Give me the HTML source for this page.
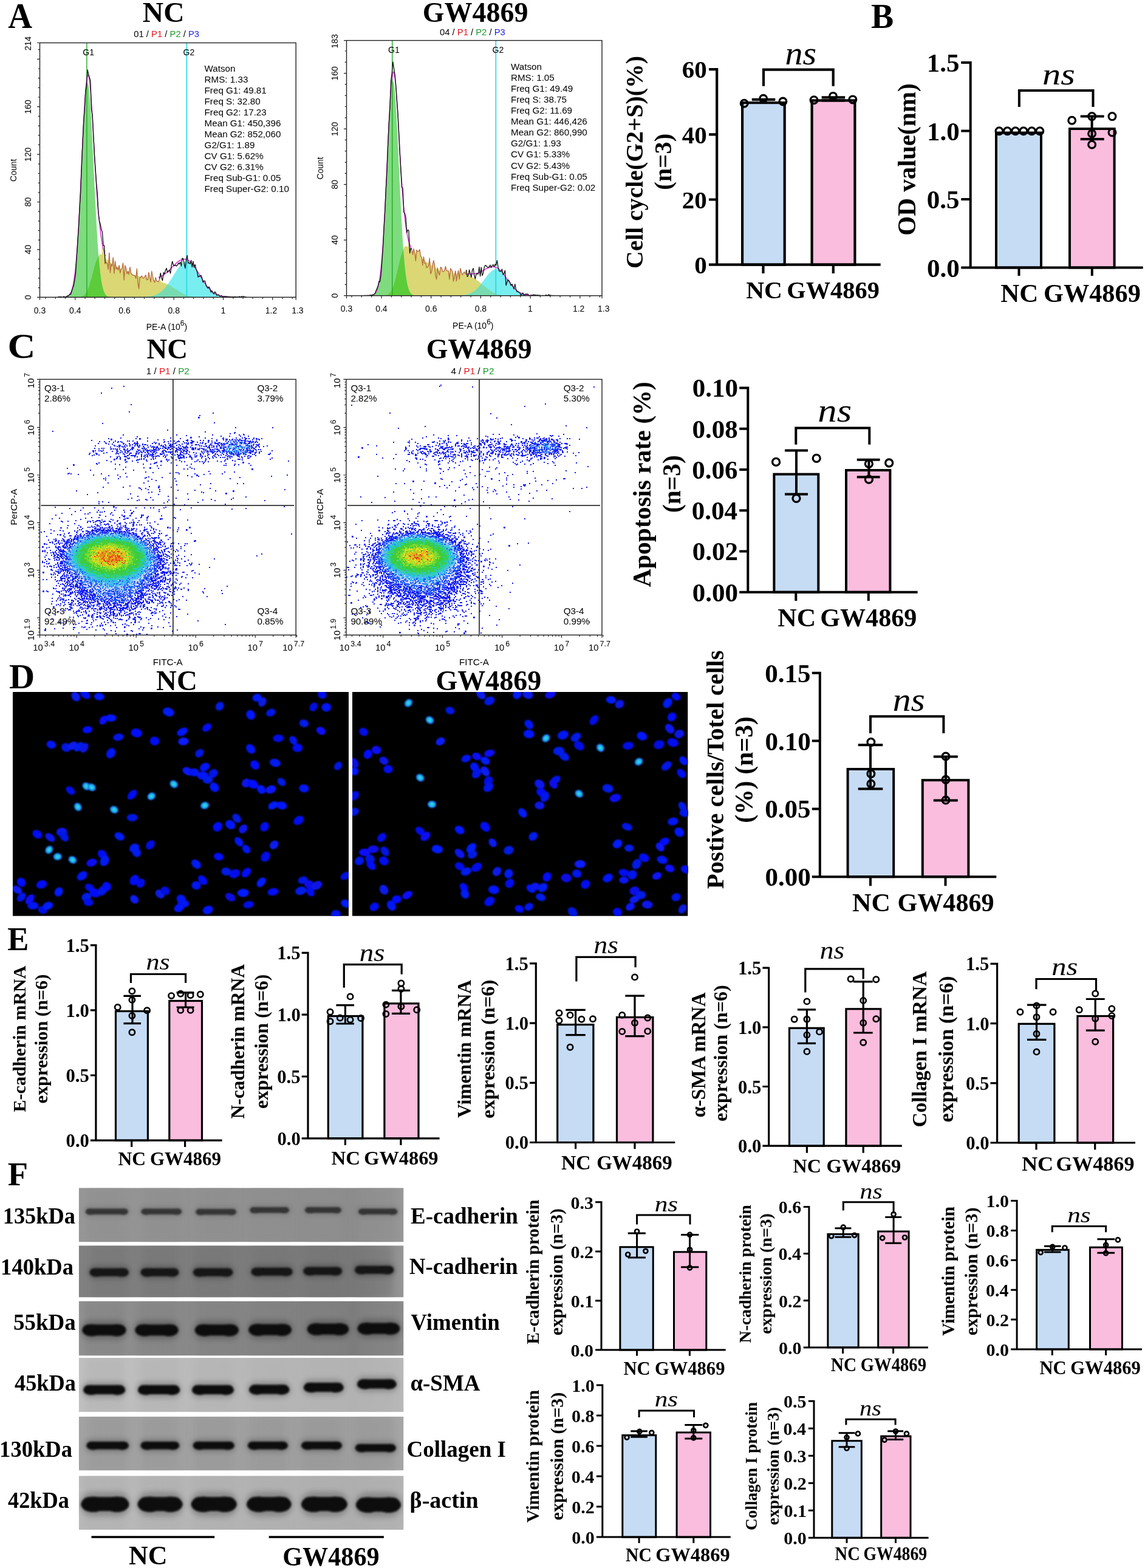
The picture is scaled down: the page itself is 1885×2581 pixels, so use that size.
<!DOCTYPE html>
<html><head><meta charset="utf-8"><title>Figure</title>
<style>html,body{margin:0;padding:0;background:#fff;overflow:hidden}svg{display:block}</style>
</head><body>
<svg width="1885" height="2581" viewBox="0 0 1885 2581">
<rect width="1885" height="2581" fill="#fff"/>
<text x="13.2" y="46.4" style='font-family:"Liberation Serif", serif;font-size:59px;font-weight:bold' textLength="39.8" lengthAdjust="spacingAndGlyphs">A</text>
<text x="1433.9" y="46" style='font-family:"Liberation Serif", serif;font-size:57px;font-weight:bold' textLength="37.2" lengthAdjust="spacingAndGlyphs">B</text>
<text x="12.5" y="588.8" style='font-family:"Liberation Serif", serif;font-size:56px;font-weight:bold' textLength="45.9" lengthAdjust="spacingAndGlyphs">C</text>
<text x="14.9" y="1132.7" style='font-family:"Liberation Serif", serif;font-size:56px;font-weight:bold' textLength="42.2" lengthAdjust="spacingAndGlyphs">D</text>
<text x="12.3" y="1563.7" style='font-family:"Liberation Serif", serif;font-size:54px;font-weight:bold' textLength="35.2" lengthAdjust="spacingAndGlyphs">E</text>
<text x="12.8" y="1950.8" style='font-family:"Liberation Serif", serif;font-size:54px;font-weight:bold' textLength="33.3" lengthAdjust="spacingAndGlyphs">F</text>
<text x="257.1" y="1135.5" style='font-family:"Liberation Serif", serif;font-size:46px;font-weight:bold' textLength="67.7" lengthAdjust="spacingAndGlyphs">NC</text>
<text x="717.5" y="1135.5" style='font-family:"Liberation Serif", serif;font-size:46px;font-weight:bold'>GW4869</text>
<clipPath id="hclip3"><rect x="65.5" y="70.5" width="421.7" height="418.8"/></clipPath>
<g clip-path="url(#hclip3)">
<path d="M83.1,489.3 L84.1,489.3 L85.2,489.3 L86.2,489.3 L87.2,489.3 L88.2,489.3 L89.2,489.3 L90.2,489.3 L91.2,489.3 L92.3,489.3 L93.3,489.3 L94.3,489.3 L95.3,489.3 L96.3,489.3 L97.3,489.3 L98.4,489.3 L99.4,489.3 L100.4,489.3 L101.4,489.3 L102.4,489.3 L103.4,489.3 L104.5,489.3 L105.5,489.3 L106.5,489.3 L107.5,489.3 L108.5,489.3 L109.5,489.3 L110.5,489.3 L111.6,489.3 L112.6,489.3 L113.6,489.3 L114.6,489.3 L115.6,489.3 L116.6,489.3 L117.7,489.3 L118.7,489.3 L119.7,489.3 L120.7,489.3 L121.7,489.3 L122.7,489.3 L123.8,489.3 L124.8,489.3 L125.8,489.3 L126.8,489.2 L127.8,489.2 L128.8,489.2 L129.8,489.1 L130.9,489 L131.9,488.9 L132.9,488.7 L133.9,488.4 L134.9,488.1 L135.9,487.6 L137,487.1 L138,486.4 L139,485.5 L140,484.4 L141,483.1 L142,481.5 L143,479.7 L144.1,477.5 L145.1,475.1 L146.1,472.4 L147.1,469.5 L148.1,466.3 L149.1,462.8 L150.2,459.2 L151.2,455.5 L152.2,451.7 L153.2,447.9 L154.2,444.1 L155.2,440.5 L156.2,437 L157.3,433.7 L158.3,430.6 L159.3,427.9 L160.3,425.4 L161.3,423.1 L162.3,421.2 L163.4,419.6 L164.4,418.2 L165.4,418.4 L166.4,418.9 L167.4,419.6 L168.4,400 L169.5,418.3 L170.5,415 L171.5,412.4 L172.5,410.4 L173.5,425.7 L174.5,426.5 L175.5,427.2 L176.6,428 L177.6,428.8 L178.6,429.6 L179.6,416.7 L180.6,416.5 L181.6,432 L182.7,432.8 L183.7,433.6 L184.7,434.4 L185.7,423.9 L186.7,423.8 L187.7,436.2 L188.8,436.8 L189.8,429.9 L190.8,437.9 L191.8,438.5 L192.8,439.1 L193.8,439.7 L194.8,440.3 L195.9,436.8 L196.9,436.8 L197.9,442.1 L198.9,442.7 L199.9,443.2 L200.9,441.6 L202,433.1 L203,433.1 L204,445.6 L205,446.2 L206,437 L207,441.2 L208,441.2 L209.1,447.7 L210.1,446.5 L211.1,446.5 L212.1,448.9 L213.1,449.3 L214.1,439.7 L215.2,449 L216.2,449 L217.2,450.9 L218.2,451.3 L219.2,451.7 L220.2,452.1 L221.2,452.5 L222.3,452.8 L223.3,453.2 L224.3,453.6 L225.3,442.3 L226.3,454.3 L227.3,454.6 L228.4,454.9 L229.4,455.2 L230.4,455.5 L231.4,455.8 L232.4,456.1 L233.4,454.3 L234.5,456.7 L235.5,457 L236.5,457.3 L237.5,457.5 L238.5,456 L239.5,453 L240.5,453 L241.6,458.7 L242.6,459 L243.6,459.3 L244.6,449.3 L245.6,449.4 L246.6,457.3 L247.7,460.3 L248.7,460.5 L249.7,448.3 L250.7,456.7 L251.7,457 L252.7,461.3 L253.7,461.5 L254.8,461.7 L255.8,460.3 L256.8,460.7 L257.8,462.4 L258.8,462.6 L259.8,462.8 L260.9,463.1 L261.9,463.3 L262.9,463.6 L263.9,457.4 L264.9,464.1 L265.9,464.4 L267,464.7 L268,465 L269,465.3 L270,465.7 L271,466 L272,466.4 L273,466.8 L274.1,467.2 L275.1,467.7 L276.1,468.1 L277.1,468.6 L278.1,469.1 L279.1,469.6 L280.2,470.2 L281.2,470.7 L282.2,471.3 L283.2,471.9 L284.2,472.6 L285.2,473.2 L286.2,473.9 L287.3,474.5 L288.3,475.2 L289.3,475.8 L290.3,476.5 L291.3,477.2 L292.3,477.8 L293.4,478.5 L294.4,479.2 L295.4,479.8 L296.4,480.5 L297.4,481.1 L298.4,481.7 L299.5,482.3 L300.5,482.9 L301.5,483.4 L302.5,483.9 L303.5,484.4 L304.5,484.9 L305.5,485.3 L306.6,485.7 L307.6,486.1 L308.6,486.4 L309.6,486.8 L310.6,487.1 L311.6,487.3 L312.7,487.5 L313.7,487.8 L314.7,487.9 L315.7,488.1 L316.7,488.3 L317.7,488.4 L318.7,488.5 L319.8,488.6 L320.8,488.7 L321.8,488.8 L322.8,488.9 L323.8,489 L324.8,489 L325.9,489.1 L326.9,489.1 L327.9,489.1 L328.9,489.2 L329.9,489.2 L330.9,489.2 L332,489.2 L333,489.2 L334,489.3 L335,489.3 L336,489.3 L337,489.3 L338,489.3 L339.1,489.3 L340.1,489.3 L341.1,489.3 L342.1,489.3 L343.1,489.3 L344.1,489.3 L345.2,489.3 L346.2,489.3 L347.2,489.3 L348.2,489.3 L349.2,489.3 L350.2,489.3 L351.2,489.3 L352.3,489.3 L353.3,489.3 L354.3,489.3 L355.3,489.3 L356.3,489.3 L357.3,489.3 L358.4,489.3 L359.4,489.3 L360.4,489.3 L361.4,489.3 L362.4,489.3 L363.4,489.3 L364.5,489.3 L365.5,489.3 L366.5,489.3 L367.5,489.3 L368.5,489.3 L369.5,489.3 L370.5,489.3 L371.6,489.3 L372.6,489.3 L373.6,489.3 L374.6,489.3 L375.6,489.3 L376.6,489.3 L377.7,489.3 L378.7,489.3 L379.7,489.3 L380.7,489.3 L381.7,489.3 L382.7,489.3 L383.8,489.3 L384.8,489.3 L385.8,489.3 L386.8,489.3 L387.8,489.3 L388.8,489.3 L389.8,489.3 L390.9,489.3 L391.9,489.3 L392.9,489.3 L393.9,489.3 L394.9,489.3 L395.9,489.3 L397,489.3 L398,489.3 L399,489.3 L400,489.3 L401,489.3 L402,489.3 L403,489.3 L404.1,489.3 L405.1,489.3 L406.1,489.3 L407.1,489.3 L408.1,489.3 L409.1,489.3 L410.2,489.3 L411.2,489.3 L412.2,489.3 L413.2,489.3 L414.2,489.3 L415.2,489.3 L415.2,489.3 L83.1,489.3 Z" fill="#dad774"/>
<path d="M83.1,489.3 L84.1,489.3 L85.2,489.3 L86.2,489.3 L87.2,489.3 L88.2,489.3 L89.2,489.3 L90.2,489.3 L91.2,489.3 L92.3,489.3 L93.3,489.3 L94.3,489.3 L95.3,489.3 L96.3,489.3 L97.3,489.3 L98.4,489.3 L99.4,489.3 L100.4,489.3 L101.4,489.3 L102.4,489.3 L103.4,489.3 L104.5,489.3 L105.5,489.3 L106.5,489.3 L107.5,489.3 L108.5,489.3 L109.5,489.3 L110.5,489.3 L111.6,489.3 L112.6,489.3 L113.6,489.3 L114.6,489.3 L115.6,489.3 L116.6,489.3 L117.7,489.3 L118.7,489.3 L119.7,489.3 L120.7,489.3 L121.7,489.3 L122.7,489.3 L123.8,489.3 L124.8,489.3 L125.8,489.3 L126.8,489.3 L127.8,489.3 L128.8,489.3 L129.8,489.3 L130.9,489.3 L131.9,489.3 L132.9,489.3 L133.9,489.3 L134.9,489.3 L135.9,489.3 L137,489.3 L138,489.3 L139,489.3 L140,489.3 L141,489.3 L142,489.3 L143,489.3 L144.1,489.3 L145.1,489.3 L146.1,489.3 L147.1,489.3 L148.1,489.3 L149.1,489.3 L150.2,489.3 L151.2,489.3 L152.2,489.3 L153.2,489.3 L154.2,489.3 L155.2,489.3 L156.2,489.3 L157.3,489.3 L158.3,489.3 L159.3,489.3 L160.3,489.3 L161.3,489.3 L162.3,489.3 L163.4,489.3 L164.4,489.3 L165.4,489.3 L166.4,489.3 L167.4,489.3 L168.4,489.3 L169.5,489.3 L170.5,489.3 L171.5,489.3 L172.5,489.3 L173.5,489.3 L174.5,489.3 L175.5,489.3 L176.6,489.3 L177.6,489.3 L178.6,489.3 L179.6,489.3 L180.6,489.3 L181.6,489.3 L182.7,489.3 L183.7,489.3 L184.7,489.3 L185.7,489.3 L186.7,489.3 L187.7,489.3 L188.8,489.3 L189.8,489.3 L190.8,489.3 L191.8,489.3 L192.8,489.3 L193.8,489.3 L194.8,489.3 L195.9,489.3 L196.9,489.3 L197.9,489.3 L198.9,489.3 L199.9,489.3 L200.9,489.3 L202,489.3 L203,489.3 L204,489.3 L205,489.3 L206,489.3 L207,489.3 L208,489.3 L209.1,489.3 L210.1,489.3 L211.1,489.3 L212.1,489.3 L213.1,489.3 L214.1,489.3 L215.2,489.3 L216.2,489.3 L217.2,489.3 L218.2,489.3 L219.2,489.3 L220.2,489.3 L221.2,489.3 L222.3,489.3 L223.3,489.3 L224.3,489.3 L225.3,489.2 L226.3,489.2 L227.3,489.2 L228.4,489.2 L229.4,489.2 L230.4,489.2 L231.4,489.2 L232.4,489.1 L233.4,489.1 L234.5,489.1 L235.5,489 L236.5,489 L237.5,488.9 L238.5,488.9 L239.5,488.8 L240.5,488.8 L241.6,488.7 L242.6,488.6 L243.6,488.5 L244.6,488.3 L245.6,488.2 L246.6,488.1 L247.7,487.9 L248.7,487.7 L249.7,487.5 L250.7,487.3 L251.7,487 L252.7,486.7 L253.7,486.4 L254.8,486.1 L255.8,485.7 L256.8,485.3 L257.8,484.8 L258.8,484.3 L259.8,483.8 L260.9,483.2 L261.9,482.6 L262.9,481.9 L263.9,481.2 L264.9,480.4 L265.9,479.6 L267,478.7 L268,477.7 L269,476.7 L270,475.7 L271,474.6 L272,473.4 L273,472.2 L274.1,470.9 L275.1,469.6 L276.1,468.2 L277.1,466.8 L278.1,465.3 L279.1,463.8 L280.2,462.2 L281.2,460.6 L282.2,459 L283.2,457.4 L284.2,455.8 L285.2,454.1 L286.2,452.4 L287.3,450.8 L288.3,449.2 L289.3,447.5 L290.3,445.9 L291.3,444.4 L292.3,442.9 L293.4,441.4 L294.4,440 L295.4,438.7 L296.4,437.5 L297.4,436.3 L298.4,435.2 L299.5,434.2 L300.5,433.4 L301.5,432.6 L302.5,431.9 L303.5,431.4 L304.5,431 L305.5,430.7 L306.6,430.5 L307.6,430.5 L308.6,430.6 L309.6,430.8 L310.6,431.1 L311.6,431.6 L312.7,432.2 L313.7,432.9 L314.7,433.7 L315.7,434.6 L316.7,435.6 L317.7,436.7 L318.7,437.9 L319.8,439.2 L320.8,440.6 L321.8,442 L322.8,443.5 L323.8,445 L324.8,446.6 L325.9,448.2 L326.9,449.8 L327.9,451.5 L328.9,453.1 L329.9,454.8 L330.9,456.4 L332,458.1 L333,459.7 L334,461.3 L335,462.8 L336,464.4 L337,465.9 L338,467.3 L339.1,468.7 L340.1,470.1 L341.1,471.4 L342.1,472.7 L343.1,473.9 L344.1,475 L345.2,476.1 L346.2,477.1 L347.2,478.1 L348.2,479 L349.2,479.9 L350.2,480.7 L351.2,481.5 L352.3,482.2 L353.3,482.8 L354.3,483.4 L355.3,484 L356.3,484.5 L357.3,485 L358.4,485.4 L359.4,485.8 L360.4,486.2 L361.4,486.5 L362.4,486.8 L363.4,487.1 L364.5,487.4 L365.5,487.6 L366.5,487.8 L367.5,488 L368.5,488.1 L369.5,488.3 L370.5,488.4 L371.6,488.5 L372.6,488.6 L373.6,488.7 L374.6,488.8 L375.6,488.9 L376.6,488.9 L377.7,489 L378.7,489 L379.7,489.1 L380.7,489.1 L381.7,489.1 L382.7,489.1 L383.8,489.2 L384.8,489.2 L385.8,489.2 L386.8,489.2 L387.8,489.2 L388.8,489.2 L389.8,489.3 L390.9,489.3 L391.9,489.3 L392.9,489.3 L393.9,489.3 L394.9,489.3 L395.9,489.3 L397,489.3 L398,489.3 L399,489.3 L400,489.3 L401,489.3 L402,489.3 L403,489.3 L404.1,489.3 L405.1,489.3 L406.1,489.3 L407.1,489.3 L408.1,489.3 L409.1,489.3 L410.2,489.3 L411.2,489.3 L412.2,489.3 L413.2,489.3 L414.2,489.3 L415.2,489.3 L415.2,489.3 L83.1,489.3 Z" fill="#78eef0"/>
<path d="M83.1,489.3 L84.1,489.3 L85.2,489.3 L86.2,489.3 L87.2,489.3 L88.2,489.3 L89.2,489.3 L90.2,489.3 L91.2,489.3 L92.3,489.3 L93.3,489.3 L94.3,489.3 L95.3,489.3 L96.3,489.3 L97.3,489.3 L98.4,489.3 L99.4,489.3 L100.4,489.3 L101.4,489.3 L102.4,489.3 L103.4,489.3 L104.5,489.3 L105.5,489.3 L106.5,489.3 L107.5,489.3 L108.5,489.3 L109.5,489.3 L110.5,489.3 L111.6,489.3 L112.6,489.3 L113.6,489.3 L114.6,489.3 L115.6,489.3 L116.6,489.3 L117.7,489.3 L118.7,489.3 L119.7,489.3 L120.7,489.3 L121.7,489.3 L122.7,489.3 L123.8,489.3 L124.8,489.3 L125.8,489.3 L126.8,489.3 L127.8,489.3 L128.8,489.3 L129.8,489.3 L130.9,489.3 L131.9,489.3 L132.9,489.3 L133.9,489.3 L134.9,489.3 L135.9,489.3 L137,489.3 L138,489.3 L139,489.3 L140,489.3 L141,489.3 L142,489.3 L143,489.3 L144.1,489.3 L145.1,489.3 L146.1,489.3 L147.1,489.3 L148.1,489.3 L149.1,489.3 L150.2,489.3 L151.2,489.3 L152.2,489.3 L153.2,489.3 L154.2,489.3 L155.2,489.3 L156.2,489.3 L157.3,489.3 L158.3,489.3 L159.3,489.3 L160.3,489.3 L161.3,489.3 L162.3,489.3 L163.4,489.3 L164.4,489.3 L165.4,489.3 L166.4,489.3 L167.4,489.3 L168.4,489.3 L169.5,489.3 L170.5,489.3 L171.5,489.3 L172.5,489.3 L173.5,489.3 L174.5,489.3 L175.5,489.3 L176.6,489.3 L177.6,489.3 L178.6,489.3 L179.6,489.3 L180.6,489.3 L181.6,489.3 L182.7,489.3 L183.7,489.3 L184.7,489.3 L185.7,489.3 L186.7,489.3 L187.7,489.3 L188.8,489.3 L189.8,489.3 L190.8,489.3 L191.8,489.3 L192.8,489.3 L193.8,489.3 L194.8,489.3 L195.9,489.3 L196.9,489.3 L197.9,489.3 L198.9,489.3 L199.9,489.3 L200.9,489.3 L202,489.3 L203,489.3 L204,489.3 L205,489.3 L206,489.3 L207,489.3 L208,489.3 L209.1,489.3 L210.1,489.3 L211.1,489.3 L212.1,489.3 L213.1,489.3 L214.1,489.3 L215.2,489.3 L216.2,489.3 L217.2,489.3 L218.2,489.3 L219.2,489.3 L220.2,489.3 L221.2,489.3 L222.3,489.3 L223.3,489.3 L224.3,489.3 L225.3,489.2 L226.3,489.2 L227.3,489.2 L228.4,489.2 L229.4,489.2 L230.4,489.2 L231.4,489.2 L232.4,489.1 L233.4,489.1 L234.5,489.1 L235.5,489 L236.5,489 L237.5,488.9 L238.5,488.9 L239.5,488.8 L240.5,488.8 L241.6,488.7 L242.6,488.6 L243.6,488.5 L244.6,488.3 L245.6,488.2 L246.6,488.1 L247.7,487.9 L248.7,487.7 L249.7,487.5 L250.7,487.3 L251.7,487 L252.7,486.7 L253.7,486.4 L254.8,486.1 L255.8,485.7 L256.8,485.3 L257.8,484.8 L258.8,484.3 L259.8,483.8 L260.9,483.2 L261.9,482.6 L262.9,481.9 L263.9,481.2 L264.9,480.4 L265.9,479.6 L267,478.7 L268,477.7 L269,476.7 L270,475.7 L271,474.6 L272,473.4 L273,472.2 L274.1,470.9 L275.1,469.6 L276.1,468.2 L277.1,468.6 L278.1,469.1 L279.1,469.6 L280.2,470.2 L281.2,470.7 L282.2,471.3 L283.2,471.9 L284.2,472.6 L285.2,473.2 L286.2,473.9 L287.3,474.5 L288.3,475.2 L289.3,475.8 L290.3,476.5 L291.3,477.2 L292.3,477.8 L293.4,478.5 L294.4,479.2 L295.4,479.8 L296.4,480.5 L297.4,481.1 L298.4,481.7 L299.5,482.3 L300.5,482.9 L301.5,483.4 L302.5,483.9 L303.5,484.4 L304.5,484.9 L305.5,485.3 L306.6,485.7 L307.6,486.1 L308.6,486.4 L309.6,486.8 L310.6,487.1 L311.6,487.3 L312.7,487.5 L313.7,487.8 L314.7,487.9 L315.7,488.1 L316.7,488.3 L317.7,488.4 L318.7,488.5 L319.8,488.6 L320.8,488.7 L321.8,488.8 L322.8,488.9 L323.8,489 L324.8,489 L325.9,489.1 L326.9,489.1 L327.9,489.1 L328.9,489.2 L329.9,489.2 L330.9,489.2 L332,489.2 L333,489.2 L334,489.3 L335,489.3 L336,489.3 L337,489.3 L338,489.3 L339.1,489.3 L340.1,489.3 L341.1,489.3 L342.1,489.3 L343.1,489.3 L344.1,489.3 L345.2,489.3 L346.2,489.3 L347.2,489.3 L348.2,489.3 L349.2,489.3 L350.2,489.3 L351.2,489.3 L352.3,489.3 L353.3,489.3 L354.3,489.3 L355.3,489.3 L356.3,489.3 L357.3,489.3 L358.4,489.3 L359.4,489.3 L360.4,489.3 L361.4,489.3 L362.4,489.3 L363.4,489.3 L364.5,489.3 L365.5,489.3 L366.5,489.3 L367.5,489.3 L368.5,489.3 L369.5,489.3 L370.5,489.3 L371.6,489.3 L372.6,489.3 L373.6,489.3 L374.6,489.3 L375.6,489.3 L376.6,489.3 L377.7,489.3 L378.7,489.3 L379.7,489.3 L380.7,489.3 L381.7,489.3 L382.7,489.3 L383.8,489.3 L384.8,489.3 L385.8,489.3 L386.8,489.3 L387.8,489.3 L388.8,489.3 L389.8,489.3 L390.9,489.3 L391.9,489.3 L392.9,489.3 L393.9,489.3 L394.9,489.3 L395.9,489.3 L397,489.3 L398,489.3 L399,489.3 L400,489.3 L401,489.3 L402,489.3 L403,489.3 L404.1,489.3 L405.1,489.3 L406.1,489.3 L407.1,489.3 L408.1,489.3 L409.1,489.3 L410.2,489.3 L411.2,489.3 L412.2,489.3 L413.2,489.3 L414.2,489.3 L415.2,489.3 L415.2,489.3 L83.1,489.3 Z" fill="#78dcb0"/>
<path d="M83.1,489.3 L84.1,489.3 L85.2,489.3 L86.2,489.3 L87.2,489.3 L88.2,489.3 L89.2,489.3 L90.2,489.3 L91.2,489.3 L92.3,489.3 L93.3,489.3 L94.3,489.3 L95.3,489.3 L96.3,489.3 L97.3,489.3 L98.4,489.3 L99.4,489.3 L100.4,489.3 L101.4,489.3 L102.4,489.2 L103.4,489.2 L104.5,489.2 L105.5,489.1 L106.5,489 L107.5,488.9 L108.5,488.7 L109.5,488.5 L110.5,488.1 L111.6,487.7 L112.6,487 L113.6,486.2 L114.6,485.1 L115.6,483.6 L116.6,481.7 L117.7,479.3 L118.7,476.2 L119.7,472.4 L120.7,467.7 L121.7,461.9 L122.7,455 L123.8,446.8 L124.8,437.1 L125.8,425.9 L126.8,413.1 L127.8,398.7 L128.8,382.7 L129.8,365.1 L130.9,346.1 L131.9,325.9 L132.9,304.8 L133.9,283.2 L134.9,261.4 L135.9,239.9 L137,219.1 L138,199.7 L139,182.2 L140,166.9 L141,154.4 L142,145 L143,139 L144.1,136.5 L145.1,137.8 L146.1,142.7 L147.1,151 L148.1,162.6 L149.1,177 L150.2,193.9 L151.2,212.8 L152.2,233.1 L153.2,254.4 L154.2,276.2 L155.2,297.9 L156.2,319.3 L157.3,339.8 L158.3,359.2 L159.3,377.2 L160.3,393.8 L161.3,408.7 L162.3,422 L163.4,433.7 L164.4,443.8 L165.4,452.5 L166.4,459.9 L167.4,466 L168.4,471 L169.5,475.1 L170.5,478.4 L171.5,481 L172.5,483.1 L173.5,484.7 L174.5,485.9 L175.5,486.8 L176.6,487.5 L177.6,488 L178.6,488.4 L179.6,488.7 L180.6,488.9 L181.6,489 L182.7,489.1 L183.7,489.2 L184.7,489.2 L185.7,489.2 L186.7,489.3 L187.7,489.3 L188.8,489.3 L189.8,489.3 L190.8,489.3 L191.8,489.3 L192.8,489.3 L193.8,489.3 L194.8,489.3 L195.9,489.3 L196.9,489.3 L197.9,489.3 L198.9,489.3 L199.9,489.3 L200.9,489.3 L202,489.3 L203,489.3 L204,489.3 L205,489.3 L206,489.3 L207,489.3 L208,489.3 L209.1,489.3 L210.1,489.3 L211.1,489.3 L212.1,489.3 L213.1,489.3 L214.1,489.3 L215.2,489.3 L216.2,489.3 L217.2,489.3 L218.2,489.3 L219.2,489.3 L220.2,489.3 L221.2,489.3 L222.3,489.3 L223.3,489.3 L224.3,489.3 L225.3,489.3 L226.3,489.3 L227.3,489.3 L228.4,489.3 L229.4,489.3 L230.4,489.3 L231.4,489.3 L232.4,489.3 L233.4,489.3 L234.5,489.3 L235.5,489.3 L236.5,489.3 L237.5,489.3 L238.5,489.3 L239.5,489.3 L240.5,489.3 L241.6,489.3 L242.6,489.3 L243.6,489.3 L244.6,489.3 L245.6,489.3 L246.6,489.3 L247.7,489.3 L248.7,489.3 L249.7,489.3 L250.7,489.3 L251.7,489.3 L252.7,489.3 L253.7,489.3 L254.8,489.3 L255.8,489.3 L256.8,489.3 L257.8,489.3 L258.8,489.3 L259.8,489.3 L260.9,489.3 L261.9,489.3 L262.9,489.3 L263.9,489.3 L264.9,489.3 L265.9,489.3 L267,489.3 L268,489.3 L269,489.3 L270,489.3 L271,489.3 L272,489.3 L273,489.3 L274.1,489.3 L275.1,489.3 L276.1,489.3 L277.1,489.3 L278.1,489.3 L279.1,489.3 L280.2,489.3 L281.2,489.3 L282.2,489.3 L283.2,489.3 L284.2,489.3 L285.2,489.3 L286.2,489.3 L287.3,489.3 L288.3,489.3 L289.3,489.3 L290.3,489.3 L291.3,489.3 L292.3,489.3 L293.4,489.3 L294.4,489.3 L295.4,489.3 L296.4,489.3 L297.4,489.3 L298.4,489.3 L299.5,489.3 L300.5,489.3 L301.5,489.3 L302.5,489.3 L303.5,489.3 L304.5,489.3 L305.5,489.3 L306.6,489.3 L307.6,489.3 L308.6,489.3 L309.6,489.3 L310.6,489.3 L311.6,489.3 L312.7,489.3 L313.7,489.3 L314.7,489.3 L315.7,489.3 L316.7,489.3 L317.7,489.3 L318.7,489.3 L319.8,489.3 L320.8,489.3 L321.8,489.3 L322.8,489.3 L323.8,489.3 L324.8,489.3 L325.9,489.3 L326.9,489.3 L327.9,489.3 L328.9,489.3 L329.9,489.3 L330.9,489.3 L332,489.3 L333,489.3 L334,489.3 L335,489.3 L336,489.3 L337,489.3 L338,489.3 L339.1,489.3 L340.1,489.3 L341.1,489.3 L342.1,489.3 L343.1,489.3 L344.1,489.3 L345.2,489.3 L346.2,489.3 L347.2,489.3 L348.2,489.3 L349.2,489.3 L350.2,489.3 L351.2,489.3 L352.3,489.3 L353.3,489.3 L354.3,489.3 L355.3,489.3 L356.3,489.3 L357.3,489.3 L358.4,489.3 L359.4,489.3 L360.4,489.3 L361.4,489.3 L362.4,489.3 L363.4,489.3 L364.5,489.3 L365.5,489.3 L366.5,489.3 L367.5,489.3 L368.5,489.3 L369.5,489.3 L370.5,489.3 L371.6,489.3 L372.6,489.3 L373.6,489.3 L374.6,489.3 L375.6,489.3 L376.6,489.3 L377.7,489.3 L378.7,489.3 L379.7,489.3 L380.7,489.3 L381.7,489.3 L382.7,489.3 L383.8,489.3 L384.8,489.3 L385.8,489.3 L386.8,489.3 L387.8,489.3 L388.8,489.3 L389.8,489.3 L390.9,489.3 L391.9,489.3 L392.9,489.3 L393.9,489.3 L394.9,489.3 L395.9,489.3 L397,489.3 L398,489.3 L399,489.3 L400,489.3 L401,489.3 L402,489.3 L403,489.3 L404.1,489.3 L405.1,489.3 L406.1,489.3 L407.1,489.3 L408.1,489.3 L409.1,489.3 L410.2,489.3 L411.2,489.3 L412.2,489.3 L413.2,489.3 L414.2,489.3 L415.2,489.3 L415.2,489.3 L83.1,489.3 Z" fill="#7edb7e"/>
<path d="M83.1,489.3 L84.1,489.3 L85.2,489.3 L86.2,489.3 L87.2,489.3 L88.2,489.3 L89.2,489.3 L90.2,489.3 L91.2,489.3 L92.3,489.3 L93.3,489.3 L94.3,489.3 L95.3,489.3 L96.3,489.3 L97.3,489.3 L98.4,489.3 L99.4,489.3 L100.4,489.3 L101.4,489.3 L102.4,489.3 L103.4,489.3 L104.5,489.3 L105.5,489.3 L106.5,489.3 L107.5,489.3 L108.5,489.3 L109.5,489.3 L110.5,489.3 L111.6,489.3 L112.6,489.3 L113.6,489.3 L114.6,489.3 L115.6,489.3 L116.6,489.3 L117.7,489.3 L118.7,489.3 L119.7,489.3 L120.7,489.3 L121.7,489.3 L122.7,489.3 L123.8,489.3 L124.8,489.3 L125.8,489.3 L126.8,489.2 L127.8,489.2 L128.8,489.2 L129.8,489.1 L130.9,489 L131.9,488.9 L132.9,488.7 L133.9,488.4 L134.9,488.1 L135.9,487.6 L137,487.1 L138,486.4 L139,485.5 L140,484.4 L141,483.1 L142,481.5 L143,479.7 L144.1,477.5 L145.1,475.1 L146.1,472.4 L147.1,469.5 L148.1,466.3 L149.1,462.8 L150.2,459.2 L151.2,455.5 L152.2,451.7 L153.2,447.9 L154.2,444.1 L155.2,440.5 L156.2,437 L157.3,433.7 L158.3,430.6 L159.3,427.9 L160.3,425.4 L161.3,423.1 L162.3,422 L163.4,433.7 L164.4,443.8 L165.4,452.5 L166.4,459.9 L167.4,466 L168.4,471 L169.5,475.1 L170.5,478.4 L171.5,481 L172.5,483.1 L173.5,484.7 L174.5,485.9 L175.5,486.8 L176.6,487.5 L177.6,488 L178.6,488.4 L179.6,488.7 L180.6,488.9 L181.6,489 L182.7,489.1 L183.7,489.2 L184.7,489.2 L185.7,489.2 L186.7,489.3 L187.7,489.3 L188.8,489.3 L189.8,489.3 L190.8,489.3 L191.8,489.3 L192.8,489.3 L193.8,489.3 L194.8,489.3 L195.9,489.3 L196.9,489.3 L197.9,489.3 L198.9,489.3 L199.9,489.3 L200.9,489.3 L202,489.3 L203,489.3 L204,489.3 L205,489.3 L206,489.3 L207,489.3 L208,489.3 L209.1,489.3 L210.1,489.3 L211.1,489.3 L212.1,489.3 L213.1,489.3 L214.1,489.3 L215.2,489.3 L216.2,489.3 L217.2,489.3 L218.2,489.3 L219.2,489.3 L220.2,489.3 L221.2,489.3 L222.3,489.3 L223.3,489.3 L224.3,489.3 L225.3,489.3 L226.3,489.3 L227.3,489.3 L228.4,489.3 L229.4,489.3 L230.4,489.3 L231.4,489.3 L232.4,489.3 L233.4,489.3 L234.5,489.3 L235.5,489.3 L236.5,489.3 L237.5,489.3 L238.5,489.3 L239.5,489.3 L240.5,489.3 L241.6,489.3 L242.6,489.3 L243.6,489.3 L244.6,489.3 L245.6,489.3 L246.6,489.3 L247.7,489.3 L248.7,489.3 L249.7,489.3 L250.7,489.3 L251.7,489.3 L252.7,489.3 L253.7,489.3 L254.8,489.3 L255.8,489.3 L256.8,489.3 L257.8,489.3 L258.8,489.3 L259.8,489.3 L260.9,489.3 L261.9,489.3 L262.9,489.3 L263.9,489.3 L264.9,489.3 L265.9,489.3 L267,489.3 L268,489.3 L269,489.3 L270,489.3 L271,489.3 L272,489.3 L273,489.3 L274.1,489.3 L275.1,489.3 L276.1,489.3 L277.1,489.3 L278.1,489.3 L279.1,489.3 L280.2,489.3 L281.2,489.3 L282.2,489.3 L283.2,489.3 L284.2,489.3 L285.2,489.3 L286.2,489.3 L287.3,489.3 L288.3,489.3 L289.3,489.3 L290.3,489.3 L291.3,489.3 L292.3,489.3 L293.4,489.3 L294.4,489.3 L295.4,489.3 L296.4,489.3 L297.4,489.3 L298.4,489.3 L299.5,489.3 L300.5,489.3 L301.5,489.3 L302.5,489.3 L303.5,489.3 L304.5,489.3 L305.5,489.3 L306.6,489.3 L307.6,489.3 L308.6,489.3 L309.6,489.3 L310.6,489.3 L311.6,489.3 L312.7,489.3 L313.7,489.3 L314.7,489.3 L315.7,489.3 L316.7,489.3 L317.7,489.3 L318.7,489.3 L319.8,489.3 L320.8,489.3 L321.8,489.3 L322.8,489.3 L323.8,489.3 L324.8,489.3 L325.9,489.3 L326.9,489.3 L327.9,489.3 L328.9,489.3 L329.9,489.3 L330.9,489.3 L332,489.3 L333,489.3 L334,489.3 L335,489.3 L336,489.3 L337,489.3 L338,489.3 L339.1,489.3 L340.1,489.3 L341.1,489.3 L342.1,489.3 L343.1,489.3 L344.1,489.3 L345.2,489.3 L346.2,489.3 L347.2,489.3 L348.2,489.3 L349.2,489.3 L350.2,489.3 L351.2,489.3 L352.3,489.3 L353.3,489.3 L354.3,489.3 L355.3,489.3 L356.3,489.3 L357.3,489.3 L358.4,489.3 L359.4,489.3 L360.4,489.3 L361.4,489.3 L362.4,489.3 L363.4,489.3 L364.5,489.3 L365.5,489.3 L366.5,489.3 L367.5,489.3 L368.5,489.3 L369.5,489.3 L370.5,489.3 L371.6,489.3 L372.6,489.3 L373.6,489.3 L374.6,489.3 L375.6,489.3 L376.6,489.3 L377.7,489.3 L378.7,489.3 L379.7,489.3 L380.7,489.3 L381.7,489.3 L382.7,489.3 L383.8,489.3 L384.8,489.3 L385.8,489.3 L386.8,489.3 L387.8,489.3 L388.8,489.3 L389.8,489.3 L390.9,489.3 L391.9,489.3 L392.9,489.3 L393.9,489.3 L394.9,489.3 L395.9,489.3 L397,489.3 L398,489.3 L399,489.3 L400,489.3 L401,489.3 L402,489.3 L403,489.3 L404.1,489.3 L405.1,489.3 L406.1,489.3 L407.1,489.3 L408.1,489.3 L409.1,489.3 L410.2,489.3 L411.2,489.3 L412.2,489.3 L413.2,489.3 L414.2,489.3 L415.2,489.3 L415.2,489.3 L83.1,489.3 Z" fill="#5ccc3a"/>
<path d="M142.9 70.5V489.3" stroke="#22aa22" stroke-width="1.4"/>
<path d="M307.4 70.5V489.3" stroke="#22d8e0" stroke-width="1.6"/>
<path d="M108.5,488.7 L109.5,488.5 L110.5,488.1 L111.6,487.7 L112.6,487 L113.6,486.2 L114.6,485.1 L115.6,483.6 L116.6,481.7 L117.7,479.3 L118.7,476.2 L119.7,472.4 L120.7,467.7 L121.7,461.9 L122.7,455 L123.8,446.8 L124.8,437.1 L125.8,425.9 L126.8,413.1 L127.8,398.6 L128.8,382.5 L129.8,364.9 L130.9,345.8 L131.9,325.5 L132.9,304.2 L133.9,282.3 L134.9,260.1 L135.9,238.2 L137,216.9 L138,196.8 L139,178.3 L140,162 L141,148.1 L142,137.2 L143,129.3 L144.1,124.8 L145.1,123.6 L146.1,125.8 L147.1,131.2 L148.1,139.5 L149.1,150.5 L150.2,163.8 L151.2,179 L152.2,195.5 L153.2,213 L154.2,231 L155.2,249.1 L156.2,266.9 L157.3,284.2 L158.3,300.5 L159.3,315.8 L160.3,329.8 L161.3,342.5 L162.3,353.9 L163.4,364 L164.4,372.7 L165.4,381.6 L166.4,389.4 L167.4,396.2 L168.4,402.1 L169.5,407.2 L170.5,411.6 L171.5,415.5 L172.5,418.8 L173.5,421.1" fill="none" stroke="#dd22dd" stroke-width="1.4"/>
<path d="M260.9,457 L261.9,456.6 L262.9,456.2 L263.9,455.7 L264.9,455.2 L265.9,454.7 L267,454.1 L268,453.4 L269,452.8 L270,452 L271,451.3 L272,450.5 L273,449.7 L274.1,448.8 L275.1,447.9 L276.1,447 L277.1,446.1 L278.1,445.1 L279.1,444.1 L280.2,443.1 L281.2,442.1 L282.2,441.1 L283.2,440 L284.2,439 L285.2,438 L286.2,437 L287.3,436 L288.3,435 L289.3,434.1 L290.3,433.1 L291.3,432.3 L292.3,431.4 L293.4,430.6 L294.4,429.9 L295.4,429.2 L296.4,428.6 L297.4,428.1 L298.4,427.6 L299.5,427.2 L300.5,426.9 L301.5,426.7 L302.5,426.6 L303.5,426.5 L304.5,426.6 L305.5,426.7 L306.6,427 L307.6,427.3 L308.6,427.7 L309.6,428.3 L310.6,428.9 L311.6,429.6 L312.7,430.4 L313.7,431.3 L314.7,432.4 L315.7,433.4 L316.7,434.6 L317.7,435.9 L318.7,437.2 L319.8,438.6 L320.8,440 L321.8,441.5 L322.8,443.1 L323.8,444.7 L324.8,446.3 L325.9,447.9 L326.9,449.6 L327.9,451.3 L328.9,453 L329.9,454.7 L330.9,456.3 L332,458 L333,459.6 L334,461.2 L335,462.8 L336,464.4 L337,465.9 L338,467.3 L339.1,468.7 L340.1,470.1 L341.1,471.4 L342.1,472.7 L343.1,473.9 L344.1,475 L345.2,476.1 L346.2,477.1 L347.2,478.1 L348.2,479 L349.2,479.9 L350.2,480.7 L351.2,481.5 L352.3,482.2 L353.3,482.8 L354.3,483.4 L355.3,484 L356.3,484.5 L357.3,485 L358.4,485.4 L359.4,485.8 L360.4,486.2 L361.4,486.5 L362.4,486.8 L363.4,487.1 L364.5,487.4 L365.5,487.6 L366.5,487.8 L367.5,488 L368.5,488.1 L369.5,488.3 L370.5,488.4 L371.6,488.5 L372.6,488.6 L373.6,488.7 L374.6,488.8 L375.6,488.9 L376.6,488.9 L377.7,489 L378.7,489 L379.7,489.1 L380.7,489.1 L381.7,489.1 L382.7,489.1 L383.8,489.2 L384.8,489.2 L385.8,489.2 L386.8,489.2" fill="none" stroke="#dd22dd" stroke-width="1.4"/>
<path d="M95.3,489.2 L96.9,488.6 L98.6,488.7 L100.2,488.7 L101.8,489.1 L103.4,489.1 L105.1,488 L106.7,488.9 L108.3,488.7 L109.9,487.9 L111.6,486.8 L113.2,486.5 L114.8,484.1 L116.4,484.5 L118.1,479.2 L119.7,474 L121.3,470 L122.9,461 L124.6,448.7 L126.2,422.6 L127.8,399.9 L129.4,374.9 L131.1,341.5 L132.7,315 L134.3,273.9 L135.9,236.8 L137.6,200.1 L139.2,179.8 L140.8,151.2 L142.4,140.7 L144.1,114.8 L145.7,122.2 L147.3,127.6 L148.9,132.9 L150.6,181 L152.2,190 L153.8,221.8 L155.4,254.4 L157.1,278.4 L158.7,301 L160.3,318.8 L161.9,349.5 L163.6,363.6 L165.2,368.8 L166.8,377.8 L168.4,381.7 L170.1,404.1 L171.7,404.1 L173.3,434.3" fill="none" stroke="#111" stroke-width="1.3" stroke-linejoin="round"/>
<path d="M173.3,434.3 L174.9,431.9 L176.6,433.3 L178.2,443.6 L179.8,416.1 L181.4,448.8 L183.1,435 L184.7,438 L186.3,423.8 L187.9,450 L189.6,429.9 L191.2,443.1 L192.8,440.2 L194.4,444.5 L196.1,436.8 L197.7,449.4 L199.3,443.4 L200.9,441.6 L202.6,433.1 L204.2,460.9 L205.8,437 L207.4,441.2 L209.1,450.7 L210.7,446.5 L212.3,451.8 L213.9,439.7 L215.6,449 L217.2,452.2 L218.8,452.8 L220.4,453.3 L222.1,453.8 L223.7,458.4 L225.3,442.2 L226.9,465.3 L228.6,475.2 L230.2,456 L231.8,456.6 L233.4,454.1 L235.1,457.7 L236.7,457.8 L238.3,455.6 L239.9,452.5 L241.6,460.5 L243.2,460.4 L244.8,448.3 L246.4,456 L248.1,464.2 L249.7,446.5 L251.3,454.7 L252.9,461.9 L254.6,464.8 L256.2,456.6 L257.8,462.4 L259.4,463.2 L261.1,464 L262.7,459.1" fill="none" stroke="#b86a40" stroke-width="1.3" stroke-linejoin="round"/>
<path d="M262.7,459.1 L264.3,449.3 L265.9,457.1 L267.6,462 L269.2,448.7 L270.8,451.1 L272.4,445.1 L274.1,441.5 L275.7,448.4 L277.3,446.8 L278.9,444.6 L280.6,450.1 L282.2,436.6 L283.8,430.2 L285.4,436.6 L287.1,437.6 L288.7,436.2 L290.3,438 L291.9,436.8 L293.6,433 L295.2,434.7 L296.8,431.2 L298.4,437.8 L300.1,424.8 L301.7,426.3 L303.3,434 L304.9,441.5 L306.6,427 L308.2,420.4 L309.8,433.1 L311.4,432.5 L313.1,434.4 L314.7,428.3 L316.3,439.7 L317.9,430.2 L319.6,440.1 L321.2,435.3 L322.8,442.9 L324.4,446.9 L326.1,456.1 L327.7,454.5 L329.3,454.9 L330.9,453.1 L332.6,457.8 L334.2,464.6 L335.8,462.3 L337.4,462.4 L339.1,469.3 L340.7,472.5 L342.3,474.3 L343.9,472.1 L345.6,474.8 L347.2,480.9 L348.8,478.5 L350.4,482.1 L352.1,483.9 L353.7,480.2 L355.3,482.2 L356.9,486.3 L358.6,485.4 L360.2,485.2 L361.8,487.7 L363.4,487.3 L365.1,486.5 L366.7,489.3 L368.3,487.9 L369.9,487.8 L371.6,488.2 L373.2,487.9 L374.8,488.6 L376.4,488.4 L378.1,488.6 L379.7,488.7 L381.3,489 L382.9,488.7 L384.6,488.8 L386.2,488.7 L387.8,488.7 L389.4,489 L391.1,489 L392.7,489.1 L394.3,487.9 L395.9,489.2 L397.6,488 L399.2,488.1 L400.8,488 L402.4,488.7 L404.1,488.9 L405.7,489.1" fill="none" stroke="#111" stroke-width="1.3" stroke-linejoin="round"/>
</g>
<rect x="65.5" y="70.5" width="421.7" height="418.8" fill="none" stroke="#222" stroke-width="1.4"/>
<path d="M61 489.3H65.5M62.7 473.6H65.5M62.7 457.9H65.5M62.7 442.3H65.5M62.7 426.6H65.5M61 410.9H65.5M62.7 395.2H65.5M62.7 379.5H65.5M62.7 363.9H65.5M62.7 348.2H65.5M61 332.5H65.5M62.7 316.8H65.5M62.7 301.1H65.5M62.7 285.5H65.5M62.7 269.8H65.5M61 254.1H65.5M62.7 238.4H65.5M62.7 222.7H65.5M62.7 207.1H65.5M62.7 191.4H65.5M61 175.7H65.5M62.7 160H65.5M62.7 144.3H65.5M62.7 128.7H65.5M62.7 113H65.5M61 97.3H65.5M62.7 81.6H65.5M61 70.5H65.5M75 489.3V492.1M91.2 489.3V492.1M107.5 489.3V492.1M123.8 489.3V493.8M140 489.3V492.1M156.2 489.3V492.1M172.5 489.3V492.1M188.8 489.3V492.1M205 489.3V493.8M221.2 489.3V492.1M237.5 489.3V492.1M253.8 489.3V492.1M270 489.3V492.1M286.2 489.3V493.8M302.5 489.3V492.1M318.8 489.3V492.1M335 489.3V492.1M351.2 489.3V492.1M367.5 489.3V493.8M383.8 489.3V492.1M400 489.3V492.1M416.2 489.3V492.1M432.5 489.3V492.1M448.8 489.3V493.8M465 489.3V492.1M481.2 489.3V492.1M65.5 489.3V493.8M487.2 489.3V493.8" stroke="#222" stroke-width="1.2" fill="none"/>
<text transform="translate(51.3 493.2) rotate(-90)" style='font-family:"Liberation Sans", sans-serif;font-size:14px'>0</text>
<text transform="translate(51.3 418.6) rotate(-90)" style='font-family:"Liberation Sans", sans-serif;font-size:14px'>40</text>
<text transform="translate(51.3 340.3) rotate(-90)" style='font-family:"Liberation Sans", sans-serif;font-size:14px'>80</text>
<text transform="translate(51.3 266) rotate(-90)" style='font-family:"Liberation Sans", sans-serif;font-size:14px'>120</text>
<text transform="translate(51.3 187.6) rotate(-90)" style='font-family:"Liberation Sans", sans-serif;font-size:14px'>160</text>
<text transform="translate(51.4 83.3) rotate(-90)" style='font-family:"Liberation Sans", sans-serif;font-size:14px'>214</text>
<text x="55.8" y="515.8" style='font-family:"Liberation Sans", sans-serif;font-size:14px'>0.3</text>
<text x="114" y="515.8" style='font-family:"Liberation Sans", sans-serif;font-size:14px'>0.4</text>
<text x="195.3" y="515.8" style='font-family:"Liberation Sans", sans-serif;font-size:14px'>0.6</text>
<text x="276.5" y="515.8" style='font-family:"Liberation Sans", sans-serif;font-size:14px'>0.8</text>
<text x="363.4" y="515.8" style='font-family:"Liberation Sans", sans-serif;font-size:14px'>1</text>
<text x="436.8" y="515.8" style='font-family:"Liberation Sans", sans-serif;font-size:14px'>1.2</text>
<text x="480.2" y="515.8" style='font-family:"Liberation Sans", sans-serif;font-size:14px'>1.3</text>
<text transform="translate(26.8 298.9) rotate(-90)" style='font-family:"Liberation Sans", sans-serif;font-size:14px'>Count</text>
<text x="274.4" y="543.3" style='font-family:"Liberation Sans",sans-serif;font-size:14px' text-anchor="middle">PE-A  (10<tspan dy="-7" font-size="12">6</tspan><tspan dy="7">)</tspan></text>
<text x="136.3" y="90.5" style='font-family:"Liberation Sans", sans-serif;font-size:14px'>G1</text>
<text x="301.5" y="90.5" style='font-family:"Liberation Sans", sans-serif;font-size:14px'>G2</text>
<text x="336.6" y="117.5" style='font-family:"Liberation Sans",sans-serif;font-size:15.2px'>Watson</text>
<text x="336.6" y="135.6" style='font-family:"Liberation Sans",sans-serif;font-size:15.2px'>RMS: 1.33</text>
<text x="336.6" y="153.6" style='font-family:"Liberation Sans",sans-serif;font-size:15.2px'>Freq G1: 49.81</text>
<text x="336.6" y="171.7" style='font-family:"Liberation Sans",sans-serif;font-size:15.2px'>Freq S: 32.80</text>
<text x="336.6" y="189.7" style='font-family:"Liberation Sans",sans-serif;font-size:15.2px'>Freq G2: 17.23</text>
<text x="336.6" y="207.8" style='font-family:"Liberation Sans",sans-serif;font-size:15.2px'>Mean G1: 450,396</text>
<text x="336.6" y="225.8" style='font-family:"Liberation Sans",sans-serif;font-size:15.2px'>Mean G2: 852,060</text>
<text x="336.6" y="243.9" style='font-family:"Liberation Sans",sans-serif;font-size:15.2px'>G2/G1: 1.89</text>
<text x="336.6" y="261.9" style='font-family:"Liberation Sans",sans-serif;font-size:15.2px'>CV G1: 5.62%</text>
<text x="336.6" y="280" style='font-family:"Liberation Sans",sans-serif;font-size:15.2px'>CV G2: 6.31%</text>
<text x="336.6" y="298" style='font-family:"Liberation Sans",sans-serif;font-size:15.2px'>Freq Sub-G1: 0.05</text>
<text x="336.6" y="316.1" style='font-family:"Liberation Sans",sans-serif;font-size:15.2px'>Freq Super-G2: 0.10</text>
<text x="234.8" y="35.8" style='font-family:"Liberation Serif", serif;font-size:46px;font-weight:bold' textLength="68.7" lengthAdjust="spacingAndGlyphs">NC</text>
<text x="220.3" y="61.2" style='font-family:"Liberation Sans",sans-serif;font-size:14.8px'>01 / <tspan fill="#e8141e">P1</tspan> / <tspan fill="#1a9a2a">P2</tspan> / <tspan fill="#1e1ee8">P3</tspan></text>
<clipPath id="hclip7"><rect x="570.5" y="66.6" width="420.5" height="420.1"/></clipPath>
<g clip-path="url(#hclip7)">
<path d="M587.1,486.7 L588.2,486.7 L589.2,486.7 L590.2,486.7 L591.2,486.7 L592.3,486.7 L593.3,486.7 L594.3,486.7 L595.3,486.7 L596.3,486.7 L597.4,486.7 L598.4,486.7 L599.4,486.7 L600.4,486.7 L601.4,486.7 L602.5,486.7 L603.5,486.7 L604.5,486.7 L605.5,486.7 L606.6,486.7 L607.6,486.7 L608.6,486.7 L609.6,486.7 L610.6,486.7 L611.7,486.7 L612.7,486.7 L613.7,486.7 L614.7,486.7 L615.7,486.7 L616.8,486.7 L617.8,486.7 L618.8,486.7 L619.8,486.7 L620.9,486.7 L621.9,486.7 L622.9,486.7 L623.9,486.7 L624.9,486.7 L626,486.7 L627,486.7 L628,486.7 L629,486.6 L630,486.6 L631.1,486.6 L632.1,486.5 L633.1,486.4 L634.1,486.2 L635.1,486.1 L636.2,485.8 L637.2,485.4 L638.2,485 L639.2,484.4 L640.3,483.6 L641.3,482.7 L642.3,481.5 L643.3,480.1 L644.3,478.4 L645.4,476.4 L646.4,474.1 L647.4,471.4 L648.4,468.4 L649.4,465.1 L650.5,461.5 L651.5,457.6 L652.5,453.5 L653.5,449.2 L654.6,444.8 L655.6,440.4 L656.6,436 L657.6,431.7 L658.6,427.5 L659.7,423.6 L660.7,420 L661.7,416.6 L662.7,413.6 L663.7,410.9 L664.8,408.5 L665.8,406.4 L666.8,405.6 L667.8,405.3 L668.9,405.3 L669.9,405.6 L670.9,406 L671.9,406.7 L672.9,389.3 L674,408.3 L675,409.3 L676,410.4 L677,411.5 L678,412.2 L679.1,413 L680.1,413.8 L681.1,410.3 L682.1,415.4 L683.1,416.2 L684.2,417.1 L685.2,417.9 L686.2,411.6 L687.2,414.3 L688.3,414.3 L689.3,413.4 L690.3,410.8 L691.3,410.8 L692.3,421 L693.4,421 L694.4,424.3 L695.4,426.1 L696.4,426.8 L697.4,422.7 L698.5,428.3 L699.5,429 L700.5,429.8 L701.5,430.5 L702.6,431.2 L703.6,432 L704.6,432.7 L705.6,433.4 L706.6,425 L707.7,425 L708.7,435.6 L709.7,436.4 L710.7,437 L711.7,436.2 L712.8,436.2 L713.8,428.7 L714.8,436 L715.8,436 L716.8,441 L717.9,441.7 L718.9,442.4 L719.9,440.8 L720.9,440.8 L722,444.3 L723,445 L724,445.7 L725,440 L726,440 L727.1,440.4 L728.1,447 L729.1,447 L730.1,446.6 L731.1,445.7 L732.2,445.7 L733.2,438.5 L734.2,438.5 L735.2,445 L736.3,445.9 L737.3,445.9 L738.3,445.9 L739.3,449.6 L740.3,449.7 L741.4,441.8 L742.4,441.8 L743.4,444.1 L744.4,447.1 L745.4,447.1 L746.5,450.6 L747.5,450.8 L748.5,450.9 L749.5,445.9 L750.5,445.9 L751.6,451.3 L752.6,451.5 L753.6,451.6 L754.6,445.3 L755.7,451.8 L756.7,451.9 L757.7,442 L758.7,442.1 L759.7,448.8 L760.8,452.3 L761.8,452.4 L762.8,450.5 L763.8,448.6 L764.8,448.8 L765.9,452.2 L766.9,452.4 L767.9,446.1 L768.9,453.3 L770,453.5 L771,453.6 L772,453.8 L773,454.1 L774,454.6 L775.1,455.1 L776.1,455.7 L777.1,456.2 L778.1,456.8 L779.1,457.4 L780.2,458 L781.2,458.6 L782.2,459.2 L783.2,459.9 L784.3,460.6 L785.3,461.3 L786.3,462.1 L787.3,462.8 L788.3,463.6 L789.4,464.4 L790.4,465.3 L791.4,466.1 L792.4,466.9 L793.4,467.6 L794.5,468.4 L795.5,469.2 L796.5,470 L797.5,470.9 L798.5,471.7 L799.6,472.5 L800.6,473.4 L801.6,474.2 L802.6,475 L803.7,475.8 L804.7,476.6 L805.7,477.4 L806.7,478.1 L807.7,478.9 L808.8,479.5 L809.8,480.2 L810.8,480.8 L811.8,481.4 L812.8,482 L813.9,482.5 L814.9,482.9 L815.9,483.4 L816.9,483.7 L818,484.1 L819,484.4 L820,484.6 L821,484.9 L822,485.1 L823.1,485.3 L824.1,485.5 L825.1,485.7 L826.1,485.8 L827.1,486 L828.2,486.1 L829.2,486.2 L830.2,486.3 L831.2,486.3 L832.2,486.4 L833.3,486.4 L834.3,486.5 L835.3,486.5 L836.3,486.6 L837.4,486.6 L838.4,486.6 L839.4,486.6 L840.4,486.6 L841.4,486.7 L842.5,486.7 L843.5,486.7 L844.5,486.7 L845.5,486.7 L846.5,486.7 L847.6,486.7 L848.6,486.7 L849.6,486.7 L850.6,486.7 L851.7,486.7 L852.7,486.7 L853.7,486.7 L854.7,486.7 L855.7,486.7 L856.8,486.7 L857.8,486.7 L858.8,486.7 L859.8,486.7 L860.8,486.7 L861.9,486.7 L862.9,486.7 L863.9,486.7 L864.9,486.7 L866,486.7 L867,486.7 L868,486.7 L869,486.7 L870,486.7 L871.1,486.7 L872.1,486.7 L873.1,486.7 L874.1,486.7 L875.1,486.7 L876.2,486.7 L877.2,486.7 L878.2,486.7 L879.2,486.7 L880.2,486.7 L881.3,486.7 L882.3,486.7 L883.3,486.7 L884.3,486.7 L885.4,486.7 L886.4,486.7 L887.4,486.7 L888.4,486.7 L889.4,486.7 L890.5,486.7 L891.5,486.7 L892.5,486.7 L893.5,486.7 L894.5,486.7 L895.6,486.7 L896.6,486.7 L897.6,486.7 L898.6,486.7 L899.7,486.7 L900.7,486.7 L901.7,486.7 L902.7,486.7 L903.7,486.7 L904.8,486.7 L905.8,486.7 L906.8,486.7 L907.8,486.7 L908.8,486.7 L909.9,486.7 L910.9,486.7 L911.9,486.7 L912.9,486.7 L914,486.7 L915,486.7 L916,486.7 L917,486.7 L918,486.7 L919.1,486.7 L920.1,486.7 L921.1,486.7 L921.1,486.7 L587.1,486.7 Z" fill="#dad774"/>
<path d="M587.1,486.7 L588.2,486.7 L589.2,486.7 L590.2,486.7 L591.2,486.7 L592.3,486.7 L593.3,486.7 L594.3,486.7 L595.3,486.7 L596.3,486.7 L597.4,486.7 L598.4,486.7 L599.4,486.7 L600.4,486.7 L601.4,486.7 L602.5,486.7 L603.5,486.7 L604.5,486.7 L605.5,486.7 L606.6,486.7 L607.6,486.7 L608.6,486.7 L609.6,486.7 L610.6,486.7 L611.7,486.7 L612.7,486.7 L613.7,486.7 L614.7,486.7 L615.7,486.7 L616.8,486.7 L617.8,486.7 L618.8,486.7 L619.8,486.7 L620.9,486.7 L621.9,486.7 L622.9,486.7 L623.9,486.7 L624.9,486.7 L626,486.7 L627,486.7 L628,486.7 L629,486.7 L630,486.7 L631.1,486.7 L632.1,486.7 L633.1,486.7 L634.1,486.7 L635.1,486.7 L636.2,486.7 L637.2,486.7 L638.2,486.7 L639.2,486.7 L640.3,486.7 L641.3,486.7 L642.3,486.7 L643.3,486.7 L644.3,486.7 L645.4,486.7 L646.4,486.7 L647.4,486.7 L648.4,486.7 L649.4,486.7 L650.5,486.7 L651.5,486.7 L652.5,486.7 L653.5,486.7 L654.6,486.7 L655.6,486.7 L656.6,486.7 L657.6,486.7 L658.6,486.7 L659.7,486.7 L660.7,486.7 L661.7,486.7 L662.7,486.7 L663.7,486.7 L664.8,486.7 L665.8,486.7 L666.8,486.7 L667.8,486.7 L668.9,486.7 L669.9,486.7 L670.9,486.7 L671.9,486.7 L672.9,486.7 L674,486.7 L675,486.7 L676,486.7 L677,486.7 L678,486.7 L679.1,486.7 L680.1,486.7 L681.1,486.7 L682.1,486.7 L683.1,486.7 L684.2,486.7 L685.2,486.7 L686.2,486.7 L687.2,486.7 L688.3,486.7 L689.3,486.7 L690.3,486.7 L691.3,486.7 L692.3,486.7 L693.4,486.7 L694.4,486.7 L695.4,486.7 L696.4,486.7 L697.4,486.7 L698.5,486.7 L699.5,486.7 L700.5,486.7 L701.5,486.7 L702.6,486.7 L703.6,486.7 L704.6,486.7 L705.6,486.7 L706.6,486.7 L707.7,486.7 L708.7,486.7 L709.7,486.7 L710.7,486.7 L711.7,486.7 L712.8,486.7 L713.8,486.7 L714.8,486.7 L715.8,486.7 L716.8,486.7 L717.9,486.7 L718.9,486.7 L719.9,486.7 L720.9,486.7 L722,486.7 L723,486.7 L724,486.7 L725,486.7 L726,486.7 L727.1,486.7 L728.1,486.7 L729.1,486.7 L730.1,486.7 L731.1,486.7 L732.2,486.7 L733.2,486.7 L734.2,486.7 L735.2,486.7 L736.3,486.7 L737.3,486.7 L738.3,486.7 L739.3,486.7 L740.3,486.7 L741.4,486.7 L742.4,486.7 L743.4,486.7 L744.4,486.7 L745.4,486.7 L746.5,486.6 L747.5,486.6 L748.5,486.6 L749.5,486.6 L750.5,486.6 L751.6,486.6 L752.6,486.5 L753.6,486.5 L754.6,486.5 L755.7,486.4 L756.7,486.4 L757.7,486.3 L758.7,486.2 L759.7,486.2 L760.8,486.1 L761.8,486 L762.8,485.8 L763.8,485.7 L764.8,485.6 L765.9,485.4 L766.9,485.2 L767.9,485 L768.9,484.7 L770,484.4 L771,484.1 L772,483.8 L773,483.4 L774,483 L775.1,482.5 L776.1,482 L777.1,481.4 L778.1,480.8 L779.1,480.2 L780.2,479.5 L781.2,478.7 L782.2,477.9 L783.2,477 L784.3,476.1 L785.3,475.1 L786.3,474.1 L787.3,473 L788.3,471.9 L789.4,470.7 L790.4,469.5 L791.4,468.2 L792.4,466.9 L793.4,465.5 L794.5,464.1 L795.5,462.8 L796.5,461.3 L797.5,459.9 L798.5,458.5 L799.6,457.1 L800.6,455.8 L801.6,454.4 L802.6,453.1 L803.7,451.8 L804.7,450.6 L805.7,449.5 L806.7,448.4 L807.7,447.4 L808.8,446.5 L809.8,445.7 L810.8,445 L811.8,444.4 L812.8,443.9 L813.9,443.6 L814.9,443.3 L815.9,443.2 L816.9,443.3 L818,443.4 L819,443.6 L820,444 L821,444.5 L822,445.1 L823.1,445.9 L824.1,446.7 L825.1,447.6 L826.1,448.6 L827.1,449.7 L828.2,450.9 L829.2,452.1 L830.2,453.3 L831.2,454.7 L832.2,456 L833.3,457.4 L834.3,458.8 L835.3,460.2 L836.3,461.6 L837.4,463 L838.4,464.4 L839.4,465.8 L840.4,467.1 L841.4,468.4 L842.5,469.7 L843.5,470.9 L844.5,472.1 L845.5,473.2 L846.5,474.3 L847.6,475.3 L848.6,476.3 L849.6,477.2 L850.6,478.1 L851.7,478.9 L852.7,479.6 L853.7,480.3 L854.7,481 L855.7,481.6 L856.8,482.1 L857.8,482.6 L858.8,483.1 L859.8,483.5 L860.8,483.8 L861.9,484.2 L862.9,484.5 L863.9,484.8 L864.9,485 L866,485.2 L867,485.4 L868,485.6 L869,485.7 L870,485.9 L871.1,486 L872.1,486.1 L873.1,486.2 L874.1,486.3 L875.1,486.3 L876.2,486.4 L877.2,486.4 L878.2,486.5 L879.2,486.5 L880.2,486.5 L881.3,486.6 L882.3,486.6 L883.3,486.6 L884.3,486.6 L885.4,486.6 L886.4,486.6 L887.4,486.7 L888.4,486.7 L889.4,486.7 L890.5,486.7 L891.5,486.7 L892.5,486.7 L893.5,486.7 L894.5,486.7 L895.6,486.7 L896.6,486.7 L897.6,486.7 L898.6,486.7 L899.7,486.7 L900.7,486.7 L901.7,486.7 L902.7,486.7 L903.7,486.7 L904.8,486.7 L905.8,486.7 L906.8,486.7 L907.8,486.7 L908.8,486.7 L909.9,486.7 L910.9,486.7 L911.9,486.7 L912.9,486.7 L914,486.7 L915,486.7 L916,486.7 L917,486.7 L918,486.7 L919.1,486.7 L920.1,486.7 L921.1,486.7 L921.1,486.7 L587.1,486.7 Z" fill="#78eef0"/>
<path d="M587.1,486.7 L588.2,486.7 L589.2,486.7 L590.2,486.7 L591.2,486.7 L592.3,486.7 L593.3,486.7 L594.3,486.7 L595.3,486.7 L596.3,486.7 L597.4,486.7 L598.4,486.7 L599.4,486.7 L600.4,486.7 L601.4,486.7 L602.5,486.7 L603.5,486.7 L604.5,486.7 L605.5,486.7 L606.6,486.7 L607.6,486.7 L608.6,486.7 L609.6,486.7 L610.6,486.7 L611.7,486.7 L612.7,486.7 L613.7,486.7 L614.7,486.7 L615.7,486.7 L616.8,486.7 L617.8,486.7 L618.8,486.7 L619.8,486.7 L620.9,486.7 L621.9,486.7 L622.9,486.7 L623.9,486.7 L624.9,486.7 L626,486.7 L627,486.7 L628,486.7 L629,486.7 L630,486.7 L631.1,486.7 L632.1,486.7 L633.1,486.7 L634.1,486.7 L635.1,486.7 L636.2,486.7 L637.2,486.7 L638.2,486.7 L639.2,486.7 L640.3,486.7 L641.3,486.7 L642.3,486.7 L643.3,486.7 L644.3,486.7 L645.4,486.7 L646.4,486.7 L647.4,486.7 L648.4,486.7 L649.4,486.7 L650.5,486.7 L651.5,486.7 L652.5,486.7 L653.5,486.7 L654.6,486.7 L655.6,486.7 L656.6,486.7 L657.6,486.7 L658.6,486.7 L659.7,486.7 L660.7,486.7 L661.7,486.7 L662.7,486.7 L663.7,486.7 L664.8,486.7 L665.8,486.7 L666.8,486.7 L667.8,486.7 L668.9,486.7 L669.9,486.7 L670.9,486.7 L671.9,486.7 L672.9,486.7 L674,486.7 L675,486.7 L676,486.7 L677,486.7 L678,486.7 L679.1,486.7 L680.1,486.7 L681.1,486.7 L682.1,486.7 L683.1,486.7 L684.2,486.7 L685.2,486.7 L686.2,486.7 L687.2,486.7 L688.3,486.7 L689.3,486.7 L690.3,486.7 L691.3,486.7 L692.3,486.7 L693.4,486.7 L694.4,486.7 L695.4,486.7 L696.4,486.7 L697.4,486.7 L698.5,486.7 L699.5,486.7 L700.5,486.7 L701.5,486.7 L702.6,486.7 L703.6,486.7 L704.6,486.7 L705.6,486.7 L706.6,486.7 L707.7,486.7 L708.7,486.7 L709.7,486.7 L710.7,486.7 L711.7,486.7 L712.8,486.7 L713.8,486.7 L714.8,486.7 L715.8,486.7 L716.8,486.7 L717.9,486.7 L718.9,486.7 L719.9,486.7 L720.9,486.7 L722,486.7 L723,486.7 L724,486.7 L725,486.7 L726,486.7 L727.1,486.7 L728.1,486.7 L729.1,486.7 L730.1,486.7 L731.1,486.7 L732.2,486.7 L733.2,486.7 L734.2,486.7 L735.2,486.7 L736.3,486.7 L737.3,486.7 L738.3,486.7 L739.3,486.7 L740.3,486.7 L741.4,486.7 L742.4,486.7 L743.4,486.7 L744.4,486.7 L745.4,486.7 L746.5,486.6 L747.5,486.6 L748.5,486.6 L749.5,486.6 L750.5,486.6 L751.6,486.6 L752.6,486.5 L753.6,486.5 L754.6,486.5 L755.7,486.4 L756.7,486.4 L757.7,486.3 L758.7,486.2 L759.7,486.2 L760.8,486.1 L761.8,486 L762.8,485.8 L763.8,485.7 L764.8,485.6 L765.9,485.4 L766.9,485.2 L767.9,485 L768.9,484.7 L770,484.4 L771,484.1 L772,483.8 L773,483.4 L774,483 L775.1,482.5 L776.1,482 L777.1,481.4 L778.1,480.8 L779.1,480.2 L780.2,479.5 L781.2,478.7 L782.2,477.9 L783.2,477 L784.3,476.1 L785.3,475.1 L786.3,474.1 L787.3,473 L788.3,471.9 L789.4,470.7 L790.4,469.5 L791.4,468.2 L792.4,466.9 L793.4,467.6 L794.5,468.4 L795.5,469.2 L796.5,470 L797.5,470.9 L798.5,471.7 L799.6,472.5 L800.6,473.4 L801.6,474.2 L802.6,475 L803.7,475.8 L804.7,476.6 L805.7,477.4 L806.7,478.1 L807.7,478.9 L808.8,479.5 L809.8,480.2 L810.8,480.8 L811.8,481.4 L812.8,482 L813.9,482.5 L814.9,482.9 L815.9,483.4 L816.9,483.7 L818,484.1 L819,484.4 L820,484.6 L821,484.9 L822,485.1 L823.1,485.3 L824.1,485.5 L825.1,485.7 L826.1,485.8 L827.1,486 L828.2,486.1 L829.2,486.2 L830.2,486.3 L831.2,486.3 L832.2,486.4 L833.3,486.4 L834.3,486.5 L835.3,486.5 L836.3,486.6 L837.4,486.6 L838.4,486.6 L839.4,486.6 L840.4,486.6 L841.4,486.7 L842.5,486.7 L843.5,486.7 L844.5,486.7 L845.5,486.7 L846.5,486.7 L847.6,486.7 L848.6,486.7 L849.6,486.7 L850.6,486.7 L851.7,486.7 L852.7,486.7 L853.7,486.7 L854.7,486.7 L855.7,486.7 L856.8,486.7 L857.8,486.7 L858.8,486.7 L859.8,486.7 L860.8,486.7 L861.9,486.7 L862.9,486.7 L863.9,486.7 L864.9,486.7 L866,486.7 L867,486.7 L868,486.7 L869,486.7 L870,486.7 L871.1,486.7 L872.1,486.7 L873.1,486.7 L874.1,486.7 L875.1,486.7 L876.2,486.7 L877.2,486.7 L878.2,486.7 L879.2,486.7 L880.2,486.7 L881.3,486.7 L882.3,486.7 L883.3,486.7 L884.3,486.7 L885.4,486.7 L886.4,486.7 L887.4,486.7 L888.4,486.7 L889.4,486.7 L890.5,486.7 L891.5,486.7 L892.5,486.7 L893.5,486.7 L894.5,486.7 L895.6,486.7 L896.6,486.7 L897.6,486.7 L898.6,486.7 L899.7,486.7 L900.7,486.7 L901.7,486.7 L902.7,486.7 L903.7,486.7 L904.8,486.7 L905.8,486.7 L906.8,486.7 L907.8,486.7 L908.8,486.7 L909.9,486.7 L910.9,486.7 L911.9,486.7 L912.9,486.7 L914,486.7 L915,486.7 L916,486.7 L917,486.7 L918,486.7 L919.1,486.7 L920.1,486.7 L921.1,486.7 L921.1,486.7 L587.1,486.7 Z" fill="#78dcb0"/>
<path d="M587.1,486.7 L588.2,486.7 L589.2,486.7 L590.2,486.7 L591.2,486.7 L592.3,486.7 L593.3,486.7 L594.3,486.7 L595.3,486.7 L596.3,486.7 L597.4,486.7 L598.4,486.7 L599.4,486.7 L600.4,486.7 L601.4,486.7 L602.5,486.7 L603.5,486.7 L604.5,486.7 L605.5,486.7 L606.6,486.6 L607.6,486.6 L608.6,486.6 L609.6,486.5 L610.6,486.4 L611.7,486.2 L612.7,486 L613.7,485.7 L614.7,485.2 L615.7,484.7 L616.8,483.9 L617.8,482.8 L618.8,481.3 L619.8,479.5 L620.9,477.1 L621.9,474 L622.9,470.2 L623.9,465.4 L624.9,459.5 L626,452.4 L627,443.9 L628,433.9 L629,422.2 L630,408.8 L631.1,393.7 L632.1,376.9 L633.1,358.5 L634.1,338.6 L635.1,317.6 L636.2,295.6 L637.2,273.2 L638.2,250.7 L639.2,228.8 L640.3,207.9 L641.3,188.6 L642.3,171.5 L643.3,157.1 L644.3,145.8 L645.4,137.9 L646.4,133.8 L647.4,133.6 L648.4,137.2 L649.4,144.6 L650.5,155.5 L651.5,169.6 L652.5,186.5 L653.5,205.5 L654.6,226.2 L655.6,248.1 L656.6,270.5 L657.6,293 L658.6,315 L659.7,336.2 L660.7,356.2 L661.7,374.8 L662.7,391.8 L663.7,407.1 L664.8,420.7 L665.8,432.5 L666.8,442.8 L667.8,451.4 L668.9,458.7 L669.9,464.7 L670.9,469.6 L671.9,473.6 L672.9,476.8 L674,479.2 L675,481.1 L676,482.6 L677,483.7 L678,484.6 L679.1,485.2 L680.1,485.6 L681.1,486 L682.1,486.2 L683.1,486.4 L684.2,486.5 L685.2,486.5 L686.2,486.6 L687.2,486.6 L688.3,486.7 L689.3,486.7 L690.3,486.7 L691.3,486.7 L692.3,486.7 L693.4,486.7 L694.4,486.7 L695.4,486.7 L696.4,486.7 L697.4,486.7 L698.5,486.7 L699.5,486.7 L700.5,486.7 L701.5,486.7 L702.6,486.7 L703.6,486.7 L704.6,486.7 L705.6,486.7 L706.6,486.7 L707.7,486.7 L708.7,486.7 L709.7,486.7 L710.7,486.7 L711.7,486.7 L712.8,486.7 L713.8,486.7 L714.8,486.7 L715.8,486.7 L716.8,486.7 L717.9,486.7 L718.9,486.7 L719.9,486.7 L720.9,486.7 L722,486.7 L723,486.7 L724,486.7 L725,486.7 L726,486.7 L727.1,486.7 L728.1,486.7 L729.1,486.7 L730.1,486.7 L731.1,486.7 L732.2,486.7 L733.2,486.7 L734.2,486.7 L735.2,486.7 L736.3,486.7 L737.3,486.7 L738.3,486.7 L739.3,486.7 L740.3,486.7 L741.4,486.7 L742.4,486.7 L743.4,486.7 L744.4,486.7 L745.4,486.7 L746.5,486.7 L747.5,486.7 L748.5,486.7 L749.5,486.7 L750.5,486.7 L751.6,486.7 L752.6,486.7 L753.6,486.7 L754.6,486.7 L755.7,486.7 L756.7,486.7 L757.7,486.7 L758.7,486.7 L759.7,486.7 L760.8,486.7 L761.8,486.7 L762.8,486.7 L763.8,486.7 L764.8,486.7 L765.9,486.7 L766.9,486.7 L767.9,486.7 L768.9,486.7 L770,486.7 L771,486.7 L772,486.7 L773,486.7 L774,486.7 L775.1,486.7 L776.1,486.7 L777.1,486.7 L778.1,486.7 L779.1,486.7 L780.2,486.7 L781.2,486.7 L782.2,486.7 L783.2,486.7 L784.3,486.7 L785.3,486.7 L786.3,486.7 L787.3,486.7 L788.3,486.7 L789.4,486.7 L790.4,486.7 L791.4,486.7 L792.4,486.7 L793.4,486.7 L794.5,486.7 L795.5,486.7 L796.5,486.7 L797.5,486.7 L798.5,486.7 L799.6,486.7 L800.6,486.7 L801.6,486.7 L802.6,486.7 L803.7,486.7 L804.7,486.7 L805.7,486.7 L806.7,486.7 L807.7,486.7 L808.8,486.7 L809.8,486.7 L810.8,486.7 L811.8,486.7 L812.8,486.7 L813.9,486.7 L814.9,486.7 L815.9,486.7 L816.9,486.7 L818,486.7 L819,486.7 L820,486.7 L821,486.7 L822,486.7 L823.1,486.7 L824.1,486.7 L825.1,486.7 L826.1,486.7 L827.1,486.7 L828.2,486.7 L829.2,486.7 L830.2,486.7 L831.2,486.7 L832.2,486.7 L833.3,486.7 L834.3,486.7 L835.3,486.7 L836.3,486.7 L837.4,486.7 L838.4,486.7 L839.4,486.7 L840.4,486.7 L841.4,486.7 L842.5,486.7 L843.5,486.7 L844.5,486.7 L845.5,486.7 L846.5,486.7 L847.6,486.7 L848.6,486.7 L849.6,486.7 L850.6,486.7 L851.7,486.7 L852.7,486.7 L853.7,486.7 L854.7,486.7 L855.7,486.7 L856.8,486.7 L857.8,486.7 L858.8,486.7 L859.8,486.7 L860.8,486.7 L861.9,486.7 L862.9,486.7 L863.9,486.7 L864.9,486.7 L866,486.7 L867,486.7 L868,486.7 L869,486.7 L870,486.7 L871.1,486.7 L872.1,486.7 L873.1,486.7 L874.1,486.7 L875.1,486.7 L876.2,486.7 L877.2,486.7 L878.2,486.7 L879.2,486.7 L880.2,486.7 L881.3,486.7 L882.3,486.7 L883.3,486.7 L884.3,486.7 L885.4,486.7 L886.4,486.7 L887.4,486.7 L888.4,486.7 L889.4,486.7 L890.5,486.7 L891.5,486.7 L892.5,486.7 L893.5,486.7 L894.5,486.7 L895.6,486.7 L896.6,486.7 L897.6,486.7 L898.6,486.7 L899.7,486.7 L900.7,486.7 L901.7,486.7 L902.7,486.7 L903.7,486.7 L904.8,486.7 L905.8,486.7 L906.8,486.7 L907.8,486.7 L908.8,486.7 L909.9,486.7 L910.9,486.7 L911.9,486.7 L912.9,486.7 L914,486.7 L915,486.7 L916,486.7 L917,486.7 L918,486.7 L919.1,486.7 L920.1,486.7 L921.1,486.7 L921.1,486.7 L587.1,486.7 Z" fill="#7edb7e"/>
<path d="M587.1,486.7 L588.2,486.7 L589.2,486.7 L590.2,486.7 L591.2,486.7 L592.3,486.7 L593.3,486.7 L594.3,486.7 L595.3,486.7 L596.3,486.7 L597.4,486.7 L598.4,486.7 L599.4,486.7 L600.4,486.7 L601.4,486.7 L602.5,486.7 L603.5,486.7 L604.5,486.7 L605.5,486.7 L606.6,486.7 L607.6,486.7 L608.6,486.7 L609.6,486.7 L610.6,486.7 L611.7,486.7 L612.7,486.7 L613.7,486.7 L614.7,486.7 L615.7,486.7 L616.8,486.7 L617.8,486.7 L618.8,486.7 L619.8,486.7 L620.9,486.7 L621.9,486.7 L622.9,486.7 L623.9,486.7 L624.9,486.7 L626,486.7 L627,486.7 L628,486.7 L629,486.6 L630,486.6 L631.1,486.6 L632.1,486.5 L633.1,486.4 L634.1,486.2 L635.1,486.1 L636.2,485.8 L637.2,485.4 L638.2,485 L639.2,484.4 L640.3,483.6 L641.3,482.7 L642.3,481.5 L643.3,480.1 L644.3,478.4 L645.4,476.4 L646.4,474.1 L647.4,471.4 L648.4,468.4 L649.4,465.1 L650.5,461.5 L651.5,457.6 L652.5,453.5 L653.5,449.2 L654.6,444.8 L655.6,440.4 L656.6,436 L657.6,431.7 L658.6,427.5 L659.7,423.6 L660.7,420 L661.7,416.6 L662.7,413.6 L663.7,410.9 L664.8,420.7 L665.8,432.5 L666.8,442.8 L667.8,451.4 L668.9,458.7 L669.9,464.7 L670.9,469.6 L671.9,473.6 L672.9,476.8 L674,479.2 L675,481.1 L676,482.6 L677,483.7 L678,484.6 L679.1,485.2 L680.1,485.6 L681.1,486 L682.1,486.2 L683.1,486.4 L684.2,486.5 L685.2,486.5 L686.2,486.6 L687.2,486.6 L688.3,486.7 L689.3,486.7 L690.3,486.7 L691.3,486.7 L692.3,486.7 L693.4,486.7 L694.4,486.7 L695.4,486.7 L696.4,486.7 L697.4,486.7 L698.5,486.7 L699.5,486.7 L700.5,486.7 L701.5,486.7 L702.6,486.7 L703.6,486.7 L704.6,486.7 L705.6,486.7 L706.6,486.7 L707.7,486.7 L708.7,486.7 L709.7,486.7 L710.7,486.7 L711.7,486.7 L712.8,486.7 L713.8,486.7 L714.8,486.7 L715.8,486.7 L716.8,486.7 L717.9,486.7 L718.9,486.7 L719.9,486.7 L720.9,486.7 L722,486.7 L723,486.7 L724,486.7 L725,486.7 L726,486.7 L727.1,486.7 L728.1,486.7 L729.1,486.7 L730.1,486.7 L731.1,486.7 L732.2,486.7 L733.2,486.7 L734.2,486.7 L735.2,486.7 L736.3,486.7 L737.3,486.7 L738.3,486.7 L739.3,486.7 L740.3,486.7 L741.4,486.7 L742.4,486.7 L743.4,486.7 L744.4,486.7 L745.4,486.7 L746.5,486.7 L747.5,486.7 L748.5,486.7 L749.5,486.7 L750.5,486.7 L751.6,486.7 L752.6,486.7 L753.6,486.7 L754.6,486.7 L755.7,486.7 L756.7,486.7 L757.7,486.7 L758.7,486.7 L759.7,486.7 L760.8,486.7 L761.8,486.7 L762.8,486.7 L763.8,486.7 L764.8,486.7 L765.9,486.7 L766.9,486.7 L767.9,486.7 L768.9,486.7 L770,486.7 L771,486.7 L772,486.7 L773,486.7 L774,486.7 L775.1,486.7 L776.1,486.7 L777.1,486.7 L778.1,486.7 L779.1,486.7 L780.2,486.7 L781.2,486.7 L782.2,486.7 L783.2,486.7 L784.3,486.7 L785.3,486.7 L786.3,486.7 L787.3,486.7 L788.3,486.7 L789.4,486.7 L790.4,486.7 L791.4,486.7 L792.4,486.7 L793.4,486.7 L794.5,486.7 L795.5,486.7 L796.5,486.7 L797.5,486.7 L798.5,486.7 L799.6,486.7 L800.6,486.7 L801.6,486.7 L802.6,486.7 L803.7,486.7 L804.7,486.7 L805.7,486.7 L806.7,486.7 L807.7,486.7 L808.8,486.7 L809.8,486.7 L810.8,486.7 L811.8,486.7 L812.8,486.7 L813.9,486.7 L814.9,486.7 L815.9,486.7 L816.9,486.7 L818,486.7 L819,486.7 L820,486.7 L821,486.7 L822,486.7 L823.1,486.7 L824.1,486.7 L825.1,486.7 L826.1,486.7 L827.1,486.7 L828.2,486.7 L829.2,486.7 L830.2,486.7 L831.2,486.7 L832.2,486.7 L833.3,486.7 L834.3,486.7 L835.3,486.7 L836.3,486.7 L837.4,486.7 L838.4,486.7 L839.4,486.7 L840.4,486.7 L841.4,486.7 L842.5,486.7 L843.5,486.7 L844.5,486.7 L845.5,486.7 L846.5,486.7 L847.6,486.7 L848.6,486.7 L849.6,486.7 L850.6,486.7 L851.7,486.7 L852.7,486.7 L853.7,486.7 L854.7,486.7 L855.7,486.7 L856.8,486.7 L857.8,486.7 L858.8,486.7 L859.8,486.7 L860.8,486.7 L861.9,486.7 L862.9,486.7 L863.9,486.7 L864.9,486.7 L866,486.7 L867,486.7 L868,486.7 L869,486.7 L870,486.7 L871.1,486.7 L872.1,486.7 L873.1,486.7 L874.1,486.7 L875.1,486.7 L876.2,486.7 L877.2,486.7 L878.2,486.7 L879.2,486.7 L880.2,486.7 L881.3,486.7 L882.3,486.7 L883.3,486.7 L884.3,486.7 L885.4,486.7 L886.4,486.7 L887.4,486.7 L888.4,486.7 L889.4,486.7 L890.5,486.7 L891.5,486.7 L892.5,486.7 L893.5,486.7 L894.5,486.7 L895.6,486.7 L896.6,486.7 L897.6,486.7 L898.6,486.7 L899.7,486.7 L900.7,486.7 L901.7,486.7 L902.7,486.7 L903.7,486.7 L904.8,486.7 L905.8,486.7 L906.8,486.7 L907.8,486.7 L908.8,486.7 L909.9,486.7 L910.9,486.7 L911.9,486.7 L912.9,486.7 L914,486.7 L915,486.7 L916,486.7 L917,486.7 L918,486.7 L919.1,486.7 L920.1,486.7 L921.1,486.7 L921.1,486.7 L587.1,486.7 Z" fill="#5ccc3a"/>
<path d="M645.7 66.6V486.7" stroke="#22aa22" stroke-width="1.4"/>
<path d="M816.3 66.6V486.7" stroke="#22d8e0" stroke-width="1.6"/>
<path d="M612.7,486 L613.7,485.7 L614.7,485.2 L615.7,484.7 L616.8,483.9 L617.8,482.8 L618.8,481.3 L619.8,479.5 L620.9,477.1 L621.9,474 L622.9,470.2 L623.9,465.4 L624.9,459.5 L626,452.4 L627,443.8 L628,433.8 L629,422.1 L630,408.7 L631.1,393.6 L632.1,376.7 L633.1,358.2 L634.1,338.2 L635.1,316.9 L636.2,294.7 L637.2,271.9 L638.2,249 L639.2,226.5 L640.3,204.9 L641.3,184.6 L642.3,166.3 L643.3,150.5 L644.3,137.5 L645.4,127.6 L646.4,121.2 L647.4,118.3 L648.4,118.9 L649.4,123 L650.5,130.3 L651.5,140.5 L652.5,153.2 L653.5,168 L654.6,184.3 L655.6,201.7 L656.6,219.8 L657.6,237.9 L658.6,255.8 L659.7,273.1 L660.7,289.5 L661.7,304.7 L662.7,318.7 L663.7,331.3 L664.8,342.5 L665.8,352.3 L666.8,361.7 L667.8,370.1 L668.9,377.3 L669.9,383.6 L670.9,389 L671.9,393.6 L672.9,397.5 L674,400.9 L675,403.8 L676,406.3 L677,408.5 L678,410.1" fill="none" stroke="#dd22dd" stroke-width="1.4"/>
<path d="M765.9,451.6 L766.9,451.5 L767.9,451.4 L768.9,451.3 L770,451.2 L771,451 L772,450.8 L773,450.8 L774,450.9 L775.1,450.9 L776.1,450.9 L777.1,450.9 L778.1,450.9 L779.1,450.8 L780.2,450.7 L781.2,450.6 L782.2,450.4 L783.2,450.2 L784.3,450 L785.3,449.8 L786.3,449.5 L787.3,449.1 L788.3,448.8 L789.4,448.4 L790.4,448 L791.4,447.6 L792.4,447 L793.4,446.4 L794.5,445.9 L795.5,445.3 L796.5,444.7 L797.5,444.1 L798.5,443.5 L799.6,443 L800.6,442.4 L801.6,441.9 L802.6,441.4 L803.7,441 L804.7,440.5 L805.7,440.2 L806.7,439.8 L807.7,439.6 L808.8,439.4 L809.8,439.2 L810.8,439.1 L811.8,439.1 L812.8,439.2 L813.9,439.4 L814.9,439.6 L815.9,439.9 L816.9,440.3 L818,440.7 L819,441.3 L820,442 L821,442.7 L822,443.6 L823.1,444.5 L824.1,445.5 L825.1,446.6 L826.1,447.7 L827.1,448.9 L828.2,450.2 L829.2,451.5 L830.2,452.9 L831.2,454.3 L832.2,455.7 L833.3,457.2 L834.3,458.6 L835.3,460 L836.3,461.5 L837.4,462.9 L838.4,464.3 L839.4,465.7 L840.4,467.1 L841.4,468.4 L842.5,469.7 L843.5,470.9 L844.5,472.1 L845.5,473.2 L846.5,474.3 L847.6,475.3 L848.6,476.3 L849.6,477.2 L850.6,478.1 L851.7,478.9 L852.7,479.6 L853.7,480.3 L854.7,481 L855.7,481.6 L856.8,482.1 L857.8,482.6 L858.8,483.1 L859.8,483.5 L860.8,483.8 L861.9,484.2 L862.9,484.5 L863.9,484.8 L864.9,485 L866,485.2 L867,485.4 L868,485.6 L869,485.7 L870,485.9 L871.1,486 L872.1,486.1 L873.1,486.2 L874.1,486.3 L875.1,486.3 L876.2,486.4 L877.2,486.4 L878.2,486.5 L879.2,486.5 L880.2,486.5 L881.3,486.6 L882.3,486.6 L883.3,486.6 L884.3,486.6 L885.4,486.6 L886.4,486.6 L887.4,486.7 L888.4,486.7 L889.4,486.7 L890.5,486.7 L891.5,486.7 L892.5,486.7" fill="none" stroke="#dd22dd" stroke-width="1.4"/>
<path d="M599.4,486.5 L601,486.3 L602.7,486.5 L604.3,486.5 L605.9,486 L607.6,486.5 L609.2,485.7 L610.8,486.1 L612.5,485.3 L614.1,485.3 L615.7,484.3 L617.4,483 L619,478.6 L620.6,475.1 L622.3,470.8 L623.9,463.2 L625.5,464 L627.2,452.5 L628.8,430.8 L630.5,406.7 L632.1,373.9 L633.7,346.6 L635.4,309.9 L637,280.1 L638.6,238.1 L640.3,202.3 L641.9,177.6 L643.5,134.1 L645.2,120.9 L646.8,101.9 L648.4,112.2 L650.1,122.9 L651.7,140.2 L653.3,163.9 L655,186.6 L656.6,218.1 L658.2,251.4 L659.9,281.8 L661.5,307.9 L663.1,310.1 L664.8,349.6 L666.4,351.1 L668,357.7 L669.7,383 L671.3,378.4 L672.9,379.3 L674.6,416.6 L676.2,408.7 L677.8,410.6" fill="none" stroke="#111" stroke-width="1.3" stroke-linejoin="round"/>
<path d="M677.8,410.6 L679.5,419.2 L681.1,409.5 L682.7,416 L684.4,429.5 L686,411.5 L687.6,414.3 L689.3,413.4 L690.9,410.8 L692.5,421 L694.2,424.3 L695.8,436.7 L697.4,422.7 L699.1,433.5 L700.7,433.4 L702.3,440.8 L704,439.6 L705.6,437.4 L707.2,425 L708.9,450.7 L710.5,447.5 L712.2,436.2 L713.8,428.7 L715.4,436 L717.1,454.4 L718.7,459.6 L720.3,440.8 L722,449.3 L723.6,452.9 L725.2,440 L726.9,440.4 L728.5,447 L730.1,446.6 L731.8,445.7 L733.4,438.5 L735,445 L736.7,445.9 L738.3,445.9 L739.9,459.6 L741.6,441.8 L743.2,444.1 L744.8,447 L746.5,463 L748.1,454.8 L749.7,445.8 L751.4,462.5 L753,452.5 L754.6,445.1 L756.3,459.7 L757.9,441.6 L759.5,448.3 L761.2,452.6 L762.8,449.7 L764.4,447.6 L766.1,450.8 L767.7,444.3" fill="none" stroke="#b86a40" stroke-width="1.3" stroke-linejoin="round"/>
<path d="M767.7,444.3 L769.3,455.4 L771,453.6 L772.6,444.2 L774.2,450.7 L775.9,456.4 L777.5,445 L779.1,441.7 L780.8,453.5 L782.4,459.1 L784,450.9 L785.7,450.6 L787.3,451 L788.9,439.5 L790.6,454.6 L792.2,440 L793.9,453.5 L795.5,449.8 L797.1,440.6 L798.8,436.7 L800.4,437.4 L802,439.6 L803.7,440.1 L805.3,439.4 L806.9,436.2 L808.6,440.5 L810.2,437.4 L811.8,435.6 L813.5,439.3 L815.1,434.9 L816.7,436.7 L818.4,428.7 L820,440 L821.6,445.8 L823.3,446.9 L824.9,446.4 L826.5,443 L828.2,452.1 L829.8,450.3 L831.4,445.1 L833.1,469.7 L834.7,464.6 L836.3,460.4 L838,462 L839.6,465 L841.2,469.9 L842.9,467.6 L844.5,471.1 L846.1,475.7 L847.8,467.7 L849.4,476 L851,480 L852.7,479.9 L854.3,481.3 L855.9,481.8 L857.6,486.7 L859.2,484.2 L860.8,482 L862.5,486.4 L864.1,484.9 L865.7,483.8 L867.4,484.3 L869,483.8 L870.6,486.7 L872.3,486.5 L873.9,486 L875.6,485.9 L877.2,485.7 L878.8,484.7 L880.5,485.8 L882.1,485.6 L883.7,486.1 L885.4,485.6 L887,486.5 L888.6,485.8 L890.3,486.6 L891.9,486.6 L893.5,486.1 L895.2,486.6 L896.8,486.6 L898.4,485.6 L900.1,486 L901.7,486.5 L903.3,484.8 L905,485.9 L906.6,486.1 L908.2,486.5 L909.9,486.6 L911.5,486.2" fill="none" stroke="#111" stroke-width="1.3" stroke-linejoin="round"/>
</g>
<rect x="570.5" y="66.6" width="420.5" height="420.1" fill="none" stroke="#222" stroke-width="1.4"/>
<path d="M566 486.7H570.5M567.7 468.4H570.5M567.7 450.1H570.5M567.7 431.8H570.5M567.7 413.5H570.5M566 395.2H570.5M567.7 376.9H570.5M567.7 358.6H570.5M567.7 340.3H570.5M567.7 322H570.5M566 303.7H570.5M567.7 285.4H570.5M567.7 267.1H570.5M567.7 248.7H570.5M567.7 230.4H570.5M566 212.1H570.5M567.7 193.8H570.5M567.7 175.5H570.5M567.7 157.2H570.5M567.7 138.9H570.5M566 120.6H570.5M567.7 102.3H570.5M567.7 84H570.5M566 66.6H570.5M579 486.7V489.5M595.3 486.7V489.5M611.7 486.7V489.5M628 486.7V491.2M644.3 486.7V489.5M660.7 486.7V489.5M677 486.7V489.5M693.4 486.7V489.5M709.7 486.7V491.2M726 486.7V489.5M742.4 486.7V489.5M758.7 486.7V489.5M775.1 486.7V489.5M791.4 486.7V491.2M807.7 486.7V489.5M824.1 486.7V489.5M840.4 486.7V489.5M856.8 486.7V489.5M873.1 486.7V491.2M889.4 486.7V489.5M905.8 486.7V489.5M922.1 486.7V489.5M938.5 486.7V489.5M954.8 486.7V491.2M971.1 486.7V489.5M987.5 486.7V489.5M570.5 486.7V491.2M991 486.7V491.2" stroke="#222" stroke-width="1.2" fill="none"/>
<text transform="translate(556.3 490.6) rotate(-90)" style='font-family:"Liberation Sans", sans-serif;font-size:14px'>0</text>
<text transform="translate(556.3 402.8) rotate(-90)" style='font-family:"Liberation Sans", sans-serif;font-size:14px'>40</text>
<text transform="translate(556.3 311.5) rotate(-90)" style='font-family:"Liberation Sans", sans-serif;font-size:14px'>80</text>
<text transform="translate(556.3 224.1) rotate(-90)" style='font-family:"Liberation Sans", sans-serif;font-size:14px'>120</text>
<text transform="translate(556.3 132.6) rotate(-90)" style='font-family:"Liberation Sans", sans-serif;font-size:14px'>160</text>
<text transform="translate(556.3 79.5) rotate(-90)" style='font-family:"Liberation Sans", sans-serif;font-size:14px'>183</text>
<text x="560.8" y="513.2" style='font-family:"Liberation Sans", sans-serif;font-size:14px'>0.3</text>
<text x="618.2" y="513.2" style='font-family:"Liberation Sans", sans-serif;font-size:14px'>0.4</text>
<text x="700" y="513.2" style='font-family:"Liberation Sans", sans-serif;font-size:14px'>0.6</text>
<text x="781.7" y="513.2" style='font-family:"Liberation Sans", sans-serif;font-size:14px'>0.8</text>
<text x="869" y="513.2" style='font-family:"Liberation Sans", sans-serif;font-size:14px'>1</text>
<text x="942.9" y="513.2" style='font-family:"Liberation Sans", sans-serif;font-size:14px'>1.2</text>
<text x="984" y="513.2" style='font-family:"Liberation Sans", sans-serif;font-size:14px'>1.3</text>
<text transform="translate(531.8 295.6) rotate(-90)" style='font-family:"Liberation Sans", sans-serif;font-size:14px'>Count</text>
<text x="778.8" y="540.7" style='font-family:"Liberation Sans",sans-serif;font-size:14px' text-anchor="middle">PE-A  (10<tspan dy="-7" font-size="12">6</tspan><tspan dy="7">)</tspan></text>
<text x="639.1" y="86.6" style='font-family:"Liberation Sans", sans-serif;font-size:14px'>G1</text>
<text x="810.5" y="86.6" style='font-family:"Liberation Sans", sans-serif;font-size:14px'>G2</text>
<text x="841" y="115" style='font-family:"Liberation Sans",sans-serif;font-size:15.2px'>Watson</text>
<text x="841" y="133.1" style='font-family:"Liberation Sans",sans-serif;font-size:15.2px'>RMS: 1.05</text>
<text x="841" y="151.1" style='font-family:"Liberation Sans",sans-serif;font-size:15.2px'>Freq G1: 49.49</text>
<text x="841" y="169.2" style='font-family:"Liberation Sans",sans-serif;font-size:15.2px'>Freq S: 38.75</text>
<text x="841" y="187.2" style='font-family:"Liberation Sans",sans-serif;font-size:15.2px'>Freq G2: 11.69</text>
<text x="841" y="205.2" style='font-family:"Liberation Sans",sans-serif;font-size:15.2px'>Mean G1: 446,426</text>
<text x="841" y="223.3" style='font-family:"Liberation Sans",sans-serif;font-size:15.2px'>Mean G2: 860,990</text>
<text x="841" y="241.4" style='font-family:"Liberation Sans",sans-serif;font-size:15.2px'>G2/G1: 1.93</text>
<text x="841" y="259.4" style='font-family:"Liberation Sans",sans-serif;font-size:15.2px'>CV G1: 5.33%</text>
<text x="841" y="277.5" style='font-family:"Liberation Sans",sans-serif;font-size:15.2px'>CV G2: 5.43%</text>
<text x="841" y="295.5" style='font-family:"Liberation Sans",sans-serif;font-size:15.2px'>Freq Sub-G1: 0.05</text>
<text x="841" y="313.6" style='font-family:"Liberation Sans",sans-serif;font-size:15.2px'>Freq Super-G2: 0.02</text>
<text x="695.7" y="36.3" style='font-family:"Liberation Serif", serif;font-size:46px;font-weight:bold'>GW4869</text>
<text x="724" y="57.5" style='font-family:"Liberation Sans",sans-serif;font-size:14.8px'>04 / <tspan fill="#e8141e">P1</tspan> / <tspan fill="#1a9a2a">P2</tspan> / <tspan fill="#1e1ee8">P3</tspan></text>
<defs><filter id="blur3" x="-20%" y="-20%" width="140%" height="140%"><feGaussianBlur stdDeviation="3"/></filter><filter id="blur2_5" x="-20%" y="-20%" width="140%" height="140%"><feGaussianBlur stdDeviation="2.5"/></filter><filter id="blur2" x="-20%" y="-20%" width="140%" height="140%"><feGaussianBlur stdDeviation="2"/></filter><filter id="blur1_5" x="-20%" y="-20%" width="140%" height="140%"><feGaussianBlur stdDeviation="1.5"/></filter><filter id="blur1_2" x="-20%" y="-20%" width="140%" height="140%"><feGaussianBlur stdDeviation="1.2"/></filter></defs><clipPath id="dclip21"><rect x="65.5" y="624.4" width="421.7" height="420.9"/></clipPath>
<g clip-path="url(#dclip21)">
<path d="M272,915 L273.8,921.6 L273.1,928.1 L272.9,934.8 L271.3,941.2 L269.3,947.5 L267.7,954 L265.6,960.5 L262.3,966.4 L259.3,972.6 L255.1,978 L251.2,983.8 L246.2,988.6 L241,993 L235.4,997.1 L229.5,1000.7 L223,1003.1 L216.7,1005.9 L210,1007.3 L203.5,1009.1 L196.7,1009.5 L189.9,1009.5 L183.3,1009.9 L176.7,1008.9 L170.2,1008.5 L163.9,1006.6 L157.5,1005.2 L151.6,1002.5 L145.5,1000.3 L140.1,996.8 L135,992.9 L129.7,989.6 L125.2,985.1 L121.1,980.4 L116.7,976.1 L113.4,970.9 L110.4,965.5 L107.9,960 L104.9,954.9 L102.3,949.6 L100.1,944.1 L97.3,938.7 L95.9,932.9 L93.8,927.1 L92.2,921.1 L92,915 L93.2,908.9 L95.8,903.2 L98.8,897.7 L102.1,892.7 L106.7,888.3 L112.4,884.9 L117.3,881.7 L122.3,879 L127.4,876.8 L131.7,874.5 L136.8,873.3 L141.2,871.9 L145.5,870.9 L149.2,869.4 L153.5,869.1 L157.2,868.3 L160.9,867.7 L164.5,867.4 L167.9,866.5 L171.5,866.7 L174.9,866.3 L178.3,866 L181.7,866 L185.1,866.3 L188.5,866.7 L192.1,866.5 L195.5,867.4 L199.1,867.7 L202.8,868.3 L206.5,869.1 L210.8,869.4 L215.1,870.1 L218.8,871.9 L223.9,872.6 L228.3,874.5 L232.6,876.8 L237.7,879 L242.7,881.7 L248.5,884.5 L253.3,888.3 L257.9,892.7 L263.1,897.3 L267.1,902.8 L269.8,908.7Z" fill="#1020f0" fill-opacity="0.06" filter="url(#blur3)"/>
<path d="M259,915 L259.8,920.6 L259.2,926.1 L258.3,931.6 L255.9,936.8 L254.2,942 L251.3,946.7 L248,951.1 L245.3,955.8 L242.3,960.3 L239,964.5 L235.4,968.5 L231.5,972.2 L227.4,975.7 L223.1,978.8 L218.5,981.7 L213.8,984.2 L208.8,986.4 L203.5,987.3 L198.4,988.7 L193,988.9 L187.8,989.6 L182.6,989 L177.4,989 L172.4,987.6 L167.5,985.9 L162.6,984.9 L158.1,982.5 L153.8,979.9 L149.3,977.9 L145.5,974.8 L142,971.4 L138.1,968.6 L135.2,964.8 L131.8,961.5 L128.7,958.1 L125.8,954.4 L122.3,951 L120,946.9 L116.1,943.5 L113.3,939.3 L110.8,934.8 L107.6,930.4 L105.7,925.4 L104.2,920.3 L104,915 L104.2,909.7 L106.7,904.7 L109.6,900 L112.7,895.7 L117,892.1 L120.6,888.6 L125.3,885.9 L130,883.7 L133.9,881.5 L138.6,880.3 L142.6,878.9 L146.5,877.8 L150.4,877.2 L153.7,876 L157,875.2 L160.7,875.5 L163.5,874.2 L166.7,874.1 L169.8,874.2 L172.7,873.6 L175.7,874.2 L178.6,874 L181.4,874 L184.3,874.2 L187.3,873.6 L190.2,874.2 L193.3,874.1 L196.1,875.1 L199.3,875.5 L202.5,876 L205.7,876.9 L209.6,877.2 L212.8,878.6 L216.7,879.6 L220.6,880.9 L225.3,882.1 L229.2,884.3 L233.9,886.4 L238.5,889 L243,892.1 L247.3,895.7 L251.4,899.8 L254.3,904.6 L257.8,909.6Z" fill="#1840f0" fill-opacity="0.14" filter="url(#blur2_5)"/>
<path d="M248,915 L248.8,919.8 L248.3,924.6 L246.5,929.1 L244.4,933.5 L242,937.6 L238.5,941 L235.6,944.6 L231.7,947.3 L228.5,950.3 L225.2,952.9 L221,954.6 L217.5,956.6 L214.5,959.1 L210.8,960.6 L207,961.8 L203.7,963.5 L199.9,964.1 L196.4,965.4 L192.6,965.5 L189,966.2 L185.3,965.7 L181.8,966 L178.3,965 L174.8,964.7 L171.3,964.2 L168.1,962.5 L164.9,961.6 L161.6,960.4 L158.5,959 L155.5,957.4 L152,956.5 L149.2,954.4 L145.9,952.9 L142.6,951.1 L139.4,949.1 L136.3,946.7 L133.4,944.1 L129.7,941.8 L127,938.6 L123.6,935.5 L120.4,932.1 L118.4,928.1 L115.6,924 L114.2,919.6 L114,915 L114.2,910.4 L115.6,906 L118.4,901.9 L121.4,898.2 L124.6,894.8 L128.8,892.2 L132.3,889.6 L136.7,888 L140.4,886.2 L144,884.8 L147.6,883.7 L151.2,883 L154.1,881.9 L157.6,881.8 L160.5,881.2 L163.3,880.8 L166.1,880.7 L168.6,879.8 L171.3,880.1 L173.7,879.5 L176.3,880.2 L178.8,880 L181.2,880 L183.7,880.2 L186.3,879.5 L188.7,880.1 L191.1,880.8 L193.9,880.7 L196.7,880.8 L199.5,881.2 L202.4,881.8 L205.2,882.7 L208.1,883.8 L211.7,884.4 L215.2,885.4 L218.8,886.8 L222.4,888.5 L225.9,890.6 L230.2,892.6 L234.5,895.2 L237.7,898.5 L241.6,901.9 L244.4,906 L246.8,910.3Z" fill="#22b0f0" fill-opacity="0.7" filter="url(#blur2)"/>
<path d="M240,915 L239.9,919.2 L239.4,923.4 L237.7,927.3 L235.8,931 L233.6,934.5 L230.2,937.4 L226.8,939.9 L224.1,942.6 L220.5,944.4 L216.8,945.9 L213.8,947.6 L210.1,948.4 L207.1,949.7 L204,950.6 L201,951.4 L198,951.9 L195,952.1 L192.4,953 L189.4,952.8 L186.8,953.4 L184,952.8 L181.3,953 L178.7,953 L176,952.8 L173.4,952.4 L170.8,951.9 L168.3,951.1 L165.4,951.2 L162.9,950.1 L160,949.6 L157.6,948.2 L154.8,947.3 L151.9,946.2 L149.1,944.9 L146.3,943.3 L142.8,942 L140.1,939.9 L136.7,938 L134.3,935.3 L131.1,932.8 L128.1,929.9 L126.2,926.4 L123.6,922.9 L122.1,919 L122,915 L122.1,911 L123.6,907.1 L126.2,903.6 L128.1,900.1 L132.1,897.6 L135.2,895.1 L138.5,892.9 L141.8,891.2 L145.2,889.7 L148.6,888.6 L151.9,887.9 L154.6,886.8 L157.8,886.6 L160.4,886 L163,885.6 L165.5,885.3 L167.6,884.4 L170.1,884.6 L172.3,884 L174.6,884.5 L176.8,884.2 L178.9,884 L181.1,884 L183.2,884.2 L185.4,884.5 L187.5,884.9 L189.9,884.6 L192,885.3 L194.5,885.3 L197,885.6 L199.6,886 L202.2,886.6 L204.8,887.5 L207.3,888.6 L210.6,889.3 L214,890.3 L217.3,891.7 L220.6,893.4 L223.9,895.5 L227,897.9 L230.9,900.4 L233.8,903.6 L236.4,907.1 L238.9,910.9Z" fill="#30d070" fill-opacity="0.9" filter="url(#blur2)"/>
<path d="M232,915 L231.9,918.6 L231.5,922.2 L229.9,925.6 L228.1,928.8 L226,931.8 L222.9,934.1 L220.6,936.6 L217.3,938.3 L214,939.7 L211.4,941.4 L208.1,942.1 L205.4,943.2 L202.8,944.2 L200.1,944.8 L197.5,945.3 L194.9,945.6 L192.4,945.6 L190.2,946.4 L187.7,946 L185.6,946.5 L183.2,945.8 L181.1,946 L178.9,946 L176.8,945.8 L174.6,945.5 L172.5,945.1 L170.1,945.4 L168,944.7 L166,943.8 L163.5,943.6 L161,943.2 L158.5,942.6 L155.9,941.8 L153.4,940.7 L150.9,939.4 L148.4,937.9 L145.2,936.7 L142.9,934.7 L139.8,932.9 L137.7,930.4 L134.8,928 L133,925 L131.5,921.8 L130.1,918.5 L129,915 L130.1,911.5 L130.5,908 L133,905 L134.8,902 L137.7,899.6 L140.7,897.5 L143.8,895.8 L146.9,894.3 L150.1,893.3 L152.4,891.9 L155.5,891.4 L157.9,890.5 L160.3,889.8 L162.7,889.3 L165,889 L167.3,888.9 L169.5,889 L171.3,888.4 L173.5,888.8 L175.3,888.4 L177.2,888.1 L179.1,888 L180.9,888 L182.8,888.1 L184.7,888.4 L186.5,888.8 L188.7,888.4 L190.5,889 L192.7,888.9 L194.5,889.9 L196.8,890.1 L199.1,890.6 L201.4,891.2 L203.7,892.1 L206.8,892.5 L209.1,893.8 L212.2,894.9 L215.3,896.2 L218.4,897.9 L221.3,900 L224.2,902.3 L227,905 L229.5,908 L230.9,911.4Z" fill="#3ccc3c" fill-opacity="1" filter="url(#blur2)"/>
<path d="M220,915 L220.9,917.9 L219.6,920.6 L219.1,923.3 L217.5,925.7 L215.7,928 L212.9,929.6 L210.9,931.4 L208.8,933 L205.9,933.8 L203.7,934.9 L201.6,935.8 L199.4,936.6 L197.2,937.1 L195.1,937.4 L193,937.5 L191,937.5 L189.4,938.2 L187.4,937.8 L185.8,938.3 L184.2,938.6 L182.4,937.9 L180.8,938 L179.2,938 L177.6,937.9 L176,937.7 L174.4,937.3 L172.6,937.8 L171,937.3 L169.5,936.6 L167.5,936.7 L166,935.7 L164,935.5 L161.9,935.1 L159.9,934.5 L157.8,933.6 L155.7,932.6 L153.7,931.4 L151.7,930 L148.9,928.8 L147.1,927 L145.4,924.9 L143.8,922.7 L142.4,920.3 L141.1,917.7 L141,915 L141.1,912.3 L141.4,909.6 L142.8,907.1 L145.4,905.1 L147.1,903 L149.9,901.6 L151.7,900 L154.6,899.1 L156.5,898 L158.6,897 L161.3,896.9 L163.3,896.4 L164.6,895.3 L166.6,895.1 L168.5,895.1 L170.4,895.2 L171.8,894.6 L173.5,895 L174.9,894.6 L176.4,894.3 L177.8,894.1 L179.3,894 L180.7,894 L182.2,894.1 L183.6,894.3 L185.1,894.6 L186.5,895 L188.2,894.6 L189.6,895.2 L191.5,895.1 L192.9,895.9 L194.8,896.1 L196.7,896.4 L198.7,896.9 L200.7,897.6 L202.7,898.5 L204.6,899.6 L207.4,900.4 L209.2,902 L211.9,903.4 L214.6,905.1 L216.2,907.3 L218.6,909.6 L219.9,912.2Z" fill="#8edc2c" fill-opacity="0.9" filter="url(#blur2)"/>
<path d="M213,915 L212.9,917.3 L212.7,919.6 L211.3,921.7 L209.8,923.5 L208.2,925.3 L206.5,926.8 L204.7,928.1 L202.9,929.3 L201,930.3 L199.2,931.1 L197.3,931.7 L195.4,932.1 L193.5,932.3 L191.7,932.4 L190.5,933.2 L188.8,933 L187.5,933.5 L185.9,933.1 L184.6,933.4 L183.3,933.7 L182,933.9 L180.6,933 L179.4,933 L178.1,932.9 L176.9,932.7 L175.4,933.4 L174.1,933.1 L172.9,932.6 L171.7,932.1 L170,932.3 L168.8,931.6 L167.1,931.5 L165.3,931.3 L164.2,930.3 L162.4,929.8 L160.6,929.1 L158.8,928.2 L157,927.2 L155.3,926 L153.7,924.6 L152.1,923 L150.7,921.2 L149.3,919.3 L149.1,917.2 L148,915 L149.1,912.8 L149.3,910.7 L150.7,908.8 L152.1,907 L153.7,905.4 L155.3,904 L157.9,903.3 L159.6,902.3 L161.4,901.5 L163.1,900.9 L164.9,900.4 L166.6,900.1 L167.7,899.2 L169.4,899.2 L171,899.4 L172.1,898.8 L173.6,899.2 L174.7,898.8 L175.9,898.5 L177,898.3 L178.2,898.1 L179.4,899 L180.6,899 L181.7,899.1 L183,898.3 L184.1,898.5 L185.3,898.8 L186.4,899.2 L187.9,898.8 L189,899.4 L190.6,899.2 L191.7,900 L193.4,900.1 L195.1,900.4 L196.1,901.5 L197.8,902.1 L200.4,902.3 L202.1,903.3 L203.8,904.4 L205.4,905.8 L207.9,907 L209.3,908.8 L210.7,910.7 L211.9,912.8Z" fill="#e0dc20" fill-opacity="0.85" filter="url(#blur2)"/>
<path d="M204,915 L203.9,916.7 L203.8,918.3 L203.5,920 L202.1,921.3 L200.7,922.5 L199.2,923.5 L198.5,924.9 L197,925.6 L195.4,926.2 L193.8,926.6 L192.2,926.8 L191.4,927.6 L189.9,927.6 L188.9,928.3 L187.5,928 L186.6,928.5 L185.2,928 L184.3,928.3 L183.4,928.6 L182.4,928.8 L181.4,927.9 L180.5,928 L179.5,928 L178.6,927.9 L177.7,927.8 L176.6,928.6 L175.7,928.3 L174.8,928 L173.9,927.6 L173,927.1 L171.6,927.4 L170.8,926.8 L169.3,926.9 L168.5,926.1 L167,925.9 L166.2,925 L164.7,924.5 L163.2,923.9 L161.7,923.1 L160.3,922.2 L159.8,920.8 L158.5,919.6 L157.2,918.2 L157.1,916.6 L157,915 L157.1,913.4 L158.2,911.9 L158.5,910.4 L159.8,909.2 L161.2,908.2 L162.6,907.3 L164.1,906.5 L165.6,906 L166.2,905 L167.7,904.7 L169.2,904.6 L170,903.9 L171.4,904 L172.2,903.4 L173.5,903.7 L174.3,903.3 L175.1,902.9 L176.3,903.6 L177.1,903.4 L177.9,903.2 L178.7,903.1 L179.6,903 L180.4,903 L181.3,903.1 L182.1,903.2 L182.9,903.4 L183.7,903.6 L184.5,903.9 L185.7,903.3 L186.5,903.7 L187.3,904.2 L188.6,904 L189.4,904.6 L190.8,904.6 L191.5,905.4 L192.9,905.6 L194.4,906 L195.9,906.5 L197.4,907.3 L198.8,908.2 L200.2,909.2 L201.5,910.4 L202.8,911.8 L202.9,913.4Z" fill="#f08018" fill-opacity="0.45" filter="url(#blur1_5)"/>
<path d="M199,915 L199,916.3 L198.8,917.6 L198.6,919 L197.3,920 L196.9,921.2 L195.5,921.9 L194.1,922.5 L193.6,923.5 L192.1,923.8 L190.7,924 L190.1,924.7 L188.7,924.7 L188,925.2 L186.7,924.9 L186,925.4 L185.3,925.8 L184.1,925.2 L183.4,925.5 L182.7,925.7 L181.9,925.8 L181.1,925.9 L180.4,926 L179.6,926 L178.9,925.9 L178.1,925.8 L177.3,925.7 L176.6,925.5 L175.9,925.2 L175.2,924.9 L174.5,924.5 L173.3,924.9 L172.6,924.5 L172,923.9 L170.6,924 L170,923.4 L168.7,923.2 L168.1,922.4 L166.8,922 L165.4,921.5 L165,920.5 L163.7,919.7 L163.4,918.5 L162.2,917.5 L162,916.3 L162,915 L162,913.7 L162.2,912.5 L163.4,911.5 L163.7,910.3 L165,909.5 L166.3,908.9 L167.6,908.4 L168.1,907.6 L169.5,907.4 L170.8,907.3 L171.4,906.7 L172.6,906.8 L173.2,906.3 L173.8,905.9 L175,906.3 L175.6,906 L176.3,905.7 L176.9,905.5 L177.8,906.3 L178.4,906.1 L179.1,906 L179.7,906 L180.3,906 L180.9,906 L181.6,906.1 L182.2,906.3 L183.1,905.5 L183.7,905.7 L184.4,906 L185,906.3 L185.6,906.7 L186.8,906.3 L187.4,906.8 L188.6,906.7 L189.2,907.3 L190.5,907.4 L191,908.1 L192.4,908.4 L193.7,908.9 L195,909.5 L195.4,910.6 L196.6,911.5 L197.8,912.5 L199,913.7Z" fill="#ec3418" fill-opacity="0.3" filter="url(#blur1_2)"/>
<path d="M421.5,735 L421.4,737.9 L420.2,740.7 L418.8,743.4 L416.4,745.8 L412.8,747.7 L409.2,749.2 L405.6,750.4 L402,751.3 L398.5,751.8 L394.9,752 L392.3,752.4 L389.8,752.6 L387.3,752.6 L384.8,752.4 L382.5,752 L380.9,752.1 L379.3,752.1 L377.8,752 L376.4,751.8 L375,751.5 L373.7,751 L372.4,750.5 L371.6,750.9 L370.4,750.2 L369.6,750.5 L368.6,749.7 L367.8,749.8 L367.1,749.9 L366.3,750 L365.5,749 L364.8,749 L364,748.9 L363.3,748.8 L362.6,748.7 L361.9,748.5 L361.2,748.3 L360.5,748.1 L359.4,748.7 L358.7,748.4 L358,748 L357.3,747.6 L356.1,747.9 L355.4,747.4 L354.1,747.6 L352.8,747.7 L351.4,747.7 L350,747.6 L348.5,747.3 L346.2,747.5 L343.8,747.5 L340.6,747.7 L336.3,748 L330,748.6 L322.7,748.9 L312.4,749.2 L300,748.9 L282.5,748.1 L220.3,750.3 L193.7,744 L199.5,735 L282.6,730.7 L310.8,729.3 L332.9,729.8 L343,730.2 L347.1,730.1 L349.3,729.7 L351.5,729.6 L352.7,729.3 L353.9,729.1 L354.2,728.5 L355.4,728.5 L356.6,728.5 L357,728.1 L357.3,727.6 L358.4,727.9 L358.8,727.6 L359.2,727.2 L359.6,726.9 L360.1,726.6 L361,727.2 L361.4,727 L361.8,726.8 L362.3,726.6 L362.7,726.4 L363.2,726.3 L363.6,726.2 L364.1,726.1 L364.5,725.1 L365,725 L365.5,725 L366,725 L366.5,725.1 L367.2,724.1 L367.8,724.2 L368.3,724.4 L369.2,723.6 L369.8,723.8 L370.8,723.1 L371.4,723.4 L372.5,722.9 L373.7,722.4 L374.9,722.1 L376.2,721.8 L377.5,721.6 L378.9,721.6 L381.1,720.9 L383.4,720.5 L385.7,720.3 L388.1,720.3 L390.6,720.5 L394,720.5 L397.5,720.8 L401,721.4 L405.4,722 L409,723.4 L412.5,725 L415.9,727 L418.2,729.5 L420.4,732.1Z" fill="#1020f0" fill-opacity="0.06" filter="url(#blur2_5)"/>
<path d="M412.5,735 L412.4,737.5 L411.2,739.8 L409.9,742 L406.6,743.7 L404.1,745.4 L400.7,746.4 L397.2,747.2 L393.8,747.6 L390.4,747.7 L388,748 L384.8,747.5 L382.5,747.3 L380.3,747 L378.1,746.4 L376.8,746.3 L375.5,746.1 L373.7,745.1 L372.6,744.7 L371.5,744.2 L371,744.5 L370,743.9 L369.2,743.2 L368.7,743.4 L368,742.6 L367.6,742.7 L367,741.8 L366.6,741.9 L366.2,742 L365.8,741 L365.5,741 L365.2,741 L364.9,741 L364.7,739.9 L364.5,739.9 L364.2,739.8 L364,739.8 L364.1,738.7 L363.9,738.7 L363.7,738.6 L363.5,738.5 L363.3,738.4 L363.1,738.2 L363.6,737.3 L363.5,737.2 L363.4,737.1 L363.3,737 L363.2,736.9 L363.1,736.8 L363.8,736.1 L363.8,736 L363.7,735.9 L363.7,735.8 L363.6,735.7 L363.6,735.6 L363.6,735.5 L363.5,735.4 L363.5,735.3 L364.5,735.1 L364.5,735.1 L364.5,735 L364.5,734.9 L364.5,734.9 L364.5,734.8 L364.5,734.8 L364.5,734.7 L364.5,734.7 L364.6,734.6 L364.6,734.6 L364.6,734.5 L364.6,734.5 L364.7,734.5 L364.7,734.4 L364.7,734.4 L364.8,734.3 L364.8,734.3 L364.8,734.3 L364.9,734.2 L364.9,734.2 L365,734.2 L365,734.1 L365,734.1 L365.1,734.1 L365.1,734.1 L365.2,734 L365.2,734 L365.3,734 L365.3,734 L365.3,733 L365.4,733 L365.5,733 L365.6,733 L365.7,733 L365.8,733 L365.9,733 L366.3,732.1 L366.4,732.1 L366.6,732.2 L366.7,732.3 L367.3,731.4 L367.5,731.5 L368.2,730.8 L368.4,731 L369.3,730.3 L370.2,729.8 L371.2,729.3 L372.9,728.3 L374.8,727.4 L376.8,726.8 L378.9,726.3 L382,725.5 L385.1,725 L388.3,724.8 L391.6,725 L395.9,725.1 L399.3,725.9 L403.6,726.9 L407,728.4 L409.3,730.4 L411.4,732.6Z" fill="#1e50f0" fill-opacity="0.12" filter="url(#blur2)"/>
<path fill="#fff" d="M374 721h1.6v1.6h-1.6zm32 0h1.6v1.6h-1.6zm-36 2h1.6v1.6h-1.6zm40 0h1.6v1.6h-1.6zm-98 2h1.6v1.6h-1.6zm2 0h1.6v1.6h-1.6zm36 0h1.6v1.6h-1.6zm-136 2h1.6v1.6h-1.6zm40 0h1.6v1.6h-1.6zm12 0h1.6v1.6h-1.6zm52 0h1.6v1.6h-1.6zm28 0h1.6v1.6h-1.6zm16 0h1.6v1.6h-1.6zm44 0h1.6v1.6h-1.6zm8 0h1.6v1.6h-1.6zm-198 2h1.6v1.6h-1.6zm16 0h1.6v1.6h-1.6zm6 0h1.6v1.6h-1.6zm32 0h1.6v1.6h-1.6zm8 0h1.6v1.6h-1.6zm72 0h1.6v1.6h-1.6zm26 0h1.6v1.6h-1.6zm22 0h1.6v1.6h-1.6zm4 0h1.6v1.6h-1.6zm-182 2h1.6v1.6h-1.6zm90 0h1.6v1.6h-1.6zm22 0h1.6v1.6h-1.6zm2 0h1.6v1.6h-1.6zm6 0h1.6v1.6h-1.6zm52 0h1.6v1.6h-1.6zm-190 2h1.6v1.6h-1.6zm16 0h1.6v1.6h-1.6zm20 0h1.6v1.6h-1.6zm10 0h1.6v1.6h-1.6zm22 0h1.6v1.6h-1.6zm20 0h1.6v1.6h-1.6zm12 0h1.6v1.6h-1.6zm100 0h1.6v1.6h-1.6zm14 0h1.6v1.6h-1.6zm-224 2h1.6v1.6h-1.6zm2 0h1.6v1.6h-1.6zm28 0h1.6v1.6h-1.6zm2 0h1.6v1.6h-1.6zm20 0h1.6v1.6h-1.6zm20 0h1.6v1.6h-1.6zm58 0h1.6v1.6h-1.6zm94 0h1.6v1.6h-1.6zm-210 2h1.6v1.6h-1.6zm4 0h1.6v1.6h-1.6zm34 0h1.6v1.6h-1.6zm14 0h1.6v1.6h-1.6zm42 0h1.6v1.6h-1.6zm22 0h1.6v1.6h-1.6zm36 0h1.6v1.6h-1.6zm66 0h1.6v1.6h-1.6zm-240 2h1.6v1.6h-1.6zm82 0h1.6v1.6h-1.6zm22 0h1.6v1.6h-1.6zm34 0h1.6v1.6h-1.6zm6 0h1.6v1.6h-1.6zm4 0h1.6v1.6h-1.6zm48 0h1.6v1.6h-1.6zm34 0h1.6v1.6h-1.6zm-234 2h1.6v1.6h-1.6zm48 0h1.6v1.6h-1.6zm20 0h1.6v1.6h-1.6zm16 0h1.6v1.6h-1.6zm50 0h1.6v1.6h-1.6zm10 0h1.6v1.6h-1.6zm96 0h1.6v1.6h-1.6zm-236 2h1.6v1.6h-1.6zm8 0h1.6v1.6h-1.6zm2 0h1.6v1.6h-1.6zm22 0h1.6v1.6h-1.6zm20 0h1.6v1.6h-1.6zm4 0h1.6v1.6h-1.6zm54 0h1.6v1.6h-1.6zm20 0h1.6v1.6h-1.6zm2 0h1.6v1.6h-1.6zm10 0h1.6v1.6h-1.6zm4 0h1.6v1.6h-1.6zm6 0h1.6v1.6h-1.6zm2 0h1.6v1.6h-1.6zm48 0h1.6v1.6h-1.6zm-182 2h1.6v1.6h-1.6zm44 0h1.6v1.6h-1.6zm62 0h1.6v1.6h-1.6zm96 0h1.6v1.6h-1.6zm-198 2h1.6v1.6h-1.6zm2 0h1.6v1.6h-1.6zm24 0h1.6v1.6h-1.6zm8 0h1.6v1.6h-1.6zm58 0h1.6v1.6h-1.6zm14 0h1.6v1.6h-1.6zm32 0h1.6v1.6h-1.6zm4 0h1.6v1.6h-1.6zm-150 2h1.6v1.6h-1.6zm28 0h1.6v1.6h-1.6zm22 0h1.6v1.6h-1.6zm30 0h1.6v1.6h-1.6zm58 0h1.6v1.6h-1.6zm10 0h1.6v1.6h-1.6zm8 0h1.6v1.6h-1.6zm32 0h1.6v1.6h-1.6zm12 0h1.6v1.6h-1.6zm-206 2h1.6v1.6h-1.6zm14 0h1.6v1.6h-1.6zm10 0h1.6v1.6h-1.6zm30 0h1.6v1.6h-1.6zm26 0h1.6v1.6h-1.6zm30 0h1.6v1.6h-1.6zm78 0h1.6v1.6h-1.6zm2 0h1.6v1.6h-1.6zm18 0h1.6v1.6h-1.6zm-182 2h1.6v1.6h-1.6zm4 0h1.6v1.6h-1.6zm4 0h1.6v1.6h-1.6zm140 0h1.6v1.6h-1.6zm14 0h1.6v1.6h-1.6zm-218 108h1.6v1.6h-1.6zm22 0h1.6v1.6h-1.6zm-6 2h1.6v1.6h-1.6zm22 0h1.6v1.6h-1.6zm10 0h1.6v1.6h-1.6zm2 0h1.6v1.6h-1.6zm-72 2h1.6v1.6h-1.6zm24 0h1.6v1.6h-1.6zm-24 2h1.6v1.6h-1.6zm34 0h1.6v1.6h-1.6zm50 0h1.6v1.6h-1.6zm-98 2h1.6v1.6h-1.6zm12 0h1.6v1.6h-1.6zm10 0h1.6v1.6h-1.6zm2 0h1.6v1.6h-1.6zm76 0h1.6v1.6h-1.6zm4 0h1.6v1.6h-1.6zm-44 2h1.6v1.6h-1.6zm-50 2h1.6v1.6h-1.6zm-22 2h1.6v1.6h-1.6zm68 0h1.6v1.6h-1.6zm-70 2h1.6v1.6h-1.6zm2 0h1.6v1.6h-1.6zm112 0h1.6v1.6h-1.6zm-120 2h1.6v1.6h-1.6zm10 0h1.6v1.6h-1.6zm8 0h1.6v1.6h-1.6zm60 0h1.6v1.6h-1.6zm26 0h1.6v1.6h-1.6zm22 0h1.6v1.6h-1.6zm16 0h1.6v1.6h-1.6zm-130 2h1.6v1.6h-1.6zm22 0h1.6v1.6h-1.6zm34 0h1.6v1.6h-1.6zm4 0h1.6v1.6h-1.6zm74 0h1.6v1.6h-1.6zm-146 2h1.6v1.6h-1.6zm32 0h1.6v1.6h-1.6zm56 0h1.6v1.6h-1.6zm20 0h1.6v1.6h-1.6zm-112 2h1.6v1.6h-1.6zm6 0h1.6v1.6h-1.6zm22 0h1.6v1.6h-1.6zm-18 2h1.6v1.6h-1.6zm104 0h1.6v1.6h-1.6zm38 0h1.6v1.6h-1.6zm-154 2h1.6v1.6h-1.6zm20 0h1.6v1.6h-1.6zm4 0h1.6v1.6h-1.6zm134 0h1.6v1.6h-1.6zm-156 4h1.6v1.6h-1.6zm28 0h1.6v1.6h-1.6zm124 0h1.6v1.6h-1.6zm-146 2h1.6v1.6h-1.6zm20 0h1.6v1.6h-1.6zm118 0h1.6v1.6h-1.6zm-128 2h1.6v1.6h-1.6zm4 0h1.6v1.6h-1.6zm-32 2h1.6v1.6h-1.6zm-2 2h1.6v1.6h-1.6zm160 0h1.6v1.6h-1.6zm18 0h1.6v1.6h-1.6zm-160 2h1.6v1.6h-1.6zm6 0h1.6v1.6h-1.6zm2 0h1.6v1.6h-1.6zm144 0h1.6v1.6h-1.6zm2 0h1.6v1.6h-1.6zm-168 2h1.6v1.6h-1.6zm14 0h1.6v1.6h-1.6zm136 0h1.6v1.6h-1.6zm28 2h1.6v1.6h-1.6zm-178 2h1.6v1.6h-1.6zm16 2h1.6v1.6h-1.6zm150 0h1.6v1.6h-1.6zm-16 4h1.6v1.6h-1.6zm24 0h1.6v1.6h-1.6zm14 0h1.6v1.6h-1.6zm-176 2h1.6v1.6h-1.6zm6 0h1.6v1.6h-1.6zm-26 2h1.6v1.6h-1.6zm194 0h1.6v1.6h-1.6zm-194 4h1.6v1.6h-1.6zm196 0h1.6v1.6h-1.6zm-198 2h1.6v1.6h-1.6zm8 0h1.6v1.6h-1.6zm20 0h1.6v1.6h-1.6zm-24 2h1.6v1.6h-1.6zm192 0h1.6v1.6h-1.6zm2 0h1.6v1.6h-1.6zm-12 2h1.6v1.6h-1.6zm2 0h1.6v1.6h-1.6zm-172 2h1.6v1.6h-1.6zm24 0h1.6v1.6h-1.6zm156 0h1.6v1.6h-1.6zm-190 2h1.6v1.6h-1.6zm22 0h1.6v1.6h-1.6zm132 0h1.6v1.6h-1.6zm30 0h1.6v1.6h-1.6zm-38 2h1.6v1.6h-1.6zm6 0h1.6v1.6h-1.6zm6 0h1.6v1.6h-1.6zm10 0h1.6v1.6h-1.6zm-166 2h1.6v1.6h-1.6zm4 0h1.6v1.6h-1.6zm170 0h1.6v1.6h-1.6zm14 0h1.6v1.6h-1.6zm2 0h1.6v1.6h-1.6zm-162 4h1.6v1.6h-1.6zm126 0h1.6v1.6h-1.6zm-154 2h1.6v1.6h-1.6zm18 0h1.6v1.6h-1.6zm4 2h1.6v1.6h-1.6zm16 0h1.6v1.6h-1.6zm2 0h1.6v1.6h-1.6zm118 0h1.6v1.6h-1.6zm2 0h1.6v1.6h-1.6zm20 0h1.6v1.6h-1.6zm-180 2h1.6v1.6h-1.6zm2 0h1.6v1.6h-1.6zm2 0h1.6v1.6h-1.6zm38 0h1.6v1.6h-1.6zm116 0h1.6v1.6h-1.6zm10 0h1.6v1.6h-1.6zm-158 2h1.6v1.6h-1.6zm26 0h1.6v1.6h-1.6zm-2 2h1.6v1.6h-1.6zm-22 2h1.6v1.6h-1.6zm36 2h1.6v1.6h-1.6zm54 0h1.6v1.6h-1.6zm28 0h1.6v1.6h-1.6zm16 0h1.6v1.6h-1.6zm-144 2h1.6v1.6h-1.6zm34 0h1.6v1.6h-1.6zm-16 2h1.6v1.6h-1.6zm30 0h1.6v1.6h-1.6zm28 0h1.6v1.6h-1.6zm26 0h1.6v1.6h-1.6zm-54 2h1.6v1.6h-1.6zm4 0h1.6v1.6h-1.6zm52 0h1.6v1.6h-1.6zm20 0h1.6v1.6h-1.6zm40 0h1.6v1.6h-1.6zm-154 2h1.6v1.6h-1.6zm84 0h1.6v1.6h-1.6zm84 0h1.6v1.6h-1.6zm-174 2h1.6v1.6h-1.6zm16 0h1.6v1.6h-1.6zm44 0h1.6v1.6h-1.6zm112 0h1.6v1.6h-1.6zm-110 2h1.6v1.6h-1.6zm-34 2h1.6v1.6h-1.6zm18 0h1.6v1.6h-1.6zm22 0h1.6v1.6h-1.6zm8 0h1.6v1.6h-1.6zm46 0h1.6v1.6h-1.6zm44 0h1.6v1.6h-1.6zm10 0h1.6v1.6h-1.6zm-170 2h1.6v1.6h-1.6zm18 0h1.6v1.6h-1.6zm122 0h1.6v1.6h-1.6zm14 0h1.6v1.6h-1.6zm2 0h1.6v1.6h-1.6zm4 0h1.6v1.6h-1.6zm-160 2h1.6v1.6h-1.6zm32 0h1.6v1.6h-1.6zm102 0h1.6v1.6h-1.6zm4 0h1.6v1.6h-1.6zm32 0h1.6v1.6h-1.6zm-174 2h1.6v1.6h-1.6zm8 0h1.6v1.6h-1.6zm4 0h1.6v1.6h-1.6zm44 0h1.6v1.6h-1.6zm44 0h1.6v1.6h-1.6zm40 0h1.6v1.6h-1.6zm8 0h1.6v1.6h-1.6zm-30 2h1.6v1.6h-1.6zm30 0h1.6v1.6h-1.6zm8 0h1.6v1.6h-1.6zm8 0h1.6v1.6h-1.6zm4 0h1.6v1.6h-1.6zm-154 2h1.6v1.6h-1.6zm4 0h1.6v1.6h-1.6zm2 0h1.6v1.6h-1.6zm46 0h1.6v1.6h-1.6zm52 0h1.6v1.6h-1.6zm46 0h1.6v1.6h-1.6zm-26 2h1.6v1.6h-1.6zm20 0h1.6v1.6h-1.6zm4 0h1.6v1.6h-1.6zm-152 2h1.6v1.6h-1.6zm94 0h1.6v1.6h-1.6zm32 0h1.6v1.6h-1.6zm8 0h1.6v1.6h-1.6zm-122 2h1.6v1.6h-1.6zm72 0h1.6v1.6h-1.6zm18 0h1.6v1.6h-1.6zm8 0h1.6v1.6h-1.6zm14 0h1.6v1.6h-1.6zm2 0h1.6v1.6h-1.6zm-112 2h1.6v1.6h-1.6zm4 0h1.6v1.6h-1.6zm88 0h1.6v1.6h-1.6zm14 0h1.6v1.6h-1.6zm-22 2h1.6v1.6h-1.6zm8 0h1.6v1.6h-1.6zm20 0h1.6v1.6h-1.6zm16 0h1.6v1.6h-1.6zm-120 2h1.6v1.6h-1.6zm22 0h1.6v1.6h-1.6zm60 0h1.6v1.6h-1.6zm34 0h1.6v1.6h-1.6zm-112 2h1.6v1.6h-1.6zm16 0h1.6v1.6h-1.6zm30 0h1.6v1.6h-1.6zm2 0h1.6v1.6h-1.6zm-52 2h1.6v1.6h-1.6zm80 0h1.6v1.6h-1.6zm8 0h1.6v1.6h-1.6zm12 0h1.6v1.6h-1.6zm6 0h1.6v1.6h-1.6zm-114 2h1.6v1.6h-1.6zm60 0h1.6v1.6h-1.6zm32 0h1.6v1.6h-1.6zm34 0h1.6v1.6h-1.6zm-110 2h1.6v1.6h-1.6zm8 0h1.6v1.6h-1.6zm8 0h1.6v1.6h-1.6zm16 0h1.6v1.6h-1.6zm-12 2h1.6v1.6h-1.6zm30 0h1.6v1.6h-1.6zm20 0h1.6v1.6h-1.6zm4 0h1.6v1.6h-1.6zm36 0h1.6v1.6h-1.6zm-106 2h1.6v1.6h-1.6zm6 0h1.6v1.6h-1.6zm6 0h1.6v1.6h-1.6zm66 0h1.6v1.6h-1.6zm-64 2h1.6v1.6h-1.6zm8 0h1.6v1.6h-1.6zm48 0h1.6v1.6h-1.6zm12 0h1.6v1.6h-1.6zm-74 2h1.6v1.6h-1.6zm14 0h1.6v1.6h-1.6zm2 0h1.6v1.6h-1.6zm20 0h1.6v1.6h-1.6zm12 0h1.6v1.6h-1.6zm32 0h1.6v1.6h-1.6zm6 0h1.6v1.6h-1.6zm4 0h1.6v1.6h-1.6zm-104 2h1.6v1.6h-1.6zm10 0h1.6v1.6h-1.6zm46 0h1.6v1.6h-1.6zm-40 2h1.6v1.6h-1.6zm2 0h1.6v1.6h-1.6zm2 0h1.6v1.6h-1.6zm4 0h1.6v1.6h-1.6zm16 0h1.6v1.6h-1.6zm16 0h1.6v1.6h-1.6zm-26 4h1.6v1.6h-1.6zm28 0h1.6v1.6h-1.6zm2 0h1.6v1.6h-1.6zm-38 2h1.6v1.6h-1.6zm40 0h1.6v1.6h-1.6zm12 0h1.6v1.6h-1.6zm-42 2h1.6v1.6h-1.6zm20 0h1.6v1.6h-1.6zm14 0h1.6v1.6h-1.6zm-14 2h1.6v1.6h-1.6zm6 0h1.6v1.6h-1.6z"/>
<path fill="#0a14f4" d="M203 635h1.9v1.9h-1.9zm-20 3h1.9v1.9h-1.9zm-17 8h1.9v1.9h-1.9zm49 19h1.9v1.9h-1.9zm-3 12h1.9v1.9h-1.9zm138 2h1.9v1.9h-1.9zm-22 4h1.9v1.9h-1.9zm-2 3h2.8v2.8h-2.8zm-158 10h1.9v1.9h-1.9zm184 -1h1.9v1.9h-1.9zm35 8h1.9v1.9h-1.9zm61 0h1.9v1.9h-1.9zm-173 4h1.9v1.9h-1.9zm-189 2h1.9v1.9h-1.9zm251 1h1.9v1.9h-1.9zm48 2h1.9v1.9h-1.9zm1 -1h1.9v1.9h-1.9zm-8 2h1.9v1.9h-1.9zm22 1h1.9v1.9h-1.9zm-198 1h1.9v1.9h-1.9zm88 0h1.9v1.9h-1.9zm16 1h1.9v1.9h-1.9zm43 -1h1.9v1.9h-1.9zm44 0h1.9v1.9h-1.9zm8 0h1.9v1.9h-1.9zm-176 3h1.9v1.9h-1.9zm102 0h1.9v1.9h-1.9zm36 -1h1.9v1.9h-1.9zm14 0h1.9v1.9h-1.9zm18 0h1.9v1.9h-1.9zm13 0h1.9v1.9h-1.9zm-210 3h1.9v1.9h-1.9zm44 0h1.9v1.9h-1.9zm38 0h1.9v1.9h-1.9zm33 -1h2.8v2.8h-2.8zm24 1h1.9v1.9h-1.9zm30 0h1.9v1.9h-1.9zm21 0h1.9v1.9h-1.9zm10 0h1.9v1.9h-1.9zm4 -1h1.9v1.9h-1.9zm15 1h1.9v1.9h-1.9zm-239 1h1.9v1.9h-1.9zm4 1h2.8v2.8h-2.8zm41 -1h1.9v1.9h-1.9zm6 0h2.8v2.8h-2.8zm67 0h1.9v1.9h-1.9zm52 0h1.9v1.9h-1.9zm18 0h1.9v1.9h-1.9zm5 1h1.9v1.9h-1.9zm1 0h2.8v2.8h-2.8zm10 0h1.9v1.9h-1.9zm12 0h1.9v1.9h-1.9zm9 -1h1.9v1.9h-1.9zm2 0h1.9v1.9h-1.9zm4 0h1.9v1.9h-1.9zm8 0h1.9v1.9h-1.9zm4 0h2.8v2.8h-2.8zm1 1h1.9v1.9h-1.9zm3 0h1.9v1.9h-1.9zm5 -1h1.9v1.9h-1.9zm-280 3h1.9v1.9h-1.9zm109 -1h1.9v1.9h-1.9zm10 0h1.9v1.9h-1.9zm37 1h1.9v1.9h-1.9zm2 -1h1.9v1.9h-1.9zm6 1h1.9v1.9h-1.9zm15 0h1.9v1.9h-1.9zm5 0h1.9v1.9h-1.9zm8 0h2.8v2.8h-2.8zm14 -1h1.9v1.9h-1.9zm11 0h1.9v1.9h-1.9zm10 0h1.9v1.9h-1.9zm4 0h1.9v1.9h-1.9zm5 0h1.9v1.9h-1.9zm3 0h1.9v1.9h-1.9zm3 1h1.9v1.9h-1.9zm2 -1h1.9v1.9h-1.9zm2 1h1.9v1.9h-1.9zm2 0h1.9v1.9h-1.9zm3 0h1.9v1.9h-1.9zm2 -1h1.9v1.9h-1.9zm12 0h1.9v1.9h-1.9zm11 0h1.9v1.9h-1.9zm-263 3h1.9v1.9h-1.9zm8 0h1.9v1.9h-1.9zm8 0h1.9v1.9h-1.9zm10 -1h1.9v1.9h-1.9zm5 1h1.9v1.9h-1.9zm4 0h1.9v1.9h-1.9zm11 -1h1.9v1.9h-1.9zm3 0h1.9v1.9h-1.9zm6 0h1.9v1.9h-1.9zm7 1h1.9v1.9h-1.9zm17 -1h1.9v1.9h-1.9zm28 1h1.9v1.9h-1.9zm6 0h1.9v1.9h-1.9zm4 -1h1.9v1.9h-1.9zm6 0h1.9v1.9h-1.9zm5 1h1.9v1.9h-1.9zm2 -1h1.9v1.9h-1.9zm1 1h1.9v1.9h-1.9zm7 0h1.9v1.9h-1.9zm7 -1h1.9v1.9h-1.9zm8 0h1.9v1.9h-1.9zm2 1h1.9v1.9h-1.9zm30 -1h1.9v1.9h-1.9zm8 0h1.9v1.9h-1.9zm15 0h1.9v1.9h-1.9zm4 1h1.9v1.9h-1.9zm17 -1h1.9v1.9h-1.9zm10 1h1.9v1.9h-1.9zm2 -1h1.9v1.9h-1.9zm3 0h1.9v1.9h-1.9zm2 1h1.9v1.9h-1.9zm2 -1h1.9v1.9h-1.9zm1 1h1.9v1.9h-1.9zm3 0h2.8v2.8h-2.8zm1 0h1.9v1.9h-1.9zm5 -1h1.9v1.9h-1.9zm-248 3h1.9v1.9h-1.9zm13 -1h1.9v1.9h-1.9zm7 0h1.9v1.9h-1.9zm7 0h1.9v1.9h-1.9zm21 1h1.9v1.9h-1.9zm4 0h1.9v1.9h-1.9zm28 -1h1.9v1.9h-1.9zm3 1h1.9v1.9h-1.9zm13 -1h1.9v1.9h-1.9zm20 1h1.9v1.9h-1.9zm14 0h1.9v1.9h-1.9zm3 0h1.9v1.9h-1.9zm3 0h1.9v1.9h-1.9zm4 0h1.9v1.9h-1.9zm1 -1h1.9v1.9h-1.9zm2 0h1.9v1.9h-1.9zm8 0h1.9v1.9h-1.9zm5 1h1.9v1.9h-1.9zm4 -1h1.9v1.9h-1.9zm9 0h1.9v1.9h-1.9zm6 1h1.9v1.9h-1.9zm5 -1h1.9v1.9h-1.9zm6 1h1.9v1.9h-1.9zm2 0h1.9v1.9h-1.9zm12 0h1.9v1.9h-1.9zm12 -1h1.9v1.9h-1.9zm11 0h1.9v1.9h-1.9zm5 1h2.8v2.8h-2.8zm9 -1h1.9v1.9h-1.9zm3 1h1.9v1.9h-1.9zm6 -1h1.9v1.9h-1.9zm1 0h1.9v1.9h-1.9zm3 0h1.9v1.9h-1.9zm-262 2h1.9v1.9h-1.9zm13 0h1.9v1.9h-1.9zm4 1h1.9v1.9h-1.9zm6 0h1.9v1.9h-1.9zm18 -1h2.8v2.8h-2.8zm10 0h1.9v1.9h-1.9zm8 0h1.9v1.9h-1.9zm3 0h1.9v1.9h-1.9zm2 1h1.9v1.9h-1.9zm1 -1h1.9v1.9h-1.9zm8 1h1.9v1.9h-1.9zm16 -1h1.9v1.9h-1.9zm5 0h1.9v1.9h-1.9zm6 0h1.9v1.9h-1.9zm16 0h1.9v1.9h-1.9zm3 1h1.9v1.9h-1.9zm4 -1h1.9v1.9h-1.9zm3 0h1.9v1.9h-1.9zm12 1h1.9v1.9h-1.9zm8 0h1.9v1.9h-1.9zm2 0h1.9v1.9h-1.9zm6 -1h1.9v1.9h-1.9zm17 0h1.9v1.9h-1.9zm5 1h1.9v1.9h-1.9zm1 -1h1.9v1.9h-1.9zm8 1h1.9v1.9h-1.9zm7 -1h1.9v1.9h-1.9zm2 0h1.9v1.9h-1.9zm2 0h1.9v1.9h-1.9zm1 0h1.9v1.9h-1.9zm5 1h1.9v1.9h-1.9zm1 -1h1.9v1.9h-1.9zm3 1h1.9v1.9h-1.9zm1 -1h1.9v1.9h-1.9zm13 0h1.9v1.9h-1.9zm5 1h1.9v1.9h-1.9zm2 0h1.9v1.9h-1.9zm9 -1h1.9v1.9h-1.9zm7 0h1.9v1.9h-1.9zm4 0h1.9v1.9h-1.9zm2 0h1.9v1.9h-1.9zm7 1h1.9v1.9h-1.9zm9 0h1.9v1.9h-1.9zm-239 2h1.9v1.9h-1.9zm8 0h1.9v1.9h-1.9zm1 0h2.8v2.8h-2.8zm10 -1h1.9v1.9h-1.9zm7 0h1.9v1.9h-1.9zm4 0h1.9v1.9h-1.9zm5 0h1.9v1.9h-1.9zm3 1h1.9v1.9h-1.9zm1 0h1.9v1.9h-1.9zm3 0h1.9v1.9h-1.9zm5 -1h1.9v1.9h-1.9zm3 0h1.9v1.9h-1.9zm2 0h1.9v1.9h-1.9zm3 1h1.9v1.9h-1.9zm19 -1h1.9v1.9h-1.9zm4 1h1.9v1.9h-1.9zm6 -1h1.9v1.9h-1.9zm7 1h1.9v1.9h-1.9zm2 0h2.8v2.8h-2.8zm3 -1h1.9v1.9h-1.9zm7 1h1.9v1.9h-1.9zm4 -1h1.9v1.9h-1.9zm21 1h1.9v1.9h-1.9zm6 -1h1.9v1.9h-1.9zm2 0h1.9v1.9h-1.9zm3 0h1.9v1.9h-1.9zm18 1h1.9v1.9h-1.9zm2 -1h1.9v1.9h-1.9zm2 1h1.9v1.9h-1.9zm10 -1h1.9v1.9h-1.9zm2 1h1.9v1.9h-1.9zm5 -1h1.9v1.9h-1.9zm4 0h1.9v1.9h-1.9zm8 0h1.9v1.9h-1.9zm4 0h1.9v1.9h-1.9zm2 0h1.9v1.9h-1.9zm11 1h1.9v1.9h-1.9zm12 0h1.9v1.9h-1.9zm7 0h1.9v1.9h-1.9zm3 0h1.9v1.9h-1.9zm5 -1h1.9v1.9h-1.9zm2 1h1.9v1.9h-1.9zm1 -1h1.9v1.9h-1.9zm-268 2h1.9v1.9h-1.9zm32 0h1.9v1.9h-1.9zm4 1h1.9v1.9h-1.9zm3 0h2.8v2.8h-2.8zm5 0h1.9v1.9h-1.9zm4 -1h1.9v1.9h-1.9zm4 0h1.9v1.9h-1.9zm5 0h1.9v1.9h-1.9zm8 0h1.9v1.9h-1.9zm5 0h1.9v1.9h-1.9zm3 0h1.9v1.9h-1.9zm6 1h1.9v1.9h-1.9zm12 -1h1.9v1.9h-1.9zm4 1h1.9v1.9h-1.9zm7 0h1.9v1.9h-1.9zm6 -1h1.9v1.9h-1.9zm3 1h1.9v1.9h-1.9zm1 -1h1.9v1.9h-1.9zm4 0h1.9v1.9h-1.9zm7 0h1.9v1.9h-1.9zm3 1h1.9v1.9h-1.9zm14 -1h1.9v1.9h-1.9zm4 1h1.9v1.9h-1.9zm6 -1h1.9v1.9h-1.9zm22 0h1.9v1.9h-1.9zm3 0h1.9v1.9h-1.9zm4 1h1.9v1.9h-1.9zm3 -1h2.8v2.8h-2.8zm5 1h1.9v1.9h-1.9zm8 -1h1.9v1.9h-1.9zm5 0h1.9v1.9h-1.9zm4 0h1.9v1.9h-1.9zm4 0h1.9v1.9h-1.9zm3 0h1.9v1.9h-1.9zm8 1h1.9v1.9h-1.9zm15 0h1.9v1.9h-1.9zm2 0h1.9v1.9h-1.9zm16 -1h1.9v1.9h-1.9zm2 0h1.9v1.9h-1.9zm3 1h1.9v1.9h-1.9zm8 0h1.9v1.9h-1.9zm4 -1h1.9v1.9h-1.9zm8 1h1.9v1.9h-1.9zm6 -1h1.9v1.9h-1.9zm-258 2h1.9v1.9h-1.9zm21 0h1.9v1.9h-1.9zm3 0h1.9v1.9h-1.9zm12 0h1.9v1.9h-1.9zm2 1h1.9v1.9h-1.9zm8 -1h1.9v1.9h-1.9zm1 0h1.9v1.9h-1.9zm8 0h1.9v1.9h-1.9zm7 0h1.9v1.9h-1.9zm6 0h1.9v1.9h-1.9zm3 0h1.9v1.9h-1.9zm2 0h1.9v1.9h-1.9zm3 0h1.9v1.9h-1.9zm1 1h1.9v1.9h-1.9zm11 -1h1.9v1.9h-1.9zm1 0h1.9v1.9h-1.9zm2 1h1.9v1.9h-1.9zm4 -1h1.9v1.9h-1.9zm2 1h1.9v1.9h-1.9zm2 -1h1.9v1.9h-1.9zm6 0h1.9v1.9h-1.9zm7 0h1.9v1.9h-1.9zm8 0h1.9v1.9h-1.9zm1 1h1.9v1.9h-1.9zm2 -1h2.8v2.8h-2.8zm3 0h1.9v1.9h-1.9zm1 1h1.9v1.9h-1.9zm5 -1h1.9v1.9h-1.9zm3 1h1.9v1.9h-1.9zm5 0h1.9v1.9h-1.9zm20 0h1.9v1.9h-1.9zm2 -1h1.9v1.9h-1.9zm1 0h1.9v1.9h-1.9zm4 0h1.9v1.9h-1.9zm3 0h1.9v1.9h-1.9zm5 0h1.9v1.9h-1.9zm6 0h1.9v1.9h-1.9zm2 1h1.9v1.9h-1.9zm3 0h1.9v1.9h-1.9zm2 -1h1.9v1.9h-1.9zm2 0h1.9v1.9h-1.9zm17 1h1.9v1.9h-1.9zm27 -1h1.9v1.9h-1.9zm5 0h1.9v1.9h-1.9zm6 0h1.9v1.9h-1.9zm-271 2h1.9v1.9h-1.9zm7 1h1.9v1.9h-1.9zm5 -1h1.9v1.9h-1.9zm3 0h1.9v1.9h-1.9zm11 1h1.9v1.9h-1.9zm2 0h1.9v1.9h-1.9zm3 0h1.9v1.9h-1.9zm3 0h1.9v1.9h-1.9zm3 0h1.9v1.9h-1.9zm4 0h1.9v1.9h-1.9zm7 0h2.8v2.8h-2.8zm6 0h1.9v1.9h-1.9zm7 -1h1.9v1.9h-1.9zm2 0h1.9v1.9h-1.9zm15 0h1.9v1.9h-1.9zm2 1h1.9v1.9h-1.9zm2 -1h1.9v1.9h-1.9zm3 1h1.9v1.9h-1.9zm12 -1h1.9v1.9h-1.9zm4 0h1.9v1.9h-1.9zm4 0h1.9v1.9h-1.9zm3 0h1.9v1.9h-1.9zm4 0h1.9v1.9h-1.9zm4 0h1.9v1.9h-1.9zm2 0h1.9v1.9h-1.9zm3 0h1.9v1.9h-1.9zm6 0h1.9v1.9h-1.9zm7 0h1.9v1.9h-1.9zm1 0h1.9v1.9h-1.9zm4 0h1.9v1.9h-1.9zm2 0h1.9v1.9h-1.9zm2 0h1.9v1.9h-1.9zm4 0h1.9v1.9h-1.9zm3 1h1.9v1.9h-1.9zm10 0h1.9v1.9h-1.9zm1 -1h1.9v1.9h-1.9zm2 0h1.9v1.9h-1.9zm3 1h1.9v1.9h-1.9zm4 0h1.9v1.9h-1.9zm3 -1h1.9v1.9h-1.9zm3 0h1.9v1.9h-1.9zm2 1h1.9v1.9h-1.9zm2 0h1.9v1.9h-1.9zm9 -1h1.9v1.9h-1.9zm9 1h1.9v1.9h-1.9zm3 0h2.8v2.8h-2.8zm6 -1h1.9v1.9h-1.9zm5 0h1.9v1.9h-1.9zm1 1h1.9v1.9h-1.9zm9 0h1.9v1.9h-1.9zm28 0h1.9v1.9h-1.9zm1 -1h1.9v1.9h-1.9zm7 0h1.9v1.9h-1.9zm3 0h1.9v1.9h-1.9zm2 0h1.9v1.9h-1.9zm-249 3h1.9v1.9h-1.9zm22 0h1.9v1.9h-1.9zm1 0h1.9v1.9h-1.9zm11 -1h1.9v1.9h-1.9zm2 1h1.9v1.9h-1.9zm3 0h1.9v1.9h-1.9zm6 -1h1.9v1.9h-1.9zm3 0h1.9v1.9h-1.9zm9 0h1.9v1.9h-1.9zm3 1h1.9v1.9h-1.9zm9 -1h1.9v1.9h-1.9zm4 1h1.9v1.9h-1.9zm4 0h1.9v1.9h-1.9zm3 0h1.9v1.9h-1.9zm3 -1h2.8v2.8h-2.8zm2 0h1.9v1.9h-1.9zm2 0h1.9v1.9h-1.9zm3 1h1.9v1.9h-1.9zm2 -1h1.9v1.9h-1.9zm8 1h1.9v1.9h-1.9zm6 -1h1.9v1.9h-1.9zm4 0h1.9v1.9h-1.9zm1 0h1.9v1.9h-1.9zm10 0h1.9v1.9h-1.9zm2 0h1.9v1.9h-1.9zm2 1h1.9v1.9h-1.9zm2 -1h1.9v1.9h-1.9zm4 0h1.9v1.9h-1.9zm3 1h1.9v1.9h-1.9zm4 -1h1.9v1.9h-1.9zm9 0h1.9v1.9h-1.9zm2 0h1.9v1.9h-1.9zm7 0h1.9v1.9h-1.9zm2 0h1.9v1.9h-1.9zm8 1h1.9v1.9h-1.9zm3 -1h1.9v1.9h-1.9zm7 0h2.8v2.8h-2.8zm4 0h1.9v1.9h-1.9zm2 1h1.9v1.9h-1.9zm5 -1h1.9v1.9h-1.9zm2 0h1.9v1.9h-1.9zm9 1h1.9v1.9h-1.9zm2 0h1.9v1.9h-1.9zm24 -1h1.9v1.9h-1.9zm2 1h1.9v1.9h-1.9zm1 -1h1.9v1.9h-1.9zm4 0h1.9v1.9h-1.9zm6 0h1.9v1.9h-1.9zm2 1h1.9v1.9h-1.9zm3 0h1.9v1.9h-1.9zm5 0h1.9v1.9h-1.9zm3 -1h1.9v1.9h-1.9zm2 1h1.9v1.9h-1.9zm4 -1h1.9v1.9h-1.9zm3 0h1.9v1.9h-1.9zm-276 2h2.8v2.8h-2.8zm4 0h1.9v1.9h-1.9zm6 0h1.9v1.9h-1.9zm3 0h1.9v1.9h-1.9zm2 1h1.9v1.9h-1.9zm17 0h1.9v1.9h-1.9zm9 0h1.9v1.9h-1.9zm5 -1h1.9v1.9h-1.9zm7 1h1.9v1.9h-1.9zm4 0h1.9v1.9h-1.9zm2 -1h1.9v1.9h-1.9zm1 0h1.9v1.9h-1.9zm12 1h1.9v1.9h-1.9zm3 -1h1.9v1.9h-1.9zm4 1h1.9v1.9h-1.9zm4 -1h2.8v2.8h-2.8zm5 0h1.9v1.9h-1.9zm2 1h1.9v1.9h-1.9zm2 -1h1.9v1.9h-1.9zm3 1h1.9v1.9h-1.9zm3 -1h1.9v1.9h-1.9zm3 0h1.9v1.9h-1.9zm3 0h1.9v1.9h-1.9zm11 0h1.9v1.9h-1.9zm4 0h1.9v1.9h-1.9zm1 1h1.9v1.9h-1.9zm16 -1h1.9v1.9h-1.9zm2 0h1.9v1.9h-1.9zm7 0h1.9v1.9h-1.9zm4 0h1.9v1.9h-1.9zm1 1h1.9v1.9h-1.9zm3 0h1.9v1.9h-1.9zm2 -1h1.9v1.9h-1.9zm1 0h1.9v1.9h-1.9zm23 1h1.9v1.9h-1.9zm7 -1h1.9v1.9h-1.9zm3 0h1.9v1.9h-1.9zm4 1h1.9v1.9h-1.9zm3 -1h1.9v1.9h-1.9zm5 1h1.9v1.9h-1.9zm4 0h1.9v1.9h-1.9zm2 -1h1.9v1.9h-1.9zm2 1h1.9v1.9h-1.9zm4 -1h1.9v1.9h-1.9zm1 1h2.8v2.8h-2.8zm2 0h1.9v1.9h-1.9zm3 0h1.9v1.9h-1.9zm5 -1h1.9v1.9h-1.9zm12 0h1.9v1.9h-1.9zm11 0h1.9v1.9h-1.9zm7 0h1.9v1.9h-1.9zm8 1h1.9v1.9h-1.9zm2 0h1.9v1.9h-1.9zm13 0h1.9v1.9h-1.9zm18 -1h1.9v1.9h-1.9zm-294 2h1.9v1.9h-1.9zm22 1h1.9v1.9h-1.9zm16 -1h1.9v1.9h-1.9zm6 1h1.9v1.9h-1.9zm3 -1h1.9v1.9h-1.9zm5 1h1.9v1.9h-1.9zm5 -1h1.9v1.9h-1.9zm15 0h1.9v1.9h-1.9zm3 1h1.9v1.9h-1.9zm3 -1h1.9v1.9h-1.9zm2 1h1.9v1.9h-1.9zm5 0h1.9v1.9h-1.9zm4 0h1.9v1.9h-1.9zm6 -1h1.9v1.9h-1.9zm3 1h1.9v1.9h-1.9zm1 -1h1.9v1.9h-1.9zm2 0h1.9v1.9h-1.9zm3 1h1.9v1.9h-1.9zm9 -1h1.9v1.9h-1.9zm2 0h1.9v1.9h-1.9zm5 0h1.9v1.9h-1.9zm3 0h1.9v1.9h-1.9zm2 0h1.9v1.9h-1.9zm2 0h1.9v1.9h-1.9zm2 0h1.9v1.9h-1.9zm6 0h1.9v1.9h-1.9zm3 0h1.9v1.9h-1.9zm6 0h1.9v1.9h-1.9zm1 0h1.9v1.9h-1.9zm2 1h1.9v1.9h-1.9zm6 -1h1.9v1.9h-1.9zm5 0h1.9v1.9h-1.9zm7 1h1.9v1.9h-1.9zm14 0h1.9v1.9h-1.9zm3 -1h1.9v1.9h-1.9zm5 0h1.9v1.9h-1.9zm2 0h1.9v1.9h-1.9zm5 0h1.9v1.9h-1.9zm1 0h1.9v1.9h-1.9zm2 0h2.8v2.8h-2.8zm6 0h1.9v1.9h-1.9zm12 0h1.9v1.9h-1.9zm6 0h1.9v1.9h-1.9zm6 0h1.9v1.9h-1.9zm5 0h1.9v1.9h-1.9zm6 0h2.8v2.8h-2.8zm8 1h1.9v1.9h-1.9zm5 0h1.9v1.9h-1.9zm2 -1h1.9v1.9h-1.9zm3 1h1.9v1.9h-1.9zm2 -1h1.9v1.9h-1.9zm1 0h1.9v1.9h-1.9zm3 0h1.9v1.9h-1.9zm4 1h2.8v2.8h-2.8zm2 -1h1.9v1.9h-1.9zm5 0h1.9v1.9h-1.9zm-279 2h1.9v1.9h-1.9zm10 0h1.9v1.9h-1.9zm1 1h2.8v2.8h-2.8zm12 -1h1.9v1.9h-1.9zm20 1h1.9v1.9h-1.9zm2 -1h1.9v1.9h-1.9zm2 1h1.9v1.9h-1.9zm8 0h1.9v1.9h-1.9zm6 -1h1.9v1.9h-1.9zm5 0h1.9v1.9h-1.9zm2 0h1.9v1.9h-1.9zm8 0h1.9v1.9h-1.9zm1 0h1.9v1.9h-1.9zm3 1h1.9v1.9h-1.9zm17 -1h1.9v1.9h-1.9zm6 1h1.9v1.9h-1.9zm5 0h1.9v1.9h-1.9zm8 0h2.8v2.8h-2.8zm4 0h1.9v1.9h-1.9zm2 -1h1.9v1.9h-1.9zm11 0h1.9v1.9h-1.9zm4 1h1.9v1.9h-1.9zm12 -1h1.9v1.9h-1.9zm6 1h1.9v1.9h-1.9zm3 0h1.9v1.9h-1.9zm2 -1h1.9v1.9h-1.9zm15 0h1.9v1.9h-1.9zm7 1h1.9v1.9h-1.9zm5 0h1.9v1.9h-1.9zm7 0h1.9v1.9h-1.9zm8 -1h1.9v1.9h-1.9zm5 1h1.9v1.9h-1.9zm11 -1h1.9v1.9h-1.9zm7 0h1.9v1.9h-1.9zm5 0h1.9v1.9h-1.9zm2 1h2.8v2.8h-2.8zm1 -1h1.9v1.9h-1.9zm2 1h1.9v1.9h-1.9zm2 0h1.9v1.9h-1.9zm3 -1h1.9v1.9h-1.9zm5 1h1.9v1.9h-1.9zm8 -1h1.9v1.9h-1.9zm11 0h1.9v1.9h-1.9zm1 0h1.9v1.9h-1.9zm14 0h1.9v1.9h-1.9zm18 0h1.9v1.9h-1.9zm-298 2h1.9v1.9h-1.9zm8 1h1.9v1.9h-1.9zm8 0h1.9v1.9h-1.9zm42 -1h1.9v1.9h-1.9zm8 0h1.9v1.9h-1.9zm11 0h1.9v1.9h-1.9zm9 0h1.9v1.9h-1.9zm6 1h1.9v1.9h-1.9zm3 -1h1.9v1.9h-1.9zm3 0h1.9v1.9h-1.9zm3 0h1.9v1.9h-1.9zm2 1h1.9v1.9h-1.9zm2 -1h1.9v1.9h-1.9zm1 0h1.9v1.9h-1.9zm13 0h1.9v1.9h-1.9zm5 1h1.9v1.9h-1.9zm4 0h1.9v1.9h-1.9zm8 -1h1.9v1.9h-1.9zm5 1h1.9v1.9h-1.9zm4 -1h1.9v1.9h-1.9zm1 1h1.9v1.9h-1.9zm3 0h1.9v1.9h-1.9zm1 -1h2.8v2.8h-2.8zm3 1h1.9v1.9h-1.9zm11 -1h1.9v1.9h-1.9zm10 1h1.9v1.9h-1.9zm9 -1h1.9v1.9h-1.9zm1 1h1.9v1.9h-1.9zm13 -1h1.9v1.9h-1.9zm10 0h1.9v1.9h-1.9zm4 0h1.9v1.9h-1.9zm6 1h1.9v1.9h-1.9zm4 -1h1.9v1.9h-1.9zm6 0h1.9v1.9h-1.9zm11 1h1.9v1.9h-1.9zm5 0h1.9v1.9h-1.9zm1 0h2.8v2.8h-2.8zm3 0h1.9v1.9h-1.9zm10 -1h1.9v1.9h-1.9zm1 0h1.9v1.9h-1.9zm11 0h1.9v1.9h-1.9zm3 0h1.9v1.9h-1.9zm23 0h1.9v1.9h-1.9zm2 0h1.9v1.9h-1.9zm-292 2h1.9v1.9h-1.9zm44 1h1.9v1.9h-1.9zm9 0h1.9v1.9h-1.9zm2 0h1.9v1.9h-1.9zm3 -1h1.9v1.9h-1.9zm1 0h1.9v1.9h-1.9zm5 0h1.9v1.9h-1.9zm2 0h1.9v1.9h-1.9zm1 0h1.9v1.9h-1.9zm2 0h1.9v1.9h-1.9zm2 0h1.9v1.9h-1.9zm10 0h1.9v1.9h-1.9zm4 1h1.9v1.9h-1.9zm2 -1h1.9v1.9h-1.9zm3 1h1.9v1.9h-1.9zm1 -1h1.9v1.9h-1.9zm4 0h1.9v1.9h-1.9zm3 0h2.8v2.8h-2.8zm3 1h1.9v1.9h-1.9zm3 0h1.9v1.9h-1.9zm2 0h1.9v1.9h-1.9zm2 -1h1.9v1.9h-1.9zm2 1h1.9v1.9h-1.9zm7 0h1.9v1.9h-1.9zm4 0h1.9v1.9h-1.9zm21 0h1.9v1.9h-1.9zm1 -1h1.9v1.9h-1.9zm7 0h1.9v1.9h-1.9zm1 1h1.9v1.9h-1.9zm10 -1h1.9v1.9h-1.9zm11 0h1.9v1.9h-1.9zm6 1h1.9v1.9h-1.9zm3 0h1.9v1.9h-1.9zm5 0h1.9v1.9h-1.9zm4 -1h1.9v1.9h-1.9zm10 0h1.9v1.9h-1.9zm2 1h1.9v1.9h-1.9zm6 -1h1.9v1.9h-1.9zm12 0h1.9v1.9h-1.9zm3 1h1.9v1.9h-1.9zm2 -1h1.9v1.9h-1.9zm3 1h1.9v1.9h-1.9zm12 0h1.9v1.9h-1.9zm11 0h1.9v1.9h-1.9zm5 0h1.9v1.9h-1.9zm2 -1h1.9v1.9h-1.9zm3 1h1.9v1.9h-1.9zm8 -1h1.9v1.9h-1.9zm-239 2h1.9v1.9h-1.9zm11 0h1.9v1.9h-1.9zm5 1h1.9v1.9h-1.9zm8 -1h1.9v1.9h-1.9zm2 0h1.9v1.9h-1.9zm14 0h1.9v1.9h-1.9zm4 0h1.9v1.9h-1.9zm7 0h1.9v1.9h-1.9zm6 1h1.9v1.9h-1.9zm4 -1h1.9v1.9h-1.9zm9 1h1.9v1.9h-1.9zm20 0h1.9v1.9h-1.9zm10 -1h1.9v1.9h-1.9zm11 0h1.9v1.9h-1.9zm4 0h1.9v1.9h-1.9zm2 1h2.8v2.8h-2.8zm3 -1h1.9v1.9h-1.9zm1 1h1.9v1.9h-1.9zm4 0h1.9v1.9h-1.9zm5 -1h1.9v1.9h-1.9zm2 0h1.9v1.9h-1.9zm1 1h1.9v1.9h-1.9zm6 -1h1.9v1.9h-1.9zm2 0h1.9v1.9h-1.9zm10 0h1.9v1.9h-1.9zm10 1h1.9v1.9h-1.9zm7 -1h1.9v1.9h-1.9zm6 1h1.9v1.9h-1.9zm7 0h1.9v1.9h-1.9zm4 0h1.9v1.9h-1.9zm3 0h1.9v1.9h-1.9zm5 -1h1.9v1.9h-1.9zm3 0h1.9v1.9h-1.9zm4 0h1.9v1.9h-1.9zm12 0h1.9v1.9h-1.9zm4 0h1.9v1.9h-1.9zm14 0h1.9v1.9h-1.9zm-220 3h1.9v1.9h-1.9zm1 -1h1.9v1.9h-1.9zm5 0h1.9v1.9h-1.9zm12 0h1.9v1.9h-1.9zm2 1h1.9v1.9h-1.9zm1 -1h1.9v1.9h-1.9zm20 1h1.9v1.9h-1.9zm4 0h1.9v1.9h-1.9zm15 -1h1.9v1.9h-1.9zm4 0h1.9v1.9h-1.9zm27 0h1.9v1.9h-1.9zm2 0h1.9v1.9h-1.9zm9 0h1.9v1.9h-1.9zm1 0h2.8v2.8h-2.8zm2 0h1.9v1.9h-1.9zm6 0h1.9v1.9h-1.9zm13 0h1.9v1.9h-1.9zm16 0h1.9v1.9h-1.9zm7 1h1.9v1.9h-1.9zm6 0h1.9v1.9h-1.9zm6 -1h1.9v1.9h-1.9zm23 1h2.8v2.8h-2.8zm5 -1h1.9v1.9h-1.9zm20 0h1.9v1.9h-1.9zm9 0h1.9v1.9h-1.9zm2 0h1.9v1.9h-1.9zm38 0h1.9v1.9h-1.9zm-260 2h2.8v2.8h-2.8zm1 0h1.9v1.9h-1.9zm9 0h1.9v1.9h-1.9zm8 0h2.8v2.8h-2.8zm20 1h1.9v1.9h-1.9zm2 0h1.9v1.9h-1.9zm2 -1h1.9v1.9h-1.9zm3 0h1.9v1.9h-1.9zm4 0h1.9v1.9h-1.9zm4 1h1.9v1.9h-1.9zm8 -1h1.9v1.9h-1.9zm4 0h1.9v1.9h-1.9zm21 0h2.8v2.8h-2.8zm4 1h1.9v1.9h-1.9zm12 0h1.9v1.9h-1.9zm26 -1h1.9v1.9h-1.9zm10 1h1.9v1.9h-1.9zm13 0h1.9v1.9h-1.9zm32 0h1.9v1.9h-1.9zm21 -1h1.9v1.9h-1.9zm2 0h1.9v1.9h-1.9zm1 0h1.9v1.9h-1.9zm4 1h1.9v1.9h-1.9zm46 -1h1.9v1.9h-1.9zm-269 2h1.9v1.9h-1.9zm30 0h1.9v1.9h-1.9zm12 1h1.9v1.9h-1.9zm7 -1h1.9v1.9h-1.9zm17 1h1.9v1.9h-1.9zm23 0h2.8v2.8h-2.8zm11 0h1.9v1.9h-1.9zm20 -1h1.9v1.9h-1.9zm28 1h1.9v1.9h-1.9zm14 0h1.9v1.9h-1.9zm20 0h1.9v1.9h-1.9zm12 0h1.9v1.9h-1.9zm13 -1h1.9v1.9h-1.9zm4 1h1.9v1.9h-1.9zm88 0h1.9v1.9h-1.9zm-292 1h1.9v1.9h-1.9zm24 1h1.9v1.9h-1.9zm2 -1h1.9v1.9h-1.9zm18 1h1.9v1.9h-1.9zm31 0h1.9v1.9h-1.9zm41 -1h1.9v1.9h-1.9zm5 0h1.9v1.9h-1.9zm17 0h1.9v1.9h-1.9zm8 0h1.9v1.9h-1.9zm4 0h1.9v1.9h-1.9zm3 1h1.9v1.9h-1.9zm7 -1h1.9v1.9h-1.9zm21 0h1.9v1.9h-1.9zm36 1h2.8v2.8h-2.8zm-241 2h1.9v1.9h-1.9zm4 -1h1.9v1.9h-1.9zm91 1h1.9v1.9h-1.9zm1 -1h1.9v1.9h-1.9zm2 0h1.9v1.9h-1.9zm25 0h1.9v1.9h-1.9zm53 1h1.9v1.9h-1.9zm37 0h1.9v1.9h-1.9zm38 0h1.9v1.9h-1.9zm-289 2h2.8v2.8h-2.8zm39 -1h1.9v1.9h-1.9zm30 0h1.9v1.9h-1.9zm7 1h1.9v1.9h-1.9zm39 -1h1.9v1.9h-1.9zm12 0h1.9v1.9h-1.9zm67 0h1.9v1.9h-1.9zm72 0h1.9v1.9h-1.9zm6 1h1.9v1.9h-1.9zm-134 2h1.9v1.9h-1.9zm6 -1h1.9v1.9h-1.9zm26 0h1.9v1.9h-1.9zm17 0h1.9v1.9h-1.9zm61 0h1.9v1.9h-1.9zm3 0h1.9v1.9h-1.9zm14 0h1.9v1.9h-1.9zm27 0h1.9v1.9h-1.9zm-206 3h1.9v1.9h-1.9zm106 0h1.9v1.9h-1.9zm-202 2h1.9v1.9h-1.9zm126 -1h1.9v1.9h-1.9zm10 0h2.8v2.8h-2.8zm14 1h1.9v1.9h-1.9zm55 0h1.9v1.9h-1.9zm-126 1h1.9v1.9h-1.9zm13 1h1.9v1.9h-1.9zm100 -1h1.9v1.9h-1.9zm6 0h1.9v1.9h-1.9zm11 0h1.9v1.9h-1.9zm95 0h2.8v2.8h-2.8zm-266 2h1.9v1.9h-1.9zm71 0h1.9v1.9h-1.9zm20 3h1.9v1.9h-1.9zm104 -1h1.9v1.9h-1.9zm26 1h1.9v1.9h-1.9zm16 0h1.9v1.9h-1.9zm-272 2h1.9v1.9h-1.9zm93 0h1.9v1.9h-1.9zm45 -1h1.9v1.9h-1.9zm28 1h1.9v1.9h-1.9zm10 -1h1.9v1.9h-1.9zm3 0h1.9v1.9h-1.9zm-181 2h1.9v1.9h-1.9zm5 0h1.9v1.9h-1.9zm12 1h1.9v1.9h-1.9zm38 -1h1.9v1.9h-1.9zm128 0h1.9v1.9h-1.9zm26 0h1.9v1.9h-1.9zm15 1h1.9v1.9h-1.9zm10 -1h1.9v1.9h-1.9zm20 0h1.9v1.9h-1.9zm-212 2h1.9v1.9h-1.9zm25 1h1.9v1.9h-1.9zm15 -1h1.9v1.9h-1.9zm115 1h1.9v1.9h-1.9zm15 -1h2.8v2.8h-2.8zm149 0h1.9v1.9h-1.9zm-275 3h1.9v1.9h-1.9zm11 0h1.9v1.9h-1.9zm36 0h1.9v1.9h-1.9zm71 0h1.9v1.9h-1.9zm11 -1h1.9v1.9h-1.9zm120 0h1.9v1.9h-1.9zm-273 3h1.9v1.9h-1.9zm65 0h1.9v1.9h-1.9zm2 -1h1.9v1.9h-1.9zm26 0h1.9v1.9h-1.9zm128 0h1.9v1.9h-1.9zm-224 2h1.9v1.9h-1.9zm24 0h1.9v1.9h-1.9zm55 1h1.9v1.9h-1.9zm38 -1h1.9v1.9h-1.9zm91 0h1.9v1.9h-1.9zm-205 2h1.9v1.9h-1.9zm83 1h1.9v1.9h-1.9zm-13 1h1.9v1.9h-1.9zm46 0h1.9v1.9h-1.9zm-112 3h1.9v1.9h-1.9zm59 0h1.9v1.9h-1.9zm110 1h1.9v1.9h-1.9zm44 0h1.9v1.9h-1.9zm10 0h1.9v1.9h-1.9zm-110 2h1.9v1.9h-1.9zm39 0h1.9v1.9h-1.9zm-116 2h1.9v1.9h-1.9zm32 1h1.9v1.9h-1.9zm16 -1h1.9v1.9h-1.9zm-92 2h1.9v1.9h-1.9zm33 0h1.9v1.9h-1.9zm26 1h1.9v1.9h-1.9zm32 -1h2.8v2.8h-2.8zm21 0h1.9v1.9h-1.9zm-51 2h1.9v1.9h-1.9zm9 0h1.9v1.9h-1.9zm106 0h1.9v1.9h-1.9zm-113 2h1.9v1.9h-1.9zm11 0h1.9v1.9h-1.9zm19 0h1.9v1.9h-1.9zm30 1h1.9v1.9h-1.9zm28 0h1.9v1.9h-1.9zm148 -1h1.9v1.9h-1.9zm-343 2h1.9v1.9h-1.9zm137 1h1.9v1.9h-1.9zm92 -1h1.9v1.9h-1.9zm29 0h2.8v2.8h-2.8zm-223 3h1.9v1.9h-1.9zm84 0h1.9v1.9h-1.9zm5 -1h1.9v1.9h-1.9zm82 0h1.9v1.9h-1.9zm3 1h1.9v1.9h-1.9zm-120 2h1.9v1.9h-1.9zm94 0h1.9v1.9h-1.9zm63 -1h2.8v2.8h-2.8zm-228 2h1.9v1.9h-1.9zm117 0h1.9v1.9h-1.9zm-34 3h1.9v1.9h-1.9zm50 0h1.9v1.9h-1.9zm-29 2h1.9v1.9h-1.9zm157 -1h1.9v1.9h-1.9zm-188 2h1.9v1.9h-1.9zm73 0h1.9v1.9h-1.9zm94 0h1.9v1.9h-1.9zm-173 2h1.9v1.9h-1.9zm18 1h1.9v1.9h-1.9zm11 -1h1.9v1.9h-1.9zm2 1h1.9v1.9h-1.9zm10 0h1.9v1.9h-1.9zm26 0h1.9v1.9h-1.9zm32 -1h1.9v1.9h-1.9zm24 1h1.9v1.9h-1.9zm14 -1h1.9v1.9h-1.9zm33 0h1.9v1.9h-1.9zm-155 2h1.9v1.9h-1.9zm128 0h1.9v1.9h-1.9zm82 0h1.9v1.9h-1.9zm-273 2h1.9v1.9h-1.9zm6 0h1.9v1.9h-1.9zm10 1h1.9v1.9h-1.9zm97 -1h1.9v1.9h-1.9zm50 1h1.9v1.9h-1.9zm-163 2h1.9v1.9h-1.9zm107 -1h1.9v1.9h-1.9zm17 2h1.9v1.9h-1.9zm17 1h1.9v1.9h-1.9zm67 -1h1.9v1.9h-1.9zm-280 5h1.9v1.9h-1.9zm96 -1h2.8v2.8h-2.8zm86 1h1.9v1.9h-1.9zm195 -1h1.9v1.9h-1.9zm-353 3h1.9v1.9h-1.9zm22 -1h1.9v1.9h-1.9zm19 0h1.9v1.9h-1.9zm14 0h1.9v1.9h-1.9zm21 0h1.9v1.9h-1.9zm33 0h1.9v1.9h-1.9zm14 0h1.9v1.9h-1.9zm10 0h1.9v1.9h-1.9zm5 0h1.9v1.9h-1.9zm17 0h1.9v1.9h-1.9zm45 0h1.9v1.9h-1.9zm90 1h1.9v1.9h-1.9zm-143 2h1.9v1.9h-1.9zm35 0h1.9v1.9h-1.9zm85 -1h1.9v1.9h-1.9zm-249 2h1.9v1.9h-1.9zm29 0h1.9v1.9h-1.9zm27 0h1.9v1.9h-1.9zm15 0h1.9v1.9h-1.9zm11 0h1.9v1.9h-1.9zm-91 2h1.9v1.9h-1.9zm36 1h1.9v1.9h-1.9zm5 0h1.9v1.9h-1.9zm3 0h1.9v1.9h-1.9zm4 -1h1.9v1.9h-1.9zm33 1h1.9v1.9h-1.9zm15 -1h1.9v1.9h-1.9zm42 0h1.9v1.9h-1.9zm-160 3h1.9v1.9h-1.9zm46 -1h1.9v1.9h-1.9zm36 0h1.9v1.9h-1.9zm33 0h2.8v2.8h-2.8zm-99 3h1.9v1.9h-1.9zm22 -1h1.9v1.9h-1.9zm5 0h1.9v1.9h-1.9zm37 0h1.9v1.9h-1.9zm34 0h1.9v1.9h-1.9zm-124 2h1.9v1.9h-1.9zm72 0h1.9v1.9h-1.9zm1 0h1.9v1.9h-1.9zm21 0h1.9v1.9h-1.9zm15 0h1.9v1.9h-1.9zm4 1h1.9v1.9h-1.9zm9 0h1.9v1.9h-1.9zm1 0h1.9v1.9h-1.9zm18 -1h2.8v2.8h-2.8zm3 0h1.9v1.9h-1.9zm30 1h1.9v1.9h-1.9zm-92 1h1.9v1.9h-1.9zm29 0h1.9v1.9h-1.9zm2 1h1.9v1.9h-1.9zm28 0h1.9v1.9h-1.9zm11 -1h1.9v1.9h-1.9zm-146 3h1.9v1.9h-1.9zm43 0h1.9v1.9h-1.9zm10 -1h1.9v1.9h-1.9zm12 0h1.9v1.9h-1.9zm34 0h1.9v1.9h-1.9zm12 1h1.9v1.9h-1.9zm2 0h1.9v1.9h-1.9zm13 0h1.9v1.9h-1.9zm8 -1h1.9v1.9h-1.9zm10 0h2.8v2.8h-2.8zm45 0h1.9v1.9h-1.9zm2 1h1.9v1.9h-1.9zm-203 1h1.9v1.9h-1.9zm47 1h1.9v1.9h-1.9zm50 0h1.9v1.9h-1.9zm21 0h1.9v1.9h-1.9zm2 -1h1.9v1.9h-1.9zm58 0h2.8v2.8h-2.8zm3 0h1.9v1.9h-1.9zm-142 3h1.9v1.9h-1.9zm28 0h1.9v1.9h-1.9zm7 0h1.9v1.9h-1.9zm2 0h1.9v1.9h-1.9zm2 0h1.9v1.9h-1.9zm4 -1h1.9v1.9h-1.9zm18 0h1.9v1.9h-1.9zm8 1h1.9v1.9h-1.9zm25 -1h1.9v1.9h-1.9zm10 1h1.9v1.9h-1.9zm13 -1h1.9v1.9h-1.9zm67 0h1.9v1.9h-1.9zm-208 2h1.9v1.9h-1.9zm2 1h1.9v1.9h-1.9zm9 -1h1.9v1.9h-1.9zm33 0h1.9v1.9h-1.9zm3 0h1.9v1.9h-1.9zm1 1h1.9v1.9h-1.9zm8 0h1.9v1.9h-1.9zm2 -1h1.9v1.9h-1.9zm6 0h1.9v1.9h-1.9zm5 1h1.9v1.9h-1.9zm2 -1h1.9v1.9h-1.9zm1 0h1.9v1.9h-1.9zm7 0h1.9v1.9h-1.9zm2 1h1.9v1.9h-1.9zm11 -1h1.9v1.9h-1.9zm27 1h1.9v1.9h-1.9zm35 0h1.9v1.9h-1.9zm-111 1h1.9v1.9h-1.9zm10 0h1.9v1.9h-1.9zm11 1h1.9v1.9h-1.9zm2 -1h1.9v1.9h-1.9zm22 1h1.9v1.9h-1.9zm9 0h1.9v1.9h-1.9zm8 -1h1.9v1.9h-1.9zm8 1h1.9v1.9h-1.9zm3 -1h1.9v1.9h-1.9zm3 0h2.8v2.8h-2.8zm7 0h1.9v1.9h-1.9zm16 1h1.9v1.9h-1.9zm4 0h1.9v1.9h-1.9zm-165 1h1.9v1.9h-1.9zm41 0h1.9v1.9h-1.9zm34 1h1.9v1.9h-1.9zm15 0h1.9v1.9h-1.9zm4 0h1.9v1.9h-1.9zm2 -1h1.9v1.9h-1.9zm18 0h1.9v1.9h-1.9zm2 1h1.9v1.9h-1.9zm10 -1h1.9v1.9h-1.9zm11 1h2.8v2.8h-2.8zm41 0h1.9v1.9h-1.9zm-148 2h1.9v1.9h-1.9zm18 0h1.9v1.9h-1.9zm30 -1h1.9v1.9h-1.9zm1 1h1.9v1.9h-1.9zm5 -1h1.9v1.9h-1.9zm8 0h1.9v1.9h-1.9zm5 0h1.9v1.9h-1.9zm5 1h1.9v1.9h-1.9zm9 -1h1.9v1.9h-1.9zm13 1h2.8v2.8h-2.8zm14 0h1.9v1.9h-1.9zm5 -1h1.9v1.9h-1.9zm5 0h1.9v1.9h-1.9zm3 0h1.9v1.9h-1.9zm14 1h1.9v1.9h-1.9zm-114 2h1.9v1.9h-1.9zm18 -1h1.9v1.9h-1.9zm5 1h1.9v1.9h-1.9zm4 -1h1.9v1.9h-1.9zm3 0h1.9v1.9h-1.9zm17 1h1.9v1.9h-1.9zm1 0h1.9v1.9h-1.9zm13 0h1.9v1.9h-1.9zm5 -1h1.9v1.9h-1.9zm4 0h1.9v1.9h-1.9zm16 0h1.9v1.9h-1.9zm30 1h1.9v1.9h-1.9zm-149 2h1.9v1.9h-1.9zm1 0h1.9v1.9h-1.9zm10 0h1.9v1.9h-1.9zm17 0h1.9v1.9h-1.9zm5 -1h1.9v1.9h-1.9zm12 0h1.9v1.9h-1.9zm3 0h1.9v1.9h-1.9zm5 0h1.9v1.9h-1.9zm5 1h1.9v1.9h-1.9zm7 -1h1.9v1.9h-1.9zm3 0h1.9v1.9h-1.9zm1 1h1.9v1.9h-1.9zm4 0h1.9v1.9h-1.9zm3 0h1.9v1.9h-1.9zm3 -1h1.9v1.9h-1.9zm2 1h1.9v1.9h-1.9zm4 -1h1.9v1.9h-1.9zm12 1h1.9v1.9h-1.9zm2 0h1.9v1.9h-1.9zm2 0h1.9v1.9h-1.9zm5 -1h1.9v1.9h-1.9zm1 0h1.9v1.9h-1.9zm2 1h1.9v1.9h-1.9zm29 -1h1.9v1.9h-1.9zm12 1h1.9v1.9h-1.9zm26 -1h2.8v2.8h-2.8zm4 1h1.9v1.9h-1.9zm14 0h1.9v1.9h-1.9zm18 -1h2.8v2.8h-2.8zm-176 2h1.9v1.9h-1.9zm20 0h2.8v2.8h-2.8zm1 0h1.9v1.9h-1.9zm3 1h1.9v1.9h-1.9zm1 0h2.8v2.8h-2.8zm3 0h2.8v2.8h-2.8zm2 -1h1.9v1.9h-1.9zm4 1h1.9v1.9h-1.9zm2 0h1.9v1.9h-1.9zm6 0h1.9v1.9h-1.9zm3 -1h1.9v1.9h-1.9zm3 0h1.9v1.9h-1.9zm2 1h1.9v1.9h-1.9zm5 -1h1.9v1.9h-1.9zm2 0h1.9v1.9h-1.9zm2 1h1.9v1.9h-1.9zm2 0h1.9v1.9h-1.9zm10 0h1.9v1.9h-1.9zm3 0h1.9v1.9h-1.9zm2 -1h1.9v1.9h-1.9zm5 0h1.9v1.9h-1.9zm3 0h1.9v1.9h-1.9zm1 0h1.9v1.9h-1.9zm4 1h1.9v1.9h-1.9zm13 0h1.9v1.9h-1.9zm4 0h1.9v1.9h-1.9zm11 -1h1.9v1.9h-1.9zm-169 2h1.9v1.9h-1.9zm15 1h1.9v1.9h-1.9zm32 -1h1.9v1.9h-1.9zm3 0h1.9v1.9h-1.9zm18 0h1.9v1.9h-1.9zm2 1h1.9v1.9h-1.9zm4 0h1.9v1.9h-1.9zm1 0h1.9v1.9h-1.9zm2 -1h1.9v1.9h-1.9zm3 0h1.9v1.9h-1.9zm2 1h1.9v1.9h-1.9zm2 0h1.9v1.9h-1.9zm2 0h1.9v1.9h-1.9zm1 -1h1.9v1.9h-1.9zm3 1h1.9v1.9h-1.9zm2 0h1.9v1.9h-1.9zm2 0h1.9v1.9h-1.9zm2 0h1.9v1.9h-1.9zm2 -1h1.9v1.9h-1.9zm4 0h1.9v1.9h-1.9zm6 1h1.9v1.9h-1.9zm3 -1h1.9v1.9h-1.9zm2 0h1.9v1.9h-1.9zm2 0h1.9v1.9h-1.9zm9 1h1.9v1.9h-1.9zm2 -1h1.9v1.9h-1.9zm3 1h1.9v1.9h-1.9zm3 0h1.9v1.9h-1.9zm1 -1h1.9v1.9h-1.9zm2 0h1.9v1.9h-1.9zm18 1h2.8v2.8h-2.8zm3 -1h1.9v1.9h-1.9zm8 1h1.9v1.9h-1.9zm5 -1h1.9v1.9h-1.9zm4 0h1.9v1.9h-1.9zm28 1h1.9v1.9h-1.9zm8 -1h1.9v1.9h-1.9zm14 0h2.8v2.8h-2.8zm-234 3h1.9v1.9h-1.9zm16 -1h1.9v1.9h-1.9zm15 0h1.9v1.9h-1.9zm19 0h1.9v1.9h-1.9zm5 0h1.9v1.9h-1.9zm8 1h1.9v1.9h-1.9zm1 0h1.9v1.9h-1.9zm5 -1h1.9v1.9h-1.9zm2 0h1.9v1.9h-1.9zm2 1h1.9v1.9h-1.9zm5 -1h1.9v1.9h-1.9zm2 0h1.9v1.9h-1.9zm3 0h1.9v1.9h-1.9zm2 0h1.9v1.9h-1.9zm1 0h1.9v1.9h-1.9zm2 1h1.9v1.9h-1.9zm2 -1h1.9v1.9h-1.9zm4 0h1.9v1.9h-1.9zm2 1h1.9v1.9h-1.9zm2 -1h1.9v1.9h-1.9zm2 1h1.9v1.9h-1.9zm3 0h2.8v2.8h-2.8zm4 -1h1.9v1.9h-1.9zm2 0h1.9v1.9h-1.9zm1 1h1.9v1.9h-1.9zm3 -1h1.9v1.9h-1.9zm2 0h1.9v1.9h-1.9zm2 0h2.8v2.8h-2.8zm2 1h1.9v1.9h-1.9zm3 -1h1.9v1.9h-1.9zm2 1h1.9v1.9h-1.9zm2 0h2.8v2.8h-2.8zm2 0h1.9v1.9h-1.9zm3 0h1.9v1.9h-1.9zm1 0h1.9v1.9h-1.9zm4 -1h1.9v1.9h-1.9zm3 0h1.9v1.9h-1.9zm1 0h1.9v1.9h-1.9zm11 0h1.9v1.9h-1.9zm7 0h1.9v1.9h-1.9zm11 1h1.9v1.9h-1.9zm12 0h1.9v1.9h-1.9zm9 -1h1.9v1.9h-1.9zm29 1h1.9v1.9h-1.9zm-224 1h1.9v1.9h-1.9zm46 1h1.9v1.9h-1.9zm12 -1h1.9v1.9h-1.9zm1 1h1.9v1.9h-1.9zm18 -1h1.9v1.9h-1.9zm3 0h1.9v1.9h-1.9zm1 0h1.9v1.9h-1.9zm3 0h1.9v1.9h-1.9zm2 1h1.9v1.9h-1.9zm5 -1h1.9v1.9h-1.9zm9 1h1.9v1.9h-1.9zm2 0h1.9v1.9h-1.9zm2 0h1.9v1.9h-1.9zm3 0h1.9v1.9h-1.9zm15 0h1.9v1.9h-1.9zm6 0h2.8v2.8h-2.8zm2 -1h1.9v1.9h-1.9zm3 1h1.9v1.9h-1.9zm3 -1h1.9v1.9h-1.9zm3 0h1.9v1.9h-1.9zm3 0h1.9v1.9h-1.9zm2 1h1.9v1.9h-1.9zm1 0h1.9v1.9h-1.9zm5 0h1.9v1.9h-1.9zm2 0h1.9v1.9h-1.9zm15 0h1.9v1.9h-1.9zm9 -1h1.9v1.9h-1.9zm11 0h1.9v1.9h-1.9zm-171 2h1.9v1.9h-1.9zm22 1h1.9v1.9h-1.9zm7 -1h1.9v1.9h-1.9zm20 1h1.9v1.9h-1.9zm9 -1h1.9v1.9h-1.9zm2 0h1.9v1.9h-1.9zm3 0h1.9v1.9h-1.9zm4 1h1.9v1.9h-1.9zm2 -1h1.9v1.9h-1.9zm9 1h1.9v1.9h-1.9zm3 -1h1.9v1.9h-1.9zm8 0h1.9v1.9h-1.9zm11 0h1.9v1.9h-1.9zm13 0h1.9v1.9h-1.9zm9 0h1.9v1.9h-1.9zm6 0h1.9v1.9h-1.9zm1 1h1.9v1.9h-1.9zm2 -1h1.9v1.9h-1.9zm5 1h1.9v1.9h-1.9zm2 0h1.9v1.9h-1.9zm2 -1h1.9v1.9h-1.9zm9 0h1.9v1.9h-1.9zm10 0h1.9v1.9h-1.9zm2 1h1.9v1.9h-1.9zm5 -1h1.9v1.9h-1.9zm3 0h1.9v1.9h-1.9zm9 0h1.9v1.9h-1.9zm1 1h1.9v1.9h-1.9zm3 -1h1.9v1.9h-1.9zm49 0h1.9v1.9h-1.9zm165 1h1.9v1.9h-1.9zm-385 1h1.9v1.9h-1.9zm4 0h2.8v2.8h-2.8zm27 0h1.9v1.9h-1.9zm6 0h1.9v1.9h-1.9zm7 0h1.9v1.9h-1.9zm5 1h1.9v1.9h-1.9zm1 0h1.9v1.9h-1.9zm12 -1h1.9v1.9h-1.9zm48 0h1.9v1.9h-1.9zm6 1h1.9v1.9h-1.9zm8 -1h1.9v1.9h-1.9zm5 1h1.9v1.9h-1.9zm1 -1h1.9v1.9h-1.9zm9 0h1.9v1.9h-1.9zm4 1h1.9v1.9h-1.9zm8 -1h1.9v1.9h-1.9zm29 1h1.9v1.9h-1.9zm-198 2h1.9v1.9h-1.9zm28 -1h1.9v1.9h-1.9zm10 0h1.9v1.9h-1.9zm2 0h1.9v1.9h-1.9zm7 0h1.9v1.9h-1.9zm1 1h1.9v1.9h-1.9zm3 -1h2.8v2.8h-2.8zm4 0h2.8v2.8h-2.8zm2 0h1.9v1.9h-1.9zm4 0h1.9v1.9h-1.9zm87 0h1.9v1.9h-1.9zm2 1h1.9v1.9h-1.9zm2 0h1.9v1.9h-1.9zm7 0h1.9v1.9h-1.9zm1 0h1.9v1.9h-1.9zm2 -1h1.9v1.9h-1.9zm4 0h1.9v1.9h-1.9zm4 0h1.9v1.9h-1.9zm14 0h1.9v1.9h-1.9zm12 0h1.9v1.9h-1.9zm-166 2h1.9v1.9h-1.9zm16 0h1.9v1.9h-1.9zm4 1h2.8v2.8h-2.8zm2 0h1.9v1.9h-1.9zm11 0h1.9v1.9h-1.9zm86 -1h1.9v1.9h-1.9zm1 0h2.8v2.8h-2.8zm4 1h1.9v1.9h-1.9zm4 0h1.9v1.9h-1.9zm15 0h1.9v1.9h-1.9zm5 0h2.8v2.8h-2.8zm3 0h1.9v1.9h-1.9zm3 0h2.8v2.8h-2.8zm19 0h1.9v1.9h-1.9zm-188 2h1.9v1.9h-1.9zm11 0h1.9v1.9h-1.9zm13 -1h1.9v1.9h-1.9zm6 1h1.9v1.9h-1.9zm1 -1h1.9v1.9h-1.9zm5 1h1.9v1.9h-1.9zm7 -1h1.9v1.9h-1.9zm95 1h1.9v1.9h-1.9zm2 0h1.9v1.9h-1.9zm2 0h1.9v1.9h-1.9zm6 0h1.9v1.9h-1.9zm4 -1h1.9v1.9h-1.9zm3 1h1.9v1.9h-1.9zm4 -1h1.9v1.9h-1.9zm2 0h1.9v1.9h-1.9zm3 0h1.9v1.9h-1.9zm-176 3h1.9v1.9h-1.9zm9 -1h1.9v1.9h-1.9zm3 1h1.9v1.9h-1.9zm13 -1h1.9v1.9h-1.9zm6 1h1.9v1.9h-1.9zm2 -1h2.8v2.8h-2.8zm5 0h1.9v1.9h-1.9zm3 0h1.9v1.9h-1.9zm2 0h1.9v1.9h-1.9zm3 0h1.9v1.9h-1.9zm2 1h1.9v1.9h-1.9zm113 -1h1.9v1.9h-1.9zm13 0h1.9v1.9h-1.9zm11 1h2.8v2.8h-2.8zm12 -1h1.9v1.9h-1.9zm-186 3h1.9v1.9h-1.9zm2 -1h1.9v1.9h-1.9zm4 0h1.9v1.9h-1.9zm5 0h1.9v1.9h-1.9zm3 0h2.8v2.8h-2.8zm5 1h2.8v2.8h-2.8zm4 -1h1.9v1.9h-1.9zm3 0h2.8v2.8h-2.8zm4 0h1.9v1.9h-1.9zm112 0h1.9v1.9h-1.9zm10 0h1.9v1.9h-1.9zm2 0h1.9v1.9h-1.9zm7 0h1.9v1.9h-1.9zm2 0h1.9v1.9h-1.9zm2 1h1.9v1.9h-1.9zm64 0h1.9v1.9h-1.9zm1 -1h2.8v2.8h-2.8zm-239 3h1.9v1.9h-1.9zm1 0h1.9v1.9h-1.9zm3 -1h1.9v1.9h-1.9zm10 0h1.9v1.9h-1.9zm11 0h1.9v1.9h-1.9zm2 1h2.8v2.8h-2.8zm2 -1h1.9v1.9h-1.9zm2 0h1.9v1.9h-1.9zm2 1h1.9v1.9h-1.9zm8 0h1.9v1.9h-1.9zm114 -1h1.9v1.9h-1.9zm9 0h1.9v1.9h-1.9zm3 0h1.9v1.9h-1.9zm5 0h1.9v1.9h-1.9zm3 1h1.9v1.9h-1.9zm2 0h1.9v1.9h-1.9zm4 -1h1.9v1.9h-1.9zm2 1h1.9v1.9h-1.9zm3 -1h1.9v1.9h-1.9zm-195 3h2.8v2.8h-2.8zm14 -1h1.9v1.9h-1.9zm6 1h1.9v1.9h-1.9zm3 -1h1.9v1.9h-1.9zm3 0h1.9v1.9h-1.9zm3 0h1.9v1.9h-1.9zm5 1h1.9v1.9h-1.9zm2 0h1.9v1.9h-1.9zm3 -1h1.9v1.9h-1.9zm4 1h2.8v2.8h-2.8zm4 0h1.9v1.9h-1.9zm1 -1h1.9v1.9h-1.9zm125 0h1.9v1.9h-1.9zm6 1h1.9v1.9h-1.9zm3 -1h1.9v1.9h-1.9zm5 0h1.9v1.9h-1.9zm1 1h1.9v1.9h-1.9zm2 -1h1.9v1.9h-1.9zm8 0h1.9v1.9h-1.9zm11 1h1.9v1.9h-1.9zm2 -1h1.9v1.9h-1.9zm2 0h1.9v1.9h-1.9zm8 1h1.9v1.9h-1.9zm11 0h1.9v1.9h-1.9zm3 0h1.9v1.9h-1.9zm-231 1h1.9v1.9h-1.9zm13 0h1.9v1.9h-1.9zm8 0h1.9v1.9h-1.9zm8 1h1.9v1.9h-1.9zm4 -1h1.9v1.9h-1.9zm4 1h1.9v1.9h-1.9zm5 0h1.9v1.9h-1.9zm123 0h1.9v1.9h-1.9zm2 -1h1.9v1.9h-1.9zm9 0h1.9v1.9h-1.9zm4 0h1.9v1.9h-1.9zm4 0h1.9v1.9h-1.9zm3 0h1.9v1.9h-1.9zm1 1h1.9v1.9h-1.9zm5 -1h1.9v1.9h-1.9zm-178 3h1.9v1.9h-1.9zm11 0h1.9v1.9h-1.9zm2 -1h1.9v1.9h-1.9zm5 0h1.9v1.9h-1.9zm5 0h1.9v1.9h-1.9zm132 0h1.9v1.9h-1.9zm3 0h1.9v1.9h-1.9zm2 0h1.9v1.9h-1.9zm1 1h1.9v1.9h-1.9zm5 -1h1.9v1.9h-1.9zm1 1h1.9v1.9h-1.9zm9 0h1.9v1.9h-1.9zm4 0h1.9v1.9h-1.9zm9 -1h1.9v1.9h-1.9zm3 1h1.9v1.9h-1.9zm20 -1h1.9v1.9h-1.9zm-234 2h2.8v2.8h-2.8zm11 1h1.9v1.9h-1.9zm11 0h1.9v1.9h-1.9zm4 -1h1.9v1.9h-1.9zm2 0h1.9v1.9h-1.9zm1 1h1.9v1.9h-1.9zm5 -1h2.8v2.8h-2.8zm2 1h1.9v1.9h-1.9zm2 -1h1.9v1.9h-1.9zm3 0h1.9v1.9h-1.9zm3 1h1.9v1.9h-1.9zm2 -1h1.9v1.9h-1.9zm1 0h1.9v1.9h-1.9zm132 1h1.9v1.9h-1.9zm8 0h1.9v1.9h-1.9zm3 -1h1.9v1.9h-1.9zm2 1h1.9v1.9h-1.9zm3 0h1.9v1.9h-1.9zm7 -1h1.9v1.9h-1.9zm9 0h1.9v1.9h-1.9zm17 0h1.9v1.9h-1.9zm-221 2h1.9v1.9h-1.9zm17 0h1.9v1.9h-1.9zm2 0h1.9v1.9h-1.9zm10 0h1.9v1.9h-1.9zm1 0h1.9v1.9h-1.9zm2 0h1.9v1.9h-1.9zm140 0h1.9v1.9h-1.9zm6 1h2.8v2.8h-2.8zm3 0h2.8v2.8h-2.8zm1 0h1.9v1.9h-1.9zm2 -1h1.9v1.9h-1.9zm13 1h1.9v1.9h-1.9zm1 0h1.9v1.9h-1.9zm2 -1h1.9v1.9h-1.9zm8 0h1.9v1.9h-1.9zm13 1h1.9v1.9h-1.9zm-202 1h1.9v1.9h-1.9zm1 1h1.9v1.9h-1.9zm3 -1h1.9v1.9h-1.9zm4 1h1.9v1.9h-1.9zm149 -1h1.9v1.9h-1.9zm2 0h1.9v1.9h-1.9zm4 1h1.9v1.9h-1.9zm11 0h1.9v1.9h-1.9zm2 -1h1.9v1.9h-1.9zm10 0h1.9v1.9h-1.9zm9 1h1.9v1.9h-1.9zm-221 2h2.8v2.8h-2.8zm4 -1h1.9v1.9h-1.9zm9 0h1.9v1.9h-1.9zm10 0h1.9v1.9h-1.9zm5 0h2.8v2.8h-2.8zm3 0h1.9v1.9h-1.9zm2 1h1.9v1.9h-1.9zm2 -1h1.9v1.9h-1.9zm148 0h1.9v1.9h-1.9zm2 1h1.9v1.9h-1.9zm2 -1h1.9v1.9h-1.9zm3 0h1.9v1.9h-1.9zm6 0h1.9v1.9h-1.9zm5 0h1.9v1.9h-1.9zm15 0h1.9v1.9h-1.9zm7 1h1.9v1.9h-1.9zm11 0h1.9v1.9h-1.9zm-230 1h1.9v1.9h-1.9zm13 1h1.9v1.9h-1.9zm4 -1h1.9v1.9h-1.9zm6 1h1.9v1.9h-1.9zm3 -1h1.9v1.9h-1.9zm1 0h1.9v1.9h-1.9zm2 0h2.8v2.8h-2.8zm3 0h1.9v1.9h-1.9zm1 0h1.9v1.9h-1.9zm152 1h1.9v1.9h-1.9zm2 -1h1.9v1.9h-1.9zm2 1h1.9v1.9h-1.9zm4 -1h1.9v1.9h-1.9zm4 0h1.9v1.9h-1.9zm6 0h1.9v1.9h-1.9zm2 1h1.9v1.9h-1.9zm10 -1h1.9v1.9h-1.9zm-211 2h1.9v1.9h-1.9zm6 0h1.9v1.9h-1.9zm4 1h1.9v1.9h-1.9zm1 -1h1.9v1.9h-1.9zm3 0h1.9v1.9h-1.9zm7 1h1.9v1.9h-1.9zm5 -1h1.9v1.9h-1.9zm147 0h1.9v1.9h-1.9zm3 0h1.9v1.9h-1.9zm10 0h1.9v1.9h-1.9zm4 0h1.9v1.9h-1.9zm-179 3h1.9v1.9h-1.9zm4 -1h1.9v1.9h-1.9zm2 1h2.8v2.8h-2.8zm5 -1h1.9v1.9h-1.9zm1 0h1.9v1.9h-1.9zm2 0h1.9v1.9h-1.9zm2 1h1.9v1.9h-1.9zm155 0h2.8v2.8h-2.8zm9 -1h1.9v1.9h-1.9zm3 0h1.9v1.9h-1.9zm2 1h1.9v1.9h-1.9zm8 -1h1.9v1.9h-1.9zm3 1h1.9v1.9h-1.9zm30 0h1.9v1.9h-1.9zm116 -1h1.9v1.9h-1.9zm-355 2h1.9v1.9h-1.9zm9 0h1.9v1.9h-1.9zm5 1h1.9v1.9h-1.9zm1 -1h1.9v1.9h-1.9zm6 0h1.9v1.9h-1.9zm3 0h1.9v1.9h-1.9zm2 0h1.9v1.9h-1.9zm4 0h1.9v1.9h-1.9zm2 1h1.9v1.9h-1.9zm154 -1h1.9v1.9h-1.9zm2 1h1.9v1.9h-1.9zm2 -1h1.9v1.9h-1.9zm3 0h1.9v1.9h-1.9zm6 0h1.9v1.9h-1.9zm2 1h1.9v1.9h-1.9zm17 -1h1.9v1.9h-1.9zm129 1h1.9v1.9h-1.9zm-349 2h1.9v1.9h-1.9zm15 -1h1.9v1.9h-1.9zm5 0h1.9v1.9h-1.9zm1 1h1.9v1.9h-1.9zm4 -1h1.9v1.9h-1.9zm2 0h1.9v1.9h-1.9zm7 0h1.9v1.9h-1.9zm2 0h1.9v1.9h-1.9zm150 0h1.9v1.9h-1.9zm2 0h1.9v1.9h-1.9zm2 0h1.9v1.9h-1.9zm2 0h1.9v1.9h-1.9zm6 0h1.9v1.9h-1.9zm3 1h1.9v1.9h-1.9zm4 -1h1.9v1.9h-1.9zm12 0h1.9v1.9h-1.9zm13 0h1.9v1.9h-1.9zm-215 3h1.9v1.9h-1.9zm2 -1h1.9v1.9h-1.9zm3 0h1.9v1.9h-1.9zm2 0h1.9v1.9h-1.9zm1 0h1.9v1.9h-1.9zm4 0h1.9v1.9h-1.9zm2 1h1.9v1.9h-1.9zm7 -1h1.9v1.9h-1.9zm147 0h1.9v1.9h-1.9zm3 0h1.9v1.9h-1.9zm2 0h1.9v1.9h-1.9zm1 1h1.9v1.9h-1.9zm3 0h1.9v1.9h-1.9zm3 0h1.9v1.9h-1.9zm10 0h1.9v1.9h-1.9zm3 -1h1.9v1.9h-1.9zm10 1h1.9v1.9h-1.9zm-217 2h1.9v1.9h-1.9zm5 -1h1.9v1.9h-1.9zm2 1h1.9v1.9h-1.9zm11 0h1.9v1.9h-1.9zm5 -1h1.9v1.9h-1.9zm6 0h1.9v1.9h-1.9zm4 0h1.9v1.9h-1.9zm2 0h1.9v1.9h-1.9zm4 1h1.9v1.9h-1.9zm143 0h1.9v1.9h-1.9zm2 0h1.9v1.9h-1.9zm2 -1h1.9v1.9h-1.9zm2 0h1.9v1.9h-1.9zm2 0h1.9v1.9h-1.9zm2 1h1.9v1.9h-1.9zm4 -1h1.9v1.9h-1.9zm3 1h1.9v1.9h-1.9zm19 -1h1.9v1.9h-1.9zm6 0h1.9v1.9h-1.9zm54 0h1.9v1.9h-1.9zm-263 2h1.9v1.9h-1.9zm4 0h1.9v1.9h-1.9zm3 0h1.9v1.9h-1.9zm7 1h1.9v1.9h-1.9zm158 0h1.9v1.9h-1.9zm2 -1h1.9v1.9h-1.9zm2 0h1.9v1.9h-1.9zm1 0h1.9v1.9h-1.9zm3 1h1.9v1.9h-1.9zm4 -1h1.9v1.9h-1.9zm2 0h1.9v1.9h-1.9zm13 0h1.9v1.9h-1.9zm3 1h1.9v1.9h-1.9zm18 -1h1.9v1.9h-1.9zm-240 2h1.9v1.9h-1.9zm7 0h1.9v1.9h-1.9zm23 1h1.9v1.9h-1.9zm1 -1h1.9v1.9h-1.9zm2 1h1.9v1.9h-1.9zm3 -1h2.8v2.8h-2.8zm154 1h1.9v1.9h-1.9zm4 0h1.9v1.9h-1.9zm1 -1h1.9v1.9h-1.9zm3 0h2.8v2.8h-2.8zm18 0h1.9v1.9h-1.9zm18 0h1.9v1.9h-1.9zm1 0h1.9v1.9h-1.9zm-235 2h1.9v1.9h-1.9zm3 0h1.9v1.9h-1.9zm8 1h1.9v1.9h-1.9zm14 -1h1.9v1.9h-1.9zm5 1h1.9v1.9h-1.9zm1 -1h1.9v1.9h-1.9zm2 0h1.9v1.9h-1.9zm5 0h1.9v1.9h-1.9zm152 1h1.9v1.9h-1.9zm1 -1h1.9v1.9h-1.9zm2 0h1.9v1.9h-1.9zm2 1h1.9v1.9h-1.9zm6 -1h1.9v1.9h-1.9zm4 0h1.9v1.9h-1.9zm6 1h1.9v1.9h-1.9zm5 0h1.9v1.9h-1.9zm1 -1h1.9v1.9h-1.9zm6 0h1.9v1.9h-1.9zm3 1h1.9v1.9h-1.9zm20 0h1.9v1.9h-1.9zm-239 1h1.9v1.9h-1.9zm3 0h1.9v1.9h-1.9zm12 1h1.9v1.9h-1.9zm3 -1h1.9v1.9h-1.9zm4 0h1.9v1.9h-1.9zm2 0h1.9v1.9h-1.9zm2 0h1.9v1.9h-1.9zm151 1h1.9v1.9h-1.9zm5 -1h1.9v1.9h-1.9zm5 0h2.8v2.8h-2.8zm1 0h1.9v1.9h-1.9zm4 1h1.9v1.9h-1.9zm2 0h1.9v1.9h-1.9zm2 -1h1.9v1.9h-1.9zm14 0h1.9v1.9h-1.9zm25 0h1.9v1.9h-1.9zm3 1h1.9v1.9h-1.9zm13 0h1.9v1.9h-1.9zm-239 2h1.9v1.9h-1.9zm7 -1h1.9v1.9h-1.9zm4 1h2.8v2.8h-2.8zm4 0h1.9v1.9h-1.9zm2 -1h1.9v1.9h-1.9zm1 1h1.9v1.9h-1.9zm149 0h1.9v1.9h-1.9zm4 -1h1.9v1.9h-1.9zm2 0h1.9v1.9h-1.9zm5 0h1.9v1.9h-1.9zm2 0h1.9v1.9h-1.9zm9 0h1.9v1.9h-1.9zm10 1h1.9v1.9h-1.9zm1 -1h1.9v1.9h-1.9zm2 1h1.9v1.9h-1.9zm5 0h1.9v1.9h-1.9zm12 0h1.9v1.9h-1.9zm6 -1h1.9v1.9h-1.9zm-241 2h1.9v1.9h-1.9zm5 1h1.9v1.9h-1.9zm4 -1h1.9v1.9h-1.9zm2 0h1.9v1.9h-1.9zm1 1h1.9v1.9h-1.9zm11 -1h1.9v1.9h-1.9zm1 1h1.9v1.9h-1.9zm10 0h1.9v1.9h-1.9zm7 -1h1.9v1.9h-1.9zm140 1h1.9v1.9h-1.9zm4 0h1.9v1.9h-1.9zm4 0h1.9v1.9h-1.9zm2 0h1.9v1.9h-1.9zm3 -1h2.8v2.8h-2.8zm2 0h1.9v1.9h-1.9zm-180 2h1.9v1.9h-1.9zm4 0h1.9v1.9h-1.9zm5 1h1.9v1.9h-1.9zm5 -1h1.9v1.9h-1.9zm3 0h1.9v1.9h-1.9zm2 0h1.9v1.9h-1.9zm151 0h1.9v1.9h-1.9zm3 0h1.9v1.9h-1.9zm1 1h1.9v1.9h-1.9zm5 -1h1.9v1.9h-1.9zm2 0h1.9v1.9h-1.9zm3 0h1.9v1.9h-1.9zm5 1h1.9v1.9h-1.9zm67 -1h1.9v1.9h-1.9zm-260 3h1.9v1.9h-1.9zm15 -1h1.9v1.9h-1.9zm1 0h1.9v1.9h-1.9zm2 1h2.8v2.8h-2.8zm4 -1h1.9v1.9h-1.9zm3 1h1.9v1.9h-1.9zm2 -1h1.9v1.9h-1.9zm1 1h1.9v1.9h-1.9zm141 -1h1.9v1.9h-1.9zm2 1h1.9v1.9h-1.9zm1 -1h1.9v1.9h-1.9zm4 0h1.9v1.9h-1.9zm3 1h1.9v1.9h-1.9zm2 0h1.9v1.9h-1.9zm2 -1h1.9v1.9h-1.9zm4 0h1.9v1.9h-1.9zm3 0h1.9v1.9h-1.9zm2 1h1.9v1.9h-1.9zm8 0h1.9v1.9h-1.9zm5 -1h1.9v1.9h-1.9zm1 0h1.9v1.9h-1.9zm-207 2h1.9v1.9h-1.9zm2 1h1.9v1.9h-1.9zm10 -1h1.9v1.9h-1.9zm3 0h1.9v1.9h-1.9zm3 0h1.9v1.9h-1.9zm3 1h1.9v1.9h-1.9zm2 -1h1.9v1.9h-1.9zm2 0h1.9v1.9h-1.9zm2 1h1.9v1.9h-1.9zm138 -1h1.9v1.9h-1.9zm10 1h1.9v1.9h-1.9zm5 -1h1.9v1.9h-1.9zm1 1h1.9v1.9h-1.9zm24 -1h1.9v1.9h-1.9zm2 0h1.9v1.9h-1.9zm27 1h1.9v1.9h-1.9zm-226 1h1.9v1.9h-1.9zm2 1h1.9v1.9h-1.9zm1 0h1.9v1.9h-1.9zm2 0h1.9v1.9h-1.9zm3 0h1.9v1.9h-1.9zm1 -1h1.9v1.9h-1.9zm3 0h1.9v1.9h-1.9zm4 0h1.9v1.9h-1.9zm3 1h1.9v1.9h-1.9zm2 -1h1.9v1.9h-1.9zm143 0h1.9v1.9h-1.9zm2 1h1.9v1.9h-1.9zm2 -1h1.9v1.9h-1.9zm8 1h1.9v1.9h-1.9zm1 0h2.8v2.8h-2.8zm8 -1h1.9v1.9h-1.9zm3 0h1.9v1.9h-1.9zm1 1h1.9v1.9h-1.9zm35 -1h1.9v1.9h-1.9zm-245 2h2.8v2.8h-2.8zm18 1h1.9v1.9h-1.9zm7 0h1.9v1.9h-1.9zm3 0h1.9v1.9h-1.9zm7 0h1.9v1.9h-1.9zm5 0h1.9v1.9h-1.9zm4 -1h1.9v1.9h-1.9zm141 1h1.9v1.9h-1.9zm9 0h1.9v1.9h-1.9zm2 -1h1.9v1.9h-1.9zm2 1h1.9v1.9h-1.9zm2 -1h1.9v1.9h-1.9zm2 0h1.9v1.9h-1.9zm2 0h2.8v2.8h-2.8zm4 0h1.9v1.9h-1.9zm3 1h1.9v1.9h-1.9zm4 -1h1.9v1.9h-1.9zm1 0h1.9v1.9h-1.9zm3 1h1.9v1.9h-1.9zm11 -1h1.9v1.9h-1.9zm2 0h1.9v1.9h-1.9zm18 1h1.9v1.9h-1.9zm-237 2h1.9v1.9h-1.9zm7 0h1.9v1.9h-1.9zm6 -1h1.9v1.9h-1.9zm8 1h1.9v1.9h-1.9zm9 -1h1.9v1.9h-1.9zm1 0h1.9v1.9h-1.9zm7 0h1.9v1.9h-1.9zm4 1h1.9v1.9h-1.9zm122 0h1.9v1.9h-1.9zm8 0h1.9v1.9h-1.9zm4 -1h1.9v1.9h-1.9zm7 0h1.9v1.9h-1.9zm4 0h1.9v1.9h-1.9zm3 0h1.9v1.9h-1.9zm6 1h1.9v1.9h-1.9zm1 -1h1.9v1.9h-1.9zm3 0h1.9v1.9h-1.9zm2 0h1.9v1.9h-1.9zm7 0h1.9v1.9h-1.9zm35 1h1.9v1.9h-1.9zm-243 1h1.9v1.9h-1.9zm3 0h1.9v1.9h-1.9zm7 1h1.9v1.9h-1.9zm8 0h1.9v1.9h-1.9zm3 0h1.9v1.9h-1.9zm4 -1h1.9v1.9h-1.9zm2 1h1.9v1.9h-1.9zm7 -1h1.9v1.9h-1.9zm11 0h1.9v1.9h-1.9zm120 0h1.9v1.9h-1.9zm7 0h2.8v2.8h-2.8zm2 0h2.8v2.8h-2.8zm2 0h1.9v1.9h-1.9zm9 0h2.8v2.8h-2.8zm1 1h1.9v1.9h-1.9zm6 0h1.9v1.9h-1.9zm7 0h1.9v1.9h-1.9zm6 0h1.9v1.9h-1.9zm18 -1h1.9v1.9h-1.9zm-206 3h1.9v1.9h-1.9zm1 -1h1.9v1.9h-1.9zm3 1h1.9v1.9h-1.9zm3 -1h1.9v1.9h-1.9zm7 0h1.9v1.9h-1.9zm1 0h1.9v1.9h-1.9zm2 1h1.9v1.9h-1.9zm5 0h1.9v1.9h-1.9zm4 -1h1.9v1.9h-1.9zm111 0h1.9v1.9h-1.9zm5 0h1.9v1.9h-1.9zm9 0h1.9v1.9h-1.9zm3 1h2.8v2.8h-2.8zm9 0h1.9v1.9h-1.9zm2 -1h1.9v1.9h-1.9zm33 1h1.9v1.9h-1.9zm-215 1h1.9v1.9h-1.9zm6 0h1.9v1.9h-1.9zm9 0h1.9v1.9h-1.9zm9 0h1.9v1.9h-1.9zm3 0h1.9v1.9h-1.9zm1 1h1.9v1.9h-1.9zm2 0h1.9v1.9h-1.9zm9 0h2.8v2.8h-2.8zm2 -1h1.9v1.9h-1.9zm124 0h1.9v1.9h-1.9zm3 0h1.9v1.9h-1.9zm4 0h1.9v1.9h-1.9zm3 0h1.9v1.9h-1.9zm3 0h1.9v1.9h-1.9zm3 0h1.9v1.9h-1.9zm3 1h1.9v1.9h-1.9zm3 -1h1.9v1.9h-1.9zm27 0h1.9v1.9h-1.9zm7 1h1.9v1.9h-1.9zm11 0h1.9v1.9h-1.9zm-217 1h1.9v1.9h-1.9zm2 0h2.8v2.8h-2.8zm2 0h1.9v1.9h-1.9zm2 0h1.9v1.9h-1.9zm1 1h1.9v1.9h-1.9zm4 0h1.9v1.9h-1.9zm2 -1h1.9v1.9h-1.9zm7 0h1.9v1.9h-1.9zm2 0h1.9v1.9h-1.9zm3 0h1.9v1.9h-1.9zm5 0h1.9v1.9h-1.9zm4 0h1.9v1.9h-1.9zm107 0h2.8v2.8h-2.8zm7 0h1.9v1.9h-1.9zm2 0h1.9v1.9h-1.9zm1 0h1.9v1.9h-1.9zm3 0h1.9v1.9h-1.9zm3 1h1.9v1.9h-1.9zm2 0h1.9v1.9h-1.9zm2 -1h1.9v1.9h-1.9zm2 0h1.9v1.9h-1.9zm6 0h1.9v1.9h-1.9zm3 0h2.8v2.8h-2.8zm8 0h1.9v1.9h-1.9zm10 1h1.9v1.9h-1.9zm-219 1h1.9v1.9h-1.9zm6 0h1.9v1.9h-1.9zm14 0h1.9v1.9h-1.9zm9 1h1.9v1.9h-1.9zm1 -1h1.9v1.9h-1.9zm11 1h1.9v1.9h-1.9zm4 0h1.9v1.9h-1.9zm3 -1h1.9v1.9h-1.9zm2 0h1.9v1.9h-1.9zm7 0h1.9v1.9h-1.9zm6 1h1.9v1.9h-1.9zm101 0h1.9v1.9h-1.9zm14 -1h2.8v2.8h-2.8zm2 1h1.9v1.9h-1.9zm3 0h1.9v1.9h-1.9zm2 -1h1.9v1.9h-1.9zm9 1h1.9v1.9h-1.9zm3 -1h1.9v1.9h-1.9zm5 0h1.9v1.9h-1.9zm3 0h1.9v1.9h-1.9zm1 0h1.9v1.9h-1.9zm3 0h1.9v1.9h-1.9zm12 1h1.9v1.9h-1.9zm-199 2h1.9v1.9h-1.9zm2 -1h1.9v1.9h-1.9zm3 0h1.9v1.9h-1.9zm4 0h1.9v1.9h-1.9zm4 1h1.9v1.9h-1.9zm1 -1h1.9v1.9h-1.9zm5 0h1.9v1.9h-1.9zm1 0h1.9v1.9h-1.9zm6 0h1.9v1.9h-1.9zm2 1h1.9v1.9h-1.9zm3 -1h1.9v1.9h-1.9zm5 0h1.9v1.9h-1.9zm3 0h1.9v1.9h-1.9zm105 0h1.9v1.9h-1.9zm13 0h2.8v2.8h-2.8zm1 0h1.9v1.9h-1.9zm2 0h1.9v1.9h-1.9zm2 0h1.9v1.9h-1.9zm2 0h1.9v1.9h-1.9zm3 1h2.8v2.8h-2.8zm4 -1h1.9v1.9h-1.9zm2 1h1.9v1.9h-1.9zm1 -1h1.9v1.9h-1.9zm3 0h1.9v1.9h-1.9zm2 0h1.9v1.9h-1.9zm8 0h1.9v1.9h-1.9zm-170 2h2.8v2.8h-2.8zm4 0h1.9v1.9h-1.9zm1 0h1.9v1.9h-1.9zm4 1h1.9v1.9h-1.9zm2 -1h1.9v1.9h-1.9zm7 0h1.9v1.9h-1.9zm106 0h1.9v1.9h-1.9zm10 1h1.9v1.9h-1.9zm4 -1h1.9v1.9h-1.9zm4 0h1.9v1.9h-1.9zm1 1h1.9v1.9h-1.9zm4 0h1.9v1.9h-1.9zm3 0h1.9v1.9h-1.9zm4 -1h1.9v1.9h-1.9zm4 0h1.9v1.9h-1.9zm3 0h1.9v1.9h-1.9zm8 0h1.9v1.9h-1.9zm6 1h1.9v1.9h-1.9zm3 -1h1.9v1.9h-1.9zm-192 2h1.9v1.9h-1.9zm7 1h1.9v1.9h-1.9zm5 -1h1.9v1.9h-1.9zm4 0h1.9v1.9h-1.9zm3 1h1.9v1.9h-1.9zm3 -1h1.9v1.9h-1.9zm8 1h1.9v1.9h-1.9zm4 -1h1.9v1.9h-1.9zm2 0h1.9v1.9h-1.9zm2 1h1.9v1.9h-1.9zm92 -1h1.9v1.9h-1.9zm3 1h1.9v1.9h-1.9zm4 -1h2.8v2.8h-2.8zm5 1h1.9v1.9h-1.9zm13 0h1.9v1.9h-1.9zm2 -1h2.8v2.8h-2.8zm3 0h1.9v1.9h-1.9zm3 0h1.9v1.9h-1.9zm3 0h1.9v1.9h-1.9zm13 0h1.9v1.9h-1.9zm2 1h1.9v1.9h-1.9zm7 0h2.8v2.8h-2.8zm6 -1h1.9v1.9h-1.9zm8 0h1.9v1.9h-1.9zm12 1h1.9v1.9h-1.9zm-210 1h1.9v1.9h-1.9zm4 0h1.9v1.9h-1.9zm2 1h1.9v1.9h-1.9zm5 -1h1.9v1.9h-1.9zm4 1h1.9v1.9h-1.9zm2 -1h1.9v1.9h-1.9zm3 0h1.9v1.9h-1.9zm5 0h1.9v1.9h-1.9zm2 0h1.9v1.9h-1.9zm5 0h1.9v1.9h-1.9zm2 0h1.9v1.9h-1.9zm16 0h1.9v1.9h-1.9zm81 0h1.9v1.9h-1.9zm6 0h1.9v1.9h-1.9zm4 1h1.9v1.9h-1.9zm4 0h1.9v1.9h-1.9zm2 0h1.9v1.9h-1.9zm2 -1h1.9v1.9h-1.9zm3 1h1.9v1.9h-1.9zm5 -1h1.9v1.9h-1.9zm4 0h1.9v1.9h-1.9zm3 0h1.9v1.9h-1.9zm7 0h1.9v1.9h-1.9zm11 1h1.9v1.9h-1.9zm3 0h1.9v1.9h-1.9zm11 -1h1.9v1.9h-1.9zm-203 2h1.9v1.9h-1.9zm5 1h1.9v1.9h-1.9zm9 0h1.9v1.9h-1.9zm3 -1h1.9v1.9h-1.9zm3 0h1.9v1.9h-1.9zm3 1h1.9v1.9h-1.9zm2 0h1.9v1.9h-1.9zm3 -1h1.9v1.9h-1.9zm3 0h1.9v1.9h-1.9zm2 0h1.9v1.9h-1.9zm2 0h1.9v1.9h-1.9zm4 0h1.9v1.9h-1.9zm3 0h1.9v1.9h-1.9zm11 0h1.9v1.9h-1.9zm80 1h1.9v1.9h-1.9zm3 -1h1.9v1.9h-1.9zm9 1h1.9v1.9h-1.9zm5 0h1.9v1.9h-1.9zm3 0h1.9v1.9h-1.9zm4 0h1.9v1.9h-1.9zm1 -1h1.9v1.9h-1.9zm3 0h2.8v2.8h-2.8zm2 0h1.9v1.9h-1.9zm1 0h1.9v1.9h-1.9zm2 0h1.9v1.9h-1.9zm2 0h1.9v1.9h-1.9zm3 1h1.9v1.9h-1.9zm13 0h1.9v1.9h-1.9zm5 -1h1.9v1.9h-1.9zm92 1h1.9v1.9h-1.9zm-265 1h1.9v1.9h-1.9zm8 0h1.9v1.9h-1.9zm3 0h2.8v2.8h-2.8zm4 0h1.9v1.9h-1.9zm2 0h1.9v1.9h-1.9zm2 0h1.9v1.9h-1.9zm2 1h1.9v1.9h-1.9zm1 -1h1.9v1.9h-1.9zm8 1h1.9v1.9h-1.9zm9 -1h1.9v1.9h-1.9zm15 0h1.9v1.9h-1.9zm51 1h1.9v1.9h-1.9zm26 -1h2.8v2.8h-2.8zm1 0h1.9v1.9h-1.9zm8 0h1.9v1.9h-1.9zm8 0h1.9v1.9h-1.9zm2 0h1.9v1.9h-1.9zm3 1h1.9v1.9h-1.9zm6 0h1.9v1.9h-1.9zm7 -1h1.9v1.9h-1.9zm3 1h1.9v1.9h-1.9zm1 0h1.9v1.9h-1.9zm10 -1h1.9v1.9h-1.9zm-201 2h1.9v1.9h-1.9zm1 1h1.9v1.9h-1.9zm3 0h1.9v1.9h-1.9zm11 -1h2.8v2.8h-2.8zm4 0h1.9v1.9h-1.9zm7 1h1.9v1.9h-1.9zm2 0h1.9v1.9h-1.9zm2 0h1.9v1.9h-1.9zm5 0h1.9v1.9h-1.9zm5 -1h1.9v1.9h-1.9zm4 0h1.9v1.9h-1.9zm1 0h1.9v1.9h-1.9zm3 0h1.9v1.9h-1.9zm1 0h1.9v1.9h-1.9zm3 0h1.9v1.9h-1.9zm12 1h1.9v1.9h-1.9zm13 -1h1.9v1.9h-1.9zm40 0h1.9v1.9h-1.9zm29 1h1.9v1.9h-1.9zm1 -1h1.9v1.9h-1.9zm2 0h1.9v1.9h-1.9zm5 0h1.9v1.9h-1.9zm2 0h1.9v1.9h-1.9zm6 0h1.9v1.9h-1.9zm2 0h1.9v1.9h-1.9zm3 1h2.8v2.8h-2.8zm3 -1h1.9v1.9h-1.9zm4 0h1.9v1.9h-1.9zm4 1h1.9v1.9h-1.9zm3 0h1.9v1.9h-1.9zm3 0h1.9v1.9h-1.9zm2 0h2.8v2.8h-2.8zm13 -1h2.8v2.8h-2.8zm3 0h1.9v1.9h-1.9zm4 0h1.9v1.9h-1.9zm9 0h1.9v1.9h-1.9zm34 1h1.9v1.9h-1.9zm-231 1h1.9v1.9h-1.9zm6 0h1.9v1.9h-1.9zm3 1h1.9v1.9h-1.9zm2 0h1.9v1.9h-1.9zm14 -1h1.9v1.9h-1.9zm3 0h2.8v2.8h-2.8zm3 1h1.9v1.9h-1.9zm2 -1h1.9v1.9h-1.9zm5 1h1.9v1.9h-1.9zm5 0h1.9v1.9h-1.9zm59 0h1.9v1.9h-1.9zm24 0h2.8v2.8h-2.8zm4 0h1.9v1.9h-1.9zm10 -1h1.9v1.9h-1.9zm8 0h1.9v1.9h-1.9zm6 1h1.9v1.9h-1.9zm1 -1h1.9v1.9h-1.9zm3 0h1.9v1.9h-1.9zm10 0h1.9v1.9h-1.9zm6 0h1.9v1.9h-1.9zm6 1h1.9v1.9h-1.9zm6 0h1.9v1.9h-1.9zm6 -1h1.9v1.9h-1.9zm1 0h1.9v1.9h-1.9zm11 0h1.9v1.9h-1.9zm-239 3h2.8v2.8h-2.8zm6 0h1.9v1.9h-1.9zm16 0h1.9v1.9h-1.9zm8 0h1.9v1.9h-1.9zm3 -1h1.9v1.9h-1.9zm3 0h1.9v1.9h-1.9zm2 1h1.9v1.9h-1.9zm2 -1h1.9v1.9h-1.9zm3 0h1.9v1.9h-1.9zm11 0h1.9v1.9h-1.9zm3 0h1.9v1.9h-1.9zm2 1h1.9v1.9h-1.9zm1 -1h1.9v1.9h-1.9zm2 1h2.8v2.8h-2.8zm2 0h1.9v1.9h-1.9zm2 0h2.8v2.8h-2.8zm2 -1h1.9v1.9h-1.9zm2 0h1.9v1.9h-1.9zm2 0h1.9v1.9h-1.9zm5 0h1.9v1.9h-1.9zm6 0h1.9v1.9h-1.9zm21 0h1.9v1.9h-1.9zm39 1h1.9v1.9h-1.9zm16 -1h1.9v1.9h-1.9zm1 1h1.9v1.9h-1.9zm5 -1h1.9v1.9h-1.9zm5 1h1.9v1.9h-1.9zm3 -1h2.8v2.8h-2.8zm5 0h1.9v1.9h-1.9zm3 1h1.9v1.9h-1.9zm15 -1h1.9v1.9h-1.9zm12 1h1.9v1.9h-1.9zm6 -1h1.9v1.9h-1.9zm25 0h1.9v1.9h-1.9zm55 0h1.9v1.9h-1.9zm-286 2h1.9v1.9h-1.9zm16 0h1.9v1.9h-1.9zm2 0h2.8v2.8h-2.8zm12 1h1.9v1.9h-1.9zm4 -1h1.9v1.9h-1.9zm3 1h1.9v1.9h-1.9zm3 -1h1.9v1.9h-1.9zm4 0h1.9v1.9h-1.9zm4 1h1.9v1.9h-1.9zm2 0h1.9v1.9h-1.9zm3 0h1.9v1.9h-1.9zm1 -1h1.9v1.9h-1.9zm3 0h1.9v1.9h-1.9zm4 1h1.9v1.9h-1.9zm2 -1h1.9v1.9h-1.9zm2 0h1.9v1.9h-1.9zm4 0h1.9v1.9h-1.9zm2 0h2.8v2.8h-2.8zm1 1h1.9v1.9h-1.9zm2 -1h1.9v1.9h-1.9zm13 0h1.9v1.9h-1.9zm19 0h1.9v1.9h-1.9zm2 0h1.9v1.9h-1.9zm6 0h1.9v1.9h-1.9zm21 1h1.9v1.9h-1.9zm10 -1h1.9v1.9h-1.9zm1 1h2.8v2.8h-2.8zm4 -1h1.9v1.9h-1.9zm2 0h1.9v1.9h-1.9zm2 0h1.9v1.9h-1.9zm17 1h1.9v1.9h-1.9zm13 0h1.9v1.9h-1.9zm7 0h1.9v1.9h-1.9zm11 -1h1.9v1.9h-1.9zm6 0h1.9v1.9h-1.9zm47 0h1.9v1.9h-1.9zm-236 2h1.9v1.9h-1.9zm18 0h1.9v1.9h-1.9zm2 0h1.9v1.9h-1.9zm2 0h1.9v1.9h-1.9zm4 0h1.9v1.9h-1.9zm6 1h1.9v1.9h-1.9zm1 -1h1.9v1.9h-1.9zm2 1h1.9v1.9h-1.9zm2 -1h1.9v1.9h-1.9zm2 0h1.9v1.9h-1.9zm3 1h1.9v1.9h-1.9zm2 0h1.9v1.9h-1.9zm5 -1h1.9v1.9h-1.9zm3 0h1.9v1.9h-1.9zm4 1h1.9v1.9h-1.9zm16 0h1.9v1.9h-1.9zm1 -1h1.9v1.9h-1.9zm8 1h1.9v1.9h-1.9zm10 0h1.9v1.9h-1.9zm24 0h1.9v1.9h-1.9zm3 -1h1.9v1.9h-1.9zm6 1h1.9v1.9h-1.9zm4 0h1.9v1.9h-1.9zm2 0h1.9v1.9h-1.9zm1 0h1.9v1.9h-1.9zm3 -1h1.9v1.9h-1.9zm1 0h1.9v1.9h-1.9zm2 0h1.9v1.9h-1.9zm3 1h1.9v1.9h-1.9zm2 -1h1.9v1.9h-1.9zm12 1h1.9v1.9h-1.9zm3 0h1.9v1.9h-1.9zm4 -1h1.9v1.9h-1.9zm3 0h1.9v1.9h-1.9zm9 0h1.9v1.9h-1.9zm2 0h1.9v1.9h-1.9zm11 0h1.9v1.9h-1.9zm51 0h1.9v1.9h-1.9zm31 1h1.9v1.9h-1.9zm-279 1h1.9v1.9h-1.9zm14 0h1.9v1.9h-1.9zm3 0h1.9v1.9h-1.9zm3 1h2.8v2.8h-2.8zm8 -1h1.9v1.9h-1.9zm2 0h1.9v1.9h-1.9zm7 1h1.9v1.9h-1.9zm4 0h1.9v1.9h-1.9zm4 0h1.9v1.9h-1.9zm1 -1h2.8v2.8h-2.8zm2 0h1.9v1.9h-1.9zm2 1h1.9v1.9h-1.9zm3 -1h1.9v1.9h-1.9zm1 0h1.9v1.9h-1.9zm2 0h1.9v1.9h-1.9zm2 1h1.9v1.9h-1.9zm3 0h1.9v1.9h-1.9zm1 -1h1.9v1.9h-1.9zm2 1h1.9v1.9h-1.9zm3 0h2.8v2.8h-2.8zm2 -1h1.9v1.9h-1.9zm1 1h1.9v1.9h-1.9zm36 -1h1.9v1.9h-1.9zm16 0h1.9v1.9h-1.9zm24 0h1.9v1.9h-1.9zm2 0h1.9v1.9h-1.9zm3 1h1.9v1.9h-1.9zm3 0h1.9v1.9h-1.9zm2 -1h1.9v1.9h-1.9zm3 0h1.9v1.9h-1.9zm1 0h1.9v1.9h-1.9zm9 1h2.8v2.8h-2.8zm7 -1h1.9v1.9h-1.9zm13 0h2.8v2.8h-2.8zm11 0h1.9v1.9h-1.9zm-189 3h1.9v1.9h-1.9zm7 0h1.9v1.9h-1.9zm3 0h1.9v1.9h-1.9zm1 -1h1.9v1.9h-1.9zm3 0h1.9v1.9h-1.9zm2 0h1.9v1.9h-1.9zm12 1h1.9v1.9h-1.9zm8 0h1.9v1.9h-1.9zm1 0h1.9v1.9h-1.9zm3 -1h1.9v1.9h-1.9zm1 1h1.9v1.9h-1.9zm2 0h1.9v1.9h-1.9zm3 0h1.9v1.9h-1.9zm3 0h1.9v1.9h-1.9zm3 -1h1.9v1.9h-1.9zm2 0h1.9v1.9h-1.9zm1 0h1.9v1.9h-1.9zm3 1h1.9v1.9h-1.9zm1 -1h1.9v1.9h-1.9zm23 1h1.9v1.9h-1.9zm2 0h1.9v1.9h-1.9zm16 -1h1.9v1.9h-1.9zm2 1h1.9v1.9h-1.9zm3 -1h1.9v1.9h-1.9zm3 0h1.9v1.9h-1.9zm5 0h1.9v1.9h-1.9zm3 1h1.9v1.9h-1.9zm1 -1h1.9v1.9h-1.9zm8 0h1.9v1.9h-1.9zm4 0h1.9v1.9h-1.9zm4 1h1.9v1.9h-1.9zm2 -1h1.9v1.9h-1.9zm2 0h1.9v1.9h-1.9zm2 0h1.9v1.9h-1.9zm3 0h1.9v1.9h-1.9zm11 0h1.9v1.9h-1.9zm5 0h1.9v1.9h-1.9zm2 1h1.9v1.9h-1.9zm6 0h1.9v1.9h-1.9zm7 0h1.9v1.9h-1.9zm8 -1h1.9v1.9h-1.9zm4 0h1.9v1.9h-1.9zm-167 2h1.9v1.9h-1.9zm10 0h1.9v1.9h-1.9zm8 1h1.9v1.9h-1.9zm1 -1h1.9v1.9h-1.9zm5 0h1.9v1.9h-1.9zm3 1h1.9v1.9h-1.9zm4 0h1.9v1.9h-1.9zm2 0h1.9v1.9h-1.9zm3 -1h1.9v1.9h-1.9zm2 1h1.9v1.9h-1.9zm3 -1h1.9v1.9h-1.9zm6 0h1.9v1.9h-1.9zm3 0h1.9v1.9h-1.9zm7 0h1.9v1.9h-1.9zm12 0h1.9v1.9h-1.9zm8 1h1.9v1.9h-1.9zm9 -1h1.9v1.9h-1.9zm12 1h1.9v1.9h-1.9zm3 -1h1.9v1.9h-1.9zm10 0h2.8v2.8h-2.8zm3 0h1.9v1.9h-1.9zm2 0h2.8v2.8h-2.8zm4 0h1.9v1.9h-1.9zm9 1h1.9v1.9h-1.9zm2 0h1.9v1.9h-1.9zm5 -1h1.9v1.9h-1.9zm10 0h1.9v1.9h-1.9zm4 1h1.9v1.9h-1.9zm2 -1h1.9v1.9h-1.9zm33 0h1.9v1.9h-1.9zm40 0h1.9v1.9h-1.9zm-255 3h1.9v1.9h-1.9zm11 -1h1.9v1.9h-1.9zm3 0h1.9v1.9h-1.9zm23 1h1.9v1.9h-1.9zm6 0h1.9v1.9h-1.9zm2 0h1.9v1.9h-1.9zm4 0h1.9v1.9h-1.9zm2 0h1.9v1.9h-1.9zm2 -1h1.9v1.9h-1.9zm4 1h1.9v1.9h-1.9zm6 0h1.9v1.9h-1.9zm3 -1h1.9v1.9h-1.9zm2 1h1.9v1.9h-1.9zm5 0h1.9v1.9h-1.9zm5 -1h1.9v1.9h-1.9zm8 0h1.9v1.9h-1.9zm10 1h1.9v1.9h-1.9zm2 -1h1.9v1.9h-1.9zm6 1h1.9v1.9h-1.9zm4 -1h1.9v1.9h-1.9zm2 0h1.9v1.9h-1.9zm8 0h1.9v1.9h-1.9zm13 1h1.9v1.9h-1.9zm5 -1h1.9v1.9h-1.9zm2 1h1.9v1.9h-1.9zm1 0h1.9v1.9h-1.9zm2 -1h1.9v1.9h-1.9zm2 1h1.9v1.9h-1.9zm3 0h1.9v1.9h-1.9zm2 -1h1.9v1.9h-1.9zm2 0h1.9v1.9h-1.9zm16 0h1.9v1.9h-1.9zm11 0h1.9v1.9h-1.9zm7 0h1.9v1.9h-1.9zm2 0h1.9v1.9h-1.9zm3 0h1.9v1.9h-1.9zm-180 2h1.9v1.9h-1.9zm5 1h1.9v1.9h-1.9zm2 -1h1.9v1.9h-1.9zm2 0h2.8v2.8h-2.8zm9 1h1.9v1.9h-1.9zm12 0h1.9v1.9h-1.9zm7 0h1.9v1.9h-1.9zm1 0h1.9v1.9h-1.9zm3 -1h1.9v1.9h-1.9zm3 0h1.9v1.9h-1.9zm3 0h1.9v1.9h-1.9zm2 0h1.9v1.9h-1.9zm2 0h1.9v1.9h-1.9zm2 0h1.9v1.9h-1.9zm1 1h1.9v1.9h-1.9zm3 -1h1.9v1.9h-1.9zm2 1h1.9v1.9h-1.9zm3 0h1.9v1.9h-1.9zm3 -1h1.9v1.9h-1.9zm6 0h1.9v1.9h-1.9zm2 0h1.9v1.9h-1.9zm6 1h1.9v1.9h-1.9zm2 -1h1.9v1.9h-1.9zm4 1h1.9v1.9h-1.9zm5 0h1.9v1.9h-1.9zm4 0h2.8v2.8h-2.8zm17 -1h1.9v1.9h-1.9zm1 0h1.9v1.9h-1.9zm9 0h1.9v1.9h-1.9zm1 0h1.9v1.9h-1.9zm2 0h1.9v1.9h-1.9zm5 1h1.9v1.9h-1.9zm2 -1h1.9v1.9h-1.9zm2 0h1.9v1.9h-1.9zm3 1h1.9v1.9h-1.9zm2 0h1.9v1.9h-1.9zm6 -1h1.9v1.9h-1.9zm5 0h1.9v1.9h-1.9zm1 0h1.9v1.9h-1.9zm2 1h1.9v1.9h-1.9zm8 -1h1.9v1.9h-1.9zm10 0h1.9v1.9h-1.9zm5 1h1.9v1.9h-1.9zm1 -1h1.9v1.9h-1.9zm15 1h1.9v1.9h-1.9zm9 0h1.9v1.9h-1.9zm-202 2h1.9v1.9h-1.9zm6 -1h1.9v1.9h-1.9zm5 0h1.9v1.9h-1.9zm3 1h1.9v1.9h-1.9zm2 -1h1.9v1.9h-1.9zm9 0h2.8v2.8h-2.8zm3 1h1.9v1.9h-1.9zm7 0h2.8v2.8h-2.8zm7 -1h1.9v1.9h-1.9zm2 0h1.9v1.9h-1.9zm3 1h1.9v1.9h-1.9zm6 0h1.9v1.9h-1.9zm5 -1h1.9v1.9h-1.9zm3 0h1.9v1.9h-1.9zm2 0h1.9v1.9h-1.9zm4 1h1.9v1.9h-1.9zm1 0h1.9v1.9h-1.9zm5 -1h1.9v1.9h-1.9zm1 1h1.9v1.9h-1.9zm4 -1h1.9v1.9h-1.9zm8 0h1.9v1.9h-1.9zm3 1h1.9v1.9h-1.9zm1 0h1.9v1.9h-1.9zm5 -1h1.9v1.9h-1.9zm6 0h1.9v1.9h-1.9zm6 0h1.9v1.9h-1.9zm2 0h1.9v1.9h-1.9zm2 0h2.8v2.8h-2.8zm4 1h1.9v1.9h-1.9zm3 -1h1.9v1.9h-1.9zm3 1h1.9v1.9h-1.9zm1 -1h1.9v1.9h-1.9zm4 0h1.9v1.9h-1.9zm3 0h1.9v1.9h-1.9zm1 0h1.9v1.9h-1.9zm2 0h1.9v1.9h-1.9zm4 1h1.9v1.9h-1.9zm7 0h1.9v1.9h-1.9zm4 -1h1.9v1.9h-1.9zm8 0h1.9v1.9h-1.9zm2 0h1.9v1.9h-1.9zm1 0h1.9v1.9h-1.9zm5 0h1.9v1.9h-1.9zm3 0h1.9v1.9h-1.9zm2 0h1.9v1.9h-1.9zm7 0h1.9v1.9h-1.9zm23 1h1.9v1.9h-1.9zm16 -1h1.9v1.9h-1.9zm-221 2h1.9v1.9h-1.9zm17 1h1.9v1.9h-1.9zm18 -1h1.9v1.9h-1.9zm17 0h1.9v1.9h-1.9zm1 1h1.9v1.9h-1.9zm3 -1h1.9v1.9h-1.9zm2 1h1.9v1.9h-1.9zm4 0h1.9v1.9h-1.9zm3 0h1.9v1.9h-1.9zm4 0h1.9v1.9h-1.9zm2 -1h1.9v1.9h-1.9zm4 1h2.8v2.8h-2.8zm7 -1h1.9v1.9h-1.9zm4 0h1.9v1.9h-1.9zm1 0h1.9v1.9h-1.9zm3 0h2.8v2.8h-2.8zm2 1h1.9v1.9h-1.9zm2 0h1.9v1.9h-1.9zm4 -1h1.9v1.9h-1.9zm6 0h1.9v1.9h-1.9zm6 0h1.9v1.9h-1.9zm2 1h1.9v1.9h-1.9zm13 0h1.9v1.9h-1.9zm2 0h1.9v1.9h-1.9zm3 0h1.9v1.9h-1.9zm4 -1h1.9v1.9h-1.9zm4 0h1.9v1.9h-1.9zm2 1h1.9v1.9h-1.9zm1 -1h1.9v1.9h-1.9zm2 0h1.9v1.9h-1.9zm2 1h1.9v1.9h-1.9zm5 0h1.9v1.9h-1.9zm5 -1h1.9v1.9h-1.9zm2 0h1.9v1.9h-1.9zm3 1h1.9v1.9h-1.9zm4 -1h2.8v2.8h-2.8zm1 0h1.9v1.9h-1.9zm12 0h1.9v1.9h-1.9zm4 1h1.9v1.9h-1.9zm11 -1h2.8v2.8h-2.8zm-172 2h1.9v1.9h-1.9zm7 0h1.9v1.9h-1.9zm5 0h2.8v2.8h-2.8zm12 0h1.9v1.9h-1.9zm2 0h1.9v1.9h-1.9zm5 0h1.9v1.9h-1.9zm4 0h1.9v1.9h-1.9zm3 0h1.9v1.9h-1.9zm4 1h1.9v1.9h-1.9zm1 0h1.9v1.9h-1.9zm3 -1h1.9v1.9h-1.9zm2 0h1.9v1.9h-1.9zm10 1h1.9v1.9h-1.9zm8 -1h1.9v1.9h-1.9zm2 1h1.9v1.9h-1.9zm1 0h1.9v1.9h-1.9zm5 0h1.9v1.9h-1.9zm1 0h1.9v1.9h-1.9zm5 0h1.9v1.9h-1.9zm2 -1h1.9v1.9h-1.9zm3 0h1.9v1.9h-1.9zm2 1h1.9v1.9h-1.9zm4 -1h1.9v1.9h-1.9zm3 0h1.9v1.9h-1.9zm2 0h1.9v1.9h-1.9zm1 1h1.9v1.9h-1.9zm4 0h1.9v1.9h-1.9zm3 0h1.9v1.9h-1.9zm2 -1h1.9v1.9h-1.9zm1 0h1.9v1.9h-1.9zm5 1h1.9v1.9h-1.9zm4 -1h1.9v1.9h-1.9zm2 0h1.9v1.9h-1.9zm3 0h1.9v1.9h-1.9zm2 1h2.8v2.8h-2.8zm3 -1h1.9v1.9h-1.9zm1 0h1.9v1.9h-1.9zm2 0h1.9v1.9h-1.9zm7 0h1.9v1.9h-1.9zm2 1h1.9v1.9h-1.9zm2 0h1.9v1.9h-1.9zm7 -1h1.9v1.9h-1.9zm10 1h1.9v1.9h-1.9zm2 -1h1.9v1.9h-1.9zm3 1h1.9v1.9h-1.9zm5 -1h1.9v1.9h-1.9zm7 0h1.9v1.9h-1.9zm-195 2h1.9v1.9h-1.9zm11 1h1.9v1.9h-1.9zm4 -1h1.9v1.9h-1.9zm7 1h1.9v1.9h-1.9zm7 0h1.9v1.9h-1.9zm2 -1h1.9v1.9h-1.9zm1 1h1.9v1.9h-1.9zm7 -1h1.9v1.9h-1.9zm5 0h1.9v1.9h-1.9zm4 1h1.9v1.9h-1.9zm2 -1h1.9v1.9h-1.9zm4 1h1.9v1.9h-1.9zm6 0h1.9v1.9h-1.9zm15 0h1.9v1.9h-1.9zm2 -1h1.9v1.9h-1.9zm1 1h1.9v1.9h-1.9zm2 -1h1.9v1.9h-1.9zm5 0h1.9v1.9h-1.9zm6 1h1.9v1.9h-1.9zm2 -1h1.9v1.9h-1.9zm3 0h1.9v1.9h-1.9zm7 0h1.9v1.9h-1.9zm2 0h1.9v1.9h-1.9zm3 0h1.9v1.9h-1.9zm3 1h1.9v1.9h-1.9zm3 0h1.9v1.9h-1.9zm8 -1h1.9v1.9h-1.9zm2 0h1.9v1.9h-1.9zm2 0h1.9v1.9h-1.9zm5 0h1.9v1.9h-1.9zm2 0h1.9v1.9h-1.9zm1 0h1.9v1.9h-1.9zm2 0h1.9v1.9h-1.9zm2 0h1.9v1.9h-1.9zm4 0h1.9v1.9h-1.9zm6 0h1.9v1.9h-1.9zm5 1h1.9v1.9h-1.9zm22 -1h1.9v1.9h-1.9zm22 0h1.9v1.9h-1.9zm-189 2h1.9v1.9h-1.9zm6 1h1.9v1.9h-1.9zm6 0h1.9v1.9h-1.9zm11 -1h1.9v1.9h-1.9zm2 0h1.9v1.9h-1.9zm3 0h1.9v1.9h-1.9zm6 1h1.9v1.9h-1.9zm3 0h1.9v1.9h-1.9zm1 -1h1.9v1.9h-1.9zm7 0h1.9v1.9h-1.9zm3 1h1.9v1.9h-1.9zm3 0h1.9v1.9h-1.9zm3 0h1.9v1.9h-1.9zm3 -1h1.9v1.9h-1.9zm3 1h1.9v1.9h-1.9zm2 -1h1.9v1.9h-1.9zm5 1h1.9v1.9h-1.9zm11 -1h1.9v1.9h-1.9zm3 0h1.9v1.9h-1.9zm3 0h1.9v1.9h-1.9zm4 0h1.9v1.9h-1.9zm2 0h1.9v1.9h-1.9zm5 0h1.9v1.9h-1.9zm2 1h1.9v1.9h-1.9zm3 -1h1.9v1.9h-1.9zm2 0h1.9v1.9h-1.9zm3 0h1.9v1.9h-1.9zm2 1h1.9v1.9h-1.9zm4 0h1.9v1.9h-1.9zm2 -1h1.9v1.9h-1.9zm2 0h1.9v1.9h-1.9zm2 0h1.9v1.9h-1.9zm1 1h1.9v1.9h-1.9zm5 0h1.9v1.9h-1.9zm7 0h1.9v1.9h-1.9zm2 0h1.9v1.9h-1.9zm2 -1h1.9v1.9h-1.9zm5 1h1.9v1.9h-1.9zm4 -1h1.9v1.9h-1.9zm1 1h1.9v1.9h-1.9zm22 0h1.9v1.9h-1.9zm10 -1h1.9v1.9h-1.9zm5 1h1.9v1.9h-1.9zm8 0h1.9v1.9h-1.9zm1 0h1.9v1.9h-1.9zm5 0h1.9v1.9h-1.9zm-200 2h2.8v2.8h-2.8zm27 0h1.9v1.9h-1.9zm2 0h1.9v1.9h-1.9zm16 0h1.9v1.9h-1.9zm11 -1h1.9v1.9h-1.9zm2 0h1.9v1.9h-1.9zm1 1h1.9v1.9h-1.9zm2 0h1.9v1.9h-1.9zm5 -1h1.9v1.9h-1.9zm9 0h1.9v1.9h-1.9zm4 1h1.9v1.9h-1.9zm3 -1h1.9v1.9h-1.9zm2 1h1.9v1.9h-1.9zm6 0h1.9v1.9h-1.9zm1 -1h1.9v1.9h-1.9zm8 0h2.8v2.8h-2.8zm2 0h1.9v1.9h-1.9zm2 0h1.9v1.9h-1.9zm8 0h1.9v1.9h-1.9zm9 1h1.9v1.9h-1.9zm2 -1h2.8v2.8h-2.8zm6 1h1.9v1.9h-1.9zm4 -1h1.9v1.9h-1.9zm6 1h1.9v1.9h-1.9zm5 0h1.9v1.9h-1.9zm5 -1h1.9v1.9h-1.9zm2 0h1.9v1.9h-1.9zm28 0h1.9v1.9h-1.9zm2 0h1.9v1.9h-1.9zm22 1h1.9v1.9h-1.9zm-173 2h1.9v1.9h-1.9zm2 0h1.9v1.9h-1.9zm13 0h1.9v1.9h-1.9zm3 -1h1.9v1.9h-1.9zm5 1h1.9v1.9h-1.9zm5 -1h1.9v1.9h-1.9zm8 1h1.9v1.9h-1.9zm11 0h1.9v1.9h-1.9zm2 -1h2.8v2.8h-2.8zm2 1h1.9v1.9h-1.9zm4 -1h1.9v1.9h-1.9zm3 1h1.9v1.9h-1.9zm3 -1h1.9v1.9h-1.9zm1 0h1.9v1.9h-1.9zm3 0h1.9v1.9h-1.9zm2 0h1.9v1.9h-1.9zm1 0h1.9v1.9h-1.9zm2 0h1.9v1.9h-1.9zm5 0h1.9v1.9h-1.9zm4 0h1.9v1.9h-1.9zm2 1h1.9v1.9h-1.9zm1 0h1.9v1.9h-1.9zm3 -1h1.9v1.9h-1.9zm2 0h1.9v1.9h-1.9zm1 1h1.9v1.9h-1.9zm2 0h2.8v2.8h-2.8zm3 -1h1.9v1.9h-1.9zm3 1h1.9v1.9h-1.9zm3 -1h1.9v1.9h-1.9zm1 1h1.9v1.9h-1.9zm5 0h1.9v1.9h-1.9zm2 -1h1.9v1.9h-1.9zm12 0h1.9v1.9h-1.9zm6 0h2.8v2.8h-2.8zm7 0h1.9v1.9h-1.9zm23 0h1.9v1.9h-1.9zm9 0h1.9v1.9h-1.9zm-173 2h1.9v1.9h-1.9zm3 0h1.9v1.9h-1.9zm4 1h2.8v2.8h-2.8zm20 0h1.9v1.9h-1.9zm2 -1h1.9v1.9h-1.9zm6 0h1.9v1.9h-1.9zm2 0h1.9v1.9h-1.9zm6 0h1.9v1.9h-1.9zm5 0h1.9v1.9h-1.9zm2 0h1.9v1.9h-1.9zm6 1h1.9v1.9h-1.9zm2 0h1.9v1.9h-1.9zm2 -1h1.9v1.9h-1.9zm3 0h1.9v1.9h-1.9zm5 1h1.9v1.9h-1.9zm4 -1h1.9v1.9h-1.9zm2 0h2.8v2.8h-2.8zm2 1h1.9v1.9h-1.9zm2 0h1.9v1.9h-1.9zm3 0h1.9v1.9h-1.9zm4 -1h1.9v1.9h-1.9zm5 1h1.9v1.9h-1.9zm2 -1h1.9v1.9h-1.9zm2 0h1.9v1.9h-1.9zm1 0h1.9v1.9h-1.9zm3 0h1.9v1.9h-1.9zm4 1h1.9v1.9h-1.9zm8 0h1.9v1.9h-1.9zm2 0h1.9v1.9h-1.9zm1 -1h1.9v1.9h-1.9zm2 0h1.9v1.9h-1.9zm10 1h1.9v1.9h-1.9zm6 -1h1.9v1.9h-1.9zm4 1h1.9v1.9h-1.9zm11 -1h1.9v1.9h-1.9zm3 0h1.9v1.9h-1.9zm37 1h1.9v1.9h-1.9zm2 0h1.9v1.9h-1.9zm-196 1h1.9v1.9h-1.9zm7 1h1.9v1.9h-1.9zm6 -1h1.9v1.9h-1.9zm17 0h1.9v1.9h-1.9zm11 1h1.9v1.9h-1.9zm13 -1h1.9v1.9h-1.9zm7 0h1.9v1.9h-1.9zm4 0h1.9v1.9h-1.9zm8 0h1.9v1.9h-1.9zm2 1h1.9v1.9h-1.9zm7 0h1.9v1.9h-1.9zm7 -1h1.9v1.9h-1.9zm4 0h1.9v1.9h-1.9zm3 1h1.9v1.9h-1.9zm2 0h1.9v1.9h-1.9zm2 0h1.9v1.9h-1.9zm2 -1h1.9v1.9h-1.9zm1 0h1.9v1.9h-1.9zm10 0h1.9v1.9h-1.9zm2 0h1.9v1.9h-1.9zm31 0h1.9v1.9h-1.9zm2 1h1.9v1.9h-1.9zm9 -1h1.9v1.9h-1.9zm11 1h1.9v1.9h-1.9zm-147 1h1.9v1.9h-1.9zm5 1h1.9v1.9h-1.9zm1 -1h1.9v1.9h-1.9zm2 0h1.9v1.9h-1.9zm2 0h1.9v1.9h-1.9zm7 1h1.9v1.9h-1.9zm3 0h1.9v1.9h-1.9zm6 -1h1.9v1.9h-1.9zm9 0h1.9v1.9h-1.9zm15 1h1.9v1.9h-1.9zm10 -1h1.9v1.9h-1.9zm5 1h1.9v1.9h-1.9zm1 -1h1.9v1.9h-1.9zm12 1h1.9v1.9h-1.9zm6 -1h1.9v1.9h-1.9zm9 0h1.9v1.9h-1.9zm9 0h1.9v1.9h-1.9zm6 1h1.9v1.9h-1.9zm26 0h1.9v1.9h-1.9zm8 0h1.9v1.9h-1.9zm-182 1h1.9v1.9h-1.9zm14 0h1.9v1.9h-1.9zm27 1h1.9v1.9h-1.9zm3 -1h1.9v1.9h-1.9zm9 0h1.9v1.9h-1.9zm8 0h1.9v1.9h-1.9zm18 0h1.9v1.9h-1.9zm1 0h1.9v1.9h-1.9zm3 0h1.9v1.9h-1.9zm2 1h1.9v1.9h-1.9zm8 0h2.8v2.8h-2.8zm4 -1h1.9v1.9h-1.9zm4 0h1.9v1.9h-1.9zm1 0h1.9v1.9h-1.9zm3 1h1.9v1.9h-1.9zm1 -1h1.9v1.9h-1.9zm9 1h1.9v1.9h-1.9zm3 -1h1.9v1.9h-1.9zm7 1h1.9v1.9h-1.9zm3 -1h1.9v1.9h-1.9zm7 1h2.8v2.8h-2.8zm3 0h1.9v1.9h-1.9zm8 -1h1.9v1.9h-1.9zm4 0h1.9v1.9h-1.9zm19 0h2.8v2.8h-2.8zm1 0h2.8v2.8h-2.8zm6 1h1.9v1.9h-1.9zm24 0h1.9v1.9h-1.9zm-155 1h1.9v1.9h-1.9zm16 0h1.9v1.9h-1.9zm13 0h1.9v1.9h-1.9zm5 1h1.9v1.9h-1.9zm5 -1h1.9v1.9h-1.9zm7 1h1.9v1.9h-1.9zm10 -1h1.9v1.9h-1.9zm5 0h1.9v1.9h-1.9zm2 0h1.9v1.9h-1.9zm4 1h1.9v1.9h-1.9zm4 -1h1.9v1.9h-1.9zm8 0h1.9v1.9h-1.9zm8 0h2.8v2.8h-2.8zm11 0h1.9v1.9h-1.9zm5 1h1.9v1.9h-1.9zm20 -1h1.9v1.9h-1.9zm6 0h1.9v1.9h-1.9zm16 1h1.9v1.9h-1.9zm38 0h1.9v1.9h-1.9zm-218 1h1.9v1.9h-1.9zm37 1h1.9v1.9h-1.9zm4 0h1.9v1.9h-1.9zm4 -1h1.9v1.9h-1.9zm10 0h1.9v1.9h-1.9zm6 0h2.8v2.8h-2.8zm1 1h1.9v1.9h-1.9zm22 0h1.9v1.9h-1.9zm2 -1h1.9v1.9h-1.9zm4 1h1.9v1.9h-1.9zm2 -1h1.9v1.9h-1.9zm3 0h1.9v1.9h-1.9zm2 0h1.9v1.9h-1.9zm5 1h1.9v1.9h-1.9zm4 -1h1.9v1.9h-1.9zm3 1h1.9v1.9h-1.9zm3 0h1.9v1.9h-1.9zm4 0h1.9v1.9h-1.9zm2 -1h1.9v1.9h-1.9zm2 0h1.9v1.9h-1.9zm9 0h1.9v1.9h-1.9zm4 0h1.9v1.9h-1.9zm27 1h1.9v1.9h-1.9zm-122 2h1.9v1.9h-1.9zm16 -1h1.9v1.9h-1.9zm2 0h1.9v1.9h-1.9zm4 0h1.9v1.9h-1.9zm9 1h1.9v1.9h-1.9zm1 0h1.9v1.9h-1.9zm3 -1h1.9v1.9h-1.9zm1 0h1.9v1.9h-1.9zm5 0h1.9v1.9h-1.9zm2 1h1.9v1.9h-1.9zm8 -1h1.9v1.9h-1.9zm1 0h1.9v1.9h-1.9zm6 0h1.9v1.9h-1.9zm3 0h1.9v1.9h-1.9zm2 0h1.9v1.9h-1.9zm8 0h1.9v1.9h-1.9zm13 0h1.9v1.9h-1.9zm14 1h1.9v1.9h-1.9zm41 -1h1.9v1.9h-1.9zm23 1h1.9v1.9h-1.9zm-176 1h1.9v1.9h-1.9zm6 0h1.9v1.9h-1.9zm17 1h1.9v1.9h-1.9zm3 0h1.9v1.9h-1.9zm10 -1h1.9v1.9h-1.9zm2 0h1.9v1.9h-1.9zm6 0h1.9v1.9h-1.9zm2 0h1.9v1.9h-1.9zm4 0h2.8v2.8h-2.8zm11 0h1.9v1.9h-1.9zm1 0h1.9v1.9h-1.9zm2 1h1.9v1.9h-1.9zm8 0h1.9v1.9h-1.9zm26 -1h2.8v2.8h-2.8zm9 0h1.9v1.9h-1.9zm1 1h1.9v1.9h-1.9zm5 -1h1.9v1.9h-1.9zm2 0h2.8v2.8h-2.8zm11 1h1.9v1.9h-1.9zm32 -1h1.9v1.9h-1.9zm6 1h1.9v1.9h-1.9zm-193 2h1.9v1.9h-1.9zm54 -1h1.9v1.9h-1.9zm13 1h1.9v1.9h-1.9zm15 -1h1.9v1.9h-1.9zm2 1h1.9v1.9h-1.9zm10 -1h1.9v1.9h-1.9zm10 0h1.9v1.9h-1.9zm3 0h1.9v1.9h-1.9zm5 1h1.9v1.9h-1.9zm14 0h1.9v1.9h-1.9zm7 0h1.9v1.9h-1.9zm2 -1h1.9v1.9h-1.9zm12 0h1.9v1.9h-1.9zm15 0h1.9v1.9h-1.9zm13 1h1.9v1.9h-1.9zm-117 2h1.9v1.9h-1.9zm14 -1h1.9v1.9h-1.9zm19 1h1.9v1.9h-1.9zm5 -1h1.9v1.9h-1.9zm2 1h1.9v1.9h-1.9zm12 -1h1.9v1.9h-1.9zm3 0h1.9v1.9h-1.9zm2 0h1.9v1.9h-1.9zm8 1h1.9v1.9h-1.9zm12 -1h1.9v1.9h-1.9zm2 0h1.9v1.9h-1.9zm9 0h1.9v1.9h-1.9zm13 0h1.9v1.9h-1.9zm25 0h1.9v1.9h-1.9zm-160 2h1.9v1.9h-1.9zm12 0h1.9v1.9h-1.9zm13 1h1.9v1.9h-1.9zm8 -1h1.9v1.9h-1.9zm11 0h1.9v1.9h-1.9zm29 1h1.9v1.9h-1.9zm25 -1h1.9v1.9h-1.9zm15 0h1.9v1.9h-1.9zm103 0h1.9v1.9h-1.9zm-228 2h1.9v1.9h-1.9zm6 1h1.9v1.9h-1.9zm5 0h1.9v1.9h-1.9zm42 0h1.9v1.9h-1.9zm21 -1h1.9v1.9h-1.9zm6 1h1.9v1.9h-1.9zm8 -1h1.9v1.9h-1.9zm1 1h1.9v1.9h-1.9zm3 0h1.9v1.9h-1.9zm26 0h1.9v1.9h-1.9zm6 -1h2.8v2.8h-2.8zm7 0h1.9v1.9h-1.9zm49 1h1.9v1.9h-1.9zm-148 1h1.9v1.9h-1.9zm12 0h1.9v1.9h-1.9zm2 0h1.9v1.9h-1.9zm23 0h1.9v1.9h-1.9zm39 1h1.9v1.9h-1.9zm39 -1h1.9v1.9h-1.9zm-140 3h1.9v1.9h-1.9zm16 -1h1.9v1.9h-1.9zm4 0h1.9v1.9h-1.9zm25 0h1.9v1.9h-1.9zm15 1h1.9v1.9h-1.9zm3 0h1.9v1.9h-1.9zm1 0h1.9v1.9h-1.9zm5 -1h1.9v1.9h-1.9zm16 1h1.9v1.9h-1.9zm12 -1h1.9v1.9h-1.9zm7 1h1.9v1.9h-1.9zm11 -1h1.9v1.9h-1.9zm151 0h1.9v1.9h-1.9zm-211 2h1.9v1.9h-1.9zm5 1h1.9v1.9h-1.9zm4 -1h1.9v1.9h-1.9zm13 0h1.9v1.9h-1.9zm30 0h1.9v1.9h-1.9zm38 0h1.9v1.9h-1.9zm30 1h1.9v1.9h-1.9zm-159 2h1.9v1.9h-1.9zm2 0h1.9v1.9h-1.9zm12 -1h1.9v1.9h-1.9zm3 1h1.9v1.9h-1.9zm2 -1h1.9v1.9h-1.9zm7 1h1.9v1.9h-1.9zm5 -1h1.9v1.9h-1.9zm40 1h1.9v1.9h-1.9zm13 -1h2.8v2.8h-2.8zm27 0h1.9v1.9h-1.9zm5 1h1.9v1.9h-1.9zm23 -1h1.9v1.9h-1.9zm9 1h1.9v1.9h-1.9zm-194 2h1.9v1.9h-1.9zm15 0h1.9v1.9h-1.9zm14 -1h1.9v1.9h-1.9zm66 1h1.9v1.9h-1.9zm59 0h1.9v1.9h-1.9zm7 -1h1.9v1.9h-1.9zm13 0h2.8v2.8h-2.8zm-175 3h2.8v2.8h-2.8zm47 -1h1.9v1.9h-1.9zm22 0h1.9v1.9h-1.9zm15 1h1.9v1.9h-1.9zm14 0h1.9v1.9h-1.9zm63 0h1.9v1.9h-1.9zm57 0h1.9v1.9h-1.9zm-109 1h1.9v1.9h-1.9zm7 1h1.9v1.9h-1.9zm15 0h1.9v1.9h-1.9zm11 -1h1.9v1.9h-1.9zm2 1h1.9v1.9h-1.9zm66 0h1.9v1.9h-1.9zm-154 3h1.9v1.9h-1.9zm46 1h1.9v1.9h-1.9zm15 0h1.9v1.9h-1.9zm38 0h1.9v1.9h-1.9zm2 0h1.9v1.9h-1.9zm-22 1h2.8v2.8h-2.8zm11 1h1.9v1.9h-1.9zm5 -1h1.9v1.9h-1.9zm17 0h1.9v1.9h-1.9z"/>
<path fill="#1e5cf8" d="M390 723h1.9v1.9h-1.9zm-11 2h1.9v1.9h-1.9zm4 0h1.9v1.9h-1.9zm1 1h1.9v1.9h-1.9zm3 -1h1.9v1.9h-1.9zm1 1h1.9v1.9h-1.9zm-9 2h1.9v1.9h-1.9zm9 -1h1.9v1.9h-1.9zm2 1h1.9v1.9h-1.9zm4 -1h2.8v2.8h-2.8zm4 0h1.9v1.9h-1.9zm5 1h1.9v1.9h-1.9zm-32 1h1.9v1.9h-1.9zm1 0h1.9v1.9h-1.9zm2 0h1.9v1.9h-1.9zm8 0h1.9v1.9h-1.9zm13 0h1.9v1.9h-1.9zm12 1h1.9v1.9h-1.9zm-28 1h1.9v1.9h-1.9zm6 1h1.9v1.9h-1.9zm4 -1h1.9v1.9h-1.9zm-13 2h1.9v1.9h-1.9zm12 0h1.9v1.9h-1.9zm7 0h1.9v1.9h-1.9zm1 1h1.9v1.9h-1.9zm8 -1h1.9v1.9h-1.9zm-29 2h2.8v2.8h-2.8zm9 1h1.9v1.9h-1.9zm3 -1h1.9v1.9h-1.9zm9 0h1.9v1.9h-1.9zm2 0h1.9v1.9h-1.9zm3 0h1.9v1.9h-1.9zm6 0h1.9v1.9h-1.9zm1 1h1.9v1.9h-1.9zm2 -1h1.9v1.9h-1.9zm3 1h1.9v1.9h-1.9zm-49 1h1.9v1.9h-1.9zm9 1h1.9v1.9h-1.9zm6 -1h1.9v1.9h-1.9zm4 1h1.9v1.9h-1.9zm2 -1h1.9v1.9h-1.9zm1 1h1.9v1.9h-1.9zm12 -1h1.9v1.9h-1.9zm11 0h1.9v1.9h-1.9zm1 1h1.9v1.9h-1.9zm-50 2h1.9v1.9h-1.9zm22 0h1.9v1.9h-1.9zm2 -1h1.9v1.9h-1.9zm-12 2h1.9v1.9h-1.9zm3 1h1.9v1.9h-1.9zm20 -1h1.9v1.9h-1.9zm1 1h1.9v1.9h-1.9zm7 -1h1.9v1.9h-1.9zm1 0h1.9v1.9h-1.9zm5 0h1.9v1.9h-1.9zm2 1h1.9v1.9h-1.9zm2 -1h1.9v1.9h-1.9zm-51 3h1.9v1.9h-1.9zm4 -1h1.9v1.9h-1.9zm7 0h1.9v1.9h-1.9zm4 0h1.9v1.9h-1.9zm1 0h1.9v1.9h-1.9zm10 0h1.9v1.9h-1.9zm14 0h2.8v2.8h-2.8zm-14 2h1.9v1.9h-1.9zm2 1h1.9v1.9h-1.9zm5 -1h2.8v2.8h-2.8zm1 0h1.9v1.9h-1.9zm6 1h1.9v1.9h-1.9zm-23 1h1.9v1.9h-1.9zm4 1h1.9v1.9h-1.9zm4 -1h1.9v1.9h-1.9zm7 0h1.9v1.9h-1.9zm6 0h1.9v1.9h-1.9zm-235 126h1.9v1.9h-1.9zm28 1h1.9v1.9h-1.9zm-30 2h1.9v1.9h-1.9zm2 -1h1.9v1.9h-1.9zm8 0h1.9v1.9h-1.9zm5 0h1.9v1.9h-1.9zm9 0h1.9v1.9h-1.9zm5 1h1.9v1.9h-1.9zm7 -1h1.9v1.9h-1.9zm-51 3h1.9v1.9h-1.9zm6 -1h2.8v2.8h-2.8zm14 0h1.9v1.9h-1.9zm7 1h1.9v1.9h-1.9zm2 -1h1.9v1.9h-1.9zm4 1h1.9v1.9h-1.9zm4 0h1.9v1.9h-1.9zm1 -1h1.9v1.9h-1.9zm4 1h1.9v1.9h-1.9zm4 -1h1.9v1.9h-1.9zm5 1h1.9v1.9h-1.9zm1 0h1.9v1.9h-1.9zm3 0h1.9v1.9h-1.9zm5 -1h1.9v1.9h-1.9zm-62 2h1.9v1.9h-1.9zm3 0h1.9v1.9h-1.9zm4 0h1.9v1.9h-1.9zm1 0h1.9v1.9h-1.9zm5 0h1.9v1.9h-1.9zm3 0h1.9v1.9h-1.9zm5 0h1.9v1.9h-1.9zm5 1h1.9v1.9h-1.9zm9 -1h1.9v1.9h-1.9zm14 1h1.9v1.9h-1.9zm6 -1h1.9v1.9h-1.9zm2 1h1.9v1.9h-1.9zm4 -1h1.9v1.9h-1.9zm8 0h1.9v1.9h-1.9zm1 1h1.9v1.9h-1.9zm5 -1h1.9v1.9h-1.9zm-80 2h1.9v1.9h-1.9zm3 1h1.9v1.9h-1.9zm2 -1h1.9v1.9h-1.9zm5 0h1.9v1.9h-1.9zm8 0h1.9v1.9h-1.9zm3 0h2v2h-2zm23 0h2v2h-2zm12 1h2v2h-2zm2 0h1.9v1.9h-1.9zm5 -1h1.9v1.9h-1.9zm3 0h1.9v1.9h-1.9zm4 1h1.9v1.9h-1.9zm1 -1h1.9v1.9h-1.9zm6 1h1.9v1.9h-1.9zm3 -1h1.9v1.9h-1.9zm1 0h1.9v1.9h-1.9zm-91 2h1.9v1.9h-1.9zm3 0h1.9v1.9h-1.9zm2 0h1.9v1.9h-1.9zm6 0h1.9v1.9h-1.9zm2 0h1.9v1.9h-1.9zm7 0h2v2h-2zm37 0h2v2h-2zm21 0h1.9v1.9h-1.9zm9 0h1.9v1.9h-1.9zm3 0h1.9v1.9h-1.9zm-97 2h1.9v1.9h-1.9zm4 1h1.9v1.9h-1.9zm3 -1h1.9v1.9h-1.9zm14 0h2v2h-2zm1 1h2v2h-2zm51 0h2v2h-2zm15 0h2v2h-2zm8 -1h1.9v1.9h-1.9zm3 0h1.9v1.9h-1.9zm1 1h1.9v1.9h-1.9zm-96 2h1.9v1.9h-1.9zm11 -1h1.9v1.9h-1.9zm4 0h2v2h-2zm77 1h1.9v1.9h-1.9zm2 -1h1.9v1.9h-1.9zm3 1h1.9v1.9h-1.9zm1 -1h1.9v1.9h-1.9zm5 0h1.9v1.9h-1.9zm-103 2h1.9v1.9h-1.9zm3 0h1.9v1.9h-1.9zm1 1h1.9v1.9h-1.9zm88 -1h2v2h-2zm11 1h1.9v1.9h-1.9zm5 -1h1.9v1.9h-1.9zm2 0h1.9v1.9h-1.9zm3 0h1.9v1.9h-1.9zm-125 2h1.9v1.9h-1.9zm5 0h1.9v1.9h-1.9zm6 0h1.9v1.9h-1.9zm4 0h1.9v1.9h-1.9zm8 1h2v2h-2zm86 -1h2v2h-2zm7 1h1.9v1.9h-1.9zm2 -1h1.9v1.9h-1.9zm5 1h1.9v1.9h-1.9zm-116 1h1.9v1.9h-1.9zm2 0h1.9v1.9h-1.9zm105 0h2v2h-2zm4 1h1.9v1.9h-1.9zm3 -1h1.9v1.9h-1.9zm2 0h1.9v1.9h-1.9zm2 0h1.9v1.9h-1.9zm-126 2h1.9v1.9h-1.9zm112 0h2v2h-2zm10 1h1.9v1.9h-1.9zm1 -1h1.9v1.9h-1.9zm9 0h1.9v1.9h-1.9zm-125 2h1.9v1.9h-1.9zm117 0h1.9v1.9h-1.9zm-120 2h1.9v1.9h-1.9zm8 1h2v2h-2zm114 0h1.9v1.9h-1.9zm1 0h1.9v1.9h-1.9zm3 0h1.9v1.9h-1.9zm2 -1h1.9v1.9h-1.9zm5 1h1.9v1.9h-1.9zm-141 2h1.9v1.9h-1.9zm2 0h1.9v1.9h-1.9zm2 -1h1.9v1.9h-1.9zm2 1h1.9v1.9h-1.9zm121 -1h2v2h-2zm2 1h1.9v1.9h-1.9zm3 0h1.9v1.9h-1.9zm9 -1h1.9v1.9h-1.9zm-142 2h1.9v1.9h-1.9zm3 1h1.9v1.9h-1.9zm132 -1h1.9v1.9h-1.9zm1 0h1.9v1.9h-1.9zm5 1h1.9v1.9h-1.9zm-139 2h1.9v1.9h-1.9zm2 0h1.9v1.9h-1.9zm11 0h2v2h-2zm121 -1h1.9v1.9h-1.9zm3 1h1.9v1.9h-1.9zm2 -1h1.9v1.9h-1.9zm-143 3h1.9v1.9h-1.9zm7 0h1.9v1.9h-1.9zm126 0h2v2h-2zm4 -1h2v2h-2zm4 0h1.9v1.9h-1.9zm3 0h1.9v1.9h-1.9zm-147 3h1.9v1.9h-1.9zm4 0h1.9v1.9h-1.9zm2 0h1.9v1.9h-1.9zm130 0h2v2h-2zm5 -1h1.9v1.9h-1.9zm3 0h1.9v1.9h-1.9zm6 0h1.9v1.9h-1.9zm4 1h1.9v1.9h-1.9zm-150 2h1.9v1.9h-1.9zm6 0h1.9v1.9h-1.9zm125 0h2v2h-2zm8 0h1.9v1.9h-1.9zm5 -1h1.9v1.9h-1.9zm1 1h1.9v1.9h-1.9zm-146 1h1.9v1.9h-1.9zm10 0h2v2h-2zm128 1h2v2h-2zm5 -1h1.9v1.9h-1.9zm6 0h1.9v1.9h-1.9zm-155 2h1.9v1.9h-1.9zm2 1h1.9v1.9h-1.9zm8 -1h1.9v1.9h-1.9zm131 0h2v2h-2zm5 0h1.9v1.9h-1.9zm3 0h1.9v1.9h-1.9zm1 0h1.9v1.9h-1.9zm2 0h1.9v1.9h-1.9zm3 0h1.9v1.9h-1.9zm-152 2h1.9v1.9h-1.9zm6 0h1.9v1.9h-1.9zm3 0h1.9v1.9h-1.9zm133 0h2v2h-2zm1 0h1.9v1.9h-1.9zm2 0h1.9v1.9h-1.9zm2 0h1.9v1.9h-1.9zm2 0h1.9v1.9h-1.9zm-143 2h1.9v1.9h-1.9zm3 0h1.9v1.9h-1.9zm2 1h2v2h-2zm126 -1h2v2h-2zm4 0h2v2h-2zm3 1h1.9v1.9h-1.9zm1 0h1.9v1.9h-1.9zm3 -1h1.9v1.9h-1.9zm-145 2h1.9v1.9h-1.9zm3 0h1.9v1.9h-1.9zm135 0h2v2h-2zm6 1h1.9v1.9h-1.9zm2 0h1.9v1.9h-1.9zm2 -1h1.9v1.9h-1.9zm2 0h1.9v1.9h-1.9zm-152 3h2.8v2.8h-2.8zm3 0h1.9v1.9h-1.9zm1 0h1.9v1.9h-1.9zm2 0h1.9v1.9h-1.9zm141 -1h1.9v1.9h-1.9zm3 1h1.9v1.9h-1.9zm-147 1h1.9v1.9h-1.9zm2 1h1.9v1.9h-1.9zm4 0h1.9v1.9h-1.9zm132 0h2v2h-2zm1 -1h1.9v1.9h-1.9zm4 0h1.9v1.9h-1.9zm-147 2h1.9v1.9h-1.9zm4 0h1.9v1.9h-1.9zm1 0h1.9v1.9h-1.9zm2 1h1.9v1.9h-1.9zm2 -1h1.9v1.9h-1.9zm140 0h1.9v1.9h-1.9zm2 0h1.9v1.9h-1.9zm-148 2h1.9v1.9h-1.9zm7 0h1.9v1.9h-1.9zm1 1h1.9v1.9h-1.9zm131 0h1.9v1.9h-1.9zm2 -1h1.9v1.9h-1.9zm2 1h1.9v1.9h-1.9zm2 0h1.9v1.9h-1.9zm4 0h1.9v1.9h-1.9zm-147 1h1.9v1.9h-1.9zm8 0h1.9v1.9h-1.9zm2 0h1.9v1.9h-1.9zm2 1h2v2h-2zm125 -1h1.9v1.9h-1.9zm7 0h1.9v1.9h-1.9zm5 0h1.9v1.9h-1.9zm-150 2h1.9v1.9h-1.9zm1 0h1.9v1.9h-1.9zm4 1h1.9v1.9h-1.9zm5 0h1.9v1.9h-1.9zm116 -1h2v2h-2zm7 0h2v2h-2zm5 1h1.9v1.9h-1.9zm3 0h1.9v1.9h-1.9zm3 -1h1.9v1.9h-1.9zm1 1h1.9v1.9h-1.9zm-140 2h1.9v1.9h-1.9zm2 0h1.9v1.9h-1.9zm15 0h2v2h-2zm110 -1h2v2h-2zm4 0h1.9v1.9h-1.9zm1 0h1.9v1.9h-1.9zm4 1h1.9v1.9h-1.9zm-138 1h1.9v1.9h-1.9zm2 0h1.9v1.9h-1.9zm3 0h1.9v1.9h-1.9zm2 0h1.9v1.9h-1.9zm1 1h1.9v1.9h-1.9zm6 -1h2v2h-2zm6 0h2v2h-2zm111 0h1.9v1.9h-1.9zm2 0h1.9v1.9h-1.9zm2 0h1.9v1.9h-1.9zm6 0h1.9v1.9h-1.9zm1 0h1.9v1.9h-1.9zm2 0h1.9v1.9h-1.9zm-141 3h1.9v1.9h-1.9zm6 -1h1.9v1.9h-1.9zm2 0h1.9v1.9h-1.9zm3 0h1.9v1.9h-1.9zm6 0h2v2h-2zm3 1h2v2h-2zm97 0h2v2h-2zm4 -1h2v2h-2zm2 0h2v2h-2zm3 0h1.9v1.9h-1.9zm5 1h1.9v1.9h-1.9zm2 -1h1.9v1.9h-1.9zm5 0h1.9v1.9h-1.9zm-136 3h1.9v1.9h-1.9zm1 0h1.9v1.9h-1.9zm5 -1h1.9v1.9h-1.9zm2 0h1.9v1.9h-1.9zm1 0h1.9v1.9h-1.9zm4 1h1.9v1.9h-1.9zm4 -1h2v2h-2zm5 0h2v2h-2zm100 0h1.9v1.9h-1.9zm3 1h1.9v1.9h-1.9zm7 0h1.9v1.9h-1.9zm2 -1h1.9v1.9h-1.9zm2 0h1.9v1.9h-1.9zm-130 2h1.9v1.9h-1.9zm5 1h1.9v1.9h-1.9zm7 -1h2v2h-2zm92 1h2v2h-2zm13 0h1.9v1.9h-1.9zm4 -1h1.9v1.9h-1.9zm5 0h1.9v1.9h-1.9zm4 0h1.9v1.9h-1.9zm-137 2h1.9v1.9h-1.9zm7 0h1.9v1.9h-1.9zm4 1h1.9v1.9h-1.9zm109 0h1.9v1.9h-1.9zm3 -1h1.9v1.9h-1.9zm3 1h1.9v1.9h-1.9zm2 -1h1.9v1.9h-1.9zm2 0h1.9v1.9h-1.9zm9 1h1.9v1.9h-1.9zm-135 2h1.9v1.9h-1.9zm5 -1h1.9v1.9h-1.9zm5 1h1.9v1.9h-1.9zm3 0h1.9v1.9h-1.9zm4 0h1.9v1.9h-1.9zm2 0h1.9v1.9h-1.9zm91 -1h1.9v1.9h-1.9zm14 1h1.9v1.9h-1.9zm2 -1h1.9v1.9h-1.9zm3 1h1.9v1.9h-1.9zm-130 2h1.9v1.9h-1.9zm8 -1h1.9v1.9h-1.9zm3 0h1.9v1.9h-1.9zm9 0h1.9v1.9h-1.9zm5 0h2v2h-2zm2 0h2v2h-2zm71 1h2v2h-2zm19 -1h1.9v1.9h-1.9zm2 0h1.9v1.9h-1.9zm2 0h1.9v1.9h-1.9zm2 0h1.9v1.9h-1.9zm5 0h1.9v1.9h-1.9zm-125 3h1.9v1.9h-1.9zm13 -1h1.9v1.9h-1.9zm4 0h1.9v1.9h-1.9zm2 1h1.9v1.9h-1.9zm6 -1h2v2h-2zm63 0h2v2h-2zm20 1h1.9v1.9h-1.9zm7 -1h1.9v1.9h-1.9zm1 0h1.9v1.9h-1.9zm5 0h1.9v1.9h-1.9zm1 1h1.9v1.9h-1.9zm-105 1h1.9v1.9h-1.9zm2 1h1.9v1.9h-1.9zm4 -1h1.9v1.9h-1.9zm3 1h1.9v1.9h-1.9zm6 -1h2v2h-2zm42 1h2v2h-2zm12 0h2v2h-2zm4 -1h2v2h-2zm17 1h1.9v1.9h-1.9zm3 0h1.9v1.9h-1.9zm4 -1h1.9v1.9h-1.9zm3 0h1.9v1.9h-1.9zm2 1h1.9v1.9h-1.9zm1 0h1.9v1.9h-1.9zm4 -1h1.9v1.9h-1.9zm-122 3h2.8v2.8h-2.8zm8 0h1.9v1.9h-1.9zm2 0h1.9v1.9h-1.9zm5 -1h1.9v1.9h-1.9zm4 1h1.9v1.9h-1.9zm1 0h1.9v1.9h-1.9zm7 -1h1.9v1.9h-1.9zm3 0h2v2h-2zm2 1h2v2h-2zm2 -1h2v2h-2zm8 0h2v2h-2zm13 1h2v2h-2zm6 -1h2v2h-2zm12 0h2v2h-2zm4 1h2v2h-2zm20 0h1.9v1.9h-1.9zm10 0h1.9v1.9h-1.9zm3 0h1.9v1.9h-1.9zm9 -1h1.9v1.9h-1.9zm1 0h2.8v2.8h-2.8zm-111 3h1.9v1.9h-1.9zm2 0h1.9v1.9h-1.9zm2 -1h1.9v1.9h-1.9zm1 0h1.9v1.9h-1.9zm3 0h1.9v1.9h-1.9zm1 0h1.9v1.9h-1.9zm2 0h1.9v1.9h-1.9zm3 0h1.9v1.9h-1.9zm2 0h1.9v1.9h-1.9zm8 0h1.9v1.9h-1.9zm5 0h2v2h-2zm4 0h2v2h-2zm29 0h2v2h-2zm14 0h2v2h-2zm1 0h2v2h-2zm7 0h1.9v1.9h-1.9zm3 0h1.9v1.9h-1.9zm5 1h1.9v1.9h-1.9zm1 -1h1.9v1.9h-1.9zm4 0h1.9v1.9h-1.9zm8 0h1.9v1.9h-1.9zm-112 2h1.9v1.9h-1.9zm9 0h1.9v1.9h-1.9zm9 1h1.9v1.9h-1.9zm3 -1h1.9v1.9h-1.9zm1 0h1.9v1.9h-1.9zm2 0h1.9v1.9h-1.9zm7 0h1.9v1.9h-1.9zm2 1h1.9v1.9h-1.9zm7 0h2v2h-2zm10 0h2v2h-2zm11 0h2v2h-2zm4 0h2v2h-2zm2 -1h2v2h-2zm15 0h2v2h-2zm11 1h1.9v1.9h-1.9zm2 -1h1.9v1.9h-1.9zm5 0h1.9v1.9h-1.9zm5 0h1.9v1.9h-1.9zm3 1h1.9v1.9h-1.9zm6 -1h1.9v1.9h-1.9zm6 1h1.9v1.9h-1.9zm-110 1h1.9v1.9h-1.9zm2 0h1.9v1.9h-1.9zm2 0h2.8v2.8h-2.8zm10 1h1.9v1.9h-1.9zm5 0h1.9v1.9h-1.9zm2 -1h1.9v1.9h-1.9zm1 0h1.9v1.9h-1.9zm5 0h1.9v1.9h-1.9zm3 0h1.9v1.9h-1.9zm6 0h2v2h-2zm25 0h2v2h-2zm8 0h1.9v1.9h-1.9zm3 0h1.9v1.9h-1.9zm2 1h1.9v1.9h-1.9zm10 0h1.9v1.9h-1.9zm9 -1h1.9v1.9h-1.9zm3 1h1.9v1.9h-1.9zm3 0h1.9v1.9h-1.9zm7 -1h2.8v2.8h-2.8zm-106 3h1.9v1.9h-1.9zm10 0h1.9v1.9h-1.9zm3 0h1.9v1.9h-1.9zm1 -1h1.9v1.9h-1.9zm4 1h1.9v1.9h-1.9zm2 -1h1.9v1.9h-1.9zm3 1h1.9v1.9h-1.9zm1 0h1.9v1.9h-1.9zm5 -1h1.9v1.9h-1.9zm8 0h1.9v1.9h-1.9zm7 1h2v2h-2zm6 -1h2v2h-2zm18 0h1.9v1.9h-1.9zm2 0h1.9v1.9h-1.9zm3 0h1.9v1.9h-1.9zm3 1h1.9v1.9h-1.9zm4 0h1.9v1.9h-1.9zm5 -1h1.9v1.9h-1.9zm2 1h1.9v1.9h-1.9zm4 0h1.9v1.9h-1.9zm6 -1h1.9v1.9h-1.9zm-101 3h1.9v1.9h-1.9zm3 -1h1.9v1.9h-1.9zm5 1h1.9v1.9h-1.9zm4 0h1.9v1.9h-1.9zm5 -1h1.9v1.9h-1.9zm4 0h1.9v1.9h-1.9zm1 1h1.9v1.9h-1.9zm15 -1h1.9v1.9h-1.9zm7 0h1.9v1.9h-1.9zm7 0h1.9v1.9h-1.9zm6 0h1.9v1.9h-1.9zm2 1h1.9v1.9h-1.9zm8 -1h1.9v1.9h-1.9zm3 0h1.9v1.9h-1.9zm2 0h1.9v1.9h-1.9zm3 1h1.9v1.9h-1.9zm2 0h1.9v1.9h-1.9zm2 -1h1.9v1.9h-1.9zm3 1h1.9v1.9h-1.9zm2 -1h1.9v1.9h-1.9zm2 0h1.9v1.9h-1.9zm2 0h1.9v1.9h-1.9zm5 0h1.9v1.9h-1.9zm1 1h1.9v1.9h-1.9zm3 -1h1.9v1.9h-1.9zm3 0h1.9v1.9h-1.9zm2 0h1.9v1.9h-1.9zm3 1h1.9v1.9h-1.9zm-96 1h1.9v1.9h-1.9zm14 0h1.9v1.9h-1.9zm1 1h1.9v1.9h-1.9zm12 -1h1.9v1.9h-1.9zm5 0h1.9v1.9h-1.9zm15 0h1.9v1.9h-1.9zm5 0h1.9v1.9h-1.9zm2 1h1.9v1.9h-1.9zm8 -1h1.9v1.9h-1.9zm5 0h1.9v1.9h-1.9zm6 1h1.9v1.9h-1.9zm2 -1h1.9v1.9h-1.9zm4 0h1.9v1.9h-1.9zm7 1h1.9v1.9h-1.9zm2 -1h1.9v1.9h-1.9zm2 0h1.9v1.9h-1.9zm8 1h1.9v1.9h-1.9zm-88 2h1.9v1.9h-1.9zm1 0h1.9v1.9h-1.9zm4 -1h1.9v1.9h-1.9zm2 1h1.9v1.9h-1.9zm2 -1h1.9v1.9h-1.9zm2 1h1.9v1.9h-1.9zm3 -1h1.9v1.9h-1.9zm6 0h1.9v1.9h-1.9zm8 1h1.9v1.9h-1.9zm5 -1h1.9v1.9h-1.9zm2 0h1.9v1.9h-1.9zm3 1h1.9v1.9h-1.9zm1 -1h1.9v1.9h-1.9zm2 0h1.9v1.9h-1.9zm7 0h1.9v1.9h-1.9zm4 1h1.9v1.9h-1.9zm2 -1h1.9v1.9h-1.9zm6 0h1.9v1.9h-1.9zm2 1h1.9v1.9h-1.9zm2 0h1.9v1.9h-1.9zm7 0h1.9v1.9h-1.9zm3 -1h1.9v1.9h-1.9zm8 0h1.9v1.9h-1.9zm-72 3h1.9v1.9h-1.9zm2 -1h1.9v1.9h-1.9zm1 1h1.9v1.9h-1.9zm5 -1h1.9v1.9h-1.9zm8 1h1.9v1.9h-1.9zm2 0h1.9v1.9h-1.9zm2 -1h1.9v1.9h-1.9zm2 0h1.9v1.9h-1.9zm6 1h1.9v1.9h-1.9zm1 0h1.9v1.9h-1.9zm2 0h1.9v1.9h-1.9zm2 0h1.9v1.9h-1.9zm3 0h1.9v1.9h-1.9zm4 0h1.9v1.9h-1.9zm4 -1h1.9v1.9h-1.9zm6 0h1.9v1.9h-1.9zm6 0h1.9v1.9h-1.9zm2 1h1.9v1.9h-1.9zm4 -1h1.9v1.9h-1.9zm4 0h1.9v1.9h-1.9zm5 0h2.8v2.8h-2.8zm-88 3h1.9v1.9h-1.9zm14 0h1.9v1.9h-1.9zm3 -1h1.9v1.9h-1.9zm2 1h1.9v1.9h-1.9zm8 0h1.9v1.9h-1.9zm1 0h1.9v1.9h-1.9zm5 -1h1.9v1.9h-1.9zm2 0h1.9v1.9h-1.9zm1 0h1.9v1.9h-1.9zm3 0h1.9v1.9h-1.9zm5 1h1.9v1.9h-1.9zm8 0h1.9v1.9h-1.9zm4 0h1.9v1.9h-1.9zm4 0h1.9v1.9h-1.9zm4 -1h1.9v1.9h-1.9zm6 1h1.9v1.9h-1.9zm2 0h1.9v1.9h-1.9zm10 -1h1.9v1.9h-1.9zm-84 2h1.9v1.9h-1.9zm8 0h1.9v1.9h-1.9zm8 1h1.9v1.9h-1.9zm7 0h1.9v1.9h-1.9zm9 -1h1.9v1.9h-1.9zm2 0h1.9v1.9h-1.9zm4 1h1.9v1.9h-1.9zm2 0h1.9v1.9h-1.9zm4 0h1.9v1.9h-1.9zm5 -1h1.9v1.9h-1.9zm1 0h1.9v1.9h-1.9zm2 0h1.9v1.9h-1.9zm3 1h1.9v1.9h-1.9zm1 0h1.9v1.9h-1.9zm5 0h1.9v1.9h-1.9zm3 -1h1.9v1.9h-1.9zm5 0h1.9v1.9h-1.9zm5 0h1.9v1.9h-1.9zm2 0h1.9v1.9h-1.9zm4 0h1.9v1.9h-1.9zm-61 2h1.9v1.9h-1.9zm7 0h1.9v1.9h-1.9zm4 0h1.9v1.9h-1.9zm3 0h1.9v1.9h-1.9zm2 0h1.9v1.9h-1.9zm1 1h1.9v1.9h-1.9zm3 -1h1.9v1.9h-1.9zm3 0h1.9v1.9h-1.9zm3 1h1.9v1.9h-1.9zm1 0h1.9v1.9h-1.9zm7 -1h1.9v1.9h-1.9zm1 0h1.9v1.9h-1.9zm3 0h1.9v1.9h-1.9zm2 0h1.9v1.9h-1.9zm2 0h1.9v1.9h-1.9zm2 1h1.9v1.9h-1.9zm8 0h1.9v1.9h-1.9zm1 -1h1.9v1.9h-1.9zm7 0h1.9v1.9h-1.9zm9 1h1.9v1.9h-1.9zm-70 1h1.9v1.9h-1.9zm3 1h1.9v1.9h-1.9zm1 -1h1.9v1.9h-1.9zm5 0h1.9v1.9h-1.9zm1 0h1.9v1.9h-1.9zm3 1h1.9v1.9h-1.9zm4 0h1.9v1.9h-1.9zm5 -1h1.9v1.9h-1.9zm6 0h1.9v1.9h-1.9zm4 1h1.9v1.9h-1.9zm2 -1h2.8v2.8h-2.8zm12 0h1.9v1.9h-1.9zm3 1h1.9v1.9h-1.9zm8 0h1.9v1.9h-1.9zm-63 2h1.9v1.9h-1.9zm5 -1h1.9v1.9h-1.9zm2 0h1.9v1.9h-1.9zm6 1h1.9v1.9h-1.9zm15 -1h1.9v1.9h-1.9zm6 1h1.9v1.9h-1.9zm2 0h1.9v1.9h-1.9zm6 0h2.8v2.8h-2.8zm2 -1h1.9v1.9h-1.9zm4 0h1.9v1.9h-1.9zm2 0h1.9v1.9h-1.9zm7 0h1.9v1.9h-1.9zm4 1h1.9v1.9h-1.9zm-61 1h2.8v2.8h-2.8zm6 1h1.9v1.9h-1.9zm7 -1h1.9v1.9h-1.9zm7 0h1.9v1.9h-1.9zm3 1h1.9v1.9h-1.9zm7 -1h1.9v1.9h-1.9zm3 0h2.8v2.8h-2.8zm10 0h1.9v1.9h-1.9zm2 1h1.9v1.9h-1.9zm10 -1h1.9v1.9h-1.9zm6 1h1.9v1.9h-1.9zm-54 2h1.9v1.9h-1.9zm1 0h1.9v1.9h-1.9zm7 -1h1.9v1.9h-1.9zm11 0h1.9v1.9h-1.9zm2 0h1.9v1.9h-1.9zm9 1h1.9v1.9h-1.9zm8 0h1.9v1.9h-1.9zm2 -1h1.9v1.9h-1.9zm8 1h1.9v1.9h-1.9zm-40 1h1.9v1.9h-1.9zm3 0h1.9v1.9h-1.9zm13 1h1.9v1.9h-1.9zm3 -1h1.9v1.9h-1.9zm2 0h2.8v2.8h-2.8zm4 0h1.9v1.9h-1.9zm2 0h1.9v1.9h-1.9zm8 1h1.9v1.9h-1.9zm-36 1h1.9v1.9h-1.9zm16 0h1.9v1.9h-1.9zm6 1h1.9v1.9h-1.9zm10 -1h1.9v1.9h-1.9zm2 1h2.8v2.8h-2.8zm-26 1h1.9v1.9h-1.9zm13 0h1.9v1.9h-1.9zm6 0h1.9v1.9h-1.9z"/>
<path fill="#22b4f0" d="M404 731h1.9v1.9h-1.9zm-25 3h1.9v1.9h-1.9zm6 -1h1.9v1.9h-1.9zm22 1h1.9v1.9h-1.9zm-31 2h1.9v1.9h-1.9zm7 0h1.9v1.9h-1.9zm9 0h1.9v1.9h-1.9zm3 -1h1.9v1.9h-1.9zm9 1h1.9v1.9h-1.9zm-16 1h1.9v1.9h-1.9zm3 0h1.9v1.9h-1.9zm1 0h1.9v1.9h-1.9zm9 0h1.9v1.9h-1.9zm-29 3h1.9v1.9h-1.9zm4 0h1.9v1.9h-1.9zm11 0h1.9v1.9h-1.9zm3 0h1.9v1.9h-1.9zm-12 2h1.9v1.9h-1.9zm5 0h1.9v1.9h-1.9zm2 -1h1.9v1.9h-1.9zm2 0h1.9v1.9h-1.9zm3 1h1.9v1.9h-1.9zm2 0h1.9v1.9h-1.9zm8 -1h1.9v1.9h-1.9zm-18 3h1.9v1.9h-1.9zm19 0h1.9v1.9h-1.9zm-224 136h1.9v1.9h-1.9zm14 -1h1.9v1.9h-1.9zm7 0h1.9v1.9h-1.9zm-49 2h1.9v1.9h-1.9zm16 1h2v2h-2zm8 0h2v2h-2zm6 -1h2v2h-2zm9 1h2v2h-2zm6 -1h2v2h-2zm7 0h1.9v1.9h-1.9zm1 0h1.9v1.9h-1.9zm-55 2h1.9v1.9h-1.9zm1 1h1.9v1.9h-1.9zm5 -1h2v2h-2zm1 1h2v2h-2zm9 0h2v2h-2zm2 0h2v2h-2zm11 0h2v2h-2zm15 0h2v2h-2zm2 0h2v2h-2zm22 -1h1.9v1.9h-1.9zm-79 2h1.9v1.9h-1.9zm19 0h2v2h-2zm4 0h2v2h-2zm23 0h2v2h-2zm4 1h2v2h-2zm3 -1h2v2h-2zm18 1h2v2h-2zm12 -1h1.9v1.9h-1.9zm-78 3h2v2h-2zm10 -1h2v2h-2zm14 0h2v2h-2zm39 0h2v2h-2zm4 0h2v2h-2zm2 0h2v2h-2zm4 0h2v2h-2zm-80 2h2v2h-2zm11 0h2v2h-2zm7 0h2v2h-2zm56 1h2v2h-2zm-75 2h2v2h-2zm1 0h2v2h-2zm2 0h2v2h-2zm5 -1h2v2h-2zm16 0h2v2h-2zm58 0h2v2h-2zm1 0h2v2h-2zm3 0h2v2h-2zm11 0h1.9v1.9h-1.9zm-103 2h1.9v1.9h-1.9zm2 1h2v2h-2zm7 -1h2v2h-2zm3 0h2v2h-2zm2 0h2v2h-2zm3 0h2v2h-2zm76 0h2v2h-2zm4 0h2v2h-2zm-96 2h2v2h-2zm5 0h2v2h-2zm2 0h2v2h-2zm88 0h2v2h-2zm2 1h2v2h-2zm3 0h2v2h-2zm5 0h2v2h-2zm-97 1h2v2h-2zm92 0h2v2h-2zm3 0h2v2h-2zm4 0h2v2h-2zm2 0h1.9v1.9h-1.9zm-105 2h2v2h-2zm93 1h2v2h-2zm1 -1h2v2h-2zm2 1h2v2h-2zm-103 1h2v2h-2zm106 1h2v2h-2zm4 0h2v2h-2zm1 -1h2v2h-2zm9 1h1.9v1.9h-1.9zm-127 1h2v2h-2zm113 0h2v2h-2zm11 1h1.9v1.9h-1.9zm-123 1h2v2h-2zm111 0h2v2h-2zm9 0h2v2h-2zm1 0h2v2h-2zm-121 3h2v2h-2zm11 0h2v2h-2zm107 0h2v2h-2zm-112 2h2v2h-2zm120 0h2v2h-2zm-133 1h1.9v1.9h-1.9zm14 1h2v2h-2zm119 -1h2v2h-2zm6 1h1.9v1.9h-1.9zm-138 1h1.9v1.9h-1.9zm4 1h2v2h-2zm4 -1h2v2h-2zm123 0h2v2h-2zm-130 2h1.9v1.9h-1.9zm126 1h2v2h-2zm7 -1h2v2h-2zm-6 2h2v2h-2zm-5 3h2v2h-2zm5 -1h2v2h-2zm-127 3h1.9v1.9h-1.9zm130 -1h2v2h-2zm-127 2h2v2h-2zm2 1h2v2h-2zm2 0h2v2h-2zm8 -1h2v2h-2zm109 1h2v2h-2zm9 -1h2v2h-2zm4 0h1.9v1.9h-1.9zm-134 3h1.9v1.9h-1.9zm2 0h2v2h-2zm2 -1h2v2h-2zm113 1h2v2h-2zm2 -1h2v2h-2zm7 0h2v2h-2zm-127 3h1.9v1.9h-1.9zm9 0h2v2h-2zm9 0h2v2h-2zm101 -1h2v2h-2zm2 1h2v2h-2zm2 -1h2v2h-2zm3 0h2v2h-2zm5 0h1.9v1.9h-1.9zm-126 3h2v2h-2zm2 0h2v2h-2zm2 0h2v2h-2zm1 -1h2v2h-2zm5 1h2v2h-2zm107 -1h2v2h-2zm3 0h2v2h-2zm1 1h2v2h-2zm-116 1h2v2h-2zm4 1h2v2h-2zm4 -1h2v2h-2zm101 1h2v2h-2zm6 -1h2v2h-2zm1 0h2v2h-2zm2 0h2v2h-2zm-122 2h2v2h-2zm3 0h2v2h-2zm1 0h2v2h-2zm3 1h2v2h-2zm1 0h2v2h-2zm11 -1h2v2h-2zm89 0h2v2h-2zm-102 3h2v2h-2zm5 -1h2v2h-2zm1 1h2v2h-2zm93 -1h2v2h-2zm5 0h2v2h-2zm7 0h2v2h-2zm-117 2h1.9v1.9h-1.9zm9 1h2v2h-2zm4 -1h2v2h-2zm7 1h2v2h-2zm82 -1h2v2h-2zm4 1h2v2h-2zm3 -1h2v2h-2zm2 0h2v2h-2zm5 0h2v2h-2zm-108 3h2v2h-2zm21 -1h2v2h-2zm73 0h2v2h-2zm11 0h2v2h-2zm9 1h1.9v1.9h-1.9zm-107 1h2v2h-2zm5 1h2v2h-2zm76 -1h2v2h-2zm3 1h2v2h-2zm2 -1h2v2h-2zm1 1h2v2h-2zm10 -1h2v2h-2zm-104 2h1.9v1.9h-1.9zm7 0h2v2h-2zm5 0h2v2h-2zm5 0h2v2h-2zm6 1h2v2h-2zm78 0h2v2h-2zm1 -1h2v2h-2zm2 0h2v2h-2zm-98 2h2v2h-2zm3 0h2v2h-2zm2 0h2v2h-2zm4 1h2v2h-2zm1 0h2v2h-2zm3 0h2v2h-2zm2 0h2v2h-2zm3 0h2v2h-2zm2 0h2v2h-2zm56 0h2v2h-2zm2 0h2v2h-2zm6 0h2v2h-2zm4 0h2v2h-2zm4 -1h2v2h-2zm3 0h2v2h-2zm-87 2h2v2h-2zm59 1h2v2h-2zm7 -1h2v2h-2zm11 1h2v2h-2zm4 0h2v2h-2zm-85 2h1.9v1.9h-1.9zm19 -1h2v2h-2zm4 0h2v2h-2zm6 1h2v2h-2zm32 -1h2v2h-2zm4 1h2v2h-2zm2 0h2v2h-2zm4 -1h2v2h-2zm9 0h2v2h-2zm2 0h2v2h-2zm5 0h2v2h-2zm4 1h1.9v1.9h-1.9zm-89 2h1.9v1.9h-1.9zm2 -1h1.9v1.9h-1.9zm8 0h2v2h-2zm8 0h2v2h-2zm3 1h2v2h-2zm1 -1h2v2h-2zm5 1h2v2h-2zm7 -1h2v2h-2zm5 0h2v2h-2zm8 0h2v2h-2zm32 0h2v2h-2zm1 0h2v2h-2zm3 0h2v2h-2zm4 1h1.9v1.9h-1.9zm6 0h1.9v1.9h-1.9zm-88 1h1.9v1.9h-1.9zm4 0h2v2h-2zm1 1h2v2h-2zm5 0h2v2h-2zm5 -1h2v2h-2zm5 0h2v2h-2zm1 1h2v2h-2zm6 -1h2v2h-2zm3 1h2v2h-2zm11 0h2v2h-2zm11 0h2v2h-2zm1 -1h2v2h-2zm7 0h2v2h-2zm24 1h1.9v1.9h-1.9zm-79 2h1.9v1.9h-1.9zm9 -1h2v2h-2zm2 0h2v2h-2zm7 1h2v2h-2zm3 -1h2v2h-2zm3 1h2v2h-2zm6 -1h2v2h-2zm5 1h2v2h-2zm3 -1h2v2h-2zm15 1h2v2h-2zm3 0h2v2h-2zm2 -1h2v2h-2zm2 1h2v2h-2zm17 -1h1.9v1.9h-1.9zm-77 2h1.9v1.9h-1.9zm7 0h2v2h-2zm6 1h2v2h-2zm8 -1h2v2h-2zm5 0h2v2h-2zm5 0h2v2h-2zm8 1h2v2h-2zm10 0h2v2h-2zm4 0h2v2h-2zm7 0h2v2h-2zm3 0h1.9v1.9h-1.9zm-63 2h1.9v1.9h-1.9zm33 -1h2v2h-2zm4 1h2v2h-2zm10 0h2v2h-2zm13 -1h1.9v1.9h-1.9zm3 1h1.9v1.9h-1.9zm-39 1h2v2h-2zm3 0h2v2h-2zm1 1h2v2h-2zm2 -1h2v2h-2zm3 1h2v2h-2zm6 0h2v2h-2zm4 -1h2v2h-2zm6 1h2v2h-2zm5 0h1.9v1.9h-1.9zm11 -1h1.9v1.9h-1.9zm-49 3h1.9v1.9h-1.9zm8 0h1.9v1.9h-1.9zm7 -1h2v2h-2zm2 0h2v2h-2zm5 1h2v2h-2zm24 0h1.9v1.9h-1.9zm-50 2h1.9v1.9h-1.9zm11 -1h1.9v1.9h-1.9zm2 2h1.9v1.9h-1.9zm13 0h1.9v1.9h-1.9zm17 1h1.9v1.9h-1.9zm-35 2h1.9v1.9h-1.9zm23 0h1.9v1.9h-1.9zm1 -1h1.9v1.9h-1.9zm4 1h1.9v1.9h-1.9zm-14 1h1.9v1.9h-1.9z"/>
<path fill="#22d6b0" d="M158 883h2v2h-2zm11 1h2v2h-2zm17 -1h2v2h-2zm-26 2h2v2h-2zm13 1h2v2h-2zm1 0h2v2h-2zm5 -1h2v2h-2zm2 1h2v2h-2zm3 -1h2v2h-2zm9 1h2v2h-2zm1 -1h2v2h-2zm5 1h2v2h-2zm4 0h2v2h-2zm-49 1h2v2h-2zm2 0h2v2h-2zm7 1h2v2h-2zm9 0h2v2h-2zm13 0h2v2h-2zm1 -1h2v2h-2zm7 0h2v2h-2zm2 1h2v2h-2zm1 0h2v2h-2zm2 -1h2v2h-2zm4 0h2v2h-2zm10 1h2v2h-2zm-47 1h2v2h-2zm16 0h2v2h-2zm3 1h2v2h-2zm10 -1h2v2h-2zm7 0h2v2h-2zm11 0h2v2h-2zm3 0h2v2h-2zm1 1h2v2h-2zm3 0h2v2h-2zm-76 2h2v2h-2zm15 0h2v2h-2zm3 0h2v2h-2zm27 0h2v2h-2zm24 -1h2v2h-2zm-63 2h2v2h-2zm70 1h2v2h-2zm3 0h2v2h-2zm4 0h2v2h-2zm-90 1h2v2h-2zm3 0h2v2h-2zm64 0h2v2h-2zm3 0h2v2h-2zm12 1h2v2h-2zm-89 1h2v2h-2zm1 0h2v2h-2zm9 1h2v2h-2zm3 2h2v2h-2zm88 0h2v2h-2zm2 0h2v2h-2zm-103 2h2v2h-2zm3 -1h2v2h-2zm8 0h2v2h-2zm86 1h2v2h-2zm2 -1h2v2h-2zm-100 3h2v2h-2zm3 -1h2v2h-2zm88 0h2v2h-2zm9 0h2v2h-2zm-5 2h2v2h-2zm3 1h2v2h-2zm-104 2h2v2h-2zm2 0h2v2h-2zm12 0h2v2h-2zm91 -1h2v2h-2zm5 0h2v2h-2zm3 1h2v2h-2zm3 -1h2v2h-2zm-109 2h2v2h-2zm2 0h2v2h-2zm3 1h2v2h-2zm103 0h2v2h-2zm1 0h2v2h-2zm-114 1h2v2h-2zm114 1h2v2h-2zm-116 2h2v2h-2zm11 -1h2v2h-2zm-13 3h2v2h-2zm4 -1h2v2h-2zm6 0h2v2h-2zm106 1h2v2h-2zm3 0h2v2h-2zm-117 1h2v2h-2zm3 1h2v2h-2zm2 0h2v2h-2zm4 -1h2v2h-2zm-10 2h2v2h-2zm4 1h2v2h-2zm6 0h2v2h-2zm99 -1h2v2h-2zm8 0h2v2h-2zm-115 2h2v2h-2zm6 1h2v2h-2zm102 -1h2v2h-2zm2 0h2v2h-2zm1 0h2v2h-2zm4 0h2v2h-2zm4 0h2v2h-2zm-8 2h2v2h-2zm-104 3h2v2h-2zm97 0h2v2h-2zm14 0h2v2h-2zm-103 2h2v2h-2zm-6 2h2v2h-2zm11 0h2v2h-2zm-11 1h2v2h-2zm4 1h2v2h-2zm3 0h2v2h-2zm5 -1h2v2h-2zm73 0h2v2h-2zm16 1h2v2h-2zm6 -1h2v2h-2zm-106 2h2v2h-2zm2 0h2v2h-2zm13 0h2v2h-2zm85 0h2v2h-2zm-97 3h2v2h-2zm3 -1h2v2h-2zm4 1h2v2h-2zm1 -1h2v2h-2zm72 1h2v2h-2zm3 -1h2v2h-2zm2 0h2v2h-2zm2 1h2v2h-2zm2 -1h2v2h-2zm4 0h2v2h-2zm-19 2h2v2h-2zm17 0h2v2h-2zm8 1h2v2h-2zm-93 1h2v2h-2zm4 0h2v2h-2zm9 0h2v2h-2zm2 1h2v2h-2zm51 0h2v2h-2zm10 0h2v2h-2zm5 0h2v2h-2zm4 -1h2v2h-2zm-83 2h2v2h-2zm4 1h2v2h-2zm14 0h2v2h-2zm14 -1h2v2h-2zm39 0h2v2h-2zm14 0h2v2h-2zm2 1h2v2h-2zm-80 1h2v2h-2zm3 1h2v2h-2zm18 -1h2v2h-2zm24 1h2v2h-2zm18 0h2v2h-2zm3 0h2v2h-2zm4 -1h2v2h-2zm-59 2h2v2h-2zm2 0h2v2h-2zm2 1h2v2h-2zm2 -1h2v2h-2zm4 0h2v2h-2zm2 0h2v2h-2zm2 0h2v2h-2zm11 1h2v2h-2zm5 -1h2v2h-2zm27 0h2v2h-2zm-73 3h2v2h-2zm9 0h2v2h-2zm2 0h2v2h-2zm2 -1h2v2h-2zm2 0h2v2h-2zm8 1h2v2h-2zm5 -1h2v2h-2zm4 0h2v2h-2zm4 0h2v2h-2zm11 0h2v2h-2zm21 0h2v2h-2zm2 1h2v2h-2zm3 0h2v2h-2zm-63 2h2v2h-2zm4 0h2v2h-2zm13 -1h2v2h-2zm14 1h2v2h-2zm8 0h2v2h-2zm4 -1h2v2h-2zm9 0h2v2h-2zm-51 3h2v2h-2zm13 -1h2v2h-2zm2 0h2v2h-2zm7 0h2v2h-2zm11 1h2v2h-2zm2 -1h2v2h-2zm7 1h2v2h-2zm5 -1h2v2h-2zm-43 2h2v2h-2zm10 0h2v2h-2zm7 0h2v2h-2zm3 0h2v2h-2zm2 1h2v2h-2zm1 -1h2v2h-2zm2 1h2v2h-2zm17 -1h2v2h-2zm-28 2h2v2h-2zm17 1h2v2h-2zm0 2h2v2h-2z"/>
<path fill="#3ccc3c" d="M158 889h2v2h-2zm4 0h2v2h-2zm9 0h2v2h-2zm3 0h2v2h-2zm3 0h2v2h-2zm16 0h2v2h-2zm4 1h2v2h-2zm-44 2h2v2h-2zm9 -1h2v2h-2zm9 0h2v2h-2zm3 1h2v2h-2zm4 0h2v2h-2zm3 -1h2v2h-2zm2 0h2v2h-2zm1 0h2v2h-2zm3 1h2v2h-2zm4 0h2v2h-2zm5 0h2v2h-2zm7 0h2v2h-2zm3 -1h2v2h-2zm3 0h2v2h-2zm-52 3h2v2h-2zm1 0h2v2h-2zm3 0h2v2h-2zm4 -1h2v2h-2zm6 1h2v2h-2zm4 0h2v2h-2zm11 -1h2v2h-2zm5 0h2v2h-2zm2 0h2v2h-2zm1 0h2v2h-2zm3 0h2v2h-2zm3 1h2v2h-2zm4 -1h2v2h-2zm6 0h2v2h-2zm2 1h2v2h-2zm-66 1h2v2h-2zm5 1h2v2h-2zm1 0h2v2h-2zm6 -1h2v2h-2zm3 0h2v2h-2zm1 0h2v2h-2zm3 1h2v2h-2zm4 -1h2v2h-2zm5 0h2v2h-2zm19 0h2v2h-2zm6 0h2v2h-2zm2 0h2v2h-2zm14 0h2v2h-2zm-75 2h2v2h-2zm5 1h2v2h-2zm7 -1h2v2h-2zm2 0h2v2h-2zm5 1h2v2h-2zm9 -1h2v2h-2zm8 1h2v2h-2zm7 0h2v2h-2zm13 0h2v2h-2zm11 0h2v2h-2zm6 0h2v2h-2zm4 0h2v2h-2zm-82 1h2v2h-2zm14 0h2v2h-2zm9 0h2v2h-2zm2 0h2v2h-2zm5 1h2v2h-2zm29 0h2v2h-2zm6 -1h2v2h-2zm3 1h2v2h-2zm9 0h2v2h-2zm2 -1h2v2h-2zm7 0h2v2h-2zm-79 3h2v2h-2zm2 0h2v2h-2zm31 -1h2v2h-2zm12 1h2v2h-2zm11 -1h2v2h-2zm14 1h2v2h-2zm3 0h2v2h-2zm2 0h2v2h-2zm1 -1h2v2h-2zm-78 2h2v2h-2zm7 0h2v2h-2zm1 0h2v2h-2zm4 1h2v2h-2zm52 -1h2v2h-2zm6 1h2v2h-2zm2 -1h2v2h-2zm9 0h2v2h-2zm-89 2h2v2h-2zm3 1h2v2h-2zm2 -1h2v2h-2zm2 1h2v2h-2zm1 -1h2v2h-2zm2 1h2v2h-2zm5 0h2v2h-2zm66 -1h2v2h-2zm5 0h2v2h-2zm2 0h2v2h-2zm-81 2h2v2h-2zm2 1h2v2h-2zm13 0h2v2h-2zm52 -1h2v2h-2zm14 0h2v2h-2zm3 1h2v2h-2zm-91 2h2v2h-2zm4 0h2v2h-2zm6 0h2v2h-2zm3 -1h2v2h-2zm1 0h2v2h-2zm3 0h2v2h-2zm4 0h2v2h-2zm4 1h2v2h-2zm54 0h2v2h-2zm5 -1h2v2h-2zm2 0h2v2h-2zm3 0h2v2h-2zm8 1h2v2h-2zm1 0h2v2h-2zm-99 1h2v2h-2zm1 0h2v2h-2zm2 1h2v2h-2zm78 -1h2v2h-2zm3 1h2v2h-2zm8 -1h2v2h-2zm-94 3h2v2h-2zm8 0h2v2h-2zm10 -1h2v2h-2zm2 0h2v2h-2zm58 0h2v2h-2zm10 0h2v2h-2zm3 1h2v2h-2zm5 -1h2v2h-2zm3 0h2v2h-2zm6 1h2v2h-2zm-100 1h2v2h-2zm5 0h2v2h-2zm2 0h2v2h-2zm6 0h2v2h-2zm73 0h2v2h-2zm3 1h2v2h-2zm5 -1h2v2h-2zm-96 3h2v2h-2zm3 0h2v2h-2zm9 -1h2v2h-2zm68 1h2v2h-2zm3 0h2v2h-2zm8 0h2v2h-2zm2 0h2v2h-2zm1 0h2v2h-2zm3 -1h2v2h-2zm4 0h2v2h-2zm-98 2h2v2h-2zm3 1h2v2h-2zm7 -1h2v2h-2zm4 0h2v2h-2zm8 1h2v2h-2zm60 -1h2v2h-2zm1 0h2v2h-2zm3 1h2v2h-2zm8 0h2v2h-2zm-97 1h2v2h-2zm5 0h2v2h-2zm2 1h2v2h-2zm1 -1h2v2h-2zm72 0h2v2h-2zm6 0h2v2h-2zm9 0h2v2h-2zm2 1h2v2h-2zm8 -1h2v2h-2zm-110 2h2v2h-2zm5 0h2v2h-2zm4 1h2v2h-2zm4 0h2v2h-2zm83 0h2v2h-2zm2 -1h2v2h-2zm-93 2h2v2h-2zm2 0h2v2h-2zm3 0h2v2h-2zm3 0h2v2h-2zm5 0h2v2h-2zm9 1h2v2h-2zm51 -1h2v2h-2zm5 1h2v2h-2zm15 0h2v2h-2zm-89 1h2v2h-2zm5 0h2v2h-2zm1 0h2v2h-2zm2 0h2v2h-2zm3 0h2v2h-2zm2 1h2v2h-2zm69 -1h2v2h-2zm9 0h2v2h-2zm6 0h2v2h-2zm-99 2h2v2h-2zm5 1h2v2h-2zm6 -1h2v2h-2zm3 0h2v2h-2zm5 0h2v2h-2zm7 0h2v2h-2zm41 0h2v2h-2zm3 0h2v2h-2zm8 1h2v2h-2zm9 -1h2v2h-2zm1 0h2v2h-2zm8 0h2v2h-2zm-87 2h2v2h-2zm7 1h2v2h-2zm4 -1h2v2h-2zm6 0h2v2h-2zm3 0h2v2h-2zm5 0h2v2h-2zm35 1h2v2h-2zm5 0h2v2h-2zm3 -1h2v2h-2zm8 1h2v2h-2zm2 -1h2v2h-2zm2 1h2v2h-2zm1 -1h2v2h-2zm-80 2h2v2h-2zm3 0h2v2h-2zm6 1h2v2h-2zm3 -1h2v2h-2zm2 0h2v2h-2zm4 1h2v2h-2zm6 -1h2v2h-2zm3 0h2v2h-2zm25 1h2v2h-2zm3 -1h2v2h-2zm3 0h2v2h-2zm8 0h2v2h-2zm2 1h2v2h-2zm6 -1h2v2h-2zm2 0h2v2h-2zm-65 2h2v2h-2zm5 1h2v2h-2zm2 0h2v2h-2zm13 0h2v2h-2zm16 0h2v2h-2zm7 -1h2v2h-2zm2 0h2v2h-2zm13 0h2v2h-2zm2 0h2v2h-2zm-69 3h2v2h-2zm7 0h2v2h-2zm3 0h2v2h-2zm3 -1h2v2h-2zm3 0h2v2h-2zm2 0h2v2h-2zm5 1h2v2h-2zm1 -1h2v2h-2zm21 0h2v2h-2zm3 0h2v2h-2zm18 0h2v2h-2zm3 0h2v2h-2zm2 0h2v2h-2zm3 1h2v2h-2zm3 0h2v2h-2zm-74 1h2v2h-2zm14 1h2v2h-2zm1 -1h2v2h-2zm2 0h2v2h-2zm3 0h2v2h-2zm3 0h2v2h-2zm5 1h2v2h-2zm1 -1h2v2h-2zm4 0h2v2h-2zm2 1h2v2h-2zm2 0h2v2h-2zm3 -1h2v2h-2zm3 0h2v2h-2zm3 0h2v2h-2zm2 0h2v2h-2zm3 0h2v2h-2zm4 0h2v2h-2zm7 0h2v2h-2zm4 1h2v2h-2zm-65 1h2v2h-2zm8 1h2v2h-2zm7 -1h2v2h-2zm2 0h2v2h-2zm2 0h2v2h-2zm4 0h2v2h-2zm2 1h2v2h-2zm4 0h2v2h-2zm5 -1h2v2h-2zm7 1h2v2h-2zm1 0h2v2h-2zm8 -1h2v2h-2zm9 0h2v2h-2zm3 0h2v2h-2zm-53 3h2v2h-2zm3 0h2v2h-2zm5 -1h2v2h-2zm3 1h2v2h-2zm6 0h2v2h-2zm3 -1h2v2h-2zm3 1h2v2h-2zm2 0h2v2h-2zm2 -1h2v2h-2zm4 1h2v2h-2zm2 -1h2v2h-2zm3 1h2v2h-2zm5 -1h2v2h-2zm3 0h2v2h-2zm2 0h2v2h-2zm8 1h2v2h-2zm-43 2h2v2h-2zm11 0h2v2h-2zm17 -1h2v2h-2zm2 0h2v2h-2zm7 0h2v2h-2zm-35 3h2v2h-2zm9 -1h2v2h-2zm8 1h2v2h-2zm-14 2h2v2h-2zm2 -1h2v2h-2zm3 1h2v2h-2zm9 0h2v2h-2z"/>
<path fill="#8cdc2c" d="M166 893h2v2h-2zm11 1h2v2h-2zm3 -1h2v2h-2zm-8 3h2v2h-2zm5 0h2v2h-2zm5 -1h2v2h-2zm3 0h2v2h-2zm2 0h2v2h-2zm-30 2h2v2h-2zm4 0h2v2h-2zm2 1h2v2h-2zm2 0h2v2h-2zm1 0h2v2h-2zm8 -1h2v2h-2zm10 0h2v2h-2zm6 0h2v2h-2zm8 0h2v2h-2zm2 1h2v2h-2zm3 0h2v2h-2zm-51 1h2v2h-2zm5 0h2v2h-2zm5 0h2v2h-2zm18 1h2v2h-2zm10 -1h2v2h-2zm21 1h2v2h-2zm-64 2h2v2h-2zm5 -1h2v2h-2zm4 1h2v2h-2zm4 -1h2v2h-2zm9 0h2v2h-2zm2 1h2v2h-2zm8 -1h2v2h-2zm9 0h2v2h-2zm17 0h2v2h-2zm5 1h2v2h-2zm-65 2h2v2h-2zm11 -1h2v2h-2zm2 0h2v2h-2zm4 0h2v2h-2zm6 0h2v2h-2zm28 1h2v2h-2zm6 0h2v2h-2zm4 -1h2v2h-2zm3 0h2v2h-2zm-61 3h2v2h-2zm4 0h2v2h-2zm15 0h2v2h-2zm7 0h2v2h-2zm-29 1h2v2h-2zm4 1h2v2h-2zm2 0h2v2h-2zm2 -1h2v2h-2zm9 1h2v2h-2zm10 0h2v2h-2zm4 0h2v2h-2zm4 0h2v2h-2zm20 0h2v2h-2zm11 0h2v2h-2zm-52 1h2v2h-2zm16 1h2v2h-2zm9 -1h2v2h-2zm7 1h2v2h-2zm4 0h2v2h-2zm1 0h2v2h-2zm6 -1h2v2h-2zm-61 2h2v2h-2zm4 0h2v2h-2zm1 0h2v2h-2zm5 0h2v2h-2zm2 1h2v2h-2zm1 0h2v2h-2zm5 -1h2v2h-2zm19 0h2v2h-2zm-35 2h2v2h-2zm55 1h2v2h-2zm12 -1h2v2h-2zm-43 3h2v2h-2zm34 0h2v2h-2zm6 0h2v2h-2zm8 -1h2v2h-2zm3 1h2v2h-2zm-79 2h2v2h-2zm7 -1h2v2h-2zm11 0h2v2h-2zm4 1h2v2h-2zm12 -1h2v2h-2zm31 0h2v2h-2zm2 0h2v2h-2zm11 1h2v2h-2zm1 -1h2v2h-2zm-65 2h2v2h-2zm21 1h2v2h-2zm41 -1h2v2h-2zm9 1h2v2h-2zm-67 1h2v2h-2zm1 0h2v2h-2zm44 1h2v2h-2zm7 0h2v2h-2zm2 -1h2v2h-2zm3 0h2v2h-2zm-67 2h2v2h-2zm9 1h2v2h-2zm24 0h2v2h-2zm5 0h2v2h-2zm10 -1h2v2h-2zm3 1h2v2h-2zm4 -1h2v2h-2zm10 0h2v2h-2zm2 1h2v2h-2zm3 -1h2v2h-2zm-54 2h2v2h-2zm2 1h2v2h-2zm6 -1h2v2h-2zm4 0h2v2h-2zm-19 2h2v2h-2zm2 0h2v2h-2zm12 0h2v2h-2zm8 0h2v2h-2zm15 0h2v2h-2zm2 1h2v2h-2zm1 -1h2v2h-2zm2 1h2v2h-2zm10 0h2v2h-2zm9 -1h2v2h-2zm4 1h2v2h-2zm-70 2h2v2h-2zm4 0h2v2h-2zm2 -1h2v2h-2zm7 0h2v2h-2zm2 1h2v2h-2zm6 -1h2v2h-2zm9 0h2v2h-2zm8 1h2v2h-2zm14 0h2v2h-2zm6 0h2v2h-2zm-53 1h2v2h-2zm2 1h2v2h-2zm17 -1h2v2h-2zm6 1h2v2h-2zm18 -1h2v2h-2zm2 0h2v2h-2zm4 0h2v2h-2zm2 1h2v2h-2zm-57 1h2v2h-2zm26 1h2v2h-2zm3 -1h2v2h-2zm11 0h2v2h-2zm4 1h2v2h-2zm12 0h2v2h-2zm-50 1h2v2h-2zm17 1h2v2h-2zm5 -1h2v2h-2zm7 1h2v2h-2zm3 0h2v2h-2zm14 -1h2v2h-2zm3 1h2v2h-2zm-44 1h2v2h-2zm18 1h2v2h-2zm17 -1h2v2h-2zm-22 2h2v2h-2zm13 2h2v2h-2z"/>
<path fill="#e6e21e" d="M179 898h2v2h-2zm-4 2h2v2h-2zm2 -1h2v2h-2zm5 0h2v2h-2zm2 1h2v2h-2zm-22 1h2v2h-2zm23 0h2v2h-2zm-18 3h2v2h-2zm6 -1h2v2h-2zm9 0h2v2h-2zm3 1h2v2h-2zm1 -1h2v2h-2zm-35 2h2v2h-2zm30 0h2v2h-2zm6 0h2v2h-2zm11 1h2v2h-2zm-40 1h2v2h-2zm6 0h2v2h-2zm15 0h2v2h-2zm3 0h2v2h-2zm-18 2h2v2h-2zm24 0h2v2h-2zm4 0h2v2h-2zm-30 3h2v2h-2zm13 -1h2v2h-2zm15 1h2v2h-2zm5 -1h2v2h-2zm1 1h2v2h-2zm13 -1h2v2h-2zm-53 2h2v2h-2zm4 0h2v2h-2zm13 0h2v2h-2zm1 0h2v2h-2zm7 1h2v2h-2zm14 -1h2v2h-2zm-44 3h2v2h-2zm23 -1h2v2h-2zm-22 2h2v2h-2zm2 1h2v2h-2zm4 0h2v2h-2zm5 -1h2v2h-2zm13 0h2v2h-2zm8 0h2v2h-2zm2 0h2v2h-2zm17 1h2v2h-2zm-42 1h2v2h-2zm12 1h2v2h-2zm32 0h2v2h-2zm6 -1h2v2h-2zm-57 3h2v2h-2zm6 0h2v2h-2zm5 0h2v2h-2zm3 -1h2v2h-2zm2 3h2v2h-2zm-14 1h2v2h-2zm16 1h2v2h-2zm23 0h2v2h-2zm4 -1h2v2h-2zm8 0h2v2h-2zm2 0h2v2h-2zm-34 3h2v2h-2zm13 -1h2v2h-2zm2 1h2v2h-2zm17 0h2v2h-2zm-31 1h2v2h-2zm21 1h2v2h-2zm-31 1h2v2h-2zm4 0h2v2h-2zm14 0h2v2h-2zm3 1h2v2h-2zm2 -1h2v2h-2zm1 0h2v2h-2zm-10 3h2v2h-2zm4 -1h2v2h-2zm5 0h2v2h-2zm-3 3h2v2h-2z"/>
<path fill="#f4a41c" d="M180 902h2v2h-2zm-4 1h2v2h-2zm3 1h2v2h-2zm12 -1h2v2h-2zm4 0h2v2h-2zm-39 3h2v2h-2zm8 -1h2v2h-2zm-3 3h2v2h-2zm8 0h2v2h-2zm2 -1h2v2h-2zm19 0h2v2h-2zm10 2h2v2h-2zm5 0h2v2h-2zm-21 2h2v2h-2zm15 0h2v2h-2zm1 0h2v2h-2zm5 0h2v2h-2zm-5 2h2v2h-2zm3 1h2v2h-2zm-51 2h2v2h-2zm4 0h2v2h-2zm3 -1h2v2h-2zm13 1h2v2h-2zm14 -1h2v2h-2zm4 0h2v2h-2zm13 0h2v2h-2zm8 0h2v2h-2zm-45 3h2v2h-2zm5 0h2v2h-2zm17 0h2v2h-2zm-24 1h2v2h-2zm16 0h2v2h-2zm3 0h2v2h-2zm-21 3h2v2h-2zm11 0h2v2h-2zm26 0h2v2h-2zm-34 1h2v2h-2zm2 1h2v2h-2zm19 -1h2v2h-2zm-5 2h2v2h-2zm6 1h2v2h-2zm-21 1h2v2h-2zm2 1h2v2h-2zm33 -1h2v2h-2zm-33 3h2v2h-2zm3 -1h2v2h-2zm7 0h2v2h-2zm13 0h2v2h-2z"/>
<path fill="#ee3a18" d="M192 903h2v2h-2zm-9 3h2v2h-2zm-9 1h2v2h-2zm13 1h2v2h-2zm6 -1h2v2h-2zm2 0h2v2h-2zm-34 2h2v2h-2zm7 0h2v2h-2zm12 0h2v2h-2zm6 0h2v2h-2zm13 1h2v2h-2zm-40 3h2v2h-2zm12 1h2v2h-2zm5 -1h2v2h-2zm9 0h2v2h-2zm4 1h2v2h-2zm4 -1h2v2h-2zm3 1h2v2h-2zm-41 1h2v2h-2zm24 1h2v2h-2zm2 0h2v2h-2zm1 -1h2v2h-2zm2 1h2v2h-2zm9 -1h2v2h-2zm2 0h2v2h-2zm1 0h2v2h-2zm-27 2h2v2h-2zm21 0h2v2h-2zm5 0h2v2h-2zm3 1h2v2h-2zm3 0h2v2h-2zm-34 1h2v2h-2zm3 1h2v2h-2zm9 -1h2v2h-2zm6 1h2v2h-2zm5 -1h2v2h-2zm-19 3h2v2h-2zm13 -1h2v2h-2zm6 0h2v2h-2zm2 1h2v2h-2zm3 -1h2v2h-2zm1 1h2v2h-2zm4 -1h2v2h-2zm5 1h2v2h-2zm-32 1h2v2h-2zm3 1h2v2h-2zm2 -1h2v2h-2zm5 0h2v2h-2zm-17 3h2v2h-2zm25 -1h2v2h-2zm9 0h2v2h-2zm3 1h2v2h-2zm-26 1h2v2h-2zm3 1h2v2h-2zm5 0h2v2h-2zm1 1h2v2h-2z"/>
</g>
<rect x="65.5" y="624.4" width="421.7" height="420.9" fill="none" stroke="#222" stroke-width="1.4"/>
<path d="M284.9 624.9V1044.3M67.5 832.1H484.2" stroke="#111" stroke-width="1.5"/>
<path d="M75.1 1045.3V1047.9M87.3 1045.3V1047.9M96.8 1045.3V1047.9M104.6 1045.3V1047.9M111.1 1045.3V1047.9M116.8 1045.3V1047.9M121.8 1045.3V1047.9M126.3 1045.3V1049.8M155.8 1045.3V1047.9M173 1045.3V1047.9M185.3 1045.3V1047.9M194.8 1045.3V1047.9M202.5 1045.3V1047.9M209.1 1045.3V1047.9M214.8 1045.3V1047.9M219.8 1045.3V1047.9M224.2 1045.3V1049.8M253.7 1045.3V1047.9M271 1045.3V1047.9M283.2 1045.3V1047.9M292.7 1045.3V1047.9M300.5 1045.3V1047.9M307 1045.3V1047.9M312.7 1045.3V1047.9M317.7 1045.3V1047.9M322.2 1045.3V1049.8M351.7 1045.3V1047.9M368.9 1045.3V1047.9M381.2 1045.3V1047.9M390.7 1045.3V1047.9M398.4 1045.3V1047.9M405 1045.3V1047.9M410.7 1045.3V1047.9M415.7 1045.3V1047.9M420.2 1045.3V1049.8M449.6 1045.3V1047.9M466.9 1045.3V1047.9M479.1 1045.3V1047.9M488.6 1045.3V1047.9M62.9 1040.5H65.5M62.9 1034.3H65.5M62.9 1029H65.5M62.9 1024.5H65.5M62.9 1020.5H65.5M61 1016.9H65.5M62.9 993.3H65.5M62.9 979.5H65.5M62.9 969.8H65.5M62.9 962.2H65.5M62.9 956H65.5M62.9 950.7H65.5M62.9 946.2H65.5M62.9 942.2H65.5M61 938.6H65.5M62.9 915H65.5M62.9 901.2H65.5M62.9 891.5H65.5M62.9 883.9H65.5M62.9 877.7H65.5M62.9 872.4H65.5M62.9 867.9H65.5M62.9 863.9H65.5M61 860.3H65.5M62.9 836.7H65.5M62.9 822.9H65.5M62.9 813.2H65.5M62.9 805.6H65.5M62.9 799.4H65.5M62.9 794.1H65.5M62.9 789.6H65.5M62.9 785.6H65.5M61 782H65.5M62.9 758.4H65.5M62.9 744.6H65.5M62.9 734.9H65.5M62.9 727.3H65.5M62.9 721.1H65.5M62.9 715.8H65.5M62.9 711.3H65.5M62.9 707.3H65.5M61 703.7H65.5M62.9 680.1H65.5M62.9 666.3H65.5M62.9 656.6H65.5M62.9 649H65.5M62.9 642.8H65.5M62.9 637.5H65.5M62.9 633H65.5M62.9 629H65.5M61 624.4H65.5M61 1045.3H65.5M65.5 1045.3V1049.8M487.2 1045.3V1049.8" stroke="#222" stroke-width="1.2" fill="none"/>
<text x="72.3" y="1071" style='font-family:"Liberation Sans",sans-serif;font-size:14.8px' text-anchor="middle">10<tspan dx="2" dy="-7" style="font-size:12.5px">3.4</tspan></text>
<text x="126.3" y="1071" style='font-family:"Liberation Sans",sans-serif;font-size:14.8px' text-anchor="middle">10<tspan dx="2" dy="-7" style="font-size:12.5px">4</tspan></text>
<text x="224.2" y="1071" style='font-family:"Liberation Sans",sans-serif;font-size:14.8px' text-anchor="middle">10<tspan dx="2" dy="-7" style="font-size:12.5px">5</tspan></text>
<text x="322.2" y="1071" style='font-family:"Liberation Sans",sans-serif;font-size:14.8px' text-anchor="middle">10<tspan dx="2" dy="-7" style="font-size:12.5px">6</tspan></text>
<text x="420.2" y="1071" style='font-family:"Liberation Sans",sans-serif;font-size:14.8px' text-anchor="middle">10<tspan dx="2" dy="-7" style="font-size:12.5px">7</tspan></text>
<text x="483.2" y="1071" style='font-family:"Liberation Sans",sans-serif;font-size:14.8px' text-anchor="middle">10<tspan dx="2" dy="-7" style="font-size:12.5px">7.7</tspan></text>
<text transform="translate(55.5 626.4) rotate(-90)" style='font-family:"Liberation Sans",sans-serif;font-size:14.8px' text-anchor="middle">10<tspan dx="2" dy="-7" style="font-size:12.5px">7</tspan></text>
<text transform="translate(55.5 703.7) rotate(-90)" style='font-family:"Liberation Sans",sans-serif;font-size:14.8px' text-anchor="middle">10<tspan dx="2" dy="-7" style="font-size:12.5px">6</tspan></text>
<text transform="translate(55.5 782) rotate(-90)" style='font-family:"Liberation Sans",sans-serif;font-size:14.8px' text-anchor="middle">10<tspan dx="2" dy="-7" style="font-size:12.5px">5</tspan></text>
<text transform="translate(55.5 860.3) rotate(-90)" style='font-family:"Liberation Sans",sans-serif;font-size:14.8px' text-anchor="middle">10<tspan dx="2" dy="-7" style="font-size:12.5px">4</tspan></text>
<text transform="translate(55.5 938.6) rotate(-90)" style='font-family:"Liberation Sans",sans-serif;font-size:14.8px' text-anchor="middle">10<tspan dx="2" dy="-7" style="font-size:12.5px">3</tspan></text>
<text transform="translate(55.5 1036.3) rotate(-90)" style='font-family:"Liberation Sans",sans-serif;font-size:14.8px' text-anchor="middle">10<tspan dx="2" dy="-7" style="font-size:12.5px">1.9</tspan></text>
<text transform="translate(27.7 864.6) rotate(-90)" style='font-family:"Liberation Sans", sans-serif;font-size:15.2px'>PerCP-A</text>
<text x="251.8" y="1095" style='font-family:"Liberation Sans", sans-serif;font-size:15.2px'>FITC-A</text>
<text x="73" y="644" style='font-family:"Liberation Sans",sans-serif;font-size:15.2px'>Q3-1</text>
<text x="73" y="661" style='font-family:"Liberation Sans",sans-serif;font-size:15.2px'>2.86%</text>
<text x="423.4" y="644" style='font-family:"Liberation Sans",sans-serif;font-size:15.2px'>Q3-2</text>
<text x="423.4" y="661" style='font-family:"Liberation Sans",sans-serif;font-size:15.2px'>3.79%</text>
<text x="73" y="1011" style='font-family:"Liberation Sans",sans-serif;font-size:15.2px'>Q3-3</text>
<text x="73" y="1028" style='font-family:"Liberation Sans",sans-serif;font-size:15.2px'>92.49%</text>
<text x="423.4" y="1011" style='font-family:"Liberation Sans",sans-serif;font-size:15.2px'>Q3-4</text>
<text x="423.4" y="1028" style='font-family:"Liberation Sans",sans-serif;font-size:15.2px'>0.85%</text>
<text x="241.5" y="590.4" style='font-family:"Liberation Serif", serif;font-size:46px;font-weight:bold' textLength="67.5" lengthAdjust="spacingAndGlyphs">NC</text>
<text x="240.8" y="615.5" style='font-family:"Liberation Sans",sans-serif;font-size:15.2px'>1 / <tspan fill="#e8141e">P1</tspan> / <tspan fill="#1a9a2a">P2</tspan></text>
<clipPath id="dclip22"><rect x="569.9" y="624.4" width="421.1" height="420.9"/></clipPath>
<g clip-path="url(#dclip22)">
<path d="M772,914 L772.8,919.9 L773.2,926 L772.1,931.9 L770.7,937.7 L768.8,943.4 L767.5,949.4 L764.8,954.8 L762.6,960.6 L760,966.3 L756.2,971.2 L752.7,976.5 L748.2,980.9 L744,985.7 L738.9,989.4 L733.5,992.8 L727.5,994.9 L721.7,997.4 L715.8,999.6 L709.5,1000.4 L703.5,1001.6 L697.2,1001.5 L691.1,1001.9 L685,1000.9 L679,999.5 L673.1,998.7 L667.4,996.5 L662,993.9 L656.5,991.9 L651.6,988.6 L647,985 L642.7,981.2 L638.7,977 L634.5,973.5 L631.2,968.9 L628.2,964.1 L625.7,959.3 L623.5,954.3 L620.9,949.7 L618.6,944.9 L615.6,940.3 L614,935.2 L611.7,930.2 L609.8,925 L609.2,919.5 L609,914 L609.2,908.5 L610.8,903.1 L613.7,898.2 L617.8,893.9 L622.2,890.1 L625.9,886.3 L630.6,883.5 L635.4,881.1 L640.3,879.3 L644.3,877.4 L648.4,875.8 L652.5,874.6 L656.6,873.8 L660,872.5 L664,872.4 L667.4,871.8 L670.8,871.3 L674.1,871.2 L677.1,870.3 L680.4,870.7 L683.4,870.2 L686.5,870 L689.5,870 L692.6,870.2 L695.6,870.7 L698.9,870.3 L701.9,871.2 L705.2,871.3 L708.6,871.8 L712,872.4 L715.4,873.4 L719.4,873.8 L723.5,874.6 L727.6,875.8 L731.7,877.4 L735.7,879.3 L740.6,881.1 L745.4,883.5 L750.1,886.3 L754.7,889.7 L759.1,893.6 L763.3,898 L767.2,902.9 L769.8,908.3Z" fill="#1020f0" fill-opacity="0.06" filter="url(#blur3)"/>
<path d="M759,914 L759.8,919 L759.3,924 L758.4,929 L756.2,933.6 L754.7,938.3 L751.9,942.5 L748.9,946.4 L745.7,950 L743,954 L740.1,957.7 L736.9,961.2 L733.5,964.5 L729.9,967.6 L726,970.4 L722,972.9 L717.8,975.1 L713.5,977 L709,978.7 L704.5,980 L699.6,980 L695,980.6 L690.3,980 L685.7,980 L681.2,978.6 L676.9,977 L672.8,975.1 L668.5,973.9 L664.8,971.5 L661.3,968.8 L658,966 L654.4,963.7 L651.7,960.5 L648.5,957.8 L645.6,955 L642.8,951.9 L640.3,948.7 L637.1,945.8 L634.1,942.6 L631.4,939.2 L627.9,935.9 L625.5,931.9 L622.5,927.9 L620.7,923.5 L620.2,918.7 L619,914 L620.2,909.3 L621.7,904.7 L624.4,900.5 L627.4,896.6 L630.7,893.1 L635,890.4 L638.6,887.7 L643.1,885.9 L646.7,884 L650.5,882.5 L654.2,881.4 L657.9,880.6 L660.9,879.3 L664.5,879.2 L667.5,878.5 L670.5,878 L673.4,877.8 L675.9,876.9 L678.8,877.1 L681.4,876.6 L684.1,877.2 L686.7,877 L689.3,877 L691.9,877.2 L694.4,877.6 L697.2,877.1 L699.7,877.9 L702.6,877.8 L705.5,878 L708.5,878.5 L711.5,879.2 L714.5,880.1 L717.4,881.3 L721.1,882 L724.8,883.1 L728.5,884.6 L732.1,886.4 L736.6,888.2 L741,890.4 L744.4,893.5 L748.6,896.6 L752.6,900.3 L755.3,904.5 L757.8,909.1Z" fill="#1840f0" fill-opacity="0.14" filter="url(#blur2_5)"/>
<path d="M749,914 L749.8,918.3 L749.4,922.6 L747.7,926.7 L745.7,930.5 L743.4,934.2 L740.1,937.2 L737.4,940.3 L733.8,942.6 L730.9,945.2 L727.8,947.4 L724,948.7 L720.8,950.4 L717.6,951.8 L714.3,953 L711.5,954.7 L708.2,955.3 L704.9,955.7 L701.9,956.8 L698.6,956.7 L695.6,957.3 L692.5,956.8 L689.5,957 L686.5,957 L683.6,955.8 L680.7,955.4 L677.8,954.8 L675,953.9 L672.3,952.9 L669.6,951.7 L666.5,951.2 L664,949.6 L660.9,948.7 L657.9,947.4 L655.6,945.3 L652,944.2 L649.2,942.2 L646.4,940 L643,937.9 L640.5,935.2 L637.3,932.5 L635.1,929.2 L632.2,925.9 L630.6,922.1 L629.1,918.1 L629,914 L629.1,909.9 L630.6,905.9 L633.2,902.4 L635.1,898.8 L639.1,896.2 L642.3,893.7 L645.6,891.5 L649,889.6 L652.4,888.1 L655.8,887 L659.2,886.2 L661.9,885 L665.2,884.8 L667.9,884.2 L670.5,883.7 L673.1,883.4 L675.6,883.4 L677.8,882.6 L680.3,883 L682.4,882.5 L684.7,882.2 L686.9,882 L689.1,882 L691.3,882.2 L693.6,882.5 L695.7,883 L698.2,882.6 L700.4,883.4 L702.9,883.4 L705.5,883.7 L707.6,885 L710.8,884.8 L713.4,885.8 L716.1,886.9 L719.4,887.6 L722.8,888.7 L726.2,890.2 L729.5,891.9 L732.8,894.1 L736.9,896.2 L739.9,899.1 L742.8,902.4 L745.4,905.9 L747.9,909.8Z" fill="#22b0f0" fill-opacity="0.7" filter="url(#blur2)"/>
<path d="M741,914 L740.9,917.7 L740.5,921.4 L738.9,924.8 L737,928.1 L735,931.1 L732.8,933.9 L729.5,936.1 L726.2,937.8 L723.6,939.9 L720.2,941 L717.5,942.5 L714.8,943.7 L712,944.7 L709.2,945.5 L706.5,946 L703.8,946.4 L701.1,946.5 L698.8,947.3 L696.2,947 L693.9,947.5 L691.4,946.8 L689.2,947 L686.8,947 L684.6,946.8 L682.3,946.5 L680,946 L677.8,945.4 L675.3,945.5 L673.1,944.6 L670.5,944.3 L668.4,943 L665.8,942.4 L663.2,941.5 L660.7,940.4 L658.1,939.1 L655.6,937.5 L652.4,936.3 L650,934.2 L646.9,932.3 L644.8,929.7 L641.9,927.2 L640.1,924.2 L638.5,921 L637.1,917.6 L637,914 L637.1,910.4 L638.5,907 L640.1,903.8 L642.8,901 L644.8,898.3 L647.8,896.1 L650.9,894.3 L654.1,892.8 L657.3,891.7 L660.4,890.9 L662.8,889.7 L665.2,888.7 L668.3,888.8 L670.7,888.3 L673,888 L674.8,887 L677.1,887.1 L679.3,887.4 L681.2,886.8 L683.1,886.4 L685.2,887.1 L687.1,887 L688.9,887 L690.8,887.1 L692.7,887.4 L694.8,886.8 L696.7,887.4 L698.9,887.1 L700.7,887.9 L703,888 L705.3,888.3 L707.7,888.8 L710.1,889.5 L712.5,890.4 L714.8,891.5 L717.9,892.3 L721.1,893.3 L724.2,894.8 L727.3,896.5 L730.3,898.6 L733.2,901 L735.9,903.8 L737.5,907 L739.9,910.4Z" fill="#30d070" fill-opacity="0.9" filter="url(#blur2)"/>
<path d="M733,914 L733.9,917.2 L733.6,920.4 L732,923.4 L730.3,926.1 L728.4,928.7 L725.5,930.7 L723.3,932.8 L720.2,934.1 L717.9,935.7 L714.8,936.5 L712.5,937.6 L710.1,938.5 L707.7,939.2 L705.3,939.7 L703,940 L700.7,940.1 L698.9,940.9 L696.7,940.6 L694.8,941.2 L692.7,940.6 L690.8,940.9 L688.9,941 L687.1,941 L685.2,940.9 L683.3,940.6 L681.5,940.2 L679.7,939.7 L677.5,940 L675.7,939.2 L673.5,939.1 L671.8,938 L669.5,937.6 L667.3,937 L665,936.2 L662.7,935.2 L660.5,934 L658.3,932.5 L655.3,931.4 L653.3,929.5 L651.4,927.3 L648.6,925.3 L646.9,922.7 L645.4,920 L644.1,917.1 L644,914 L644.1,910.9 L645.4,908 L646.9,905.3 L648.6,902.7 L651.4,900.7 L654.2,899 L656.2,897.1 L659.2,896 L661.3,894.6 L664.3,894.1 L666.4,893.2 L668.6,892.4 L670.8,891.9 L672.9,891.6 L675,891.5 L677,891.5 L678.6,890.8 L680.6,891.2 L682.2,890.7 L683.8,890.4 L685.6,891.1 L687.2,891 L688.8,891 L690.4,891.1 L692,891.3 L693.8,890.7 L695.4,891.2 L697,891.7 L699,891.5 L700.5,892.3 L702.5,892.4 L704.6,892.7 L706.7,893.2 L708.9,893.9 L711,894.7 L713.9,895.2 L716,896.5 L718.9,897.6 L720.9,899.4 L723.7,901 L726.5,903 L729.1,905.3 L730.6,908 L732.9,910.9Z" fill="#3ccc3c" fill-opacity="1" filter="url(#blur2)"/>
<path d="M722,914 L721.9,916.4 L721.7,918.7 L720.3,920.9 L718.8,922.8 L717.1,924.6 L715.4,926.2 L713.6,927.6 L711.7,928.8 L709.8,929.9 L707.9,930.7 L706,931.4 L704.1,931.8 L702.2,932.1 L700.3,932.2 L699,933.1 L697.2,932.9 L695.9,933.5 L694.2,933 L692.8,933.4 L691.5,933.7 L690,932.9 L688.7,933 L687.3,933 L686,932.9 L684.7,932.7 L683.4,932.4 L681.8,933 L680.5,932.5 L679.2,932 L677.5,932.2 L676.3,931.4 L674.5,931.3 L673.3,930.3 L671.5,930 L669.6,929.4 L667.8,928.7 L666,927.8 L664.2,926.7 L662.4,925.4 L660.7,923.9 L659.2,922.3 L657.7,920.4 L656.3,918.5 L655.1,916.3 L655,914 L655.1,911.7 L656.3,909.5 L657.7,907.6 L659.2,905.7 L660.7,904.1 L662.4,902.6 L665,901.8 L666.8,900.8 L668.6,899.9 L670.4,899.2 L672.2,898.7 L673.9,898.4 L675.7,898.2 L676.8,897.4 L678.5,897.5 L679.7,896.9 L681.3,897.3 L682.4,896.9 L683.6,896.5 L685,897.3 L686.2,897.1 L687.4,897 L688.6,897 L689.8,897.1 L691,897.3 L692.1,897.5 L693.6,896.9 L694.7,897.3 L695.9,897.8 L697.5,897.5 L698.6,898.2 L700.3,898.2 L702.1,898.4 L703.1,899.4 L704.9,899.9 L706.6,900.5 L708.4,901.3 L711,901.8 L712.7,903 L714.3,904.4 L716.8,905.7 L718.3,907.6 L719.7,909.5 L720.9,911.7Z" fill="#8edc2c" fill-opacity="0.9" filter="url(#blur2)"/>
<path d="M713,914 L713.9,915.8 L712.8,917.5 L712.5,919.2 L711.1,920.6 L710.6,922.2 L709,923.4 L707.4,924.3 L705.8,925.1 L704.2,925.8 L702.6,926.2 L700.9,926.5 L700,927.4 L698.5,927.4 L697.5,928.1 L696,927.9 L695,928.4 L693.6,927.9 L692.6,928.3 L691.6,928.6 L690.6,928.8 L689.5,927.9 L688.5,928 L687.5,928 L686.5,927.9 L685.6,927.8 L684.6,927.6 L683.4,928.3 L682.4,927.9 L681.4,927.5 L680.5,927 L679.1,927.3 L678.1,926.6 L676.6,926.6 L675.8,925.8 L674.2,925.6 L672.6,925.2 L671.9,924.1 L670.3,923.4 L668.8,922.5 L667.3,921.5 L665.9,920.3 L665.5,918.8 L664.2,917.3 L664.1,915.7 L664,914 L664.1,912.3 L664.2,910.7 L665.5,909.2 L666.9,907.9 L667.3,906.5 L668.8,905.5 L670.3,904.6 L671.9,903.9 L673.4,903.4 L675,903.1 L676.5,902.9 L677.3,902.1 L678.8,902.2 L679.6,901.6 L681,901.9 L681.9,901.4 L683.1,901.9 L684,901.6 L684.9,901.4 L685.7,901.2 L686.6,901.1 L687.5,901 L688.5,901 L689.4,901.1 L690.3,901.2 L691.1,901.4 L692,901.6 L692.9,901.9 L694.1,901.4 L695,901.9 L695.8,902.4 L697.2,902.2 L698,902.9 L699.5,902.9 L701,903.1 L701.8,904 L703.3,904.5 L704.8,905.1 L706.3,905.9 L707.7,906.8 L709.1,907.9 L710.5,909.2 L711.8,910.7 L712.9,912.3Z" fill="#e0dc20" fill-opacity="0.85" filter="url(#blur2)"/>
<path d="M703,914 L703,915 L702.9,916.1 L702.7,917.1 L701.5,917.9 L701.2,918.8 L699.9,919.3 L699.5,920.1 L698.2,920.4 L697.7,921.1 L696.4,921.1 L695.9,921.6 L694.7,921.4 L694.2,921.9 L693.6,922.3 L692.5,921.8 L691.9,922.1 L691.4,922.3 L690.8,922.6 L690.2,922.7 L689.4,921.9 L688.8,922 L688.3,922 L687.7,922 L687.2,922 L686.6,921.9 L686.1,921.8 L685.5,921.6 L684.6,922.3 L684.1,922.1 L683.5,921.8 L683,921.5 L682.5,921.1 L681.3,921.4 L680.8,920.9 L680.3,920.4 L679.1,920.5 L678.7,919.8 L677.4,919.6 L677,918.9 L675.8,918.4 L675.5,917.6 L675.3,916.7 L674.1,915.9 L674,915 L674,914 L674,913 L674.1,912.1 L675.3,911.3 L675.5,910.4 L676.7,909.9 L677,909.1 L678.3,908.8 L679.5,908.7 L679.9,908.1 L681.1,908.2 L681.5,907.7 L682,907.3 L683.1,907.7 L683.5,907.4 L684,907.1 L684.5,906.8 L685.4,907.5 L685.8,907.3 L686.3,907.2 L686.8,907.1 L687.3,907 L687.8,907 L688.2,907 L688.7,907 L689.2,907.1 L689.7,907.2 L690.2,907.3 L690.6,907.5 L691.5,906.8 L692,907.1 L692.5,907.4 L692.9,907.7 L694,907.3 L694.5,907.7 L694.9,908.2 L696.1,908.1 L696.5,908.7 L697.7,908.8 L698,909.5 L699.3,909.9 L700.5,910.4 L700.7,911.3 L701.9,912.1 L702,913Z" fill="#f08018" fill-opacity="0.45" filter="url(#blur1_5)"/>
<path d="M694,914 L694,914.4 L693.9,914.8 L693.9,915.2 L693.8,915.7 L693.6,916.1 L693.5,916.4 L693.3,916.8 L693.1,917.2 L692,916.9 L691.8,917.2 L691.6,917.5 L691.3,917.7 L690.5,917.2 L690.2,917.3 L690,917.5 L689.8,917.6 L689.5,917.7 L689.2,917.8 L689,917.9 L688.7,917.9 L688.4,918 L688.1,918 L687.9,918 L687.6,918 L687.3,917.9 L687,917.9 L686.8,917.8 L686.5,917.7 L686.2,917.6 L686,917.5 L685.8,917.3 L685.5,917.2 L685.3,917 L685.1,916.8 L684.9,916.6 L684,916.9 L683.8,916.6 L683.6,916.3 L683.4,916 L683.3,915.7 L683.2,915.4 L682.1,915.2 L682.1,914.8 L682,914.4 L682,914 L683,913.7 L683,913.3 L683.1,913 L683.2,912.6 L683.3,912.3 L684.3,912.4 L684.5,912.1 L684.6,911.9 L684.8,911.6 L685.7,912.1 L685.8,911.9 L686,911.8 L686.2,911.6 L686.3,911.5 L686.5,911.4 L686.7,911.3 L686.9,911.2 L687.1,911.1 L687.5,912.1 L687.7,912 L687.8,912 L687.9,912 L688.1,912 L688.2,912 L688.3,912 L688.5,912.1 L688.9,911.1 L689.1,911.2 L689.3,911.3 L689.5,911.4 L689.7,911.5 L689.8,911.6 L690,911.8 L690.2,911.9 L690.3,912.1 L691.2,911.6 L691.4,911.9 L691.5,912.1 L691.7,912.4 L692.7,912.3 L692.8,912.6 L692.9,913 L693.9,913.2 L694,913.6Z" fill="#ec3418" fill-opacity="0.3" filter="url(#blur1_2)"/>
<path d="M923.9,735 L923.8,737.8 L923.6,740.6 L921.3,743.1 L918.8,745.4 L915.3,747.2 L911.7,748.6 L908.2,749.7 L904.6,750.5 L901.1,750.9 L898.5,751.5 L895.1,751.3 L892.6,751.5 L890.1,751.4 L887.7,751.1 L886.2,751.3 L884,750.6 L882.5,750.5 L881.1,750.4 L879.7,750.1 L878.4,749.7 L877.6,750.1 L876.4,749.6 L875.3,749 L874.5,749.3 L873.5,748.5 L872.8,748.7 L872.1,748.8 L871.3,747.9 L870.6,748 L869.9,748 L869.2,748 L868.5,747.9 L867.9,747.8 L867.2,747.7 L866.5,747.6 L865.9,747.4 L865.2,747.1 L864.6,746.9 L864,746.6 L863.4,746.3 L862.8,745.9 L861.7,746.3 L861.1,745.9 L859.9,746.1 L859.3,745.6 L858,745.7 L857.5,745.1 L856.1,745 L854,745.3 L852.6,745 L850.3,745 L847.1,745.2 L841.9,745.8 L835.7,746.1 L825.5,746.9 L813.2,747.1 L797.8,746.4 L774.4,745 L706.1,743.6 L715.9,735 L805,731.6 L846,732.5 L852.1,732.2 L854.2,731.7 L856.4,731.4 L857.5,731 L858.7,730.7 L859.9,730.5 L860.1,730 L861.2,730 L861.5,729.6 L862.6,729.7 L862.9,729.3 L863.2,729 L863.5,728.6 L864.5,729.1 L864.9,728.8 L865.2,728.5 L865.5,728.3 L865.9,728.1 L866.3,727.9 L866.6,727.7 L867,727.5 L867.4,727.4 L867.8,727.3 L868.2,727.2 L868.6,727.1 L869.1,727 L869.5,727 L869.9,726 L870.4,726 L870.8,726 L871.3,726.1 L872,725.2 L872.5,725.3 L873,725.5 L873.8,724.7 L874.4,725 L875.3,724.3 L875.9,724.6 L877,724.1 L878.1,723.7 L879.3,723.3 L880.6,723.1 L882.6,722.3 L884,722.3 L886.2,721.8 L888.5,721.5 L890.9,721.4 L893.3,721.5 L896.6,721.4 L900,721.6 L903.5,722.1 L907.9,722.6 L911.4,723.9 L914.9,725.4 L918.3,727.3 L921.6,729.6 L922.8,732.2Z" fill="#1020f0" fill-opacity="0.06" filter="url(#blur2_5)"/>
<path d="M913.9,735 L913.8,737.3 L913.7,739.6 L911.4,741.6 L909,743.3 L905.6,744.6 L902.2,745.5 L898.8,746.1 L895.5,746.4 L892.2,746.3 L889,746 L886.7,745.9 L884.5,745.6 L882.3,745.1 L880.3,744.4 L878.4,743.5 L877.3,743.2 L875.6,742 L874.6,741.5 L873.7,740.9 L872.4,739.3 L869.9,735 L869.9,735 L869.9,735 L869.9,735 L869.9,735 L869.9,735 L869.9,735 L869.9,735 L869.9,735 L869.9,735 L869.9,735 L869.9,735 L869.9,735 L869.9,735 L869.9,735 L869.9,735 L869.9,735 L869.9,735 L869.9,735 L869.9,735 L869.9,735 L869.9,735 L869.9,735 L869.9,735 L869.9,735 L869.9,735 L869.9,735 L869.9,735 L869.9,735 L869.9,735 L869.9,735 L869.9,735 L869.9,735 L869.9,735 L869.9,735 L869.9,735 L869.9,735 L869.9,735 L869.9,735 L869.9,735 L869.9,735 L869.9,735 L869.9,735 L869.9,735 L869.9,735 L869.9,735 L869.9,735 L869.9,735 L869.9,735 L869.9,735 L869.9,735 L869.9,735 L869.9,735 L869.9,735 L869.9,735 L869.9,735 L869.9,735 L869.9,735 L869.9,735 L869.9,735 L869.9,735 L869.9,735 L869.9,735 L869.9,735 L869.9,735 L869.9,735 L869.9,735 L869.9,735 L869.9,735 L869.9,735 L869.9,735 L869.9,735 L869.9,735 L869.9,735 L869.9,735 L869.9,735 L869.9,735 L869.9,735 L869.9,735 L869.9,735 L869.9,735 L869.9,735 L869.9,735 L869.9,735 L869.9,735 L869.9,735 L869.9,735 L869.9,735 L869.9,735 L881.2,728.5 L885,727.3 L889.1,726.5 L892.3,726.4 L896.5,726.3 L900.8,726.7 L905.1,727.5 L908.4,728.9 L910.7,730.7 L912.8,732.7Z" fill="#1e50f0" fill-opacity="0.12" filter="url(#blur2)"/>
<path fill="#fff" d="M913 721h1.6v1.6h-1.6zm-40 4h1.6v1.6h-1.6zm-38 2h1.6v1.6h-1.6zm20 0h1.6v1.6h-1.6zm40 0h1.6v1.6h-1.6zm-140 2h1.6v1.6h-1.6zm30 0h1.6v1.6h-1.6zm10 0h1.6v1.6h-1.6zm10 0h1.6v1.6h-1.6zm2 0h1.6v1.6h-1.6zm20 0h1.6v1.6h-1.6zm4 0h1.6v1.6h-1.6zm30 0h1.6v1.6h-1.6zm44 0h1.6v1.6h-1.6zm16 0h1.6v1.6h-1.6zm-184 2h1.6v1.6h-1.6zm14 0h1.6v1.6h-1.6zm16 0h1.6v1.6h-1.6zm6 0h1.6v1.6h-1.6zm10 0h1.6v1.6h-1.6zm4 0h1.6v1.6h-1.6zm2 0h1.6v1.6h-1.6zm6 0h1.6v1.6h-1.6zm4 0h1.6v1.6h-1.6zm10 0h1.6v1.6h-1.6zm16 0h1.6v1.6h-1.6zm26 0h1.6v1.6h-1.6zm52 0h1.6v1.6h-1.6zm-188 2h1.6v1.6h-1.6zm8 0h1.6v1.6h-1.6zm34 0h1.6v1.6h-1.6zm14 0h1.6v1.6h-1.6zm76 0h1.6v1.6h-1.6zm2 0h1.6v1.6h-1.6zm8 0h1.6v1.6h-1.6zm-60 2h1.6v1.6h-1.6zm18 0h1.6v1.6h-1.6zm24 0h1.6v1.6h-1.6zm18 0h1.6v1.6h-1.6zm32 0h1.6v1.6h-1.6zm-148 2h1.6v1.6h-1.6zm24 0h1.6v1.6h-1.6zm30 0h1.6v1.6h-1.6zm2 0h1.6v1.6h-1.6zm2 0h1.6v1.6h-1.6zm2 0h1.6v1.6h-1.6zm2 0h1.6v1.6h-1.6zm4 0h1.6v1.6h-1.6zm12 0h1.6v1.6h-1.6zm66 0h1.6v1.6h-1.6zm-190 2h1.6v1.6h-1.6zm18 0h1.6v1.6h-1.6zm142 0h1.6v1.6h-1.6zm64 0h1.6v1.6h-1.6zm-226 2h1.6v1.6h-1.6zm38 0h1.6v1.6h-1.6zm2 0h1.6v1.6h-1.6zm66 0h1.6v1.6h-1.6zm96 0h1.6v1.6h-1.6zm10 0h1.6v1.6h-1.6zm-130 2h1.6v1.6h-1.6zm22 0h1.6v1.6h-1.6zm10 0h1.6v1.6h-1.6zm32 0h1.6v1.6h-1.6zm12 0h1.6v1.6h-1.6zm18 0h1.6v1.6h-1.6zm54 0h1.6v1.6h-1.6zm-232 2h1.6v1.6h-1.6zm26 0h1.6v1.6h-1.6zm18 0h1.6v1.6h-1.6zm12 0h1.6v1.6h-1.6zm10 0h1.6v1.6h-1.6zm4 0h1.6v1.6h-1.6zm20 0h1.6v1.6h-1.6zm2 0h1.6v1.6h-1.6zm46 0h1.6v1.6h-1.6zm18 0h1.6v1.6h-1.6zm4 0h1.6v1.6h-1.6zm22 0h1.6v1.6h-1.6zm-178 2h1.6v1.6h-1.6zm16 0h1.6v1.6h-1.6zm14 0h1.6v1.6h-1.6zm60 0h1.6v1.6h-1.6zm6 0h1.6v1.6h-1.6zm52 0h1.6v1.6h-1.6zm24 0h1.6v1.6h-1.6zm4 0h1.6v1.6h-1.6zm28 0h1.6v1.6h-1.6zm4 0h1.6v1.6h-1.6zm-178 2h1.6v1.6h-1.6zm18 0h1.6v1.6h-1.6zm6 0h1.6v1.6h-1.6zm28 0h1.6v1.6h-1.6zm20 0h1.6v1.6h-1.6zm20 0h1.6v1.6h-1.6zm34 0h1.6v1.6h-1.6zm4 0h1.6v1.6h-1.6zm16 0h1.6v1.6h-1.6zm34 0h1.6v1.6h-1.6zm6 0h1.6v1.6h-1.6zm-204 2h1.6v1.6h-1.6zm10 0h1.6v1.6h-1.6zm100 0h1.6v1.6h-1.6zm70 0h1.6v1.6h-1.6zm12 2h1.6v1.6h-1.6zm-230 114h1.6v1.6h-1.6zm24 2h1.6v1.6h-1.6zm-42 2h1.6v1.6h-1.6zm8 0h1.6v1.6h-1.6zm2 0h1.6v1.6h-1.6zm4 0h1.6v1.6h-1.6zm6 0h1.6v1.6h-1.6zm34 0h1.6v1.6h-1.6zm4 0h1.6v1.6h-1.6zm-56 2h1.6v1.6h-1.6zm52 0h1.6v1.6h-1.6zm2 0h1.6v1.6h-1.6zm-64 2h1.6v1.6h-1.6zm12 0h1.6v1.6h-1.6zm-10 2h1.6v1.6h-1.6zm88 0h1.6v1.6h-1.6zm6 0h1.6v1.6h-1.6zm-108 2h1.6v1.6h-1.6zm12 0h1.6v1.6h-1.6zm8 0h1.6v1.6h-1.6zm8 0h1.6v1.6h-1.6zm-34 2h1.6v1.6h-1.6zm4 0h1.6v1.6h-1.6zm30 0h1.6v1.6h-1.6zm22 0h1.6v1.6h-1.6zm16 0h1.6v1.6h-1.6zm42 0h1.6v1.6h-1.6zm-114 2h1.6v1.6h-1.6zm42 0h1.6v1.6h-1.6zm20 0h1.6v1.6h-1.6zm14 0h1.6v1.6h-1.6zm26 0h1.6v1.6h-1.6zm18 0h1.6v1.6h-1.6zm-114 2h1.6v1.6h-1.6zm32 0h1.6v1.6h-1.6zm12 0h1.6v1.6h-1.6zm2 0h1.6v1.6h-1.6zm14 0h1.6v1.6h-1.6zm16 0h1.6v1.6h-1.6zm-88 2h1.6v1.6h-1.6zm32 0h1.6v1.6h-1.6zm64 0h1.6v1.6h-1.6zm16 0h1.6v1.6h-1.6zm-108 2h1.6v1.6h-1.6zm4 0h1.6v1.6h-1.6zm4 0h1.6v1.6h-1.6zm24 0h1.6v1.6h-1.6zm-30 2h1.6v1.6h-1.6zm142 0h1.6v1.6h-1.6zm-8 2h1.6v1.6h-1.6zm8 0h1.6v1.6h-1.6zm-150 2h1.6v1.6h-1.6zm26 0h1.6v1.6h-1.6zm94 0h1.6v1.6h-1.6zm24 0h1.6v1.6h-1.6zm4 0h1.6v1.6h-1.6zm-152 6h1.6v1.6h-1.6zm-2 2h1.6v1.6h-1.6zm16 0h1.6v1.6h-1.6zm6 0h1.6v1.6h-1.6zm140 0h1.6v1.6h-1.6zm-170 2h1.6v1.6h-1.6zm4 0h1.6v1.6h-1.6zm164 0h1.6v1.6h-1.6zm-144 2h1.6v1.6h-1.6zm8 0h1.6v1.6h-1.6zm120 0h1.6v1.6h-1.6zm10 0h1.6v1.6h-1.6zm-154 2h1.6v1.6h-1.6zm166 0h1.6v1.6h-1.6zm-168 2h1.6v1.6h-1.6zm2 0h1.6v1.6h-1.6zm132 0h1.6v1.6h-1.6zm30 0h1.6v1.6h-1.6zm-160 4h1.6v1.6h-1.6zm162 0h1.6v1.6h-1.6zm-162 2h1.6v1.6h-1.6zm18 0h1.6v1.6h-1.6zm-10 2h1.6v1.6h-1.6zm154 0h1.6v1.6h-1.6zm6 0h1.6v1.6h-1.6zm-30 2h1.6v1.6h-1.6zm-146 2h1.6v1.6h-1.6zm2 0h1.6v1.6h-1.6zm6 0h1.6v1.6h-1.6zm-2 2h1.6v1.6h-1.6zm20 0h1.6v1.6h-1.6zm120 0h1.6v1.6h-1.6zm10 0h1.6v1.6h-1.6zm22 2h1.6v1.6h-1.6zm-170 2h1.6v1.6h-1.6zm142 0h1.6v1.6h-1.6zm14 0h1.6v1.6h-1.6zm12 0h1.6v1.6h-1.6zm-178 2h1.6v1.6h-1.6zm140 0h1.6v1.6h-1.6zm6 0h1.6v1.6h-1.6zm22 0h1.6v1.6h-1.6zm-134 2h1.6v1.6h-1.6zm8 2h1.6v1.6h-1.6zm-30 2h1.6v1.6h-1.6zm4 0h1.6v1.6h-1.6zm118 0h1.6v1.6h-1.6zm44 0h1.6v1.6h-1.6zm-140 2h1.6v1.6h-1.6zm124 0h1.6v1.6h-1.6zm-118 2h1.6v1.6h-1.6zm90 0h1.6v1.6h-1.6zm-128 4h1.6v1.6h-1.6zm12 0h1.6v1.6h-1.6zm4 0h1.6v1.6h-1.6zm28 0h1.6v1.6h-1.6zm12 0h1.6v1.6h-1.6zm112 0h1.6v1.6h-1.6zm-112 2h1.6v1.6h-1.6zm62 0h1.6v1.6h-1.6zm14 0h1.6v1.6h-1.6zm-82 2h1.6v1.6h-1.6zm14 0h1.6v1.6h-1.6zm-58 2h1.6v1.6h-1.6zm22 0h1.6v1.6h-1.6zm76 0h1.6v1.6h-1.6zm2 0h1.6v1.6h-1.6zm8 0h1.6v1.6h-1.6zm42 0h1.6v1.6h-1.6zm4 0h1.6v1.6h-1.6zm-90 2h1.6v1.6h-1.6zm32 0h1.6v1.6h-1.6zm8 0h1.6v1.6h-1.6zm16 0h1.6v1.6h-1.6zm38 0h1.6v1.6h-1.6zm-100 2h1.6v1.6h-1.6zm12 0h1.6v1.6h-1.6zm70 0h1.6v1.6h-1.6zm-132 2h1.6v1.6h-1.6zm34 0h1.6v1.6h-1.6zm30 0h1.6v1.6h-1.6zm54 0h1.6v1.6h-1.6zm32 0h1.6v1.6h-1.6zm-140 2h1.6v1.6h-1.6zm40 0h1.6v1.6h-1.6zm54 0h1.6v1.6h-1.6zm30 0h1.6v1.6h-1.6zm-122 2h1.6v1.6h-1.6zm4 0h1.6v1.6h-1.6zm24 0h1.6v1.6h-1.6zm28 0h1.6v1.6h-1.6zm4 0h1.6v1.6h-1.6zm16 0h1.6v1.6h-1.6zm56 0h1.6v1.6h-1.6zm10 0h1.6v1.6h-1.6zm-158 2h1.6v1.6h-1.6zm6 0h1.6v1.6h-1.6zm2 0h1.6v1.6h-1.6zm88 0h1.6v1.6h-1.6zm22 0h1.6v1.6h-1.6zm32 0h1.6v1.6h-1.6zm-136 2h1.6v1.6h-1.6zm34 0h1.6v1.6h-1.6zm12 0h1.6v1.6h-1.6zm60 0h1.6v1.6h-1.6zm34 0h1.6v1.6h-1.6zm-48 4h1.6v1.6h-1.6zm-106 2h1.6v1.6h-1.6zm8 2h1.6v1.6h-1.6zm48 0h1.6v1.6h-1.6zm-54 2h1.6v1.6h-1.6zm14 2h1.6v1.6h-1.6zm4 0h1.6v1.6h-1.6zm22 0h1.6v1.6h-1.6zm78 0h1.6v1.6h-1.6zm-92 2h1.6v1.6h-1.6zm82 0h1.6v1.6h-1.6zm12 0h1.6v1.6h-1.6zm2 0h1.6v1.6h-1.6zm2 0h1.6v1.6h-1.6zm2 0h1.6v1.6h-1.6zm8 0h1.6v1.6h-1.6zm8 2h1.6v1.6h-1.6zm-124 2h1.6v1.6h-1.6zm38 0h1.6v1.6h-1.6zm24 0h1.6v1.6h-1.6zm44 0h1.6v1.6h-1.6zm6 0h1.6v1.6h-1.6zm6 0h1.6v1.6h-1.6zm-100 2h1.6v1.6h-1.6zm28 0h1.6v1.6h-1.6zm76 0h1.6v1.6h-1.6zm-96 2h1.6v1.6h-1.6zm74 0h1.6v1.6h-1.6zm22 0h1.6v1.6h-1.6zm-102 2h1.6v1.6h-1.6zm26 0h1.6v1.6h-1.6zm14 0h1.6v1.6h-1.6zm20 0h1.6v1.6h-1.6zm16 0h1.6v1.6h-1.6zm18 0h1.6v1.6h-1.6zm-114 2h1.6v1.6h-1.6zm2 0h1.6v1.6h-1.6zm82 0h1.6v1.6h-1.6zm30 0h1.6v1.6h-1.6zm-106 2h1.6v1.6h-1.6zm86 0h1.6v1.6h-1.6zm12 0h1.6v1.6h-1.6zm-80 2h1.6v1.6h-1.6zm2 0h1.6v1.6h-1.6zm80 0h1.6v1.6h-1.6zm-104 2h1.6v1.6h-1.6zm84 0h1.6v1.6h-1.6zm18 0h1.6v1.6h-1.6zm-90 2h1.6v1.6h-1.6zm26 0h1.6v1.6h-1.6zm8 0h1.6v1.6h-1.6zm46 0h1.6v1.6h-1.6zm-80 2h1.6v1.6h-1.6zm8 2h1.6v1.6h-1.6zm6 0h1.6v1.6h-1.6zm8 0h1.6v1.6h-1.6zm60 0h1.6v1.6h-1.6zm-56 2h1.6v1.6h-1.6zm2 0h1.6v1.6h-1.6zm2 0h1.6v1.6h-1.6zm26 0h1.6v1.6h-1.6zm20 0h1.6v1.6h-1.6zm2 0h1.6v1.6h-1.6zm4 0h1.6v1.6h-1.6zm-6 2h1.6v1.6h-1.6zm-16 2h1.6v1.6h-1.6zm-24 2h1.6v1.6h-1.6zm10 0h1.6v1.6h-1.6z"/>
<path fill="#0a14f4" d="M725 633h1.9v1.9h-1.9zm-2 2h1.9v1.9h-1.9zm54 1h1.9v1.9h-1.9zm200 0h1.9v1.9h-1.9zm-80 28h1.9v1.9h-1.9zm-319 2h1.9v1.9h-1.9zm285 2h1.9v1.9h-1.9zm-222 11h1.9v1.9h-1.9zm166 1h1.9v1.9h-1.9zm10 7h1.9v1.9h-1.9zm24 11h1.9v1.9h-1.9zm90 2h1.9v1.9h-1.9zm-232 1h1.9v1.9h-1.9zm-44 3h1.9v1.9h-1.9zm310 -1h1.9v1.9h-1.9zm-154 11h1.9v1.9h-1.9zm10 0h1.9v1.9h-1.9zm62 -1h1.9v1.9h-1.9zm44 1h1.9v1.9h-1.9zm-214 1h1.9v1.9h-1.9zm24 1h1.9v1.9h-1.9zm14 0h1.9v1.9h-1.9zm94 -1h1.9v1.9h-1.9zm60 1h1.9v1.9h-1.9zm4 0h1.9v1.9h-1.9zm-208 2h1.9v1.9h-1.9zm98 -1h1.9v1.9h-1.9zm3 1h1.9v1.9h-1.9zm49 -1h1.9v1.9h-1.9zm36 1h1.9v1.9h-1.9zm20 -1h1.9v1.9h-1.9zm12 0h1.9v1.9h-1.9zm-224 3h1.9v1.9h-1.9zm26 0h1.9v1.9h-1.9zm16 0h1.9v1.9h-1.9zm34 0h1.9v1.9h-1.9zm55 0h1.9v1.9h-1.9zm22 -1h1.9v1.9h-1.9zm5 0h2.8v2.8h-2.8zm18 1h1.9v1.9h-1.9zm8 0h1.9v1.9h-1.9zm4 0h1.9v1.9h-1.9zm2 0h1.9v1.9h-1.9zm10 0h1.9v1.9h-1.9zm8 0h1.9v1.9h-1.9zm-226 2h1.9v1.9h-1.9zm48 -1h1.9v1.9h-1.9zm12 1h2.8v2.8h-2.8zm48 -1h1.9v1.9h-1.9zm22 0h1.9v1.9h-1.9zm4 1h1.9v1.9h-1.9zm4 -1h1.9v1.9h-1.9zm4 1h1.9v1.9h-1.9zm4 -1h1.9v1.9h-1.9zm16 1h1.9v1.9h-1.9zm2 0h1.9v1.9h-1.9zm19 -1h1.9v1.9h-1.9zm11 0h2.8v2.8h-2.8zm18 0h1.9v1.9h-1.9zm4 0h1.9v1.9h-1.9zm4 1h1.9v1.9h-1.9zm2 -1h1.9v1.9h-1.9zm4 1h1.9v1.9h-1.9zm4 0h2.8v2.8h-2.8zm14 -1h1.9v1.9h-1.9zm12 0h1.9v1.9h-1.9zm4 0h1.9v1.9h-1.9zm16 1h1.9v1.9h-1.9zm-221 2h1.9v1.9h-1.9zm27 -1h1.9v1.9h-1.9zm14 1h1.9v1.9h-1.9zm20 -1h2.8v2.8h-2.8zm8 0h1.9v1.9h-1.9zm2 1h1.9v1.9h-1.9zm4 -1h1.9v1.9h-1.9zm2 0h1.9v1.9h-1.9zm32 1h1.9v1.9h-1.9zm2 0h1.9v1.9h-1.9zm4 0h1.9v1.9h-1.9zm18 -1h2.8v2.8h-2.8zm10 0h1.9v1.9h-1.9zm4 0h1.9v1.9h-1.9zm8 0h1.9v1.9h-1.9zm2 0h1.9v1.9h-1.9zm2 1h1.9v1.9h-1.9zm2 0h1.9v1.9h-1.9zm2 -1h2.8v2.8h-2.8zm4 0h1.9v1.9h-1.9zm5 1h1.9v1.9h-1.9zm5 -1h1.9v1.9h-1.9zm2 1h1.9v1.9h-1.9zm4 -1h1.9v1.9h-1.9zm2 0h1.9v1.9h-1.9zm-244 2h1.9v1.9h-1.9zm41 1h1.9v1.9h-1.9zm9 -1h1.9v1.9h-1.9zm6 0h1.9v1.9h-1.9zm2 1h1.9v1.9h-1.9zm7 0h1.9v1.9h-1.9zm21 -1h1.9v1.9h-1.9zm10 0h1.9v1.9h-1.9zm22 0h1.9v1.9h-1.9zm4 0h1.9v1.9h-1.9zm4 0h1.9v1.9h-1.9zm2 0h2.8v2.8h-2.8zm12 1h1.9v1.9h-1.9zm1 -1h1.9v1.9h-1.9zm5 0h1.9v1.9h-1.9zm4 0h1.9v1.9h-1.9zm10 1h1.9v1.9h-1.9zm8 -1h1.9v1.9h-1.9zm16 1h2.8v2.8h-2.8zm8 0h1.9v1.9h-1.9zm4 0h1.9v1.9h-1.9zm8 -1h1.9v1.9h-1.9zm8 1h1.9v1.9h-1.9zm2 -1h1.9v1.9h-1.9zm4 0h1.9v1.9h-1.9zm2 0h1.9v1.9h-1.9zm2 0h1.9v1.9h-1.9zm2 0h1.9v1.9h-1.9zm4 1h1.9v1.9h-1.9zm1 -1h1.9v1.9h-1.9zm3 1h1.9v1.9h-1.9zm6 0h1.9v1.9h-1.9zm6 -1h1.9v1.9h-1.9zm-270 2h1.9v1.9h-1.9zm24 0h1.9v1.9h-1.9zm2 1h1.9v1.9h-1.9zm10 -1h1.9v1.9h-1.9zm28 0h1.9v1.9h-1.9zm2 0h1.9v1.9h-1.9zm6 1h1.9v1.9h-1.9zm11 0h1.9v1.9h-1.9zm7 -1h1.9v1.9h-1.9zm4 0h1.9v1.9h-1.9zm10 1h1.9v1.9h-1.9zm2 -1h1.9v1.9h-1.9zm22 1h1.9v1.9h-1.9zm18 -1h1.9v1.9h-1.9zm2 1h1.9v1.9h-1.9zm2 0h1.9v1.9h-1.9zm4 -1h1.9v1.9h-1.9zm6 0h1.9v1.9h-1.9zm12 0h1.9v1.9h-1.9zm2 0h1.9v1.9h-1.9zm36 0h1.9v1.9h-1.9zm4 1h1.9v1.9h-1.9zm2 -1h1.9v1.9h-1.9zm10 0h1.9v1.9h-1.9zm2 0h1.9v1.9h-1.9zm18 0h1.9v1.9h-1.9zm7 0h1.9v1.9h-1.9zm11 0h1.9v1.9h-1.9zm2 0h1.9v1.9h-1.9zm3 1h1.9v1.9h-1.9zm5 -1h1.9v1.9h-1.9zm-234 2h1.9v1.9h-1.9zm36 0h1.9v1.9h-1.9zm4 0h1.9v1.9h-1.9zm7 0h1.9v1.9h-1.9zm15 1h1.9v1.9h-1.9zm2 -1h1.9v1.9h-1.9zm2 0h1.9v1.9h-1.9zm6 0h1.9v1.9h-1.9zm4 0h1.9v1.9h-1.9zm4 0h1.9v1.9h-1.9zm2 0h1.9v1.9h-1.9zm20 0h2.8v2.8h-2.8zm2 1h1.9v1.9h-1.9zm6 0h1.9v1.9h-1.9zm12 0h1.9v1.9h-1.9zm7 -1h1.9v1.9h-1.9zm3 1h1.9v1.9h-1.9zm2 -1h2.8v2.8h-2.8zm8 0h1.9v1.9h-1.9zm12 1h2.8v2.8h-2.8zm8 -1h1.9v1.9h-1.9zm4 0h1.9v1.9h-1.9zm6 0h1.9v1.9h-1.9zm4 0h1.9v1.9h-1.9zm4 0h1.9v1.9h-1.9zm8 0h1.9v1.9h-1.9zm2 0h1.9v1.9h-1.9zm2 0h1.9v1.9h-1.9zm2 0h1.9v1.9h-1.9zm2 1h1.9v1.9h-1.9zm2 0h1.9v1.9h-1.9zm4 -1h1.9v1.9h-1.9zm18 1h1.9v1.9h-1.9zm2 0h1.9v1.9h-1.9zm4 0h1.9v1.9h-1.9zm2 -1h1.9v1.9h-1.9zm2 1h1.9v1.9h-1.9zm2 0h1.9v1.9h-1.9zm5 -1h1.9v1.9h-1.9zm5 0h1.9v1.9h-1.9zm2 0h2.8v2.8h-2.8zm2 1h1.9v1.9h-1.9zm-328 1h1.9v1.9h-1.9zm98 0h1.9v1.9h-1.9zm2 0h1.9v1.9h-1.9zm12 1h1.9v1.9h-1.9zm6 -1h1.9v1.9h-1.9zm12 0h1.9v1.9h-1.9zm14 0h1.9v1.9h-1.9zm14 0h1.9v1.9h-1.9zm2 0h2.8v2.8h-2.8zm10 0h1.9v1.9h-1.9zm16 1h1.9v1.9h-1.9zm6 -1h1.9v1.9h-1.9zm6 1h1.9v1.9h-1.9zm2 -1h1.9v1.9h-1.9zm2 0h1.9v1.9h-1.9zm8 1h1.9v1.9h-1.9zm14 -1h1.9v1.9h-1.9zm1 0h1.9v1.9h-1.9zm2 0h1.9v1.9h-1.9zm8 1h1.9v1.9h-1.9zm3 0h1.9v1.9h-1.9zm5 0h1.9v1.9h-1.9zm4 0h1.9v1.9h-1.9zm7 0h1.9v1.9h-1.9zm4 0h1.9v1.9h-1.9zm4 0h1.9v1.9h-1.9zm4 0h1.9v1.9h-1.9zm2 -1h1.9v1.9h-1.9zm7 0h1.9v1.9h-1.9zm3 1h1.9v1.9h-1.9zm2 0h1.9v1.9h-1.9zm2 -1h1.9v1.9h-1.9zm6 0h1.9v1.9h-1.9zm4 0h1.9v1.9h-1.9zm4 0h1.9v1.9h-1.9zm18 0h2.8v2.8h-2.8zm2 0h1.9v1.9h-1.9zm16 1h1.9v1.9h-1.9zm-318 1h1.9v1.9h-1.9zm54 0h1.9v1.9h-1.9zm12 0h1.9v1.9h-1.9zm6 0h1.9v1.9h-1.9zm6 1h1.9v1.9h-1.9zm2 0h2.8v2.8h-2.8zm6 0h1.9v1.9h-1.9zm6 0h1.9v1.9h-1.9zm10 -1h1.9v1.9h-1.9zm4 1h1.9v1.9h-1.9zm3 0h1.9v1.9h-1.9zm7 -1h1.9v1.9h-1.9zm8 1h1.9v1.9h-1.9zm6 -1h1.9v1.9h-1.9zm4 0h1.9v1.9h-1.9zm2 0h1.9v1.9h-1.9zm4 1h1.9v1.9h-1.9zm2 -1h1.9v1.9h-1.9zm2 1h1.9v1.9h-1.9zm4 -1h1.9v1.9h-1.9zm12 1h1.9v1.9h-1.9zm2 -1h1.9v1.9h-1.9zm4 1h1.9v1.9h-1.9zm2 -1h1.9v1.9h-1.9zm17 0h1.9v1.9h-1.9zm3 1h1.9v1.9h-1.9zm4 -1h1.9v1.9h-1.9zm18 1h2.8v2.8h-2.8zm2 0h1.9v1.9h-1.9zm4 0h1.9v1.9h-1.9zm4 0h1.9v1.9h-1.9zm6 0h1.9v1.9h-1.9zm20 0h1.9v1.9h-1.9zm42 -1h1.9v1.9h-1.9zm2 1h1.9v1.9h-1.9zm2 -1h1.9v1.9h-1.9zm6 0h2.8v2.8h-2.8zm3 0h1.9v1.9h-1.9zm-325 3h2.8v2.8h-2.8zm72 -1h1.9v1.9h-1.9zm20 0h1.9v1.9h-1.9zm20 0h1.9v1.9h-1.9zm18 1h1.9v1.9h-1.9zm2 -1h1.9v1.9h-1.9zm6 1h1.9v1.9h-1.9zm2 0h1.9v1.9h-1.9zm2 0h1.9v1.9h-1.9zm2 -1h1.9v1.9h-1.9zm2 1h1.9v1.9h-1.9zm2 -1h1.9v1.9h-1.9zm22 0h1.9v1.9h-1.9zm2 0h1.9v1.9h-1.9zm2 1h2.8v2.8h-2.8zm2 -1h1.9v1.9h-1.9zm6 1h1.9v1.9h-1.9zm4 0h1.9v1.9h-1.9zm8 0h1.9v1.9h-1.9zm6 -1h2.8v2.8h-2.8zm5 1h1.9v1.9h-1.9zm5 -1h1.9v1.9h-1.9zm2 1h1.9v1.9h-1.9zm1 -1h1.9v1.9h-1.9zm5 0h1.9v1.9h-1.9zm4 1h1.9v1.9h-1.9zm2 0h1.9v1.9h-1.9zm2 -1h1.9v1.9h-1.9zm2 1h1.9v1.9h-1.9zm10 -1h2.8v2.8h-2.8zm4 0h1.9v1.9h-1.9zm6 0h1.9v1.9h-1.9zm2 0h1.9v1.9h-1.9zm6 0h1.9v1.9h-1.9zm2 0h1.9v1.9h-1.9zm2 1h1.9v1.9h-1.9zm6 -1h1.9v1.9h-1.9zm4 0h1.9v1.9h-1.9zm2 0h1.9v1.9h-1.9zm1 1h1.9v1.9h-1.9zm4 0h1.9v1.9h-1.9zm3 0h1.9v1.9h-1.9zm4 -1h1.9v1.9h-1.9zm12 0h1.9v1.9h-1.9zm4 1h1.9v1.9h-1.9zm18 0h1.9v1.9h-1.9zm2 -1h1.9v1.9h-1.9zm4 0h1.9v1.9h-1.9zm2 0h1.9v1.9h-1.9zm2 1h1.9v1.9h-1.9zm6 0h1.9v1.9h-1.9zm2 -1h1.9v1.9h-1.9zm2 0h1.9v1.9h-1.9zm-266 2h2.8v2.8h-2.8zm24 0h1.9v1.9h-1.9zm2 0h1.9v1.9h-1.9zm2 0h1.9v1.9h-1.9zm2 0h2.8v2.8h-2.8zm2 1h1.9v1.9h-1.9zm2 0h2.8v2.8h-2.8zm15 0h1.9v1.9h-1.9zm7 -1h1.9v1.9h-1.9zm4 0h1.9v1.9h-1.9zm1 0h1.9v1.9h-1.9zm3 0h1.9v1.9h-1.9zm2 0h1.9v1.9h-1.9zm10 1h1.9v1.9h-1.9zm2 0h1.9v1.9h-1.9zm11 0h1.9v1.9h-1.9zm6 -1h1.9v1.9h-1.9zm12 0h1.9v1.9h-1.9zm5 0h1.9v1.9h-1.9zm4 1h1.9v1.9h-1.9zm4 -1h1.9v1.9h-1.9zm28 1h1.9v1.9h-1.9zm1 0h1.9v1.9h-1.9zm5 -1h1.9v1.9h-1.9zm4 1h1.9v1.9h-1.9zm2 0h1.9v1.9h-1.9zm2 0h1.9v1.9h-1.9zm2 0h1.9v1.9h-1.9zm2 0h1.9v1.9h-1.9zm2 -1h1.9v1.9h-1.9zm2 0h2.8v2.8h-2.8zm16 1h2.8v2.8h-2.8zm2 -1h1.9v1.9h-1.9zm10 1h1.9v1.9h-1.9zm2 0h1.9v1.9h-1.9zm4 -1h1.9v1.9h-1.9zm2 0h1.9v1.9h-1.9zm6 0h2.8v2.8h-2.8zm17 0h1.9v1.9h-1.9zm23 1h1.9v1.9h-1.9zm8 -1h1.9v1.9h-1.9zm4 0h1.9v1.9h-1.9zm2 1h1.9v1.9h-1.9zm-266 1h1.9v1.9h-1.9zm18 0h1.9v1.9h-1.9zm4 0h1.9v1.9h-1.9zm2 0h1.9v1.9h-1.9zm16 0h1.9v1.9h-1.9zm12 0h1.9v1.9h-1.9zm1 1h2.8v2.8h-2.8zm9 -1h1.9v1.9h-1.9zm2 0h1.9v1.9h-1.9zm6 0h1.9v1.9h-1.9zm3 0h1.9v1.9h-1.9zm3 0h1.9v1.9h-1.9zm14 1h1.9v1.9h-1.9zm1 -1h1.9v1.9h-1.9zm13 0h1.9v1.9h-1.9zm12 1h1.9v1.9h-1.9zm2 -1h1.9v1.9h-1.9zm22 0h1.9v1.9h-1.9zm2 1h1.9v1.9h-1.9zm4 0h1.9v1.9h-1.9zm6 0h1.9v1.9h-1.9zm4 0h1.9v1.9h-1.9zm4 -1h1.9v1.9h-1.9zm2 0h1.9v1.9h-1.9zm8 1h1.9v1.9h-1.9zm6 -1h1.9v1.9h-1.9zm4 0h1.9v1.9h-1.9zm2 0h1.9v1.9h-1.9zm4 0h1.9v1.9h-1.9zm8 0h1.9v1.9h-1.9zm8 0h1.9v1.9h-1.9zm2 0h1.9v1.9h-1.9zm2 1h1.9v1.9h-1.9zm4 0h1.9v1.9h-1.9zm2 0h1.9v1.9h-1.9zm2 0h1.9v1.9h-1.9zm2 0h1.9v1.9h-1.9zm4 0h1.9v1.9h-1.9zm4 -1h2.8v2.8h-2.8zm4 0h1.9v1.9h-1.9zm4 0h1.9v1.9h-1.9zm10 0h1.9v1.9h-1.9zm4 0h1.9v1.9h-1.9zm2 1h1.9v1.9h-1.9zm2 -1h1.9v1.9h-1.9zm4 0h2.8v2.8h-2.8zm2 0h1.9v1.9h-1.9zm-258 2h1.9v1.9h-1.9zm6 0h1.9v1.9h-1.9zm8 0h1.9v1.9h-1.9zm8 0h1.9v1.9h-1.9zm8 1h1.9v1.9h-1.9zm8 0h1.9v1.9h-1.9zm4 -1h1.9v1.9h-1.9zm2 1h1.9v1.9h-1.9zm26 0h1.9v1.9h-1.9zm1 -1h1.9v1.9h-1.9zm13 1h1.9v1.9h-1.9zm8 0h1.9v1.9h-1.9zm6 -1h1.9v1.9h-1.9zm4 1h1.9v1.9h-1.9zm4 -1h2.8v2.8h-2.8zm4 1h2.8v2.8h-2.8zm4 -1h1.9v1.9h-1.9zm6 0h1.9v1.9h-1.9zm6 1h1.9v1.9h-1.9zm13 0h1.9v1.9h-1.9zm5 -1h1.9v1.9h-1.9zm2 1h1.9v1.9h-1.9zm5 0h1.9v1.9h-1.9zm5 0h1.9v1.9h-1.9zm6 -1h1.9v1.9h-1.9zm3 0h1.9v1.9h-1.9zm3 0h1.9v1.9h-1.9zm2 1h1.9v1.9h-1.9zm2 -1h1.9v1.9h-1.9zm2 0h1.9v1.9h-1.9zm6 1h1.9v1.9h-1.9zm4 0h1.9v1.9h-1.9zm2 -1h1.9v1.9h-1.9zm8 0h1.9v1.9h-1.9zm4 0h1.9v1.9h-1.9zm4 0h1.9v1.9h-1.9zm4 0h1.9v1.9h-1.9zm2 1h1.9v1.9h-1.9zm4 -1h1.9v1.9h-1.9zm10 1h1.9v1.9h-1.9zm24 -1h1.9v1.9h-1.9zm2 0h1.9v1.9h-1.9zm2 1h1.9v1.9h-1.9zm2 -1h1.9v1.9h-1.9zm1 1h1.9v1.9h-1.9zm7 -1h1.9v1.9h-1.9zm-252 3h1.9v1.9h-1.9zm4 -1h1.9v1.9h-1.9zm14 0h1.9v1.9h-1.9zm2 0h1.9v1.9h-1.9zm4 1h1.9v1.9h-1.9zm8 -1h1.9v1.9h-1.9zm3 0h1.9v1.9h-1.9zm7 1h1.9v1.9h-1.9zm2 -1h1.9v1.9h-1.9zm2 0h1.9v1.9h-1.9zm4 1h1.9v1.9h-1.9zm4 0h1.9v1.9h-1.9zm1 -1h2.8v2.8h-2.8zm5 1h1.9v1.9h-1.9zm4 -1h1.9v1.9h-1.9zm4 0h1.9v1.9h-1.9zm2 0h1.9v1.9h-1.9zm2 0h1.9v1.9h-1.9zm10 1h1.9v1.9h-1.9zm8 0h1.9v1.9h-1.9zm2 0h2.8v2.8h-2.8zm4 0h1.9v1.9h-1.9zm3 -1h1.9v1.9h-1.9zm5 0h2.8v2.8h-2.8zm2 1h1.9v1.9h-1.9zm2 0h1.9v1.9h-1.9zm10 0h1.9v1.9h-1.9zm10 0h1.9v1.9h-1.9zm2 -1h1.9v1.9h-1.9zm6 1h2.8v2.8h-2.8zm2 0h1.9v1.9h-1.9zm10 -1h1.9v1.9h-1.9zm2 0h1.9v1.9h-1.9zm4 1h1.9v1.9h-1.9zm6 -1h1.9v1.9h-1.9zm4 0h1.9v1.9h-1.9zm8 0h1.9v1.9h-1.9zm8 1h1.9v1.9h-1.9zm4 -1h1.9v1.9h-1.9zm1 0h1.9v1.9h-1.9zm7 0h1.9v1.9h-1.9zm6 0h1.9v1.9h-1.9zm4 1h1.9v1.9h-1.9zm2 -1h1.9v1.9h-1.9zm2 0h1.9v1.9h-1.9zm2 1h1.9v1.9h-1.9zm3 -1h1.9v1.9h-1.9zm2 1h1.9v1.9h-1.9zm3 0h1.9v1.9h-1.9zm4 -1h1.9v1.9h-1.9zm16 0h1.9v1.9h-1.9zm4 0h1.9v1.9h-1.9zm4 1h1.9v1.9h-1.9zm8 -1h2.8v2.8h-2.8zm8 0h1.9v1.9h-1.9zm19 1h1.9v1.9h-1.9zm-275 1h1.9v1.9h-1.9zm2 1h1.9v1.9h-1.9zm8 -1h1.9v1.9h-1.9zm6 0h1.9v1.9h-1.9zm2 1h1.9v1.9h-1.9zm2 -1h1.9v1.9h-1.9zm2 0h1.9v1.9h-1.9zm1 1h1.9v1.9h-1.9zm5 0h1.9v1.9h-1.9zm8 -1h1.9v1.9h-1.9zm6 0h1.9v1.9h-1.9zm3 0h1.9v1.9h-1.9zm3 1h1.9v1.9h-1.9zm4 0h1.9v1.9h-1.9zm2 -1h1.9v1.9h-1.9zm10 1h1.9v1.9h-1.9zm18 0h1.9v1.9h-1.9zm16 0h1.9v1.9h-1.9zm14 0h1.9v1.9h-1.9zm6 0h1.9v1.9h-1.9zm6 -1h1.9v1.9h-1.9zm6 0h1.9v1.9h-1.9zm2 1h1.9v1.9h-1.9zm6 0h1.9v1.9h-1.9zm6 0h1.9v1.9h-1.9zm10 -1h1.9v1.9h-1.9zm6 1h1.9v1.9h-1.9zm4 0h1.9v1.9h-1.9zm3 0h1.9v1.9h-1.9zm10 -1h1.9v1.9h-1.9zm5 0h1.9v1.9h-1.9zm12 0h1.9v1.9h-1.9zm4 0h1.9v1.9h-1.9zm2 0h1.9v1.9h-1.9zm2 1h1.9v1.9h-1.9zm9 -1h1.9v1.9h-1.9zm9 1h1.9v1.9h-1.9zm6 0h2.8v2.8h-2.8zm2 -1h1.9v1.9h-1.9zm2 0h1.9v1.9h-1.9zm3 1h1.9v1.9h-1.9zm2 -1h1.9v1.9h-1.9zm3 0h1.9v1.9h-1.9zm4 0h1.9v1.9h-1.9zm24 0h1.9v1.9h-1.9zm-324 2h1.9v1.9h-1.9zm32 0h1.9v1.9h-1.9zm20 0h1.9v1.9h-1.9zm2 0h1.9v1.9h-1.9zm10 0h1.9v1.9h-1.9zm2 1h1.9v1.9h-1.9zm14 -1h1.9v1.9h-1.9zm2 1h1.9v1.9h-1.9zm14 -1h1.9v1.9h-1.9zm2 1h1.9v1.9h-1.9zm15 -1h1.9v1.9h-1.9zm5 1h1.9v1.9h-1.9zm8 0h1.9v1.9h-1.9zm2 -1h2.8v2.8h-2.8zm2 1h1.9v1.9h-1.9zm4 0h1.9v1.9h-1.9zm6 0h1.9v1.9h-1.9zm8 0h1.9v1.9h-1.9zm3 -1h1.9v1.9h-1.9zm5 0h1.9v1.9h-1.9zm4 1h1.9v1.9h-1.9zm4 0h1.9v1.9h-1.9zm6 -1h1.9v1.9h-1.9zm6 1h1.9v1.9h-1.9zm6 -1h1.9v1.9h-1.9zm4 1h1.9v1.9h-1.9zm10 -1h1.9v1.9h-1.9zm4 0h2.8v2.8h-2.8zm2 0h1.9v1.9h-1.9zm4 1h1.9v1.9h-1.9zm1 -1h1.9v1.9h-1.9zm3 0h2.8v2.8h-2.8zm2 1h1.9v1.9h-1.9zm2 0h1.9v1.9h-1.9zm2 -1h1.9v1.9h-1.9zm4 1h2.8v2.8h-2.8zm6 0h1.9v1.9h-1.9zm4 -1h1.9v1.9h-1.9zm2 1h1.9v1.9h-1.9zm2 0h1.9v1.9h-1.9zm6 -1h1.9v1.9h-1.9zm6 1h1.9v1.9h-1.9zm3 -1h1.9v1.9h-1.9zm5 0h1.9v1.9h-1.9zm1 1h1.9v1.9h-1.9zm3 -1h1.9v1.9h-1.9zm4 1h1.9v1.9h-1.9zm1 -1h1.9v1.9h-1.9zm7 1h1.9v1.9h-1.9zm2 -1h1.9v1.9h-1.9zm6 1h1.9v1.9h-1.9zm10 -1h1.9v1.9h-1.9zm4 1h1.9v1.9h-1.9zm6 0h1.9v1.9h-1.9zm4 0h1.9v1.9h-1.9zm2 -1h1.9v1.9h-1.9zm-240 2h1.9v1.9h-1.9zm20 0h1.9v1.9h-1.9zm8 1h1.9v1.9h-1.9zm2 0h1.9v1.9h-1.9zm8 -1h1.9v1.9h-1.9zm10 1h1.9v1.9h-1.9zm2 -1h1.9v1.9h-1.9zm5 1h1.9v1.9h-1.9zm3 0h1.9v1.9h-1.9zm14 -1h1.9v1.9h-1.9zm4 0h1.9v1.9h-1.9zm6 1h1.9v1.9h-1.9zm3 0h2.8v2.8h-2.8zm7 0h1.9v1.9h-1.9zm4 -1h2.8v2.8h-2.8zm2 0h1.9v1.9h-1.9zm6 1h1.9v1.9h-1.9zm4 0h1.9v1.9h-1.9zm14 -1h1.9v1.9h-1.9zm2 1h1.9v1.9h-1.9zm12 -1h1.9v1.9h-1.9zm6 1h1.9v1.9h-1.9zm16 0h1.9v1.9h-1.9zm16 -1h1.9v1.9h-1.9zm2 0h2.8v2.8h-2.8zm2 0h1.9v1.9h-1.9zm2 0h1.9v1.9h-1.9zm10 0h1.9v1.9h-1.9zm9 0h1.9v1.9h-1.9zm3 0h1.9v1.9h-1.9zm2 0h1.9v1.9h-1.9zm2 1h1.9v1.9h-1.9zm10 -1h1.9v1.9h-1.9zm2 1h1.9v1.9h-1.9zm12 0h1.9v1.9h-1.9zm6 0h1.9v1.9h-1.9zm10 0h1.9v1.9h-1.9zm18 -1h1.9v1.9h-1.9zm-358 2h2.8v2.8h-2.8zm112 0h1.9v1.9h-1.9zm30 0h1.9v1.9h-1.9zm2 0h1.9v1.9h-1.9zm2 0h1.9v1.9h-1.9zm2 0h1.9v1.9h-1.9zm6 0h1.9v1.9h-1.9zm2 0h1.9v1.9h-1.9zm4 0h1.9v1.9h-1.9zm10 0h1.9v1.9h-1.9zm8 0h1.9v1.9h-1.9zm32 0h1.9v1.9h-1.9zm2 1h1.9v1.9h-1.9zm18 -1h1.9v1.9h-1.9zm6 1h1.9v1.9h-1.9zm2 0h1.9v1.9h-1.9zm40 0h1.9v1.9h-1.9zm12 -1h1.9v1.9h-1.9zm4 0h1.9v1.9h-1.9zm8 0h1.9v1.9h-1.9zm4 1h2.8v2.8h-2.8zm16 -1h1.9v1.9h-1.9zm4 1h1.9v1.9h-1.9zm-286 1h1.9v1.9h-1.9zm18 1h1.9v1.9h-1.9zm36 -1h1.9v1.9h-1.9zm2 0h1.9v1.9h-1.9zm38 1h1.9v1.9h-1.9zm2 -1h1.9v1.9h-1.9zm4 0h1.9v1.9h-1.9zm4 1h1.9v1.9h-1.9zm6 0h1.9v1.9h-1.9zm8 -1h1.9v1.9h-1.9zm18 1h1.9v1.9h-1.9zm4 -1h1.9v1.9h-1.9zm18 0h1.9v1.9h-1.9zm6 0h1.9v1.9h-1.9zm21 1h1.9v1.9h-1.9zm21 0h1.9v1.9h-1.9zm8 -1h1.9v1.9h-1.9zm8 1h1.9v1.9h-1.9zm22 0h1.9v1.9h-1.9zm2 -1h1.9v1.9h-1.9zm14 0h1.9v1.9h-1.9zm2 1h1.9v1.9h-1.9zm4 0h1.9v1.9h-1.9zm1 -1h1.9v1.9h-1.9zm17 1h1.9v1.9h-1.9zm-228 1h1.9v1.9h-1.9zm6 0h1.9v1.9h-1.9zm4 0h1.9v1.9h-1.9zm20 1h1.9v1.9h-1.9zm30 -1h1.9v1.9h-1.9zm24 1h1.9v1.9h-1.9zm6 0h1.9v1.9h-1.9zm7 -1h1.9v1.9h-1.9zm3 0h1.9v1.9h-1.9zm12 0h1.9v1.9h-1.9zm2 0h1.9v1.9h-1.9zm6 1h1.9v1.9h-1.9zm6 0h1.9v1.9h-1.9zm56 0h1.9v1.9h-1.9zm6 -1h1.9v1.9h-1.9zm12 1h1.9v1.9h-1.9zm4 -1h1.9v1.9h-1.9zm12 0h1.9v1.9h-1.9zm-232 2h1.9v1.9h-1.9zm30 0h1.9v1.9h-1.9zm22 1h1.9v1.9h-1.9zm2 0h1.9v1.9h-1.9zm4 -1h1.9v1.9h-1.9zm12 1h1.9v1.9h-1.9zm4 -1h1.9v1.9h-1.9zm18 1h1.9v1.9h-1.9zm16 -1h1.9v1.9h-1.9zm12 0h1.9v1.9h-1.9zm4 0h1.9v1.9h-1.9zm4 0h1.9v1.9h-1.9zm23 1h1.9v1.9h-1.9zm29 -1h1.9v1.9h-1.9zm10 1h1.9v1.9h-1.9zm11 -1h2.8v2.8h-2.8zm-197 2h1.9v1.9h-1.9zm48 1h1.9v1.9h-1.9zm24 -1h1.9v1.9h-1.9zm12 0h1.9v1.9h-1.9zm32 0h1.9v1.9h-1.9zm55 1h1.9v1.9h-1.9zm12 0h1.9v1.9h-1.9zm39 0h1.9v1.9h-1.9zm14 -1h1.9v1.9h-1.9zm-222 2h1.9v1.9h-1.9zm50 0h1.9v1.9h-1.9zm12 0h1.9v1.9h-1.9zm46 0h1.9v1.9h-1.9zm26 0h1.9v1.9h-1.9zm26 1h1.9v1.9h-1.9zm30 0h1.9v1.9h-1.9zm24 0h1.9v1.9h-1.9zm10 -1h1.9v1.9h-1.9zm37 0h1.9v1.9h-1.9zm-249 2h1.9v1.9h-1.9zm2 1h1.9v1.9h-1.9zm20 0h1.9v1.9h-1.9zm2 -1h1.9v1.9h-1.9zm126 1h1.9v1.9h-1.9zm2 -1h1.9v1.9h-1.9zm12 0h1.9v1.9h-1.9zm10 1h1.9v1.9h-1.9zm-118 1h1.9v1.9h-1.9zm158 0h1.9v1.9h-1.9zm-222 3h1.9v1.9h-1.9zm82 -1h1.9v1.9h-1.9zm32 1h1.9v1.9h-1.9zm162 -1h1.9v1.9h-1.9zm-244 3h1.9v1.9h-1.9zm16 -1h1.9v1.9h-1.9zm8 0h1.9v1.9h-1.9zm70 0h1.9v1.9h-1.9zm-167 2h1.9v1.9h-1.9zm15 0h1.9v1.9h-1.9zm36 0h1.9v1.9h-1.9zm24 0h1.9v1.9h-1.9zm12 1h1.9v1.9h-1.9zm56 0h1.9v1.9h-1.9zm22 -1h1.9v1.9h-1.9zm-152 3h1.9v1.9h-1.9zm38 0h1.9v1.9h-1.9zm62 -1h1.9v1.9h-1.9zm168 1h1.9v1.9h-1.9zm-202 1h1.9v1.9h-1.9zm72 0h1.9v1.9h-1.9zm3 0h1.9v1.9h-1.9zm63 0h1.9v1.9h-1.9zm10 0h1.9v1.9h-1.9zm-153 3h1.9v1.9h-1.9zm49 -1h1.9v1.9h-1.9zm57 0h1.9v1.9h-1.9zm37 1h1.9v1.9h-1.9zm79 -1h1.9v1.9h-1.9zm-181 2h1.9v1.9h-1.9zm24 1h1.9v1.9h-1.9zm32 -1h1.9v1.9h-1.9zm22 1h1.9v1.9h-1.9zm-62 2h1.9v1.9h-1.9zm54 0h1.9v1.9h-1.9zm-214 1h1.9v1.9h-1.9zm146 1h1.9v1.9h-1.9zm31 -1h1.9v1.9h-1.9zm35 3h1.9v1.9h-1.9zm47 0h1.9v1.9h-1.9zm-155 1h1.9v1.9h-1.9zm2 1h1.9v1.9h-1.9zm33 0h1.9v1.9h-1.9zm48 -1h2.8v2.8h-2.8zm119 0h1.9v1.9h-1.9zm2 0h1.9v1.9h-1.9zm-172 3h1.9v1.9h-1.9zm64 0h1.9v1.9h-1.9zm12 -1h1.9v1.9h-1.9zm68 1h1.9v1.9h-1.9zm14 -1h1.9v1.9h-1.9zm-236 2h2.8v2.8h-2.8zm18 0h1.9v1.9h-1.9zm46 1h1.9v1.9h-1.9zm138 -1h1.9v1.9h-1.9zm-166 3h2.8v2.8h-2.8zm-64 1h1.9v1.9h-1.9zm14 0h1.9v1.9h-1.9zm102 1h1.9v1.9h-1.9zm16 -1h1.9v1.9h-1.9zm50 1h1.9v1.9h-1.9zm38 -1h1.9v1.9h-1.9zm38 0h1.9v1.9h-1.9zm-178 3h1.9v1.9h-1.9zm8 0h1.9v1.9h-1.9zm26 -1h1.9v1.9h-1.9zm80 0h1.9v1.9h-1.9zm16 0h2.8v2.8h-2.8zm3 0h1.9v1.9h-1.9zm27 0h1.9v1.9h-1.9zm-168 3h1.9v1.9h-1.9zm70 0h1.9v1.9h-1.9zm34 -1h1.9v1.9h-1.9zm30 1h1.9v1.9h-1.9zm6 -1h1.9v1.9h-1.9zm-128 3h1.9v1.9h-1.9zm20 -1h1.9v1.9h-1.9zm22 1h1.9v1.9h-1.9zm8 -1h1.9v1.9h-1.9zm17 1h1.9v1.9h-1.9zm43 -1h1.9v1.9h-1.9zm120 0h1.9v1.9h-1.9zm-108 3h1.9v1.9h-1.9zm86 -1h1.9v1.9h-1.9zm14 0h1.9v1.9h-1.9zm-282 2h1.9v1.9h-1.9zm18 0h1.9v1.9h-1.9zm86 0h1.9v1.9h-1.9zm22 1h1.9v1.9h-1.9zm12 -1h1.9v1.9h-1.9zm86 1h1.9v1.9h-1.9zm-150 1h1.9v1.9h-1.9zm62 1h1.9v1.9h-1.9zm4 -1h1.9v1.9h-1.9zm68 0h1.9v1.9h-1.9zm-236 2h1.9v1.9h-1.9zm155 1h1.9v1.9h-1.9zm31 -1h1.9v1.9h-1.9zm-153 2h1.9v1.9h-1.9zm137 1h1.9v1.9h-1.9zm54 -1h1.9v1.9h-1.9zm-108 3h1.9v1.9h-1.9zm90 -1h1.9v1.9h-1.9zm-260 4h1.9v1.9h-1.9zm40 1h1.9v1.9h-1.9zm72 -1h1.9v1.9h-1.9zm12 0h1.9v1.9h-1.9zm120 0h1.9v1.9h-1.9zm-144 3h1.9v1.9h-1.9zm184 -1h1.9v1.9h-1.9zm31 1h1.9v1.9h-1.9zm-229 1h1.9v1.9h-1.9zm68 1h2.8v2.8h-2.8zm24 0h1.9v1.9h-1.9zm6 -1h1.9v1.9h-1.9zm62 0h1.9v1.9h-1.9zm14 1h1.9v1.9h-1.9zm-204 2h1.9v1.9h-1.9zm221 0h1.9v1.9h-1.9zm-259 2h1.9v1.9h-1.9zm78 0h1.9v1.9h-1.9zm76 -1h1.9v1.9h-1.9zm30 0h1.9v1.9h-1.9zm-98 2h1.9v1.9h-1.9zm62 1h1.9v1.9h-1.9zm-50 2h1.9v1.9h-1.9zm-18 1h2.8v2.8h-2.8zm54 1h1.9v1.9h-1.9zm-14 1h1.9v1.9h-1.9zm18 0h1.9v1.9h-1.9zm94 0h1.9v1.9h-1.9zm-70 3h1.9v1.9h-1.9zm32 -1h1.9v1.9h-1.9zm-128 2h1.9v1.9h-1.9zm48 1h1.9v1.9h-1.9zm-60 2h1.9v1.9h-1.9zm-16 1h1.9v1.9h-1.9zm16 0h1.9v1.9h-1.9zm272 0h1.9v1.9h-1.9zm-292 2h1.9v1.9h-1.9zm44 0h1.9v1.9h-1.9zm30 0h1.9v1.9h-1.9zm-49 2h1.9v1.9h-1.9zm17 0h1.9v1.9h-1.9zm42 1h1.9v1.9h-1.9zm-42 3h1.9v1.9h-1.9zm14 0h2.8v2.8h-2.8zm12 0h1.9v1.9h-1.9zm26 1h1.9v1.9h-1.9zm2 -1h1.9v1.9h-1.9zm26 0h1.9v1.9h-1.9zm-83 3h1.9v1.9h-1.9zm-31 2h1.9v1.9h-1.9zm18 -1h1.9v1.9h-1.9zm136 0h1.9v1.9h-1.9zm56 0h1.9v1.9h-1.9zm-268 3h1.9v1.9h-1.9zm26 -1h1.9v1.9h-1.9zm18 1h1.9v1.9h-1.9zm8 0h1.9v1.9h-1.9zm2 0h1.9v1.9h-1.9zm9 0h1.9v1.9h-1.9zm15 0h1.9v1.9h-1.9zm42 0h1.9v1.9h-1.9zm2 0h1.9v1.9h-1.9zm2 0h1.9v1.9h-1.9zm22 0h1.9v1.9h-1.9zm-60 2h1.9v1.9h-1.9zm6 -1h1.9v1.9h-1.9zm10 0h1.9v1.9h-1.9zm4 1h1.9v1.9h-1.9zm2 -1h1.9v1.9h-1.9zm22 0h1.9v1.9h-1.9zm10 1h1.9v1.9h-1.9zm-54 2h1.9v1.9h-1.9zm46 -1h1.9v1.9h-1.9zm4 0h2.8v2.8h-2.8zm4 0h1.9v1.9h-1.9zm-150 3h1.9v1.9h-1.9zm54 0h1.9v1.9h-1.9zm16 -1h1.9v1.9h-1.9zm8 0h1.9v1.9h-1.9zm2 1h1.9v1.9h-1.9zm6 0h1.9v1.9h-1.9zm6 -1h2.8v2.8h-2.8zm6 0h1.9v1.9h-1.9zm2 0h1.9v1.9h-1.9zm2 1h1.9v1.9h-1.9zm1 0h1.9v1.9h-1.9zm15 -1h1.9v1.9h-1.9zm1 0h1.9v1.9h-1.9zm2 0h1.9v1.9h-1.9zm21 0h1.9v1.9h-1.9zm58 1h1.9v1.9h-1.9zm-147 1h1.9v1.9h-1.9zm11 1h2.8v2.8h-2.8zm4 -1h1.9v1.9h-1.9zm22 1h1.9v1.9h-1.9zm6 0h1.9v1.9h-1.9zm3 0h1.9v1.9h-1.9zm4 -1h1.9v1.9h-1.9zm13 1h1.9v1.9h-1.9zm4 -1h1.9v1.9h-1.9zm6 0h1.9v1.9h-1.9zm10 0h1.9v1.9h-1.9zm4 0h1.9v1.9h-1.9zm10 0h1.9v1.9h-1.9zm-72 3h1.9v1.9h-1.9zm16 -1h1.9v1.9h-1.9zm10 0h1.9v1.9h-1.9zm16 0h1.9v1.9h-1.9zm6 0h1.9v1.9h-1.9zm4 1h1.9v1.9h-1.9zm6 0h2.8v2.8h-2.8zm12 -1h1.9v1.9h-1.9zm15 0h1.9v1.9h-1.9zm41 0h1.9v1.9h-1.9zm-166 2h1.9v1.9h-1.9zm6 1h1.9v1.9h-1.9zm8 0h1.9v1.9h-1.9zm4 0h1.9v1.9h-1.9zm4 -1h1.9v1.9h-1.9zm6 0h1.9v1.9h-1.9zm16 1h1.9v1.9h-1.9zm4 -1h1.9v1.9h-1.9zm4 1h1.9v1.9h-1.9zm4 0h1.9v1.9h-1.9zm22 -1h1.9v1.9h-1.9zm18 0h1.9v1.9h-1.9zm24 1h1.9v1.9h-1.9zm4 -1h1.9v1.9h-1.9zm82 0h2.8v2.8h-2.8zm-192 2h1.9v1.9h-1.9zm2 0h1.9v1.9h-1.9zm8 1h1.9v1.9h-1.9zm2 0h1.9v1.9h-1.9zm10 -1h2.8v2.8h-2.8zm2 1h1.9v1.9h-1.9zm6 -1h1.9v1.9h-1.9zm6 0h1.9v1.9h-1.9zm4 0h1.9v1.9h-1.9zm1 1h1.9v1.9h-1.9zm3 0h1.9v1.9h-1.9zm2 -1h1.9v1.9h-1.9zm14 0h1.9v1.9h-1.9zm8 0h1.9v1.9h-1.9zm4 0h1.9v1.9h-1.9zm2 0h1.9v1.9h-1.9zm10 1h1.9v1.9h-1.9zm13 0h1.9v1.9h-1.9zm43 0h1.9v1.9h-1.9zm-183 2h1.9v1.9h-1.9zm29 0h2.8v2.8h-2.8zm14 0h2.8v2.8h-2.8zm12 -1h1.9v1.9h-1.9zm14 1h1.9v1.9h-1.9zm14 -1h1.9v1.9h-1.9zm4 0h1.9v1.9h-1.9zm2 1h1.9v1.9h-1.9zm6 -1h1.9v1.9h-1.9zm2 0h1.9v1.9h-1.9zm2 1h1.9v1.9h-1.9zm2 -1h1.9v1.9h-1.9zm2 0h1.9v1.9h-1.9zm6 0h1.9v1.9h-1.9zm4 1h1.9v1.9h-1.9zm6 -1h1.9v1.9h-1.9zm8 0h1.9v1.9h-1.9zm2 0h1.9v1.9h-1.9zm6 0h1.9v1.9h-1.9zm4 1h1.9v1.9h-1.9zm8 0h1.9v1.9h-1.9zm2 -1h1.9v1.9h-1.9zm12 0h1.9v1.9h-1.9zm-122 3h1.9v1.9h-1.9zm6 0h1.9v1.9h-1.9zm18 -1h1.9v1.9h-1.9zm10 1h1.9v1.9h-1.9zm2 -1h1.9v1.9h-1.9zm4 0h1.9v1.9h-1.9zm2 1h1.9v1.9h-1.9zm12 0h1.9v1.9h-1.9zm1 -1h1.9v1.9h-1.9zm5 1h1.9v1.9h-1.9zm6 0h1.9v1.9h-1.9zm10 -1h1.9v1.9h-1.9zm4 0h1.9v1.9h-1.9zm2 0h1.9v1.9h-1.9zm6 1h1.9v1.9h-1.9zm6 0h1.9v1.9h-1.9zm2 -1h1.9v1.9h-1.9zm38 0h1.9v1.9h-1.9zm6 0h1.9v1.9h-1.9zm-137 3h2.8v2.8h-2.8zm5 0h1.9v1.9h-1.9zm6 0h1.9v1.9h-1.9zm5 0h1.9v1.9h-1.9zm5 -1h1.9v1.9h-1.9zm2 0h1.9v1.9h-1.9zm8 0h1.9v1.9h-1.9zm2 0h2.8v2.8h-2.8zm1 0h1.9v1.9h-1.9zm5 1h1.9v1.9h-1.9zm2 0h1.9v1.9h-1.9zm2 -1h1.9v1.9h-1.9zm2 0h1.9v1.9h-1.9zm4 0h1.9v1.9h-1.9zm2 0h1.9v1.9h-1.9zm6 1h1.9v1.9h-1.9zm2 -1h1.9v1.9h-1.9zm2 1h1.9v1.9h-1.9zm2 0h1.9v1.9h-1.9zm1 0h1.9v1.9h-1.9zm3 0h1.9v1.9h-1.9zm2 0h1.9v1.9h-1.9zm1 0h1.9v1.9h-1.9zm3 -1h1.9v1.9h-1.9zm4 1h1.9v1.9h-1.9zm2 -1h1.9v1.9h-1.9zm2 0h1.9v1.9h-1.9zm2 0h1.9v1.9h-1.9zm2 0h1.9v1.9h-1.9zm2 1h1.9v1.9h-1.9zm2 -1h1.9v1.9h-1.9zm12 0h1.9v1.9h-1.9zm2 1h1.9v1.9h-1.9zm2 0h1.9v1.9h-1.9zm8 0h1.9v1.9h-1.9zm6 0h1.9v1.9h-1.9zm19 -1h1.9v1.9h-1.9zm-165 2h1.9v1.9h-1.9zm26 1h1.9v1.9h-1.9zm4 -1h1.9v1.9h-1.9zm7 1h1.9v1.9h-1.9zm3 0h1.9v1.9h-1.9zm2 -1h1.9v1.9h-1.9zm2 0h1.9v1.9h-1.9zm1 0h1.9v1.9h-1.9zm5 0h1.9v1.9h-1.9zm2 1h1.9v1.9h-1.9zm2 -1h1.9v1.9h-1.9zm4 1h1.9v1.9h-1.9zm2 -1h1.9v1.9h-1.9zm2 0h1.9v1.9h-1.9zm2 0h1.9v1.9h-1.9zm2 0h1.9v1.9h-1.9zm2 0h1.9v1.9h-1.9zm4 1h1.9v1.9h-1.9zm10 0h1.9v1.9h-1.9zm4 -1h1.9v1.9h-1.9zm8 0h1.9v1.9h-1.9zm2 1h1.9v1.9h-1.9zm2 0h1.9v1.9h-1.9zm2 0h1.9v1.9h-1.9zm2 -1h1.9v1.9h-1.9zm2 1h1.9v1.9h-1.9zm2 -1h1.9v1.9h-1.9zm2 0h1.9v1.9h-1.9zm2 0h1.9v1.9h-1.9zm2 1h1.9v1.9h-1.9zm2 -1h1.9v1.9h-1.9zm6 0h1.9v1.9h-1.9zm16 0h1.9v1.9h-1.9zm2 0h1.9v1.9h-1.9zm2 0h1.9v1.9h-1.9zm12 0h1.9v1.9h-1.9zm10 0h1.9v1.9h-1.9zm40 1h1.9v1.9h-1.9zm-182 1h1.9v1.9h-1.9zm10 1h1.9v1.9h-1.9zm6 0h1.9v1.9h-1.9zm10 0h1.9v1.9h-1.9zm2 -1h1.9v1.9h-1.9zm4 1h1.9v1.9h-1.9zm8 0h1.9v1.9h-1.9zm26 -1h1.9v1.9h-1.9zm22 0h1.9v1.9h-1.9zm2 0h1.9v1.9h-1.9zm2 1h1.9v1.9h-1.9zm2 -1h1.9v1.9h-1.9zm1 0h1.9v1.9h-1.9zm3 0h2.8v2.8h-2.8zm6 0h1.9v1.9h-1.9zm2 0h1.9v1.9h-1.9zm2 1h1.9v1.9h-1.9zm6 0h1.9v1.9h-1.9zm14 -1h1.9v1.9h-1.9zm4 1h1.9v1.9h-1.9zm46 0h1.9v1.9h-1.9zm-228 2h2.8v2.8h-2.8zm32 -1h1.9v1.9h-1.9zm22 1h1.9v1.9h-1.9zm6 -1h1.9v1.9h-1.9zm2 1h1.9v1.9h-1.9zm2 0h1.9v1.9h-1.9zm2 0h1.9v1.9h-1.9zm6 0h1.9v1.9h-1.9zm14 -1h1.9v1.9h-1.9zm44 1h1.9v1.9h-1.9zm2 -1h2.8v2.8h-2.8zm6 1h1.9v1.9h-1.9zm2 -1h1.9v1.9h-1.9zm2 0h2.8v2.8h-2.8zm2 1h1.9v1.9h-1.9zm2 -1h1.9v1.9h-1.9zm2 1h1.9v1.9h-1.9zm3 -1h1.9v1.9h-1.9zm7 1h1.9v1.9h-1.9zm3 -1h1.9v1.9h-1.9zm7 0h1.9v1.9h-1.9zm28 0h1.9v1.9h-1.9zm-174 3h1.9v1.9h-1.9zm20 0h1.9v1.9h-1.9zm15 0h1.9v1.9h-1.9zm4 0h1.9v1.9h-1.9zm3 -1h1.9v1.9h-1.9zm2 0h1.9v1.9h-1.9zm6 1h1.9v1.9h-1.9zm66 -1h1.9v1.9h-1.9zm4 0h1.9v1.9h-1.9zm8 0h2.8v2.8h-2.8zm2 0h1.9v1.9h-1.9zm2 1h1.9v1.9h-1.9zm2 0h1.9v1.9h-1.9zm1 0h1.9v1.9h-1.9zm4 -1h1.9v1.9h-1.9zm7 1h1.9v1.9h-1.9zm2 -1h1.9v1.9h-1.9zm5 0h1.9v1.9h-1.9zm9 0h2.8v2.8h-2.8zm-177 2h1.9v1.9h-1.9zm23 0h1.9v1.9h-1.9zm8 0h1.9v1.9h-1.9zm6 1h1.9v1.9h-1.9zm4 -1h1.9v1.9h-1.9zm8 0h1.9v1.9h-1.9zm4 1h1.9v1.9h-1.9zm2 -1h1.9v1.9h-1.9zm2 0h1.9v1.9h-1.9zm2 1h2.8v2.8h-2.8zm2 -1h1.9v1.9h-1.9zm2 0h1.9v1.9h-1.9zm2 1h1.9v1.9h-1.9zm84 -1h1.9v1.9h-1.9zm2 1h1.9v1.9h-1.9zm2 0h1.9v1.9h-1.9zm4 0h1.9v1.9h-1.9zm2 0h1.9v1.9h-1.9zm4 0h1.9v1.9h-1.9zm2 0h2.8v2.8h-2.8zm38 -1h1.9v1.9h-1.9zm-182 3h1.9v1.9h-1.9zm10 0h1.9v1.9h-1.9zm4 -1h1.9v1.9h-1.9zm2 1h1.9v1.9h-1.9zm4 0h1.9v1.9h-1.9zm2 0h1.9v1.9h-1.9zm6 -1h1.9v1.9h-1.9zm2 0h1.9v1.9h-1.9zm4 1h2.8v2.8h-2.8zm2 -1h1.9v1.9h-1.9zm2 0h1.9v1.9h-1.9zm2 1h1.9v1.9h-1.9zm78 -1h1.9v1.9h-1.9zm8 0h1.9v1.9h-1.9zm2 1h1.9v1.9h-1.9zm4 0h1.9v1.9h-1.9zm2 0h1.9v1.9h-1.9zm2 0h1.9v1.9h-1.9zm8 -1h1.9v1.9h-1.9zm8 1h1.9v1.9h-1.9zm3 0h1.9v1.9h-1.9zm16 -1h1.9v1.9h-1.9zm-179 2h1.9v1.9h-1.9zm34 0h1.9v1.9h-1.9zm3 0h2.8v2.8h-2.8zm3 0h1.9v1.9h-1.9zm4 0h1.9v1.9h-1.9zm90 1h1.9v1.9h-1.9zm6 -1h1.9v1.9h-1.9zm2 0h1.9v1.9h-1.9zm2 1h1.9v1.9h-1.9zm4 -1h1.9v1.9h-1.9zm2 0h1.9v1.9h-1.9zm12 0h1.9v1.9h-1.9zm4 1h1.9v1.9h-1.9zm-194 1h1.9v1.9h-1.9zm36 0h1.9v1.9h-1.9zm14 0h1.9v1.9h-1.9zm8 0h1.9v1.9h-1.9zm2 0h1.9v1.9h-1.9zm4 0h1.9v1.9h-1.9zm108 0h2.8v2.8h-2.8zm2 0h1.9v1.9h-1.9zm2 0h1.9v1.9h-1.9zm2 0h1.9v1.9h-1.9zm6 1h1.9v1.9h-1.9zm2 -1h1.9v1.9h-1.9zm2 0h1.9v1.9h-1.9zm4 0h1.9v1.9h-1.9zm40 0h1.9v1.9h-1.9zm-188 3h1.9v1.9h-1.9zm2 -1h1.9v1.9h-1.9zm6 0h1.9v1.9h-1.9zm2 0h1.9v1.9h-1.9zm4 1h1.9v1.9h-1.9zm6 0h1.9v1.9h-1.9zm110 -1h1.9v1.9h-1.9zm4 0h1.9v1.9h-1.9zm6 0h1.9v1.9h-1.9zm2 0h1.9v1.9h-1.9zm6 1h1.9v1.9h-1.9zm2 0h1.9v1.9h-1.9zm6 -1h1.9v1.9h-1.9zm16 0h1.9v1.9h-1.9zm64 1h1.9v1.9h-1.9zm18 -1h1.9v1.9h-1.9zm-286 3h1.9v1.9h-1.9zm2 0h1.9v1.9h-1.9zm6 0h1.9v1.9h-1.9zm8 -1h2.8v2.8h-2.8zm8 0h1.9v1.9h-1.9zm6 0h1.9v1.9h-1.9zm6 1h1.9v1.9h-1.9zm2 -1h1.9v1.9h-1.9zm2 0h1.9v1.9h-1.9zm2 0h1.9v1.9h-1.9zm4 0h1.9v1.9h-1.9zm120 1h1.9v1.9h-1.9zm4 -1h1.9v1.9h-1.9zm2 0h1.9v1.9h-1.9zm12 0h1.9v1.9h-1.9zm2 0h1.9v1.9h-1.9zm8 0h1.9v1.9h-1.9zm-202 2h1.9v1.9h-1.9zm26 1h1.9v1.9h-1.9zm10 -1h1.9v1.9h-1.9zm2 0h1.9v1.9h-1.9zm4 1h1.9v1.9h-1.9zm2 -1h1.9v1.9h-1.9zm4 1h1.9v1.9h-1.9zm4 -1h1.9v1.9h-1.9zm4 0h1.9v1.9h-1.9zm120 0h1.9v1.9h-1.9zm2 0h1.9v1.9h-1.9zm2 0h2.8v2.8h-2.8zm4 0h1.9v1.9h-1.9zm8 1h1.9v1.9h-1.9zm18 0h1.9v1.9h-1.9zm52 -1h2.8v2.8h-2.8zm-250 2h1.9v1.9h-1.9zm4 1h1.9v1.9h-1.9zm14 -1h1.9v1.9h-1.9zm2 0h1.9v1.9h-1.9zm8 1h1.9v1.9h-1.9zm8 0h1.9v1.9h-1.9zm130 0h1.9v1.9h-1.9zm2 -1h2.8v2.8h-2.8zm4 0h1.9v1.9h-1.9zm2 1h1.9v1.9h-1.9zm23 -1h2.8v2.8h-2.8zm-207 2h1.9v1.9h-1.9zm4 0h1.9v1.9h-1.9zm22 1h1.9v1.9h-1.9zm1 0h1.9v1.9h-1.9zm5 -1h1.9v1.9h-1.9zm10 0h1.9v1.9h-1.9zm6 1h1.9v1.9h-1.9zm124 -1h1.9v1.9h-1.9zm6 1h1.9v1.9h-1.9zm2 0h1.9v1.9h-1.9zm2 0h1.9v1.9h-1.9zm10 -1h1.9v1.9h-1.9zm6 1h1.9v1.9h-1.9zm14 0h1.9v1.9h-1.9zm-194 1h1.9v1.9h-1.9zm8 0h1.9v1.9h-1.9zm6 0h1.9v1.9h-1.9zm4 0h1.9v1.9h-1.9zm6 0h1.9v1.9h-1.9zm2 1h1.9v1.9h-1.9zm2 -1h1.9v1.9h-1.9zm126 0h1.9v1.9h-1.9zm4 0h1.9v1.9h-1.9zm4 1h1.9v1.9h-1.9zm4 -1h1.9v1.9h-1.9zm1 0h2.8v2.8h-2.8zm5 1h1.9v1.9h-1.9zm1 0h1.9v1.9h-1.9zm27 0h1.9v1.9h-1.9zm12 -1h1.9v1.9h-1.9zm-194 2h1.9v1.9h-1.9zm2 0h1.9v1.9h-1.9zm4 0h1.9v1.9h-1.9zm4 0h1.9v1.9h-1.9zm125 1h1.9v1.9h-1.9zm3 0h1.9v1.9h-1.9zm4 -1h1.9v1.9h-1.9zm4 1h1.9v1.9h-1.9zm2 0h1.9v1.9h-1.9zm2 -1h1.9v1.9h-1.9zm2 1h1.9v1.9h-1.9zm2 0h1.9v1.9h-1.9zm2 -1h1.9v1.9h-1.9zm4 1h1.9v1.9h-1.9zm7 0h1.9v1.9h-1.9zm3 -1h1.9v1.9h-1.9zm20 0h1.9v1.9h-1.9zm-218 3h1.9v1.9h-1.9zm18 -1h1.9v1.9h-1.9zm10 0h1.9v1.9h-1.9zm10 0h1.9v1.9h-1.9zm2 1h1.9v1.9h-1.9zm131 0h1.9v1.9h-1.9zm3 0h1.9v1.9h-1.9zm2 -1h1.9v1.9h-1.9zm12 0h1.9v1.9h-1.9zm2 0h2.8v2.8h-2.8zm-180 2h1.9v1.9h-1.9zm10 0h1.9v1.9h-1.9zm4 0h1.9v1.9h-1.9zm4 1h1.9v1.9h-1.9zm4 0h1.9v1.9h-1.9zm2 -1h1.9v1.9h-1.9zm2 0h1.9v1.9h-1.9zm1 0h2.8v2.8h-2.8zm135 0h1.9v1.9h-1.9zm2 0h1.9v1.9h-1.9zm4 1h1.9v1.9h-1.9zm4 -1h1.9v1.9h-1.9zm4 0h1.9v1.9h-1.9zm4 0h1.9v1.9h-1.9zm18 1h1.9v1.9h-1.9zm-210 1h1.9v1.9h-1.9zm14 1h1.9v1.9h-1.9zm2 0h1.9v1.9h-1.9zm2 -1h1.9v1.9h-1.9zm6 1h1.9v1.9h-1.9zm5 0h1.9v1.9h-1.9zm5 0h1.9v1.9h-1.9zm2 0h1.9v1.9h-1.9zm138 -1h1.9v1.9h-1.9zm2 0h1.9v1.9h-1.9zm2 0h1.9v1.9h-1.9zm1 1h1.9v1.9h-1.9zm5 -1h1.9v1.9h-1.9zm4 0h1.9v1.9h-1.9zm4 1h1.9v1.9h-1.9zm2 -1h1.9v1.9h-1.9zm2 0h1.9v1.9h-1.9zm10 0h1.9v1.9h-1.9zm-184 2h1.9v1.9h-1.9zm2 0h1.9v1.9h-1.9zm4 0h1.9v1.9h-1.9zm2 0h1.9v1.9h-1.9zm2 1h1.9v1.9h-1.9zm2 -1h1.9v1.9h-1.9zm140 0h1.9v1.9h-1.9zm2 1h1.9v1.9h-1.9zm6 0h1.9v1.9h-1.9zm4 -1h1.9v1.9h-1.9zm6 1h1.9v1.9h-1.9zm16 0h1.9v1.9h-1.9zm-194 1h2.8v2.8h-2.8zm6 0h1.9v1.9h-1.9zm4 1h1.9v1.9h-1.9zm4 0h1.9v1.9h-1.9zm3 0h2.8v2.8h-2.8zm3 0h1.9v1.9h-1.9zm2 0h1.9v1.9h-1.9zm2 0h1.9v1.9h-1.9zm138 -1h1.9v1.9h-1.9zm2 1h1.9v1.9h-1.9zm2 -1h1.9v1.9h-1.9zm2 1h1.9v1.9h-1.9zm17 -1h1.9v1.9h-1.9zm-185 3h1.9v1.9h-1.9zm11 -1h1.9v1.9h-1.9zm7 1h1.9v1.9h-1.9zm6 -1h1.9v1.9h-1.9zm4 0h1.9v1.9h-1.9zm132 0h2.8v2.8h-2.8zm6 0h1.9v1.9h-1.9zm4 0h1.9v1.9h-1.9zm2 0h1.9v1.9h-1.9zm2 1h1.9v1.9h-1.9zm8 -1h1.9v1.9h-1.9zm-194 2h1.9v1.9h-1.9zm8 0h2.8v2.8h-2.8zm6 0h1.9v1.9h-1.9zm6 1h2.8v2.8h-2.8zm4 0h1.9v1.9h-1.9zm4 -1h1.9v1.9h-1.9zm1 0h1.9v1.9h-1.9zm3 0h1.9v1.9h-1.9zm2 1h1.9v1.9h-1.9zm8 -1h1.9v1.9h-1.9zm131 0h1.9v1.9h-1.9zm5 1h1.9v1.9h-1.9zm4 -1h1.9v1.9h-1.9zm2 0h1.9v1.9h-1.9zm8 0h1.9v1.9h-1.9zm22 0h1.9v1.9h-1.9zm6 0h1.9v1.9h-1.9zm10 0h1.9v1.9h-1.9zm-236 2h1.9v1.9h-1.9zm2 1h1.9v1.9h-1.9zm12 -1h1.9v1.9h-1.9zm4 0h1.9v1.9h-1.9zm1 0h1.9v1.9h-1.9zm11 0h1.9v1.9h-1.9zm6 0h1.9v1.9h-1.9zm1 0h1.9v1.9h-1.9zm141 0h1.9v1.9h-1.9zm2 1h1.9v1.9h-1.9zm2 -1h1.9v1.9h-1.9zm2 0h1.9v1.9h-1.9zm6 0h1.9v1.9h-1.9zm2 0h1.9v1.9h-1.9zm3 0h1.9v1.9h-1.9zm7 0h1.9v1.9h-1.9zm2 1h1.9v1.9h-1.9zm4 0h1.9v1.9h-1.9zm10 -1h1.9v1.9h-1.9zm1 1h1.9v1.9h-1.9zm3 -1h1.9v1.9h-1.9zm-226 2h1.9v1.9h-1.9zm23 0h1.9v1.9h-1.9zm10 0h1.9v1.9h-1.9zm7 0h1.9v1.9h-1.9zm4 1h1.9v1.9h-1.9zm4 -1h2.8v2.8h-2.8zm134 0h2.8v2.8h-2.8zm4 0h1.9v1.9h-1.9zm2 0h1.9v1.9h-1.9zm4 0h1.9v1.9h-1.9zm10 0h1.9v1.9h-1.9zm14 0h2.8v2.8h-2.8zm14 1h1.9v1.9h-1.9zm-200 1h1.9v1.9h-1.9zm2 0h1.9v1.9h-1.9zm7 0h1.9v1.9h-1.9zm5 1h1.9v1.9h-1.9zm2 0h1.9v1.9h-1.9zm2 0h1.9v1.9h-1.9zm130 -1h1.9v1.9h-1.9zm4 0h1.9v1.9h-1.9zm2 0h1.9v1.9h-1.9zm6 0h1.9v1.9h-1.9zm2 0h1.9v1.9h-1.9zm4 0h1.9v1.9h-1.9zm2 1h1.9v1.9h-1.9zm8 0h1.9v1.9h-1.9zm25 -1h1.9v1.9h-1.9zm5 1h1.9v1.9h-1.9zm-218 1h1.9v1.9h-1.9zm4 1h1.9v1.9h-1.9zm2 -1h1.9v1.9h-1.9zm8 0h1.9v1.9h-1.9zm6 0h1.9v1.9h-1.9zm4 0h1.9v1.9h-1.9zm8 0h1.9v1.9h-1.9zm2 1h1.9v1.9h-1.9zm130 0h1.9v1.9h-1.9zm4 -1h1.9v1.9h-1.9zm2 1h1.9v1.9h-1.9zm3 0h1.9v1.9h-1.9zm4 0h1.9v1.9h-1.9zm35 0h1.9v1.9h-1.9zm-220 1h1.9v1.9h-1.9zm8 0h1.9v1.9h-1.9zm10 1h1.9v1.9h-1.9zm3 -1h1.9v1.9h-1.9zm9 1h1.9v1.9h-1.9zm8 -1h1.9v1.9h-1.9zm134 1h1.9v1.9h-1.9zm6 -1h1.9v1.9h-1.9zm1 1h1.9v1.9h-1.9zm12 -1h1.9v1.9h-1.9zm7 0h1.9v1.9h-1.9zm2 0h1.9v1.9h-1.9zm20 0h1.9v1.9h-1.9zm50 0h1.9v1.9h-1.9zm-258 2h1.9v1.9h-1.9zm8 0h1.9v1.9h-1.9zm2 0h1.9v1.9h-1.9zm4 1h1.9v1.9h-1.9zm6 -1h1.9v1.9h-1.9zm2 1h1.9v1.9h-1.9zm2 0h1.9v1.9h-1.9zm2 0h2.8v2.8h-2.8zm2 -1h1.9v1.9h-1.9zm2 1h1.9v1.9h-1.9zm128 -1h1.9v1.9h-1.9zm6 1h1.9v1.9h-1.9zm2 -1h1.9v1.9h-1.9zm2 1h1.9v1.9h-1.9zm2 -1h1.9v1.9h-1.9zm6 1h1.9v1.9h-1.9zm22 -1h2.8v2.8h-2.8zm-224 2h1.9v1.9h-1.9zm2 0h1.9v1.9h-1.9zm10 0h1.9v1.9h-1.9zm10 1h1.9v1.9h-1.9zm4 -1h1.9v1.9h-1.9zm8 0h1.9v1.9h-1.9zm4 1h1.9v1.9h-1.9zm6 0h1.9v1.9h-1.9zm4 -1h1.9v1.9h-1.9zm4 1h1.9v1.9h-1.9zm2 -1h1.9v1.9h-1.9zm6 0h1.9v1.9h-1.9zm118 1h1.9v1.9h-1.9zm7 0h1.9v1.9h-1.9zm7 0h1.9v1.9h-1.9zm4 -1h1.9v1.9h-1.9zm1 0h1.9v1.9h-1.9zm3 0h1.9v1.9h-1.9zm6 1h1.9v1.9h-1.9zm26 0h1.9v1.9h-1.9zm13 -1h1.9v1.9h-1.9zm-206 2h1.9v1.9h-1.9zm3 0h1.9v1.9h-1.9zm6 0h1.9v1.9h-1.9zm6 0h1.9v1.9h-1.9zm5 0h1.9v1.9h-1.9zm7 1h1.9v1.9h-1.9zm120 -1h1.9v1.9h-1.9zm4 0h1.9v1.9h-1.9zm2 0h1.9v1.9h-1.9zm8 0h1.9v1.9h-1.9zm4 0h1.9v1.9h-1.9zm2 0h1.9v1.9h-1.9zm4 1h1.9v1.9h-1.9zm28 0h1.9v1.9h-1.9zm-236 1h1.9v1.9h-1.9zm22 0h1.9v1.9h-1.9zm10 0h1.9v1.9h-1.9zm8 0h1.9v1.9h-1.9zm4 0h1.9v1.9h-1.9zm4 1h1.9v1.9h-1.9zm2 0h1.9v1.9h-1.9zm2 -1h1.9v1.9h-1.9zm8 0h1.9v1.9h-1.9zm122 0h2.8v2.8h-2.8zm6 0h1.9v1.9h-1.9zm2 0h1.9v1.9h-1.9zm2 0h1.9v1.9h-1.9zm1 0h1.9v1.9h-1.9zm3 0h1.9v1.9h-1.9zm5 1h2.8v2.8h-2.8zm5 -1h1.9v1.9h-1.9zm8 0h1.9v1.9h-1.9zm8 1h1.9v1.9h-1.9zm40 0h1.9v1.9h-1.9zm-232 2h1.9v1.9h-1.9zm11 -1h1.9v1.9h-1.9zm2 1h2.8v2.8h-2.8zm3 -1h1.9v1.9h-1.9zm2 1h1.9v1.9h-1.9zm4 0h1.9v1.9h-1.9zm4 -1h1.9v1.9h-1.9zm2 1h1.9v1.9h-1.9zm2 -1h1.9v1.9h-1.9zm2 0h1.9v1.9h-1.9zm4 0h1.9v1.9h-1.9zm106 0h1.9v1.9h-1.9zm2 0h1.9v1.9h-1.9zm2 0h1.9v1.9h-1.9zm2 0h1.9v1.9h-1.9zm2 0h1.9v1.9h-1.9zm4 0h1.9v1.9h-1.9zm2 1h1.9v1.9h-1.9zm4 0h1.9v1.9h-1.9zm4 0h1.9v1.9h-1.9zm2 -1h1.9v1.9h-1.9zm3 1h1.9v1.9h-1.9zm4 -1h1.9v1.9h-1.9zm-181 3h1.9v1.9h-1.9zm2 0h1.9v1.9h-1.9zm8 -1h1.9v1.9h-1.9zm14 0h1.9v1.9h-1.9zm1 1h1.9v1.9h-1.9zm4 0h1.9v1.9h-1.9zm3 -1h1.9v1.9h-1.9zm6 0h1.9v1.9h-1.9zm10 0h1.9v1.9h-1.9zm110 1h1.9v1.9h-1.9zm2 0h1.9v1.9h-1.9zm2 -1h1.9v1.9h-1.9zm2 1h1.9v1.9h-1.9zm4 -1h2.8v2.8h-2.8zm4 0h1.9v1.9h-1.9zm2 0h1.9v1.9h-1.9zm2 0h1.9v1.9h-1.9zm10 1h1.9v1.9h-1.9zm4 -1h1.9v1.9h-1.9zm8 0h1.9v1.9h-1.9zm-206 3h1.9v1.9h-1.9zm16 0h1.9v1.9h-1.9zm17 0h1.9v1.9h-1.9zm7 -1h1.9v1.9h-1.9zm4 1h1.9v1.9h-1.9zm4 -1h1.9v1.9h-1.9zm2 1h2.8v2.8h-2.8zm2 0h1.9v1.9h-1.9zm2 0h1.9v1.9h-1.9zm2 0h1.9v1.9h-1.9zm2 -1h1.9v1.9h-1.9zm104 1h1.9v1.9h-1.9zm2 -1h1.9v1.9h-1.9zm2 1h1.9v1.9h-1.9zm4 0h1.9v1.9h-1.9zm8 0h1.9v1.9h-1.9zm12 -1h2.8v2.8h-2.8zm-190 3h1.9v1.9h-1.9zm2 -1h1.9v1.9h-1.9zm4 0h2.8v2.8h-2.8zm6 1h1.9v1.9h-1.9zm8 -1h1.9v1.9h-1.9zm6 0h2.8v2.8h-2.8zm4 0h1.9v1.9h-1.9zm1 0h1.9v1.9h-1.9zm11 1h1.9v1.9h-1.9zm4 0h1.9v1.9h-1.9zm4 -1h1.9v1.9h-1.9zm14 0h1.9v1.9h-1.9zm100 0h1.9v1.9h-1.9zm4 0h1.9v1.9h-1.9zm2 1h1.9v1.9h-1.9zm2 0h1.9v1.9h-1.9zm8 0h1.9v1.9h-1.9zm2 0h2.8v2.8h-2.8zm10 0h1.9v1.9h-1.9zm2 -1h1.9v1.9h-1.9zm26 1h1.9v1.9h-1.9zm-230 2h1.9v1.9h-1.9zm2 -1h1.9v1.9h-1.9zm6 0h1.9v1.9h-1.9zm8 1h1.9v1.9h-1.9zm16 -1h1.9v1.9h-1.9zm4 0h1.9v1.9h-1.9zm8 0h1.9v1.9h-1.9zm6 0h1.9v1.9h-1.9zm2 0h1.9v1.9h-1.9zm4 0h1.9v1.9h-1.9zm4 1h1.9v1.9h-1.9zm6 0h1.9v1.9h-1.9zm96 -1h1.9v1.9h-1.9zm14 0h1.9v1.9h-1.9zm2 1h1.9v1.9h-1.9zm2 0h1.9v1.9h-1.9zm2 -1h1.9v1.9h-1.9zm2 0h1.9v1.9h-1.9zm2 1h1.9v1.9h-1.9zm4 -1h1.9v1.9h-1.9zm2 1h2.8v2.8h-2.8zm2 0h1.9v1.9h-1.9zm2 -1h1.9v1.9h-1.9zm10 1h1.9v1.9h-1.9zm16 -1h1.9v1.9h-1.9zm-229 2h1.9v1.9h-1.9zm15 0h1.9v1.9h-1.9zm16 0h1.9v1.9h-1.9zm2 0h1.9v1.9h-1.9zm6 0h1.9v1.9h-1.9zm8 1h1.9v1.9h-1.9zm2 -1h1.9v1.9h-1.9zm6 0h1.9v1.9h-1.9zm4 0h1.9v1.9h-1.9zm4 0h1.9v1.9h-1.9zm2 0h1.9v1.9h-1.9zm4 0h1.9v1.9h-1.9zm108 0h1.9v1.9h-1.9zm2 0h1.9v1.9h-1.9zm2 1h1.9v1.9h-1.9zm2 -1h1.9v1.9h-1.9zm2 1h1.9v1.9h-1.9zm10 -1h1.9v1.9h-1.9zm6 1h1.9v1.9h-1.9zm14 -1h2.8v2.8h-2.8zm2 0h1.9v1.9h-1.9zm12 1h1.9v1.9h-1.9zm-200 2h1.9v1.9h-1.9zm18 -1h1.9v1.9h-1.9zm8 0h1.9v1.9h-1.9zm4 1h1.9v1.9h-1.9zm6 -1h1.9v1.9h-1.9zm4 0h1.9v1.9h-1.9zm3 0h1.9v1.9h-1.9zm3 1h1.9v1.9h-1.9zm2 -1h1.9v1.9h-1.9zm2 0h1.9v1.9h-1.9zm92 0h1.9v1.9h-1.9zm4 1h1.9v1.9h-1.9zm2 0h1.9v1.9h-1.9zm2 -1h1.9v1.9h-1.9zm2 0h1.9v1.9h-1.9zm6 1h1.9v1.9h-1.9zm2 -1h1.9v1.9h-1.9zm4 1h1.9v1.9h-1.9zm3 0h1.9v1.9h-1.9zm7 -1h1.9v1.9h-1.9zm8 1h1.9v1.9h-1.9zm7 -1h1.9v1.9h-1.9zm18 1h1.9v1.9h-1.9zm-202 1h1.9v1.9h-1.9zm5 1h1.9v1.9h-1.9zm10 0h1.9v1.9h-1.9zm2 -1h1.9v1.9h-1.9zm2 1h1.9v1.9h-1.9zm2 -1h1.9v1.9h-1.9zm4 1h1.9v1.9h-1.9zm2 0h1.9v1.9h-1.9zm2 -1h1.9v1.9h-1.9zm2 1h1.9v1.9h-1.9zm12 -1h1.9v1.9h-1.9zm94 0h1.9v1.9h-1.9zm8 0h1.9v1.9h-1.9zm6 1h1.9v1.9h-1.9zm1 0h1.9v1.9h-1.9zm3 -1h1.9v1.9h-1.9zm2 1h1.9v1.9h-1.9zm6 -1h1.9v1.9h-1.9zm2 0h1.9v1.9h-1.9zm6 1h1.9v1.9h-1.9zm2 -1h1.9v1.9h-1.9zm16 0h1.9v1.9h-1.9zm1 0h1.9v1.9h-1.9zm9 0h1.9v1.9h-1.9zm-195 3h1.9v1.9h-1.9zm3 0h1.9v1.9h-1.9zm10 0h1.9v1.9h-1.9zm4 -1h1.9v1.9h-1.9zm2 1h1.9v1.9h-1.9zm4 -1h1.9v1.9h-1.9zm4 0h1.9v1.9h-1.9zm2 0h1.9v1.9h-1.9zm2 1h1.9v1.9h-1.9zm8 -1h1.9v1.9h-1.9zm3 0h1.9v1.9h-1.9zm3 0h1.9v1.9h-1.9zm6 1h1.9v1.9h-1.9zm5 -1h1.9v1.9h-1.9zm63 0h1.9v1.9h-1.9zm6 0h1.9v1.9h-1.9zm4 0h1.9v1.9h-1.9zm8 0h1.9v1.9h-1.9zm2 1h1.9v1.9h-1.9zm2 -1h1.9v1.9h-1.9zm4 1h1.9v1.9h-1.9zm4 0h1.9v1.9h-1.9zm2 0h1.9v1.9h-1.9zm4 0h2.8v2.8h-2.8zm6 -1h1.9v1.9h-1.9zm3 1h1.9v1.9h-1.9zm11 -1h1.9v1.9h-1.9zm12 1h1.9v1.9h-1.9zm20 0h1.9v1.9h-1.9zm-236 1h1.9v1.9h-1.9zm2 1h1.9v1.9h-1.9zm5 0h1.9v1.9h-1.9zm11 0h1.9v1.9h-1.9zm21 0h1.9v1.9h-1.9zm7 0h1.9v1.9h-1.9zm3 -1h1.9v1.9h-1.9zm5 0h1.9v1.9h-1.9zm2 0h1.9v1.9h-1.9zm2 1h1.9v1.9h-1.9zm4 -1h1.9v1.9h-1.9zm2 1h1.9v1.9h-1.9zm2 0h1.9v1.9h-1.9zm2 0h1.9v1.9h-1.9zm5 -1h1.9v1.9h-1.9zm71 0h1.9v1.9h-1.9zm8 0h1.9v1.9h-1.9zm12 1h1.9v1.9h-1.9zm2 0h2.8v2.8h-2.8zm1 0h1.9v1.9h-1.9zm3 -1h1.9v1.9h-1.9zm2 0h1.9v1.9h-1.9zm2 1h1.9v1.9h-1.9zm4 -1h1.9v1.9h-1.9zm1 1h1.9v1.9h-1.9zm3 -1h1.9v1.9h-1.9zm2 0h1.9v1.9h-1.9zm2 0h1.9v1.9h-1.9zm2 0h1.9v1.9h-1.9zm8 1h1.9v1.9h-1.9zm4 -1h1.9v1.9h-1.9zm12 0h1.9v1.9h-1.9zm2 0h1.9v1.9h-1.9zm16 0h1.9v1.9h-1.9zm-232 3h1.9v1.9h-1.9zm8 -1h1.9v1.9h-1.9zm28 0h1.9v1.9h-1.9zm3 0h1.9v1.9h-1.9zm3 0h1.9v1.9h-1.9zm6 1h1.9v1.9h-1.9zm4 0h1.9v1.9h-1.9zm2 -1h1.9v1.9h-1.9zm4 0h1.9v1.9h-1.9zm2 1h1.9v1.9h-1.9zm2 -1h1.9v1.9h-1.9zm2 0h1.9v1.9h-1.9zm2 0h1.9v1.9h-1.9zm1 0h1.9v1.9h-1.9zm11 1h1.9v1.9h-1.9zm28 -1h1.9v1.9h-1.9zm36 0h1.9v1.9h-1.9zm2 0h1.9v1.9h-1.9zm10 1h1.9v1.9h-1.9zm6 -1h2.8v2.8h-2.8zm2 1h2.8v2.8h-2.8zm4 0h1.9v1.9h-1.9zm4 -1h1.9v1.9h-1.9zm2 0h1.9v1.9h-1.9zm2 1h1.9v1.9h-1.9zm2 -1h1.9v1.9h-1.9zm2 1h1.9v1.9h-1.9zm7 0h1.9v1.9h-1.9zm5 -1h1.9v1.9h-1.9zm28 0h1.9v1.9h-1.9zm48 0h1.9v1.9h-1.9zm-248 2h1.9v1.9h-1.9zm12 0h1.9v1.9h-1.9zm4 1h1.9v1.9h-1.9zm4 -1h2.8v2.8h-2.8zm8 0h2.8v2.8h-2.8zm2 0h1.9v1.9h-1.9zm16 0h1.9v1.9h-1.9zm2 1h1.9v1.9h-1.9zm2 0h1.9v1.9h-1.9zm2 -1h1.9v1.9h-1.9zm4 0h1.9v1.9h-1.9zm2 0h1.9v1.9h-1.9zm2 0h2.8v2.8h-2.8zm4 0h1.9v1.9h-1.9zm2 0h1.9v1.9h-1.9zm4 0h1.9v1.9h-1.9zm2 0h1.9v1.9h-1.9zm52 0h1.9v1.9h-1.9zm4 0h2.8v2.8h-2.8zm14 0h2.8v2.8h-2.8zm4 1h1.9v1.9h-1.9zm1 -1h1.9v1.9h-1.9zm3 1h1.9v1.9h-1.9zm2 -1h1.9v1.9h-1.9zm2 1h1.9v1.9h-1.9zm6 -1h1.9v1.9h-1.9zm2 0h1.9v1.9h-1.9zm2 0h1.9v1.9h-1.9zm2 0h1.9v1.9h-1.9zm2 0h1.9v1.9h-1.9zm2 0h1.9v1.9h-1.9zm6 0h1.9v1.9h-1.9zm12 1h1.9v1.9h-1.9zm2 0h1.9v1.9h-1.9zm6 -1h1.9v1.9h-1.9zm14 0h1.9v1.9h-1.9zm-228 3h1.9v1.9h-1.9zm21 -1h1.9v1.9h-1.9zm17 0h1.9v1.9h-1.9zm18 0h1.9v1.9h-1.9zm2 0h1.9v1.9h-1.9zm4 0h1.9v1.9h-1.9zm2 1h1.9v1.9h-1.9zm2 0h1.9v1.9h-1.9zm3 -1h1.9v1.9h-1.9zm3 0h1.9v1.9h-1.9zm2 1h1.9v1.9h-1.9zm4 0h1.9v1.9h-1.9zm2 0h1.9v1.9h-1.9zm2 0h1.9v1.9h-1.9zm10 0h1.9v1.9h-1.9zm8 -1h1.9v1.9h-1.9zm16 0h1.9v1.9h-1.9zm30 1h1.9v1.9h-1.9zm7 -1h1.9v1.9h-1.9zm3 0h1.9v1.9h-1.9zm8 1h1.9v1.9h-1.9zm4 0h1.9v1.9h-1.9zm6 0h2.8v2.8h-2.8zm6 -1h1.9v1.9h-1.9zm10 0h1.9v1.9h-1.9zm6 0h1.9v1.9h-1.9zm6 0h1.9v1.9h-1.9zm4 0h1.9v1.9h-1.9zm2 0h1.9v1.9h-1.9zm22 0h1.9v1.9h-1.9zm18 0h1.9v1.9h-1.9zm-210 2h1.9v1.9h-1.9zm6 1h1.9v1.9h-1.9zm6 -1h1.9v1.9h-1.9zm8 0h1.9v1.9h-1.9zm2 1h1.9v1.9h-1.9zm2 0h1.9v1.9h-1.9zm2 -1h1.9v1.9h-1.9zm2 0h1.9v1.9h-1.9zm2 1h1.9v1.9h-1.9zm2 -1h1.9v1.9h-1.9zm4 0h1.9v1.9h-1.9zm2 1h1.9v1.9h-1.9zm4 -1h1.9v1.9h-1.9zm2 1h1.9v1.9h-1.9zm6 0h1.9v1.9h-1.9zm8 -1h2.8v2.8h-2.8zm16 1h1.9v1.9h-1.9zm2 -1h1.9v1.9h-1.9zm10 0h1.9v1.9h-1.9zm1 1h1.9v1.9h-1.9zm21 0h1.9v1.9h-1.9zm6 0h1.9v1.9h-1.9zm4 0h1.9v1.9h-1.9zm2 -1h2.8v2.8h-2.8zm6 0h1.9v1.9h-1.9zm2 1h1.9v1.9h-1.9zm2 -1h2.8v2.8h-2.8zm2 0h1.9v1.9h-1.9zm6 0h1.9v1.9h-1.9zm4 0h1.9v1.9h-1.9zm10 0h1.9v1.9h-1.9zm18 0h1.9v1.9h-1.9zm2 1h1.9v1.9h-1.9zm8 -1h1.9v1.9h-1.9zm24 1h1.9v1.9h-1.9zm-198 2h1.9v1.9h-1.9zm5 -1h1.9v1.9h-1.9zm13 0h1.9v1.9h-1.9zm2 0h1.9v1.9h-1.9zm2 0h1.9v1.9h-1.9zm4 1h1.9v1.9h-1.9zm2 -1h1.9v1.9h-1.9zm6 1h1.9v1.9h-1.9zm9 -1h1.9v1.9h-1.9zm3 0h1.9v1.9h-1.9zm2 0h1.9v1.9h-1.9zm4 0h1.9v1.9h-1.9zm2 0h1.9v1.9h-1.9zm12 1h1.9v1.9h-1.9zm1 -1h1.9v1.9h-1.9zm3 0h1.9v1.9h-1.9zm2 0h1.9v1.9h-1.9zm14 1h1.9v1.9h-1.9zm8 -1h1.9v1.9h-1.9zm2 1h1.9v1.9h-1.9zm2 -1h1.9v1.9h-1.9zm3 1h1.9v1.9h-1.9zm9 -1h1.9v1.9h-1.9zm4 0h1.9v1.9h-1.9zm2 0h2.8v2.8h-2.8zm2 0h1.9v1.9h-1.9zm2 0h1.9v1.9h-1.9zm2 0h1.9v1.9h-1.9zm2 0h1.9v1.9h-1.9zm2 0h1.9v1.9h-1.9zm4 0h1.9v1.9h-1.9zm2 0h1.9v1.9h-1.9zm4 1h1.9v1.9h-1.9zm5 -1h1.9v1.9h-1.9zm9 1h1.9v1.9h-1.9zm28 0h1.9v1.9h-1.9zm-224 2h1.9v1.9h-1.9zm27 -1h1.9v1.9h-1.9zm6 1h1.9v1.9h-1.9zm9 -1h1.9v1.9h-1.9zm8 1h1.9v1.9h-1.9zm4 0h1.9v1.9h-1.9zm4 0h1.9v1.9h-1.9zm2 0h1.9v1.9h-1.9zm6 -1h1.9v1.9h-1.9zm2 0h1.9v1.9h-1.9zm2 1h1.9v1.9h-1.9zm2 -1h1.9v1.9h-1.9zm2 1h1.9v1.9h-1.9zm2 -1h1.9v1.9h-1.9zm2 0h1.9v1.9h-1.9zm4 1h1.9v1.9h-1.9zm2 0h1.9v1.9h-1.9zm1 0h1.9v1.9h-1.9zm3 -1h1.9v1.9h-1.9zm4 0h1.9v1.9h-1.9zm2 0h1.9v1.9h-1.9zm1 0h1.9v1.9h-1.9zm3 0h1.9v1.9h-1.9zm2 0h1.9v1.9h-1.9zm2 0h1.9v1.9h-1.9zm28 0h1.9v1.9h-1.9zm8 0h1.9v1.9h-1.9zm3 0h1.9v1.9h-1.9zm3 0h1.9v1.9h-1.9zm2 0h1.9v1.9h-1.9zm2 0h1.9v1.9h-1.9zm4 0h1.9v1.9h-1.9zm2 0h1.9v1.9h-1.9zm3 0h1.9v1.9h-1.9zm2 0h1.9v1.9h-1.9zm4 0h1.9v1.9h-1.9zm3 0h1.9v1.9h-1.9zm2 0h1.9v1.9h-1.9zm2 1h1.9v1.9h-1.9zm2 -1h2.8v2.8h-2.8zm1 1h1.9v1.9h-1.9zm3 0h1.9v1.9h-1.9zm10 -1h1.9v1.9h-1.9zm8 0h1.9v1.9h-1.9zm12 0h1.9v1.9h-1.9zm-194 3h1.9v1.9h-1.9zm28 0h1.9v1.9h-1.9zm6 -1h1.9v1.9h-1.9zm8 0h2.8v2.8h-2.8zm2 0h1.9v1.9h-1.9zm2 1h1.9v1.9h-1.9zm8 -1h1.9v1.9h-1.9zm2 0h1.9v1.9h-1.9zm1 1h1.9v1.9h-1.9zm4 -1h1.9v1.9h-1.9zm3 0h1.9v1.9h-1.9zm4 0h1.9v1.9h-1.9zm2 1h1.9v1.9h-1.9zm4 0h1.9v1.9h-1.9zm2 -1h1.9v1.9h-1.9zm2 1h1.9v1.9h-1.9zm2 -1h1.9v1.9h-1.9zm4 1h1.9v1.9h-1.9zm2 -1h1.9v1.9h-1.9zm2 1h1.9v1.9h-1.9zm6 0h2.8v2.8h-2.8zm12 -1h1.9v1.9h-1.9zm8 1h1.9v1.9h-1.9zm8 -1h1.9v1.9h-1.9zm8 0h1.9v1.9h-1.9zm6 1h1.9v1.9h-1.9zm6 0h1.9v1.9h-1.9zm6 -1h1.9v1.9h-1.9zm2 0h1.9v1.9h-1.9zm3 1h1.9v1.9h-1.9zm3 -1h1.9v1.9h-1.9zm4 1h1.9v1.9h-1.9zm5 0h1.9v1.9h-1.9zm4 0h1.9v1.9h-1.9zm5 -1h1.9v1.9h-1.9zm24 0h1.9v1.9h-1.9zm4 0h1.9v1.9h-1.9zm2 0h1.9v1.9h-1.9zm-179 2h1.9v1.9h-1.9zm9 0h1.9v1.9h-1.9zm4 1h1.9v1.9h-1.9zm14 -1h1.9v1.9h-1.9zm2 0h1.9v1.9h-1.9zm2 0h1.9v1.9h-1.9zm2 1h1.9v1.9h-1.9zm4 0h2.8v2.8h-2.8zm4 -1h1.9v1.9h-1.9zm2 1h1.9v1.9h-1.9zm2 -1h1.9v1.9h-1.9zm8 1h1.9v1.9h-1.9zm6 -1h1.9v1.9h-1.9zm2 1h2.8v2.8h-2.8zm5 -1h1.9v1.9h-1.9zm2 1h1.9v1.9h-1.9zm2 -1h1.9v1.9h-1.9zm3 0h1.9v1.9h-1.9zm2 1h2.8v2.8h-2.8zm8 -1h1.9v1.9h-1.9zm8 0h1.9v1.9h-1.9zm18 0h1.9v1.9h-1.9zm2 0h1.9v1.9h-1.9zm2 1h1.9v1.9h-1.9zm2 -1h1.9v1.9h-1.9zm4 1h1.9v1.9h-1.9zm6 0h1.9v1.9h-1.9zm2 -1h1.9v1.9h-1.9zm6 0h1.9v1.9h-1.9zm2 0h1.9v1.9h-1.9zm2 1h2.8v2.8h-2.8zm2 -1h1.9v1.9h-1.9zm6 1h1.9v1.9h-1.9zm8 -1h1.9v1.9h-1.9zm4 1h1.9v1.9h-1.9zm12 -1h1.9v1.9h-1.9zm10 0h1.9v1.9h-1.9zm2 0h1.9v1.9h-1.9zm46 1h1.9v1.9h-1.9zm-232 2h1.9v1.9h-1.9zm20 -1h1.9v1.9h-1.9zm4 0h1.9v1.9h-1.9zm7 0h1.9v1.9h-1.9zm3 1h1.9v1.9h-1.9zm2 -1h1.9v1.9h-1.9zm2 1h1.9v1.9h-1.9zm3 -1h1.9v1.9h-1.9zm3 1h1.9v1.9h-1.9zm4 -1h1.9v1.9h-1.9zm2 0h1.9v1.9h-1.9zm2 1h1.9v1.9h-1.9zm4 -1h1.9v1.9h-1.9zm4 1h1.9v1.9h-1.9zm4 -1h1.9v1.9h-1.9zm4 0h1.9v1.9h-1.9zm2 0h1.9v1.9h-1.9zm2 0h1.9v1.9h-1.9zm2 1h2.8v2.8h-2.8zm2 0h1.9v1.9h-1.9zm2 -1h1.9v1.9h-1.9zm2 1h1.9v1.9h-1.9zm4 0h1.9v1.9h-1.9zm2 -1h1.9v1.9h-1.9zm4 0h1.9v1.9h-1.9zm4 0h2.8v2.8h-2.8zm4 1h1.9v1.9h-1.9zm4 0h1.9v1.9h-1.9zm2 -1h1.9v1.9h-1.9zm6 1h1.9v1.9h-1.9zm4 0h1.9v1.9h-1.9zm8 -1h1.9v1.9h-1.9zm2 1h1.9v1.9h-1.9zm2 -1h1.9v1.9h-1.9zm4 1h1.9v1.9h-1.9zm2 -1h1.9v1.9h-1.9zm2 1h1.9v1.9h-1.9zm1 -1h1.9v1.9h-1.9zm9 1h1.9v1.9h-1.9zm10 0h1.9v1.9h-1.9zm2 0h1.9v1.9h-1.9zm8 -1h1.9v1.9h-1.9zm11 1h1.9v1.9h-1.9zm5 -1h1.9v1.9h-1.9zm4 1h1.9v1.9h-1.9zm2 0h1.9v1.9h-1.9zm-179 2h1.9v1.9h-1.9zm7 -1h1.9v1.9h-1.9zm24 0h1.9v1.9h-1.9zm2 0h1.9v1.9h-1.9zm6 0h1.9v1.9h-1.9zm5 1h2.8v2.8h-2.8zm7 -1h1.9v1.9h-1.9zm3 0h1.9v1.9h-1.9zm3 1h1.9v1.9h-1.9zm2 -1h1.9v1.9h-1.9zm2 1h1.9v1.9h-1.9zm8 -1h1.9v1.9h-1.9zm4 1h1.9v1.9h-1.9zm14 0h1.9v1.9h-1.9zm6 -1h1.9v1.9h-1.9zm4 1h1.9v1.9h-1.9zm2 0h1.9v1.9h-1.9zm3 0h1.9v1.9h-1.9zm3 -1h1.9v1.9h-1.9zm2 1h1.9v1.9h-1.9zm6 -1h1.9v1.9h-1.9zm6 0h1.9v1.9h-1.9zm2 1h1.9v1.9h-1.9zm1 0h1.9v1.9h-1.9zm7 -1h1.9v1.9h-1.9zm4 1h1.9v1.9h-1.9zm18 -1h1.9v1.9h-1.9zm-192 2h1.9v1.9h-1.9zm2 0h1.9v1.9h-1.9zm24 1h1.9v1.9h-1.9zm10 -1h1.9v1.9h-1.9zm2 0h1.9v1.9h-1.9zm12 1h1.9v1.9h-1.9zm4 0h1.9v1.9h-1.9zm1 0h1.9v1.9h-1.9zm3 -1h1.9v1.9h-1.9zm8 0h1.9v1.9h-1.9zm4 0h1.9v1.9h-1.9zm8 1h1.9v1.9h-1.9zm2 -1h1.9v1.9h-1.9zm2 0h1.9v1.9h-1.9zm2 1h1.9v1.9h-1.9zm2 -1h1.9v1.9h-1.9zm4 0h1.9v1.9h-1.9zm2 0h1.9v1.9h-1.9zm4 0h1.9v1.9h-1.9zm2 1h1.9v1.9h-1.9zm4 -1h1.9v1.9h-1.9zm4 0h1.9v1.9h-1.9zm4 0h1.9v1.9h-1.9zm2 0h1.9v1.9h-1.9zm4 1h2.8v2.8h-2.8zm2 -1h2.8v2.8h-2.8zm4 1h1.9v1.9h-1.9zm2 0h1.9v1.9h-1.9zm2 0h1.9v1.9h-1.9zm4 0h1.9v1.9h-1.9zm12 0h1.9v1.9h-1.9zm2 -1h1.9v1.9h-1.9zm4 0h1.9v1.9h-1.9zm2 0h1.9v1.9h-1.9zm2 1h1.9v1.9h-1.9zm7 -1h1.9v1.9h-1.9zm3 1h1.9v1.9h-1.9zm4 -1h1.9v1.9h-1.9zm20 0h1.9v1.9h-1.9zm10 1h1.9v1.9h-1.9zm6 -1h1.9v1.9h-1.9zm-174 3h1.9v1.9h-1.9zm17 0h1.9v1.9h-1.9zm5 0h1.9v1.9h-1.9zm8 -1h1.9v1.9h-1.9zm4 0h1.9v1.9h-1.9zm2 0h1.9v1.9h-1.9zm2 0h1.9v1.9h-1.9zm4 0h1.9v1.9h-1.9zm12 0h1.9v1.9h-1.9zm2 0h1.9v1.9h-1.9zm1 0h1.9v1.9h-1.9zm3 0h2.8v2.8h-2.8zm8 0h1.9v1.9h-1.9zm2 0h1.9v1.9h-1.9zm4 0h1.9v1.9h-1.9zm2 1h2.8v2.8h-2.8zm1 -1h1.9v1.9h-1.9zm4 0h1.9v1.9h-1.9zm3 0h1.9v1.9h-1.9zm2 1h1.9v1.9h-1.9zm2 0h1.9v1.9h-1.9zm4 -1h1.9v1.9h-1.9zm2 1h1.9v1.9h-1.9zm2 -1h1.9v1.9h-1.9zm2 0h1.9v1.9h-1.9zm4 0h1.9v1.9h-1.9zm12 0h1.9v1.9h-1.9zm2 0h1.9v1.9h-1.9zm2 0h2.8v2.8h-2.8zm1 0h1.9v1.9h-1.9zm3 0h1.9v1.9h-1.9zm2 0h1.9v1.9h-1.9zm2 1h1.9v1.9h-1.9zm2 -1h1.9v1.9h-1.9zm2 1h1.9v1.9h-1.9zm4 0h1.9v1.9h-1.9zm2 -1h1.9v1.9h-1.9zm2 0h1.9v1.9h-1.9zm10 0h1.9v1.9h-1.9zm17 0h1.9v1.9h-1.9zm5 0h1.9v1.9h-1.9zm6 0h1.9v1.9h-1.9zm20 1h1.9v1.9h-1.9zm-200 1h1.9v1.9h-1.9zm22 1h1.9v1.9h-1.9zm8 0h2.8v2.8h-2.8zm8 -1h1.9v1.9h-1.9zm2 0h1.9v1.9h-1.9zm4 0h1.9v1.9h-1.9zm7 0h1.9v1.9h-1.9zm15 0h1.9v1.9h-1.9zm2 1h1.9v1.9h-1.9zm2 -1h2.8v2.8h-2.8zm2 1h1.9v1.9h-1.9zm2 0h1.9v1.9h-1.9zm2 0h1.9v1.9h-1.9zm6 -1h1.9v1.9h-1.9zm2 0h1.9v1.9h-1.9zm2 0h1.9v1.9h-1.9zm8 0h1.9v1.9h-1.9zm2 0h2.8v2.8h-2.8zm2 0h1.9v1.9h-1.9zm2 0h1.9v1.9h-1.9zm10 0h1.9v1.9h-1.9zm2 0h1.9v1.9h-1.9zm2 0h1.9v1.9h-1.9zm2 1h1.9v1.9h-1.9zm4 0h1.9v1.9h-1.9zm4 -1h1.9v1.9h-1.9zm2 1h1.9v1.9h-1.9zm2 -1h1.9v1.9h-1.9zm2 1h1.9v1.9h-1.9zm2 -1h2.8v2.8h-2.8zm2 1h1.9v1.9h-1.9zm2 -1h1.9v1.9h-1.9zm1 0h1.9v1.9h-1.9zm3 0h1.9v1.9h-1.9zm2 0h2.8v2.8h-2.8zm8 0h1.9v1.9h-1.9zm16 0h2.8v2.8h-2.8zm12 1h1.9v1.9h-1.9zm6 -1h1.9v1.9h-1.9zm12 1h1.9v1.9h-1.9zm9 -1h1.9v1.9h-1.9zm-187 2h2.8v2.8h-2.8zm24 0h1.9v1.9h-1.9zm8 0h1.9v1.9h-1.9zm12 0h1.9v1.9h-1.9zm2 0h1.9v1.9h-1.9zm2 1h1.9v1.9h-1.9zm2 -1h1.9v1.9h-1.9zm2 0h1.9v1.9h-1.9zm1 0h1.9v1.9h-1.9zm5 0h1.9v1.9h-1.9zm2 1h2.8v2.8h-2.8zm5 -1h1.9v1.9h-1.9zm7 0h1.9v1.9h-1.9zm2 0h1.9v1.9h-1.9zm2 0h1.9v1.9h-1.9zm2 0h1.9v1.9h-1.9zm2 0h1.9v1.9h-1.9zm2 1h1.9v1.9h-1.9zm2 0h1.9v1.9h-1.9zm16 -1h1.9v1.9h-1.9zm2 0h1.9v1.9h-1.9zm2 0h1.9v1.9h-1.9zm2 1h1.9v1.9h-1.9zm2 -1h1.9v1.9h-1.9zm10 0h1.9v1.9h-1.9zm2 0h1.9v1.9h-1.9zm4 1h1.9v1.9h-1.9zm6 0h2.8v2.8h-2.8zm6 0h1.9v1.9h-1.9zm6 -1h1.9v1.9h-1.9zm-168 2h1.9v1.9h-1.9zm26 0h1.9v1.9h-1.9zm21 0h1.9v1.9h-1.9zm3 0h1.9v1.9h-1.9zm12 0h1.9v1.9h-1.9zm8 0h1.9v1.9h-1.9zm2 1h1.9v1.9h-1.9zm14 0h1.9v1.9h-1.9zm3 0h1.9v1.9h-1.9zm3 0h1.9v1.9h-1.9zm2 -1h1.9v1.9h-1.9zm2 0h1.9v1.9h-1.9zm4 1h1.9v1.9h-1.9zm2 -1h1.9v1.9h-1.9zm2 1h1.9v1.9h-1.9zm1 0h1.9v1.9h-1.9zm3 0h1.9v1.9h-1.9zm4 -1h1.9v1.9h-1.9zm2 1h1.9v1.9h-1.9zm4 -1h1.9v1.9h-1.9zm2 0h1.9v1.9h-1.9zm1 1h1.9v1.9h-1.9zm3 -1h1.9v1.9h-1.9zm8 0h1.9v1.9h-1.9zm2 1h1.9v1.9h-1.9zm2 0h1.9v1.9h-1.9zm4 -1h1.9v1.9h-1.9zm2 0h1.9v1.9h-1.9zm2 1h1.9v1.9h-1.9zm2 0h1.9v1.9h-1.9zm2 0h2.8v2.8h-2.8zm4 -1h2.8v2.8h-2.8zm4 1h1.9v1.9h-1.9zm10 -1h1.9v1.9h-1.9zm18 0h1.9v1.9h-1.9zm14 0h1.9v1.9h-1.9zm18 0h1.9v1.9h-1.9zm-192 3h1.9v1.9h-1.9zm24 -1h1.9v1.9h-1.9zm12 0h1.9v1.9h-1.9zm4 0h2.8v2.8h-2.8zm2 0h1.9v1.9h-1.9zm6 0h1.9v1.9h-1.9zm8 0h1.9v1.9h-1.9zm2 1h1.9v1.9h-1.9zm2 0h1.9v1.9h-1.9zm5 0h1.9v1.9h-1.9zm5 0h1.9v1.9h-1.9zm4 -1h1.9v1.9h-1.9zm2 1h1.9v1.9h-1.9zm2 -1h1.9v1.9h-1.9zm2 1h1.9v1.9h-1.9zm4 0h1.9v1.9h-1.9zm4 -1h1.9v1.9h-1.9zm2 0h1.9v1.9h-1.9zm2 1h1.9v1.9h-1.9zm2 -1h1.9v1.9h-1.9zm2 0h1.9v1.9h-1.9zm2 0h1.9v1.9h-1.9zm2 1h1.9v1.9h-1.9zm8 0h1.9v1.9h-1.9zm8 0h1.9v1.9h-1.9zm2 -1h1.9v1.9h-1.9zm8 1h1.9v1.9h-1.9zm1 -1h1.9v1.9h-1.9zm7 0h1.9v1.9h-1.9zm2 0h1.9v1.9h-1.9zm18 0h1.9v1.9h-1.9zm8 1h1.9v1.9h-1.9zm14 0h1.9v1.9h-1.9zm-212 1h2.8v2.8h-2.8zm58 1h1.9v1.9h-1.9zm8 0h2.8v2.8h-2.8zm4 0h1.9v1.9h-1.9zm8 0h1.9v1.9h-1.9zm2 -1h1.9v1.9h-1.9zm2 0h1.9v1.9h-1.9zm4 1h1.9v1.9h-1.9zm1 -1h1.9v1.9h-1.9zm5 0h1.9v1.9h-1.9zm10 0h1.9v1.9h-1.9zm1 1h1.9v1.9h-1.9zm4 -1h2.8v2.8h-2.8zm4 1h1.9v1.9h-1.9zm2 -1h1.9v1.9h-1.9zm3 0h1.9v1.9h-1.9zm8 1h1.9v1.9h-1.9zm2 -1h1.9v1.9h-1.9zm4 0h1.9v1.9h-1.9zm6 0h1.9v1.9h-1.9zm1 1h1.9v1.9h-1.9zm3 0h1.9v1.9h-1.9zm2 -1h1.9v1.9h-1.9zm1 0h1.9v1.9h-1.9zm5 0h2.8v2.8h-2.8zm2 1h1.9v1.9h-1.9zm1 -1h1.9v1.9h-1.9zm5 1h1.9v1.9h-1.9zm2 0h1.9v1.9h-1.9zm2 -1h1.9v1.9h-1.9zm6 1h1.9v1.9h-1.9zm4 0h1.9v1.9h-1.9zm10 -1h1.9v1.9h-1.9zm2 0h1.9v1.9h-1.9zm16 1h1.9v1.9h-1.9zm4 0h1.9v1.9h-1.9zm-164 1h1.9v1.9h-1.9zm10 1h1.9v1.9h-1.9zm2 0h1.9v1.9h-1.9zm8 0h1.9v1.9h-1.9zm3 -1h1.9v1.9h-1.9zm3 1h1.9v1.9h-1.9zm4 -1h1.9v1.9h-1.9zm10 1h1.9v1.9h-1.9zm1 0h1.9v1.9h-1.9zm3 -1h1.9v1.9h-1.9zm4 0h1.9v1.9h-1.9zm2 1h1.9v1.9h-1.9zm2 -1h1.9v1.9h-1.9zm4 1h1.9v1.9h-1.9zm2 -1h1.9v1.9h-1.9zm1 1h1.9v1.9h-1.9zm3 -1h1.9v1.9h-1.9zm2 1h1.9v1.9h-1.9zm7 0h1.9v1.9h-1.9zm5 0h1.9v1.9h-1.9zm6 -1h1.9v1.9h-1.9zm2 0h1.9v1.9h-1.9zm6 0h1.9v1.9h-1.9zm2 0h1.9v1.9h-1.9zm2 1h1.9v1.9h-1.9zm10 0h1.9v1.9h-1.9zm2 0h1.9v1.9h-1.9zm2 -1h1.9v1.9h-1.9zm2 1h1.9v1.9h-1.9zm2 -1h1.9v1.9h-1.9zm1 0h1.9v1.9h-1.9zm3 1h1.9v1.9h-1.9zm8 -1h1.9v1.9h-1.9zm30 1h1.9v1.9h-1.9zm12 -1h1.9v1.9h-1.9zm10 0h1.9v1.9h-1.9zm4 0h1.9v1.9h-1.9zm-194 3h1.9v1.9h-1.9zm32 0h1.9v1.9h-1.9zm1 -1h1.9v1.9h-1.9zm3 1h1.9v1.9h-1.9zm2 -1h1.9v1.9h-1.9zm4 0h1.9v1.9h-1.9zm2 1h2.8v2.8h-2.8zm8 -1h1.9v1.9h-1.9zm16 1h1.9v1.9h-1.9zm9 -1h1.9v1.9h-1.9zm5 0h1.9v1.9h-1.9zm4 1h1.9v1.9h-1.9zm1 -1h1.9v1.9h-1.9zm5 0h1.9v1.9h-1.9zm2 0h1.9v1.9h-1.9zm2 0h1.9v1.9h-1.9zm4 1h1.9v1.9h-1.9zm6 0h1.9v1.9h-1.9zm4 0h1.9v1.9h-1.9zm2 -1h1.9v1.9h-1.9zm4 0h1.9v1.9h-1.9zm6 0h1.9v1.9h-1.9zm6 1h1.9v1.9h-1.9zm4 -1h1.9v1.9h-1.9zm6 0h1.9v1.9h-1.9zm4 0h1.9v1.9h-1.9zm6 1h1.9v1.9h-1.9zm4 -1h1.9v1.9h-1.9zm2 1h1.9v1.9h-1.9zm2 0h1.9v1.9h-1.9zm2 0h1.9v1.9h-1.9zm8 -1h1.9v1.9h-1.9zm26 1h1.9v1.9h-1.9zm-196 2h1.9v1.9h-1.9zm6 -1h2.8v2.8h-2.8zm50 0h1.9v1.9h-1.9zm2 0h1.9v1.9h-1.9zm6 1h1.9v1.9h-1.9zm6 -1h1.9v1.9h-1.9zm4 0h2.8v2.8h-2.8zm2 0h1.9v1.9h-1.9zm2 1h1.9v1.9h-1.9zm14 0h1.9v1.9h-1.9zm6 -1h1.9v1.9h-1.9zm4 0h1.9v1.9h-1.9zm6 1h1.9v1.9h-1.9zm1 -1h1.9v1.9h-1.9zm2 1h1.9v1.9h-1.9zm5 -1h1.9v1.9h-1.9zm12 0h1.9v1.9h-1.9zm4 0h1.9v1.9h-1.9zm4 0h1.9v1.9h-1.9zm6 1h1.9v1.9h-1.9zm2 -1h1.9v1.9h-1.9zm10 1h1.9v1.9h-1.9zm24 -1h1.9v1.9h-1.9zm41 0h1.9v1.9h-1.9zm-223 2h1.9v1.9h-1.9zm28 1h1.9v1.9h-1.9zm16 -1h1.9v1.9h-1.9zm10 1h1.9v1.9h-1.9zm4 -1h1.9v1.9h-1.9zm6 0h1.9v1.9h-1.9zm12 0h1.9v1.9h-1.9zm2 0h1.9v1.9h-1.9zm2 0h1.9v1.9h-1.9zm4 0h1.9v1.9h-1.9zm8 0h1.9v1.9h-1.9zm2 0h1.9v1.9h-1.9zm4 1h1.9v1.9h-1.9zm2 -1h1.9v1.9h-1.9zm10 0h1.9v1.9h-1.9zm4 0h1.9v1.9h-1.9zm2 0h1.9v1.9h-1.9zm12 0h1.9v1.9h-1.9zm2 0h1.9v1.9h-1.9zm2 1h1.9v1.9h-1.9zm2 0h1.9v1.9h-1.9zm2 0h1.9v1.9h-1.9zm4 -1h1.9v1.9h-1.9zm4 0h1.9v1.9h-1.9zm8 0h1.9v1.9h-1.9zm4 0h1.9v1.9h-1.9zm-116 2h1.9v1.9h-1.9zm6 0h1.9v1.9h-1.9zm10 0h1.9v1.9h-1.9zm2 1h1.9v1.9h-1.9zm14 0h1.9v1.9h-1.9zm18 -1h1.9v1.9h-1.9zm4 0h1.9v1.9h-1.9zm2 0h1.9v1.9h-1.9zm10 0h1.9v1.9h-1.9zm3 0h1.9v1.9h-1.9zm3 1h1.9v1.9h-1.9zm2 0h1.9v1.9h-1.9zm2 0h1.9v1.9h-1.9zm8 0h1.9v1.9h-1.9zm6 -1h1.9v1.9h-1.9zm2 1h1.9v1.9h-1.9zm2 -1h1.9v1.9h-1.9zm12 0h1.9v1.9h-1.9zm8 1h1.9v1.9h-1.9zm2 0h1.9v1.9h-1.9zm22 0h1.9v1.9h-1.9zm66 -1h1.9v1.9h-1.9zm-231 3h1.9v1.9h-1.9zm27 -1h1.9v1.9h-1.9zm21 1h1.9v1.9h-1.9zm6 -1h1.9v1.9h-1.9zm5 0h1.9v1.9h-1.9zm6 1h1.9v1.9h-1.9zm2 -1h2.8v2.8h-2.8zm6 0h1.9v1.9h-1.9zm7 1h1.9v1.9h-1.9zm3 -1h1.9v1.9h-1.9zm2 0h1.9v1.9h-1.9zm6 0h1.9v1.9h-1.9zm2 1h1.9v1.9h-1.9zm8 0h1.9v1.9h-1.9zm4 0h1.9v1.9h-1.9zm4 -1h1.9v1.9h-1.9zm10 1h1.9v1.9h-1.9zm4 -1h1.9v1.9h-1.9zm4 1h1.9v1.9h-1.9zm8 -1h1.9v1.9h-1.9zm10 0h1.9v1.9h-1.9zm9 0h1.9v1.9h-1.9zm-136 2h1.9v1.9h-1.9zm6 0h1.9v1.9h-1.9zm27 1h1.9v1.9h-1.9zm10 -1h1.9v1.9h-1.9zm8 1h1.9v1.9h-1.9zm12 0h1.9v1.9h-1.9zm4 -1h1.9v1.9h-1.9zm16 1h1.9v1.9h-1.9zm2 0h1.9v1.9h-1.9zm6 -1h1.9v1.9h-1.9zm6 0h1.9v1.9h-1.9zm7 1h1.9v1.9h-1.9zm25 -1h1.9v1.9h-1.9zm8 0h1.9v1.9h-1.9zm5 0h1.9v1.9h-1.9zm23 0h1.9v1.9h-1.9zm-182 2h1.9v1.9h-1.9zm56 1h1.9v1.9h-1.9zm8 -1h1.9v1.9h-1.9zm10 1h1.9v1.9h-1.9zm4 0h1.9v1.9h-1.9zm6 0h1.9v1.9h-1.9zm2 -1h1.9v1.9h-1.9zm4 1h1.9v1.9h-1.9zm2 -1h1.9v1.9h-1.9zm2 0h1.9v1.9h-1.9zm8 0h1.9v1.9h-1.9zm8 0h1.9v1.9h-1.9zm7 1h1.9v1.9h-1.9zm39 -1h1.9v1.9h-1.9zm-184 3h1.9v1.9h-1.9zm8 0h1.9v1.9h-1.9zm40 -1h1.9v1.9h-1.9zm10 0h1.9v1.9h-1.9zm8 0h1.9v1.9h-1.9zm3 0h1.9v1.9h-1.9zm5 1h1.9v1.9h-1.9zm8 0h1.9v1.9h-1.9zm8 0h1.9v1.9h-1.9zm12 0h1.9v1.9h-1.9zm6 -1h1.9v1.9h-1.9zm2 0h1.9v1.9h-1.9zm2 0h1.9v1.9h-1.9zm1 0h1.9v1.9h-1.9zm9 1h1.9v1.9h-1.9zm4 0h1.9v1.9h-1.9zm1 -1h1.9v1.9h-1.9zm5 0h1.9v1.9h-1.9zm10 1h1.9v1.9h-1.9zm2 -1h1.9v1.9h-1.9zm2 0h1.9v1.9h-1.9zm50 0h1.9v1.9h-1.9zm-172 2h1.9v1.9h-1.9zm36 0h1.9v1.9h-1.9zm24 1h1.9v1.9h-1.9zm2 -1h1.9v1.9h-1.9zm2 1h1.9v1.9h-1.9zm14 -1h1.9v1.9h-1.9zm11 0h1.9v1.9h-1.9zm7 1h1.9v1.9h-1.9zm10 -1h1.9v1.9h-1.9zm8 0h1.9v1.9h-1.9zm33 1h1.9v1.9h-1.9zm7 -1h1.9v1.9h-1.9zm48 1h1.9v1.9h-1.9zm-164 2h1.9v1.9h-1.9zm6 -1h1.9v1.9h-1.9zm8 0h1.9v1.9h-1.9zm4 0h1.9v1.9h-1.9zm28 0h1.9v1.9h-1.9zm2 0h1.9v1.9h-1.9zm14 0h1.9v1.9h-1.9zm24 0h1.9v1.9h-1.9zm18 0h1.9v1.9h-1.9zm16 1h1.9v1.9h-1.9zm4 -1h1.9v1.9h-1.9zm2 0h1.9v1.9h-1.9zm-171 3h1.9v1.9h-1.9zm37 0h1.9v1.9h-1.9zm11 -1h1.9v1.9h-1.9zm9 0h1.9v1.9h-1.9zm32 1h1.9v1.9h-1.9zm2 -1h1.9v1.9h-1.9zm14 0h2.8v2.8h-2.8zm4 0h1.9v1.9h-1.9zm4 0h1.9v1.9h-1.9zm6 1h1.9v1.9h-1.9zm2 -1h1.9v1.9h-1.9zm14 0h1.9v1.9h-1.9zm8 1h1.9v1.9h-1.9zm8 -1h1.9v1.9h-1.9zm32 0h2.8v2.8h-2.8zm-128 2h1.9v1.9h-1.9zm7 0h1.9v1.9h-1.9zm15 0h1.9v1.9h-1.9zm8 0h1.9v1.9h-1.9zm2 0h1.9v1.9h-1.9zm4 0h2.8v2.8h-2.8zm12 0h1.9v1.9h-1.9zm28 1h1.9v1.9h-1.9zm2 0h1.9v1.9h-1.9zm-80 2h1.9v1.9h-1.9zm26 -1h1.9v1.9h-1.9zm8 0h1.9v1.9h-1.9zm2 0h1.9v1.9h-1.9zm16 0h1.9v1.9h-1.9zm22 1h1.9v1.9h-1.9zm8 -1h1.9v1.9h-1.9zm90 0h1.9v1.9h-1.9zm-152 2h1.9v1.9h-1.9zm14 0h1.9v1.9h-1.9zm8 0h1.9v1.9h-1.9zm4 0h1.9v1.9h-1.9zm5 0h1.9v1.9h-1.9zm33 0h1.9v1.9h-1.9zm30 0h1.9v1.9h-1.9zm-162 3h1.9v1.9h-1.9zm2 -1h1.9v1.9h-1.9zm2 1h2.8v2.8h-2.8zm54 0h1.9v1.9h-1.9zm8 -1h1.9v1.9h-1.9zm6 1h1.9v1.9h-1.9zm6 0h1.9v1.9h-1.9zm2 -1h1.9v1.9h-1.9zm10 0h1.9v1.9h-1.9zm278 0h1.9v1.9h-1.9zm-314 2h1.9v1.9h-1.9zm24 0h1.9v1.9h-1.9zm4 0h1.9v1.9h-1.9zm26 0h1.9v1.9h-1.9zm4 1h1.9v1.9h-1.9zm20 -1h1.9v1.9h-1.9zm20 1h1.9v1.9h-1.9zm2 0h1.9v1.9h-1.9zm14 -1h1.9v1.9h-1.9zm-142 3h1.9v1.9h-1.9zm46 0h1.9v1.9h-1.9zm8 0h2.8v2.8h-2.8zm72 0h1.9v1.9h-1.9zm64 0h1.9v1.9h-1.9zm-126 1h1.9v1.9h-1.9zm-66 2h1.9v1.9h-1.9zm78 1h1.9v1.9h-1.9zm2 0h1.9v1.9h-1.9zm44 0h1.9v1.9h-1.9zm-36 1h1.9v1.9h-1.9zm6 1h1.9v1.9h-1.9zm36 0h1.9v1.9h-1.9zm38 -1h1.9v1.9h-1.9zm-120 2h1.9v1.9h-1.9zm20 0h1.9v1.9h-1.9zm-6 2h1.9v1.9h-1.9zm10 0h1.9v1.9h-1.9zm38 1h1.9v1.9h-1.9zm30 0h2.8v2.8h-2.8zm-108 2h2.8v2.8h-2.8zm46 0h1.9v1.9h-1.9zm10 0h1.9v1.9h-1.9zm20 -1h1.9v1.9h-1.9zm14 0h1.9v1.9h-1.9zm-60 2h1.9v1.9h-1.9zm1 1h1.9v1.9h-1.9zm75 -1h2.8v2.8h-2.8zm28 0h1.9v1.9h-1.9z"/>
<path fill="#1e5cf8" d="M899 725h1.9v1.9h-1.9zm-19 2h1.9v1.9h-1.9zm9 0h1.9v1.9h-1.9zm2 1h1.9v1.9h-1.9zm12 -1h1.9v1.9h-1.9zm4 0h1.9v1.9h-1.9zm-12 2h1.9v1.9h-1.9zm2 1h2.8v2.8h-2.8zm2 0h1.9v1.9h-1.9zm2 -1h2.8v2.8h-2.8zm10 1h1.9v1.9h-1.9zm-34 2h1.9v1.9h-1.9zm2 -1h1.9v1.9h-1.9zm12 0h1.9v1.9h-1.9zm4 1h1.9v1.9h-1.9zm4 -1h1.9v1.9h-1.9zm6 0h1.9v1.9h-1.9zm4 1h1.9v1.9h-1.9zm2 -1h2.8v2.8h-2.8zm-40 2h1.9v1.9h-1.9zm2 1h1.9v1.9h-1.9zm2 -1h1.9v1.9h-1.9zm6 1h1.9v1.9h-1.9zm2 0h1.9v1.9h-1.9zm14 -1h1.9v1.9h-1.9zm16 0h1.9v1.9h-1.9zm2 1h1.9v1.9h-1.9zm-38 1h1.9v1.9h-1.9zm10 0h1.9v1.9h-1.9zm12 0h1.9v1.9h-1.9zm6 0h1.9v1.9h-1.9zm-36 3h1.9v1.9h-1.9zm6 -1h1.9v1.9h-1.9zm2 0h1.9v1.9h-1.9zm4 0h1.9v1.9h-1.9zm2 0h1.9v1.9h-1.9zm8 0h1.9v1.9h-1.9zm4 1h1.9v1.9h-1.9zm4 -1h1.9v1.9h-1.9zm2 1h1.9v1.9h-1.9zm1 -1h1.9v1.9h-1.9zm3 0h1.9v1.9h-1.9zm4 0h1.9v1.9h-1.9zm4 1h1.9v1.9h-1.9zm2 0h1.9v1.9h-1.9zm2 -1h1.9v1.9h-1.9zm-32 3h1.9v1.9h-1.9zm4 -1h1.9v1.9h-1.9zm8 1h1.9v1.9h-1.9zm6 -1h1.9v1.9h-1.9zm2 1h1.9v1.9h-1.9zm2 -1h1.9v1.9h-1.9zm4 0h1.9v1.9h-1.9zm-32 2h1.9v1.9h-1.9zm2 0h1.9v1.9h-1.9zm1 0h1.9v1.9h-1.9zm9 0h1.9v1.9h-1.9zm2 0h1.9v1.9h-1.9zm3 1h1.9v1.9h-1.9zm3 -1h1.9v1.9h-1.9zm-16 3h1.9v1.9h-1.9zm8 0h1.9v1.9h-1.9zm4 0h1.9v1.9h-1.9zm3 -1h1.9v1.9h-1.9zm3 0h1.9v1.9h-1.9zm2 0h2.8v2.8h-2.8zm2 1h1.9v1.9h-1.9zm6 -1h1.9v1.9h-1.9zm-30 2h1.9v1.9h-1.9zm3 0h1.9v1.9h-1.9zm15 0h1.9v1.9h-1.9zm-220 132h1.9v1.9h-1.9zm4 0h1.9v1.9h-1.9zm4 0h1.9v1.9h-1.9zm14 0h1.9v1.9h-1.9zm-38 3h1.9v1.9h-1.9zm2 0h1.9v1.9h-1.9zm2 0h1.9v1.9h-1.9zm4 -1h2.8v2.8h-2.8zm4 0h1.9v1.9h-1.9zm2 1h1.9v1.9h-1.9zm2 -1h1.9v1.9h-1.9zm6 1h1.9v1.9h-1.9zm2 -1h1.9v1.9h-1.9zm2 1h1.9v1.9h-1.9zm2 -1h1.9v1.9h-1.9zm6 0h1.9v1.9h-1.9zm2 0h1.9v1.9h-1.9zm2 1h1.9v1.9h-1.9zm12 -1h1.9v1.9h-1.9zm-56 2h1.9v1.9h-1.9zm3 1h1.9v1.9h-1.9zm3 -1h1.9v1.9h-1.9zm8 1h1.9v1.9h-1.9zm5 0h1.9v1.9h-1.9zm3 0h1.9v1.9h-1.9zm8 -1h1.9v1.9h-1.9zm6 0h1.9v1.9h-1.9zm2 1h1.9v1.9h-1.9zm4 -1h1.9v1.9h-1.9zm2 0h1.9v1.9h-1.9zm2 0h1.9v1.9h-1.9zm2 1h1.9v1.9h-1.9zm2 0h1.9v1.9h-1.9zm6 0h1.9v1.9h-1.9zm2 0h1.9v1.9h-1.9zm-68 1h1.9v1.9h-1.9zm2 0h1.9v1.9h-1.9zm4 0h2.8v2.8h-2.8zm4 1h1.9v1.9h-1.9zm2 -1h1.9v1.9h-1.9zm2 0h1.9v1.9h-1.9zm4 1h1.9v1.9h-1.9zm8 -1h1.9v1.9h-1.9zm6 0h2v2h-2zm4 1h2v2h-2zm2 -1h2v2h-2zm6 0h2v2h-2zm6 0h2v2h-2zm2 0h2v2h-2zm8 1h1.9v1.9h-1.9zm2 -1h1.9v1.9h-1.9zm1 0h1.9v1.9h-1.9zm3 0h1.9v1.9h-1.9zm2 1h1.9v1.9h-1.9zm4 0h1.9v1.9h-1.9zm-66 2h1.9v1.9h-1.9zm4 -1h1.9v1.9h-1.9zm1 1h1.9v1.9h-1.9zm59 -1h1.9v1.9h-1.9zm4 0h1.9v1.9h-1.9zm2 1h1.9v1.9h-1.9zm2 0h1.9v1.9h-1.9zm2 0h1.9v1.9h-1.9zm2 0h2.8v2.8h-2.8zm2 -1h2.8v2.8h-2.8zm-78 3h1.9v1.9h-1.9zm64 -1h2v2h-2zm4 1h1.9v1.9h-1.9zm2 0h1.9v1.9h-1.9zm4 -1h1.9v1.9h-1.9zm2 1h1.9v1.9h-1.9zm-94 1h2.8v2.8h-2.8zm10 0h1.9v1.9h-1.9zm2 0h1.9v1.9h-1.9zm2 0h1.9v1.9h-1.9zm1 0h2v2h-2zm8 0h2v2h-2zm3 0h2v2h-2zm56 1h2v2h-2zm4 0h2v2h-2zm6 -1h1.9v1.9h-1.9zm-94 3h1.9v1.9h-1.9zm4 -1h1.9v1.9h-1.9zm2 0h1.9v1.9h-1.9zm4 1h1.9v1.9h-1.9zm82 0h2v2h-2zm2 0h2v2h-2zm6 0h1.9v1.9h-1.9zm6 0h1.9v1.9h-1.9zm2 0h1.9v1.9h-1.9zm-110 1h2.8v2.8h-2.8zm6 1h1.9v1.9h-1.9zm6 0h1.9v1.9h-1.9zm94 0h1.9v1.9h-1.9zm6 -1h1.9v1.9h-1.9zm-112 3h1.9v1.9h-1.9zm2 0h1.9v1.9h-1.9zm6 0h1.9v1.9h-1.9zm10 -1h2v2h-2zm78 0h2v2h-2zm4 0h2v2h-2zm1 0h2v2h-2zm7 0h1.9v1.9h-1.9zm2 0h1.9v1.9h-1.9zm3 0h1.9v1.9h-1.9zm-119 2h1.9v1.9h-1.9zm8 0h1.9v1.9h-1.9zm4 1h1.9v1.9h-1.9zm108 0h1.9v1.9h-1.9zm2 0h1.9v1.9h-1.9zm-116 1h1.9v1.9h-1.9zm4 1h1.9v1.9h-1.9zm2 0h2v2h-2zm106 -1h1.9v1.9h-1.9zm4 0h1.9v1.9h-1.9zm2 0h1.9v1.9h-1.9zm2 0h1.9v1.9h-1.9zm-128 2h1.9v1.9h-1.9zm4 0h1.9v1.9h-1.9zm6 0h1.9v1.9h-1.9zm6 0h2v2h-2zm96 1h2v2h-2zm12 -1h1.9v1.9h-1.9zm6 0h1.9v1.9h-1.9zm-128 2h1.9v1.9h-1.9zm4 0h1.9v1.9h-1.9zm10 0h2v2h-2zm100 1h2v2h-2zm2 -1h2v2h-2zm2 1h2v2h-2zm4 -1h1.9v1.9h-1.9zm4 0h1.9v1.9h-1.9zm-124 3h1.9v1.9h-1.9zm112 -1h2v2h-2zm8 0h1.9v1.9h-1.9zm6 0h1.9v1.9h-1.9zm-132 2h1.9v1.9h-1.9zm130 0h1.9v1.9h-1.9zm-126 3h1.9v1.9h-1.9zm2 -1h1.9v1.9h-1.9zm118 1h2v2h-2zm2 0h1.9v1.9h-1.9zm4 -1h1.9v1.9h-1.9zm-129 3h1.9v1.9h-1.9zm3 -1h1.9v1.9h-1.9zm6 1h2v2h-2zm120 0h1.9v1.9h-1.9zm-130 2h1.9v1.9h-1.9zm6 0h1.9v1.9h-1.9zm2 -1h1.9v1.9h-1.9zm124 1h1.9v1.9h-1.9zm8 0h1.9v1.9h-1.9zm-138 1h1.9v1.9h-1.9zm128 0h1.9v1.9h-1.9zm2 0h1.9v1.9h-1.9zm-127 2h1.9v1.9h-1.9zm125 0h1.9v1.9h-1.9zm2 1h1.9v1.9h-1.9zm6 0h1.9v1.9h-1.9zm2 0h1.9v1.9h-1.9zm-139 1h1.9v1.9h-1.9zm2 0h1.9v1.9h-1.9zm5 1h1.9v1.9h-1.9zm118 -1h2v2h-2zm2 0h1.9v1.9h-1.9zm2 1h1.9v1.9h-1.9zm4 -1h1.9v1.9h-1.9zm1 0h1.9v1.9h-1.9zm5 1h1.9v1.9h-1.9zm-138 1h1.9v1.9h-1.9zm2 0h1.9v1.9h-1.9zm2 0h1.9v1.9h-1.9zm1 1h1.9v1.9h-1.9zm117 -1h2v2h-2zm8 0h1.9v1.9h-1.9zm2 0h1.9v1.9h-1.9zm-134 2h1.9v1.9h-1.9zm4 1h1.9v1.9h-1.9zm2 0h1.9v1.9h-1.9zm2 -1h1.9v1.9h-1.9zm2 0h1.9v1.9h-1.9zm122 0h1.9v1.9h-1.9zm2 1h1.9v1.9h-1.9zm4 0h2.8v2.8h-2.8zm-134 2h1.9v1.9h-1.9zm2 -1h1.9v1.9h-1.9zm2 0h1.9v1.9h-1.9zm4 0h1.9v1.9h-1.9zm110 1h2v2h-2zm6 0h1.9v1.9h-1.9zm6 -1h2.8v2.8h-2.8zm-132 3h1.9v1.9h-1.9zm6 -1h1.9v1.9h-1.9zm4 1h1.9v1.9h-1.9zm126 0h1.9v1.9h-1.9zm-132 1h1.9v1.9h-1.9zm2 1h1.9v1.9h-1.9zm3 0h1.9v1.9h-1.9zm5 -1h2v2h-2zm110 0h1.9v1.9h-1.9zm6 1h1.9v1.9h-1.9zm8 0h1.9v1.9h-1.9zm-132 2h1.9v1.9h-1.9zm4 -1h1.9v1.9h-1.9zm2 0h1.9v1.9h-1.9zm111 0h1.9v1.9h-1.9zm5 1h1.9v1.9h-1.9zm2 0h1.9v1.9h-1.9zm3 0h1.9v1.9h-1.9zm-115 1h2v2h-2zm98 0h2v2h-2zm6 0h1.9v1.9h-1.9zm2 0h1.9v1.9h-1.9zm4 0h1.9v1.9h-1.9zm2 1h1.9v1.9h-1.9zm2 0h1.9v1.9h-1.9zm-120 2h1.9v1.9h-1.9zm4 -1h1.9v1.9h-1.9zm2 0h1.9v1.9h-1.9zm100 1h2v2h-2zm4 -1h1.9v1.9h-1.9zm2 1h1.9v1.9h-1.9zm2 -1h1.9v1.9h-1.9zm4 1h1.9v1.9h-1.9zm-126 1h1.9v1.9h-1.9zm2 0h1.9v1.9h-1.9zm8 0h1.9v1.9h-1.9zm10 1h2v2h-2zm4 -1h2v2h-2zm84 1h2v2h-2zm4 -1h2v2h-2zm8 0h1.9v1.9h-1.9zm2 1h1.9v1.9h-1.9zm2 0h1.9v1.9h-1.9zm2 -1h1.9v1.9h-1.9zm-116 3h1.9v1.9h-1.9zm6 0h1.9v1.9h-1.9zm8 -1h2v2h-2zm90 0h1.9v1.9h-1.9zm1 0h1.9v1.9h-1.9zm-111 3h1.9v1.9h-1.9zm4 0h1.9v1.9h-1.9zm6 -1h1.9v1.9h-1.9zm10 0h2v2h-2zm83 1h1.9v1.9h-1.9zm9 0h1.9v1.9h-1.9zm2 -1h1.9v1.9h-1.9zm4 1h1.9v1.9h-1.9zm2 -1h1.9v1.9h-1.9zm-104 2h1.9v1.9h-1.9zm74 1h2v2h-2zm9 0h2v2h-2zm7 -1h1.9v1.9h-1.9zm2 0h1.9v1.9h-1.9zm2 0h1.9v1.9h-1.9zm-102 3h1.9v1.9h-1.9zm6 -1h1.9v1.9h-1.9zm2 0h1.9v1.9h-1.9zm2 1h1.9v1.9h-1.9zm10 -1h2v2h-2zm1 1h2v2h-2zm67 -1h2v2h-2zm4 0h1.9v1.9h-1.9zm12 1h1.9v1.9h-1.9zm2 0h1.9v1.9h-1.9zm1 -1h1.9v1.9h-1.9zm-107 2h1.9v1.9h-1.9zm2 0h1.9v1.9h-1.9zm4 0h1.9v1.9h-1.9zm2 1h1.9v1.9h-1.9zm2 -1h1.9v1.9h-1.9zm4 1h1.9v1.9h-1.9zm70 -1h2v2h-2zm6 1h1.9v1.9h-1.9zm4 -1h1.9v1.9h-1.9zm2 0h1.9v1.9h-1.9zm2 0h1.9v1.9h-1.9zm6 0h1.9v1.9h-1.9zm6 1h1.9v1.9h-1.9zm2 0h1.9v1.9h-1.9zm-110 1h1.9v1.9h-1.9zm2 0h1.9v1.9h-1.9zm2 0h1.9v1.9h-1.9zm2 1h1.9v1.9h-1.9zm2 0h1.9v1.9h-1.9zm2 0h1.9v1.9h-1.9zm2 -1h1.9v1.9h-1.9zm2 0h1.9v1.9h-1.9zm8 1h1.9v1.9h-1.9zm42 -1h2v2h-2zm2 1h2v2h-2zm6 0h2v2h-2zm2 -1h2v2h-2zm8 0h1.9v1.9h-1.9zm6 0h1.9v1.9h-1.9zm2 0h1.9v1.9h-1.9zm2 1h1.9v1.9h-1.9zm2 -1h1.9v1.9h-1.9zm-84 3h1.9v1.9h-1.9zm2 -1h1.9v1.9h-1.9zm2 0h1.9v1.9h-1.9zm2 1h1.9v1.9h-1.9zm4 -1h1.9v1.9h-1.9zm6 1h1.9v1.9h-1.9zm6 0h2v2h-2zm12 -1h2v2h-2zm2 0h2v2h-2zm10 1h2v2h-2zm2 0h2v2h-2zm8 -1h2v2h-2zm12 0h1.9v1.9h-1.9zm5 0h1.9v1.9h-1.9zm5 0h1.9v1.9h-1.9zm2 0h1.9v1.9h-1.9zm4 0h1.9v1.9h-1.9zm8 0h1.9v1.9h-1.9zm-100 2h1.9v1.9h-1.9zm8 1h1.9v1.9h-1.9zm4 -1h1.9v1.9h-1.9zm2 0h1.9v1.9h-1.9zm8 0h1.9v1.9h-1.9zm2 1h1.9v1.9h-1.9zm14 -1h2v2h-2zm4 0h2v2h-2zm12 1h2v2h-2zm2 -1h2v2h-2zm8 0h2v2h-2zm10 1h1.9v1.9h-1.9zm8 -1h1.9v1.9h-1.9zm4 0h1.9v1.9h-1.9zm4 0h1.9v1.9h-1.9zm10 0h1.9v1.9h-1.9zm-98 2h1.9v1.9h-1.9zm4 0h1.9v1.9h-1.9zm6 1h1.9v1.9h-1.9zm6 -1h1.9v1.9h-1.9zm2 0h1.9v1.9h-1.9zm4 0h1.9v1.9h-1.9zm2 1h1.9v1.9h-1.9zm1 -1h1.9v1.9h-1.9zm9 0h1.9v1.9h-1.9zm4 0h1.9v1.9h-1.9zm4 1h1.9v1.9h-1.9zm1 -1h2v2h-2zm9 1h2v2h-2zm10 0h1.9v1.9h-1.9zm2 -1h1.9v1.9h-1.9zm2 0h1.9v1.9h-1.9zm2 0h1.9v1.9h-1.9zm4 0h1.9v1.9h-1.9zm6 1h1.9v1.9h-1.9zm8 -1h1.9v1.9h-1.9zm4 1h1.9v1.9h-1.9zm4 0h1.9v1.9h-1.9zm-88 1h2.8v2.8h-2.8zm4 0h1.9v1.9h-1.9zm4 1h1.9v1.9h-1.9zm2 0h1.9v1.9h-1.9zm2 -1h1.9v1.9h-1.9zm2 1h1.9v1.9h-1.9zm10 0h1.9v1.9h-1.9zm4 0h1.9v1.9h-1.9zm6 -1h1.9v1.9h-1.9zm5 1h1.9v1.9h-1.9zm9 -1h1.9v1.9h-1.9zm8 0h1.9v1.9h-1.9zm6 1h1.9v1.9h-1.9zm4 0h1.9v1.9h-1.9zm2 -1h1.9v1.9h-1.9zm2 0h1.9v1.9h-1.9zm3 0h1.9v1.9h-1.9zm3 0h1.9v1.9h-1.9zm2 1h1.9v1.9h-1.9zm6 0h1.9v1.9h-1.9zm4 -1h1.9v1.9h-1.9zm-90 3h1.9v1.9h-1.9zm2 -1h1.9v1.9h-1.9zm11 0h1.9v1.9h-1.9zm3 0h1.9v1.9h-1.9zm2 1h1.9v1.9h-1.9zm2 0h1.9v1.9h-1.9zm2 0h1.9v1.9h-1.9zm4 -1h1.9v1.9h-1.9zm2 0h1.9v1.9h-1.9zm4 1h1.9v1.9h-1.9zm8 -1h1.9v1.9h-1.9zm2 0h1.9v1.9h-1.9zm4 1h1.9v1.9h-1.9zm2 0h1.9v1.9h-1.9zm2 0h1.9v1.9h-1.9zm2 0h1.9v1.9h-1.9zm8 0h1.9v1.9h-1.9zm2 -1h1.9v1.9h-1.9zm2 0h1.9v1.9h-1.9zm2 1h1.9v1.9h-1.9zm2 0h1.9v1.9h-1.9zm8 0h1.9v1.9h-1.9zm8 -1h1.9v1.9h-1.9zm-84 2h1.9v1.9h-1.9zm8 0h1.9v1.9h-1.9zm12 0h1.9v1.9h-1.9zm2 0h1.9v1.9h-1.9zm2 0h1.9v1.9h-1.9zm4 1h1.9v1.9h-1.9zm2 0h1.9v1.9h-1.9zm2 0h1.9v1.9h-1.9zm22 0h1.9v1.9h-1.9zm6 0h1.9v1.9h-1.9zm4 0h1.9v1.9h-1.9zm2 -1h1.9v1.9h-1.9zm2 0h1.9v1.9h-1.9zm4 0h1.9v1.9h-1.9zm3 0h1.9v1.9h-1.9zm3 1h1.9v1.9h-1.9zm2 -1h1.9v1.9h-1.9zm-76 2h1.9v1.9h-1.9zm10 1h1.9v1.9h-1.9zm2 0h1.9v1.9h-1.9zm2 -1h1.9v1.9h-1.9zm4 0h1.9v1.9h-1.9zm8 0h1.9v1.9h-1.9zm2 1h1.9v1.9h-1.9zm2 -1h1.9v1.9h-1.9zm2 0h1.9v1.9h-1.9zm2 1h1.9v1.9h-1.9zm2 -1h1.9v1.9h-1.9zm2 0h1.9v1.9h-1.9zm4 1h1.9v1.9h-1.9zm6 -1h1.9v1.9h-1.9zm3 1h1.9v1.9h-1.9zm3 -1h1.9v1.9h-1.9zm4 0h1.9v1.9h-1.9zm8 0h1.9v1.9h-1.9zm9 1h1.9v1.9h-1.9zm-73 2h1.9v1.9h-1.9zm14 -1h1.9v1.9h-1.9zm2 0h1.9v1.9h-1.9zm4 0h1.9v1.9h-1.9zm2 0h1.9v1.9h-1.9zm4 0h1.9v1.9h-1.9zm4 0h1.9v1.9h-1.9zm8 0h1.9v1.9h-1.9zm4 0h1.9v1.9h-1.9zm2 1h1.9v1.9h-1.9zm12 -1h1.9v1.9h-1.9zm2 0h1.9v1.9h-1.9zm2 1h1.9v1.9h-1.9zm6 0h1.9v1.9h-1.9zm6 0h1.9v1.9h-1.9zm4 -1h1.9v1.9h-1.9zm-74 2h1.9v1.9h-1.9zm22 0h1.9v1.9h-1.9zm2 0h1.9v1.9h-1.9zm2 1h1.9v1.9h-1.9zm16 0h1.9v1.9h-1.9zm4 -1h1.9v1.9h-1.9zm2 0h1.9v1.9h-1.9zm4 0h1.9v1.9h-1.9zm4 0h1.9v1.9h-1.9zm8 1h1.9v1.9h-1.9zm-56 1h1.9v1.9h-1.9zm20 0h1.9v1.9h-1.9zm2 0h1.9v1.9h-1.9zm2 1h1.9v1.9h-1.9zm2 0h1.9v1.9h-1.9zm2 -1h1.9v1.9h-1.9zm4 0h1.9v1.9h-1.9zm2 1h1.9v1.9h-1.9zm4 0h1.9v1.9h-1.9zm5 0h1.9v1.9h-1.9zm3 -1h1.9v1.9h-1.9zm4 1h1.9v1.9h-1.9zm16 0h1.9v1.9h-1.9zm-62 2h1.9v1.9h-1.9zm8 -1h1.9v1.9h-1.9zm2 0h1.9v1.9h-1.9zm6 0h1.9v1.9h-1.9zm2 1h1.9v1.9h-1.9zm4 -1h1.9v1.9h-1.9zm6 1h1.9v1.9h-1.9zm6 -1h1.9v1.9h-1.9zm2 0h1.9v1.9h-1.9zm1 0h1.9v1.9h-1.9zm5 0h1.9v1.9h-1.9zm2 0h1.9v1.9h-1.9zm2 0h1.9v1.9h-1.9zm6 0h1.9v1.9h-1.9zm4 1h1.9v1.9h-1.9zm-58 1h1.9v1.9h-1.9zm22 0h2.8v2.8h-2.8zm2 0h1.9v1.9h-1.9zm6 0h1.9v1.9h-1.9zm2 1h1.9v1.9h-1.9zm6 0h1.9v1.9h-1.9zm2 -1h2.8v2.8h-2.8zm2 1h1.9v1.9h-1.9zm4 -1h1.9v1.9h-1.9zm2 1h1.9v1.9h-1.9zm2 0h1.9v1.9h-1.9zm-52 2h1.9v1.9h-1.9zm24 0h1.9v1.9h-1.9zm10 -1h1.9v1.9h-1.9zm8 1h1.9v1.9h-1.9zm6 0h1.9v1.9h-1.9zm10 -1h1.9v1.9h-1.9zm2 0h1.9v1.9h-1.9zm-46 3h1.9v1.9h-1.9zm5 -1h1.9v1.9h-1.9zm5 0h1.9v1.9h-1.9zm10 0h1.9v1.9h-1.9zm4 0h1.9v1.9h-1.9zm2 1h1.9v1.9h-1.9zm-18 2h1.9v1.9h-1.9zm6 0h1.9v1.9h-1.9zm14 -1h1.9v1.9h-1.9zm2 0h1.9v1.9h-1.9zm-2 3h1.9v1.9h-1.9zm6 -1h1.9v1.9h-1.9zm-14 2h1.9v1.9h-1.9z"/>
<path fill="#22b4f0" d="M885 734h1.9v1.9h-1.9zm10 0h1.9v1.9h-1.9zm4 -1h1.9v1.9h-1.9zm2 1h1.9v1.9h-1.9zm-4 1h1.9v1.9h-1.9zm4 0h1.9v1.9h-1.9zm-14 3h1.9v1.9h-1.9zm-205 143h1.9v1.9h-1.9zm3 0h1.9v1.9h-1.9zm4 1h1.9v1.9h-1.9zm2 -1h1.9v1.9h-1.9zm-16 3h2v2h-2zm14 0h2v2h-2zm5 0h2v2h-2zm11 -1h1.9v1.9h-1.9zm-40 2h2v2h-2zm6 0h2v2h-2zm10 1h2v2h-2zm16 -1h2v2h-2zm4 1h2v2h-2zm10 0h1.9v1.9h-1.9zm4 -1h1.9v1.9h-1.9zm-58 3h2v2h-2zm2 0h2v2h-2zm2 -1h2v2h-2zm4 1h2v2h-2zm4 -1h2v2h-2zm6 0h2v2h-2zm2 0h2v2h-2zm12 0h2v2h-2zm2 1h2v2h-2zm2 -1h2v2h-2zm20 1h2v2h-2zm-60 1h2v2h-2zm4 1h2v2h-2zm14 0h2v2h-2zm10 -1h2v2h-2zm13 1h2v2h-2zm15 0h2v2h-2zm4 -1h2v2h-2zm2 1h2v2h-2zm8 0h2v2h-2zm2 -1h1.9v1.9h-1.9zm-84 3h1.9v1.9h-1.9zm6 0h2v2h-2zm4 -1h2v2h-2zm4 0h2v2h-2zm2 1h2v2h-2zm2 -1h2v2h-2zm2 0h2v2h-2zm4 1h2v2h-2zm50 0h2v2h-2zm-68 1h2v2h-2zm2 1h2v2h-2zm6 0h2v2h-2zm64 -1h2v2h-2zm4 0h2v2h-2zm2 0h2v2h-2zm2 1h2v2h-2zm-82 1h2v2h-2zm2 1h2v2h-2zm4 0h2v2h-2zm8 -1h2v2h-2zm55 1h2v2h-2zm11 -1h2v2h-2zm-86 3h2v2h-2zm2 -1h2v2h-2zm8 0h2v2h-2zm4 0h2v2h-2zm2 1h2v2h-2zm82 -1h2v2h-2zm-98 2h2v2h-2zm4 0h2v2h-2zm8 0h2v2h-2zm77 0h2v2h-2zm9 1h2v2h-2zm-103 2h2v2h-2zm11 -1h2v2h-2zm2 0h2v2h-2zm93 0h2v2h-2zm3 1h1.9v1.9h-1.9zm-112 1h1.9v1.9h-1.9zm4 0h2v2h-2zm1 0h2v2h-2zm7 1h2v2h-2zm86 -1h2v2h-2zm6 1h2v2h-2zm-104 1h1.9v1.9h-1.9zm2 1h2v2h-2zm2 0h2v2h-2zm4 -1h2v2h-2zm96 2h2v2h-2zm6 2h2v2h-2zm2 0h2v2h-2zm-110 3h2v2h-2zm4 0h2v2h-2zm2 0h2v2h-2zm6 0h2v2h-2zm92 -1h2v2h-2zm4 0h2v2h-2zm4 1h2v2h-2zm4 -1h1.9v1.9h-1.9zm-118 2h2v2h-2zm114 0h2v2h-2zm3 0h1.9v1.9h-1.9zm-119 2h1.9v1.9h-1.9zm2 0h2v2h-2zm4 1h2v2h-2zm106 0h2v2h-2zm2 -1h2v2h-2zm2 1h2v2h-2zm2 -1h2v2h-2zm-119 2h1.9v1.9h-1.9zm119 0h2v2h-2zm-116 3h2v2h-2zm2 0h2v2h-2zm112 -1h2v2h-2zm-112 2h2v2h-2zm2 0h2v2h-2zm2 1h2v2h-2zm98 0h2v2h-2zm-103 1h2v2h-2zm4 0h2v2h-2zm101 0h2v2h-2zm6 1h2v2h-2zm-108 1h2v2h-2zm8 0h2v2h-2zm94 0h2v2h-2zm8 0h2v2h-2zm2 1h2v2h-2zm-110 2h2v2h-2zm2 -1h2v2h-2zm6 1h2v2h-2zm94 -1h2v2h-2zm-98 2h2v2h-2zm2 0h2v2h-2zm2 0h2v2h-2zm81 0h2v2h-2zm17 0h2v2h-2zm-104 2h2v2h-2zm2 0h2v2h-2zm2 0h2v2h-2zm-4 2h1.9v1.9h-1.9zm4 0h2v2h-2zm2 1h2v2h-2zm98 -1h1.9v1.9h-1.9zm-96 2h2v2h-2zm6 1h2v2h-2zm4 -1h2v2h-2zm68 1h2v2h-2zm10 -1h2v2h-2zm-96 2h1.9v1.9h-1.9zm3 1h1.9v1.9h-1.9zm3 -1h2v2h-2zm4 1h2v2h-2zm6 0h2v2h-2zm64 0h2v2h-2zm13 0h2v2h-2zm-75 1h2v2h-2zm11 0h2v2h-2zm61 0h2v2h-2zm2 1h2v2h-2zm1 -1h2v2h-2zm7 1h1.9v1.9h-1.9zm-80 2h2v2h-2zm18 0h2v2h-2zm18 -1h2v2h-2zm12 0h2v2h-2zm12 0h2v2h-2zm2 0h2v2h-2zm10 1h2v2h-2zm8 -1h1.9v1.9h-1.9zm-90 2h1.9v1.9h-1.9zm6 1h2v2h-2zm10 0h2v2h-2zm8 -1h2v2h-2zm4 0h2v2h-2zm26 0h2v2h-2zm4 0h2v2h-2zm18 0h2v2h-2zm8 0h1.9v1.9h-1.9zm-78 2h1.9v1.9h-1.9zm2 1h2v2h-2zm14 -1h2v2h-2zm2 0h2v2h-2zm2 1h2v2h-2zm4 -1h2v2h-2zm4 0h2v2h-2zm4 1h2v2h-2zm2 0h2v2h-2zm6 0h2v2h-2zm4 -1h2v2h-2zm14 1h2v2h-2zm10 0h2v2h-2zm2 -1h2v2h-2zm3 1h1.9v1.9h-1.9zm-69 1h1.9v1.9h-1.9zm4 0h2v2h-2zm6 1h2v2h-2zm2 0h2v2h-2zm10 -1h2v2h-2zm6 0h2v2h-2zm8 0h2v2h-2zm10 0h2v2h-2zm4 1h2v2h-2zm4 -1h2v2h-2zm2 0h2v2h-2zm-58 3h1.9v1.9h-1.9zm4 -1h1.9v1.9h-1.9zm8 0h2v2h-2zm10 0h2v2h-2zm18 0h2v2h-2zm4 1h2v2h-2zm8 -1h2v2h-2zm2 0h2v2h-2zm-40 2h2v2h-2zm10 0h2v2h-2zm7 0h2v2h-2zm3 1h2v2h-2zm12 -1h2v2h-2zm1 1h2v2h-2zm7 -1h2v2h-2zm-38 2h1.9v1.9h-1.9zm2 1h1.9v1.9h-1.9zm2 -1h2v2h-2zm6 0h2v2h-2zm9 0h2v2h-2zm3 0h2v2h-2zm8 1h2v2h-2zm2 -1h2v2h-2zm15 0h1.9v1.9h-1.9zm-45 2h1.9v1.9h-1.9zm1 0h1.9v1.9h-1.9zm15 1h2v2h-2zm2 0h2v2h-2zm2 -1h2v2h-2zm6 1h1.9v1.9h-1.9zm18 -1h1.9v1.9h-1.9zm2 0h1.9v1.9h-1.9zm-38 2h1.9v1.9h-1.9zm19 0h1.9v1.9h-1.9zm3 1h1.9v1.9h-1.9zm6 -1h1.9v1.9h-1.9zm-8 3h1.9v1.9h-1.9zm-6 1h1.9v1.9h-1.9zm2 0h1.9v1.9h-1.9zm2 0h1.9v1.9h-1.9z"/>
<path fill="#22d6b0" d="M687 885h2v2h-2zm2 0h2v2h-2zm4 0h2v2h-2zm-14 2h2v2h-2zm2 1h2v2h-2zm2 -1h2v2h-2zm2 0h2v2h-2zm22 0h2v2h-2zm1 1h2v2h-2zm-45 1h2v2h-2zm4 1h2v2h-2zm6 -1h2v2h-2zm4 1h2v2h-2zm16 -1h2v2h-2zm14 0h2v2h-2zm-54 2h2v2h-2zm20 0h2v2h-2zm9 1h2v2h-2zm9 0h2v2h-2zm6 -1h2v2h-2zm2 0h2v2h-2zm10 1h2v2h-2zm1 -1h2v2h-2zm2 0h2v2h-2zm7 0h2v2h-2zm-68 2h2v2h-2zm6 0h2v2h-2zm3 0h2v2h-2zm9 0h2v2h-2zm4 0h2v2h-2zm14 1h2v2h-2zm10 0h2v2h-2zm18 0h2v2h-2zm1 -1h2v2h-2zm-63 2h2v2h-2zm3 1h2v2h-2zm5 -1h2v2h-2zm2 1h2v2h-2zm32 -1h2v2h-2zm14 0h2v2h-2zm8 0h2v2h-2zm6 0h2v2h-2zm-80 2h2v2h-2zm16 0h2v2h-2zm62 1h2v2h-2zm4 -1h2v2h-2zm-79 2h2v2h-2zm3 1h2v2h-2zm8 -1h2v2h-2zm58 1h2v2h-2zm2 -1h2v2h-2zm8 1h2v2h-2zm6 -1h2v2h-2zm2 1h2v2h-2zm-90 1h2v2h-2zm6 0h2v2h-2zm68 1h2v2h-2zm14 -1h2v2h-2zm6 0h2v2h-2zm-96 2h2v2h-2zm4 0h2v2h-2zm78 1h2v2h-2zm7 -1h2v2h-2zm-89 3h2v2h-2zm2 0h2v2h-2zm4 0h2v2h-2zm82 0h2v2h-2zm4 0h2v2h-2zm4 -1h2v2h-2zm-100 3h2v2h-2zm6 0h2v2h-2zm2 0h2v2h-2zm82 0h2v2h-2zm6 -1h2v2h-2zm8 0h2v2h-2zm-107 2h2v2h-2zm13 0h2v2h-2zm90 1h2v2h-2zm-96 2h2v2h-2zm92 -1h2v2h-2zm-90 3h2v2h-2zm98 -1h2v2h-2zm1 0h2v2h-2zm-105 2h2v2h-2zm92 0h2v2h-2zm8 0h2v2h-2zm2 0h2v2h-2zm-102 3h2v2h-2zm2 -1h2v2h-2zm92 0h2v2h-2zm12 0h2v2h-2zm-106 2h2v2h-2zm4 0h2v2h-2zm102 0h2v2h-2zm-102 2h2v2h-2zm14 1h2v2h-2zm74 -1h2v2h-2zm4 1h2v2h-2zm6 0h2v2h-2zm4 0h2v2h-2zm-102 2h2v2h-2zm86 -1h2v2h-2zm4 0h2v2h-2zm4 0h2v2h-2zm4 0h2v2h-2zm-88 3h2v2h-2zm72 -1h2v2h-2zm12 0h2v2h-2zm6 1h2v2h-2zm-82 2h2v2h-2zm64 -1h2v2h-2zm2 1h2v2h-2zm10 0h2v2h-2zm-86 1h2v2h-2zm10 0h2v2h-2zm72 0h2v2h-2zm6 0h2v2h-2zm2 0h2v2h-2zm-94 2h2v2h-2zm6 0h2v2h-2zm3 0h2v2h-2zm5 1h2v2h-2zm66 -1h2v2h-2zm2 0h2v2h-2zm4 1h2v2h-2zm-82 1h2v2h-2zm9 0h2v2h-2zm53 0h2v2h-2zm4 0h2v2h-2zm10 0h2v2h-2zm-76 2h2v2h-2zm2 0h2v2h-2zm14 0h2v2h-2zm14 0h2v2h-2zm48 1h2v2h-2zm2 -1h2v2h-2zm-76 2h2v2h-2zm4 0h2v2h-2zm12 0h2v2h-2zm12 0h2v2h-2zm30 0h2v2h-2zm6 1h2v2h-2zm12 -1h2v2h-2zm-69 2h2v2h-2zm5 1h2v2h-2zm40 -1h2v2h-2zm16 0h2v2h-2zm2 0h2v2h-2zm2 0h2v2h-2zm-62 2h2v2h-2zm3 1h2v2h-2zm6 0h2v2h-2zm3 0h2v2h-2zm6 0h2v2h-2zm6 -1h2v2h-2zm6 0h2v2h-2zm4 1h2v2h-2zm18 0h2v2h-2zm-36 1h2v2h-2zm4 1h2v2h-2zm6 0h2v2h-2zm4 0h2v2h-2zm6 -1h2v2h-2zm5 0h2v2h-2zm7 0h2v2h-2zm4 0h2v2h-2zm-38 2h2v2h-2zm24 0h2v2h-2zm2 1h2v2h-2zm12 -1h2v2h-2zm2 0h2v2h-2zm-39 2h2v2h-2zm7 0h2v2h-2zm6 0h2v2h-2zm10 1h2v2h-2zm2 -1h2v2h-2zm4 1h2v2h-2zm4 -1h2v2h-2z"/>
<path fill="#3ccc3c" d="M683 889h2v2h-2zm18 0h2v2h-2zm-30 2h2v2h-2zm21 0h2v2h-2zm9 0h2v2h-2zm2 0h2v2h-2zm-44 2h2v2h-2zm12 0h2v2h-2zm8 0h2v2h-2zm3 0h2v2h-2zm3 0h2v2h-2zm4 0h2v2h-2zm2 0h2v2h-2zm3 1h2v2h-2zm5 0h2v2h-2zm4 -1h2v2h-2zm4 0h2v2h-2zm2 1h2v2h-2zm4 -1h2v2h-2zm-48 2h2v2h-2zm4 0h2v2h-2zm3 0h2v2h-2zm5 0h2v2h-2zm12 1h2v2h-2zm12 -1h2v2h-2zm4 0h2v2h-2zm6 0h2v2h-2zm2 0h2v2h-2zm-44 3h2v2h-2zm2 0h2v2h-2zm11 0h2v2h-2zm7 -1h2v2h-2zm4 1h2v2h-2zm12 0h2v2h-2zm2 -1h2v2h-2zm2 0h2v2h-2zm8 0h2v2h-2zm-58 3h2v2h-2zm12 -1h2v2h-2zm4 1h2v2h-2zm2 0h2v2h-2zm2 0h2v2h-2zm4 0h2v2h-2zm4 -1h2v2h-2zm4 0h2v2h-2zm2 0h2v2h-2zm8 1h2v2h-2zm6 0h2v2h-2zm6 -1h2v2h-2zm8 0h2v2h-2zm2 1h2v2h-2zm-72 1h2v2h-2zm10 0h2v2h-2zm2 0h2v2h-2zm2 0h2v2h-2zm6 0h2v2h-2zm8 0h2v2h-2zm15 0h2v2h-2zm14 1h2v2h-2zm3 0h2v2h-2zm1 -1h2v2h-2zm3 0h2v2h-2zm6 0h2v2h-2zm1 0h2v2h-2zm2 1h2v2h-2zm-77 1h2v2h-2zm2 0h2v2h-2zm2 0h2v2h-2zm4 1h2v2h-2zm2 -1h2v2h-2zm46 0h2v2h-2zm10 0h2v2h-2zm2 0h2v2h-2zm2 0h2v2h-2zm4 1h2v2h-2zm6 0h2v2h-2zm-78 1h2v2h-2zm6 0h2v2h-2zm2 0h2v2h-2zm4 1h2v2h-2zm14 0h2v2h-2zm6 0h2v2h-2zm14 0h2v2h-2zm11 -1h2v2h-2zm5 1h2v2h-2zm2 0h2v2h-2zm4 -1h2v2h-2zm4 0h2v2h-2zm-80 2h2v2h-2zm6 1h2v2h-2zm12 -1h2v2h-2zm4 0h2v2h-2zm6 0h2v2h-2zm34 0h2v2h-2zm10 0h2v2h-2zm6 0h2v2h-2zm2 0h2v2h-2zm2 0h2v2h-2zm2 0h2v2h-2zm6 1h2v2h-2zm-86 2h2v2h-2zm4 -1h2v2h-2zm4 0h2v2h-2zm2 0h2v2h-2zm2 0h2v2h-2zm4 0h2v2h-2zm42 0h2v2h-2zm6 1h2v2h-2zm4 -1h2v2h-2zm10 0h2v2h-2zm2 0h2v2h-2zm-82 2h2v2h-2zm4 0h2v2h-2zm2 1h2v2h-2zm2 -1h2v2h-2zm4 1h2v2h-2zm2 -1h2v2h-2zm47 1h2v2h-2zm21 0h2v2h-2zm3 0h2v2h-2zm-83 1h2v2h-2zm2 0h2v2h-2zm20 0h2v2h-2zm60 1h2v2h-2zm1 -1h2v2h-2zm5 1h2v2h-2zm-90 2h2v2h-2zm2 0h2v2h-2zm6 -1h2v2h-2zm6 0h2v2h-2zm8 1h2v2h-2zm62 -1h2v2h-2zm3 0h2v2h-2zm3 0h2v2h-2zm1 0h2v2h-2zm-91 3h2v2h-2zm8 0h2v2h-2zm2 0h2v2h-2zm3 0h2v2h-2zm7 -1h2v2h-2zm56 1h2v2h-2zm3 -1h2v2h-2zm3 1h2v2h-2zm8 -1h2v2h-2zm-86 3h2v2h-2zm2 -1h2v2h-2zm6 0h2v2h-2zm6 1h2v2h-2zm4 0h2v2h-2zm44 -1h2v2h-2zm8 0h2v2h-2zm2 1h2v2h-2zm3 0h2v2h-2zm5 0h2v2h-2zm2 0h2v2h-2zm6 -1h2v2h-2zm-91 2h2v2h-2zm73 0h2v2h-2zm6 0h2v2h-2zm4 0h2v2h-2zm3 0h2v2h-2zm-85 3h2v2h-2zm4 -1h2v2h-2zm4 0h2v2h-2zm6 1h2v2h-2zm4 -1h2v2h-2zm2 1h2v2h-2zm2 -1h2v2h-2zm1 0h2v2h-2zm39 0h2v2h-2zm8 1h2v2h-2zm8 -1h2v2h-2zm2 0h2v2h-2zm3 0h2v2h-2zm5 0h2v2h-2zm-88 3h2v2h-2zm2 0h2v2h-2zm2 0h2v2h-2zm16 -1h2v2h-2zm32 0h2v2h-2zm22 0h2v2h-2zm12 1h2v2h-2zm2 0h2v2h-2zm-86 2h2v2h-2zm2 -1h2v2h-2zm4 0h2v2h-2zm8 0h2v2h-2zm6 0h2v2h-2zm8 1h2v2h-2zm38 -1h2v2h-2zm4 0h2v2h-2zm1 0h2v2h-2zm3 0h2v2h-2zm6 1h2v2h-2zm-72 1h2v2h-2zm2 0h2v2h-2zm5 0h2v2h-2zm11 0h2v2h-2zm24 1h2v2h-2zm10 0h2v2h-2zm2 0h2v2h-2zm2 0h2v2h-2zm8 -1h2v2h-2zm-66 2h2v2h-2zm12 0h2v2h-2zm3 1h2v2h-2zm2 0h2v2h-2zm3 -1h2v2h-2zm4 1h2v2h-2zm2 0h2v2h-2zm2 0h2v2h-2zm12 -1h2v2h-2zm6 0h2v2h-2zm2 0h2v2h-2zm2 1h2v2h-2zm2 -1h2v2h-2zm2 1h2v2h-2zm6 0h2v2h-2zm9 -1h2v2h-2zm-67 2h2v2h-2zm2 1h2v2h-2zm7 0h2v2h-2zm5 -1h2v2h-2zm4 1h2v2h-2zm6 -1h2v2h-2zm4 0h2v2h-2zm8 0h2v2h-2zm6 1h2v2h-2zm8 -1h2v2h-2zm12 1h2v2h-2zm4 -1h2v2h-2zm1 0h2v2h-2zm-63 2h2v2h-2zm2 1h2v2h-2zm2 0h2v2h-2zm6 -1h2v2h-2zm2 0h2v2h-2zm2 0h2v2h-2zm17 0h2v2h-2zm3 0h2v2h-2zm2 1h2v2h-2zm1 -1h2v2h-2zm5 0h2v2h-2zm4 0h2v2h-2zm7 0h2v2h-2zm-47 3h2v2h-2zm2 -1h2v2h-2zm6 0h2v2h-2zm4 0h2v2h-2zm6 0h2v2h-2zm2 1h2v2h-2zm3 0h2v2h-2zm11 0h2v2h-2zm8 0h2v2h-2zm1 -1h2v2h-2zm4 0h2v2h-2zm-31 3h2v2h-2zm8 0h2v2h-2zm4 -1h2v2h-2zm2 1h2v2h-2zm14 0h2v2h-2zm2 -1h2v2h-2zm4 0h2v2h-2zm-46 3h2v2h-2zm20 -1h2v2h-2zm14 0h2v2h-2zm-2 2h2v2h-2z"/>
<path fill="#8cdc2c" d="M679 896h2v2h-2zm2 -1h2v2h-2zm2 1h2v2h-2zm10 -1h2v2h-2zm-14 2h2v2h-2zm6 0h2v2h-2zm6 0h2v2h-2zm10 1h2v2h-2zm-36 1h2v2h-2zm39 0h2v2h-2zm-37 2h2v2h-2zm2 0h2v2h-2zm6 1h2v2h-2zm32 -1h2v2h-2zm-38 2h2v2h-2zm12 0h2v2h-2zm8 0h2v2h-2zm21 0h2v2h-2zm-39 3h2v2h-2zm6 -1h2v2h-2zm2 0h2v2h-2zm3 1h2v2h-2zm5 -1h2v2h-2zm12 0h2v2h-2zm6 1h2v2h-2zm-50 2h2v2h-2zm18 -1h2v2h-2zm2 0h2v2h-2zm8 1h2v2h-2zm22 -1h2v2h-2zm6 1h2v2h-2zm6 0h2v2h-2zm-48 1h2v2h-2zm4 0h2v2h-2zm10 1h2v2h-2zm2 -1h2v2h-2zm22 0h2v2h-2zm8 1h2v2h-2zm-63 1h2v2h-2zm17 0h2v2h-2zm20 0h2v2h-2zm18 0h2v2h-2zm6 0h2v2h-2zm2 0h2v2h-2zm2 0h2v2h-2zm-58 2h2v2h-2zm16 0h2v2h-2zm12 1h2v2h-2zm-34 2h2v2h-2zm2 0h2v2h-2zm6 0h2v2h-2zm12 -1h2v2h-2zm6 1h2v2h-2zm2 0h2v2h-2zm3 -1h2v2h-2zm31 0h2v2h-2zm6 1h2v2h-2zm2 -1h2v2h-2zm-64 2h2v2h-2zm36 0h2v2h-2zm10 0h2v2h-2zm6 1h2v2h-2zm-54 1h2v2h-2zm9 0h2v2h-2zm3 0h2v2h-2zm6 1h2v2h-2zm20 -1h2v2h-2zm18 0h2v2h-2zm8 0h2v2h-2zm-68 3h2v2h-2zm12 -1h2v2h-2zm2 0h2v2h-2zm6 0h2v2h-2zm17 1h2v2h-2zm5 -1h2v2h-2zm8 1h2v2h-2zm10 -1h2v2h-2zm-36 2h2v2h-2zm4 1h2v2h-2zm14 -1h2v2h-2zm2 0h2v2h-2zm3 0h2v2h-2zm11 0h2v2h-2zm-48 2h2v2h-2zm12 1h2v2h-2zm12 -1h2v2h-2zm4 0h2v2h-2zm22 1h2v2h-2zm2 -1h2v2h-2zm-52 2h2v2h-2zm2 0h2v2h-2zm6 1h2v2h-2zm6 0h2v2h-2zm4 0h2v2h-2zm14 -1h2v2h-2zm7 1h2v2h-2zm5 0h2v2h-2zm2 -1h2v2h-2zm-45 3h2v2h-2zm3 0h2v2h-2zm2 0h2v2h-2zm1 0h2v2h-2zm7 0h2v2h-2zm10 0h2v2h-2zm16 -1h2v2h-2zm10 0h2v2h-2zm-38 2h2v2h-2zm10 1h2v2h-2zm6 -1h2v2h-2zm4 1h2v2h-2zm2 -1h2v2h-2zm-20 2h2v2h-2zm12 0h2v2h-2zm4 0h2v2h-2zm14 0h2v2h-2z"/>
<path fill="#e6e21e" d="M685 902h2v2h-2zm15 0h2v2h-2zm-33 1h2v2h-2zm6 0h2v2h-2zm2 1h2v2h-2zm2 -1h2v2h-2zm8 1h2v2h-2zm2 -1h2v2h-2zm6 0h2v2h-2zm2 0h2v2h-2zm-28 2h2v2h-2zm2 0h2v2h-2zm20 0h2v2h-2zm2 1h2v2h-2zm10 -1h2v2h-2zm-22 2h2v2h-2zm16 0h2v2h-2zm4 1h2v2h-2zm-24 2h2v2h-2zm12 0h2v2h-2zm2 0h2v2h-2zm2 0h2v2h-2zm-26 1h2v2h-2zm22 0h2v2h-2zm10 1h2v2h-2zm2 -1h2v2h-2zm-36 3h2v2h-2zm6 0h2v2h-2zm14 0h2v2h-2zm15 -1h2v2h-2zm3 1h2v2h-2zm8 -1h2v2h-2zm2 1h2v2h-2zm-48 1h2v2h-2zm14 1h2v2h-2zm22 0h2v2h-2zm-32 1h2v2h-2zm34 0h2v2h-2zm16 1h2v2h-2zm-46 1h2v2h-2zm6 1h2v2h-2zm6 0h2v2h-2zm22 -1h2v2h-2zm2 1h2v2h-2zm4 0h2v2h-2zm-42 2h2v2h-2zm13 0h2v2h-2zm11 0h2v2h-2zm4 -1h2v2h-2zm2 0h2v2h-2zm12 0h2v2h-2zm-40 3h2v2h-2zm2 0h2v2h-2zm6 -1h2v2h-2zm4 1h2v2h-2zm26 0h2v2h-2zm-36 1h2v2h-2zm7 1h2v2h-2zm21 0h2v2h-2zm5 -1h2v2h-2zm-18 2h2v2h-2zm5 1h2v2h-2zm-12 1h2v2h-2z"/>
<path fill="#f4a41c" d="M683 903h2v2h-2zm14 2h2v2h-2zm-21 3h2v2h-2zm11 0h2v2h-2zm10 -1h2v2h-2zm10 1h2v2h-2zm-40 2h2v2h-2zm32 -1h2v2h-2zm2 1h2v2h-2zm4 0h2v2h-2zm-34 2h2v2h-2zm4 -1h2v2h-2zm2 0h2v2h-2zm6 1h2v2h-2zm12 -1h2v2h-2zm8 3h2v2h-2zm-37 2h2v2h-2zm25 0h2v2h-2zm14 -1h2v2h-2zm-36 3h2v2h-2zm6 0h2v2h-2zm4 -1h2v2h-2zm14 0h2v2h-2zm4 0h2v2h-2zm-10 2h2v2h-2zm14 0h2v2h-2zm-30 3h2v2h-2zm34 -1h2v2h-2zm2 0h2v2h-2zm-16 3h2v2h-2zm-6 2h2v2h-2z"/>
<path fill="#ee3a18" d="M693 906h2v2h-2zm8 1h2v2h-2zm-16 4h2v2h-2zm6 1h2v2h-2zm11 0h2v2h-2zm-29 2h2v2h-2zm8 -1h2v2h-2zm12 1h2v2h-2zm-18 1h2v2h-2zm7 1h2v2h-2zm1 1h2v2h-2zm2 0h2v2h-2zm2 0h2v2h-2zm-8 2h2v2h-2zm6 0h2v2h-2zm4 0h2v2h-2zm4 1h2v2h-2zm10 0h2v2h-2zm-14 3h2v2h-2z"/>
</g>
<rect x="569.9" y="624.4" width="421.1" height="420.9" fill="none" stroke="#222" stroke-width="1.4"/>
<path d="M789 624.9V1044.3M571.9 832H988" stroke="#111" stroke-width="1.5"/>
<path d="M579.5 1045.3V1047.9M591.7 1045.3V1047.9M601.2 1045.3V1047.9M609 1045.3V1047.9M615.5 1045.3V1047.9M621.2 1045.3V1047.9M626.2 1045.3V1047.9M630.7 1045.3V1049.8M660.2 1045.3V1047.9M677.4 1045.3V1047.9M689.7 1045.3V1047.9M699.2 1045.3V1047.9M706.9 1045.3V1047.9M713.5 1045.3V1047.9M719.2 1045.3V1047.9M724.2 1045.3V1047.9M728.6 1045.3V1049.8M758.1 1045.3V1047.9M775.4 1045.3V1047.9M787.6 1045.3V1047.9M797.1 1045.3V1047.9M804.9 1045.3V1047.9M811.4 1045.3V1047.9M817.1 1045.3V1047.9M822.1 1045.3V1047.9M826.6 1045.3V1049.8M856.1 1045.3V1047.9M873.3 1045.3V1047.9M885.6 1045.3V1047.9M895.1 1045.3V1047.9M902.8 1045.3V1047.9M909.4 1045.3V1047.9M915.1 1045.3V1047.9M920.1 1045.3V1047.9M924.5 1045.3V1049.8M954 1045.3V1047.9M971.3 1045.3V1047.9M983.5 1045.3V1047.9M993 1045.3V1047.9M567.3 1040.5H569.9M567.3 1034.3H569.9M567.3 1029H569.9M567.3 1024.5H569.9M567.3 1020.5H569.9M565.4 1016.9H569.9M567.3 993.3H569.9M567.3 979.5H569.9M567.3 969.8H569.9M567.3 962.2H569.9M567.3 956H569.9M567.3 950.7H569.9M567.3 946.2H569.9M567.3 942.2H569.9M565.4 938.6H569.9M567.3 915H569.9M567.3 901.2H569.9M567.3 891.5H569.9M567.3 883.9H569.9M567.3 877.7H569.9M567.3 872.4H569.9M567.3 867.9H569.9M567.3 863.9H569.9M565.4 860.3H569.9M567.3 836.7H569.9M567.3 822.9H569.9M567.3 813.2H569.9M567.3 805.6H569.9M567.3 799.4H569.9M567.3 794.1H569.9M567.3 789.6H569.9M567.3 785.6H569.9M565.4 782H569.9M567.3 758.4H569.9M567.3 744.6H569.9M567.3 734.9H569.9M567.3 727.3H569.9M567.3 721.1H569.9M567.3 715.8H569.9M567.3 711.3H569.9M567.3 707.3H569.9M565.4 703.7H569.9M567.3 680.1H569.9M567.3 666.3H569.9M567.3 656.6H569.9M567.3 649H569.9M567.3 642.8H569.9M567.3 637.5H569.9M567.3 633H569.9M567.3 629H569.9M565.4 624.4H569.9M565.4 1045.3H569.9M569.9 1045.3V1049.8M991 1045.3V1049.8" stroke="#222" stroke-width="1.2" fill="none"/>
<text x="576.7" y="1071" style='font-family:"Liberation Sans",sans-serif;font-size:14.8px' text-anchor="middle">10<tspan dx="2" dy="-7" style="font-size:12.5px">3.4</tspan></text>
<text x="630.7" y="1071" style='font-family:"Liberation Sans",sans-serif;font-size:14.8px' text-anchor="middle">10<tspan dx="2" dy="-7" style="font-size:12.5px">4</tspan></text>
<text x="728.6" y="1071" style='font-family:"Liberation Sans",sans-serif;font-size:14.8px' text-anchor="middle">10<tspan dx="2" dy="-7" style="font-size:12.5px">5</tspan></text>
<text x="826.6" y="1071" style='font-family:"Liberation Sans",sans-serif;font-size:14.8px' text-anchor="middle">10<tspan dx="2" dy="-7" style="font-size:12.5px">6</tspan></text>
<text x="924.5" y="1071" style='font-family:"Liberation Sans",sans-serif;font-size:14.8px' text-anchor="middle">10<tspan dx="2" dy="-7" style="font-size:12.5px">7</tspan></text>
<text x="987" y="1071" style='font-family:"Liberation Sans",sans-serif;font-size:14.8px' text-anchor="middle">10<tspan dx="2" dy="-7" style="font-size:12.5px">7.7</tspan></text>
<text transform="translate(559.9 626.4) rotate(-90)" style='font-family:"Liberation Sans",sans-serif;font-size:14.8px' text-anchor="middle">10<tspan dx="2" dy="-7" style="font-size:12.5px">7</tspan></text>
<text transform="translate(559.9 703.7) rotate(-90)" style='font-family:"Liberation Sans",sans-serif;font-size:14.8px' text-anchor="middle">10<tspan dx="2" dy="-7" style="font-size:12.5px">6</tspan></text>
<text transform="translate(559.9 782) rotate(-90)" style='font-family:"Liberation Sans",sans-serif;font-size:14.8px' text-anchor="middle">10<tspan dx="2" dy="-7" style="font-size:12.5px">5</tspan></text>
<text transform="translate(559.9 860.3) rotate(-90)" style='font-family:"Liberation Sans",sans-serif;font-size:14.8px' text-anchor="middle">10<tspan dx="2" dy="-7" style="font-size:12.5px">4</tspan></text>
<text transform="translate(559.9 938.6) rotate(-90)" style='font-family:"Liberation Sans",sans-serif;font-size:14.8px' text-anchor="middle">10<tspan dx="2" dy="-7" style="font-size:12.5px">3</tspan></text>
<text transform="translate(559.9 1036.3) rotate(-90)" style='font-family:"Liberation Sans",sans-serif;font-size:14.8px' text-anchor="middle">10<tspan dx="2" dy="-7" style="font-size:12.5px">1.9</tspan></text>
<text transform="translate(532.1 864.6) rotate(-90)" style='font-family:"Liberation Sans", sans-serif;font-size:15.2px'>PerCP-A</text>
<text x="755.9" y="1095" style='font-family:"Liberation Sans", sans-serif;font-size:15.2px'>FITC-A</text>
<text x="577.4" y="644" style='font-family:"Liberation Sans",sans-serif;font-size:15.2px'>Q3-1</text>
<text x="577.4" y="661" style='font-family:"Liberation Sans",sans-serif;font-size:15.2px'>2.82%</text>
<text x="927.8" y="644" style='font-family:"Liberation Sans",sans-serif;font-size:15.2px'>Q3-2</text>
<text x="927.8" y="661" style='font-family:"Liberation Sans",sans-serif;font-size:15.2px'>5.30%</text>
<text x="577.4" y="1011" style='font-family:"Liberation Sans",sans-serif;font-size:15.2px'>Q3-3</text>
<text x="577.4" y="1028" style='font-family:"Liberation Sans",sans-serif;font-size:15.2px'>90.89%</text>
<text x="927.8" y="1011" style='font-family:"Liberation Sans",sans-serif;font-size:15.2px'>Q3-4</text>
<text x="927.8" y="1028" style='font-family:"Liberation Sans",sans-serif;font-size:15.2px'>0.99%</text>
<text x="701.7" y="590.4" style='font-family:"Liberation Serif", serif;font-size:46px;font-weight:bold'>GW4869</text>
<text x="742.4" y="615.5" style='font-family:"Liberation Sans",sans-serif;font-size:15.2px'>4 / <tspan fill="#e8141e">P1</tspan> / <tspan fill="#1a9a2a">P2</tspan></text>
<defs><radialGradient id="cyg"><stop offset="0" stop-color="#40e0e8"/><stop offset="0.55" stop-color="#20b8e8"/><stop offset="1" stop-color="#1050f4"/></radialGradient><filter id="cellblur"><feGaussianBlur stdDeviation="0.9"/></filter><clipPath id="fclip1"><rect x="21" y="1139" width="553" height="368.7"/></clipPath><clipPath id="fclip2"><rect x="580" y="1139" width="552.3" height="368.7"/></clipPath></defs>
<rect x="21" y="1139" width="553" height="368.7" fill="#000"/>
<rect x="580" y="1139" width="552.3" height="368.7" fill="#000"/>
<g clip-path="url(#fclip1)" filter="url(#cellblur)">
<ellipse cx="124.6" cy="1146.7" rx="8.5" ry="6.6" transform="rotate(50 124.6 1146.7)" fill="#071aef"/>
<ellipse cx="140.4" cy="1143.2" rx="9.3" ry="6.1" transform="rotate(36 140.4 1143.2)" fill="#020df0"/>
<ellipse cx="163.3" cy="1146.7" rx="8.5" ry="6" transform="rotate(4 163.3 1146.7)" fill="#001dfd"/>
<ellipse cx="277.4" cy="1172" rx="9.6" ry="7.2" transform="rotate(18 277.4 1172)" fill="#021df4"/>
<ellipse cx="361.7" cy="1162.5" rx="7.6" ry="6.5" transform="rotate(-52 361.7 1162.5)" fill="#031de7"/>
<ellipse cx="423.1" cy="1148.5" rx="7.7" ry="6.4" transform="rotate(-7 423.1 1148.5)" fill="#031afb"/>
<ellipse cx="431.9" cy="1155.5" rx="8.1" ry="6.2" transform="rotate(-59 431.9 1155.5)" fill="#071ee3"/>
<ellipse cx="412.6" cy="1176.6" rx="8.2" ry="7.2" transform="rotate(59 412.6 1176.6)" fill="#0112fb"/>
<ellipse cx="445.9" cy="1173" rx="8.2" ry="6.1" transform="rotate(-25 445.9 1173)" fill="#0116e3"/>
<ellipse cx="516.2" cy="1163.6" rx="7.8" ry="6.2" transform="rotate(-51 516.2 1163.6)" fill="#0010e1"/>
<ellipse cx="537.2" cy="1164.3" rx="8" ry="7.1" transform="rotate(-3 537.2 1164.3)" fill="#0617f7"/>
<ellipse cx="530.2" cy="1143.2" rx="7.7" ry="6.7" transform="rotate(33 530.2 1143.2)" fill="#050ce9"/>
<ellipse cx="144" cy="1201.1" rx="8.2" ry="5.8" transform="rotate(-10 144 1201.1)" fill="#010efe"/>
<ellipse cx="170.3" cy="1185.3" rx="8.1" ry="5.9" transform="rotate(-52 170.3 1185.3)" fill="#070ffa"/>
<ellipse cx="182.6" cy="1181.8" rx="9" ry="6.1" transform="rotate(1 182.6 1181.8)" fill="#0217f8"/>
<ellipse cx="194.9" cy="1213.4" rx="8.9" ry="6" transform="rotate(-9 194.9 1213.4)" fill="#0012e7"/>
<ellipse cx="224.7" cy="1206.4" rx="9.3" ry="7.2" transform="rotate(11 224.7 1206.4)" fill="#0010fd"/>
<ellipse cx="254.6" cy="1219.7" rx="8" ry="7.2" transform="rotate(12 254.6 1219.7)" fill="#010bf3"/>
<ellipse cx="300.2" cy="1204.6" rx="9.6" ry="6.1" transform="rotate(-29 300.2 1204.6)" fill="#0513f9"/>
<ellipse cx="340.6" cy="1197.6" rx="8.4" ry="5.9" transform="rotate(-34 340.6 1197.6)" fill="#030af5"/>
<ellipse cx="302" cy="1220.4" rx="8.8" ry="6.3" transform="rotate(-5 302 1220.4)" fill="#071cff"/>
<ellipse cx="500.4" cy="1190.6" rx="7.9" ry="6.3" transform="rotate(15 500.4 1190.6)" fill="#031dea"/>
<ellipse cx="528.4" cy="1202.9" rx="8.1" ry="6.1" transform="rotate(28 528.4 1202.9)" fill="#0810ff"/>
<ellipse cx="458.2" cy="1215.2" rx="9" ry="6.3" transform="rotate(-2 458.2 1215.2)" fill="#060be3"/>
<ellipse cx="482.8" cy="1218.7" rx="7.8" ry="5.9" transform="rotate(55 482.8 1218.7)" fill="#0612e8"/>
<ellipse cx="489.8" cy="1231" rx="8.4" ry="7.1" transform="rotate(-1 489.8 1231)" fill="#020cf1"/>
<ellipse cx="84.3" cy="1225.7" rx="7.9" ry="6.5" transform="rotate(18 84.3 1225.7)" fill="#0112f4"/>
<ellipse cx="108.8" cy="1230.3" rx="8" ry="7.1" transform="rotate(29 108.8 1230.3)" fill="#0417e3"/>
<ellipse cx="119.4" cy="1227.5" rx="8.5" ry="5.9" transform="rotate(-38 119.4 1227.5)" fill="#081cec"/>
<ellipse cx="129.9" cy="1229.2" rx="9.5" ry="5.9" transform="rotate(-43 129.9 1229.2)" fill="#051aef"/>
<ellipse cx="138.7" cy="1231" rx="8.8" ry="6" transform="rotate(-55 138.7 1231)" fill="#0715e1"/>
<ellipse cx="182.6" cy="1239.8" rx="9" ry="7.1" transform="rotate(-57 182.6 1239.8)" fill="#0119f5"/>
<ellipse cx="328.3" cy="1239.8" rx="7.7" ry="6.2" transform="rotate(-43 328.3 1239.8)" fill="#0118e3"/>
<ellipse cx="412.6" cy="1232.7" rx="8.7" ry="6.8" transform="rotate(48 412.6 1232.7)" fill="#0214f8"/>
<ellipse cx="419.6" cy="1259.1" rx="8.3" ry="6.8" transform="rotate(48 419.6 1259.1)" fill="#060afc"/>
<ellipse cx="452.9" cy="1255.6" rx="9.3" ry="6.6" transform="rotate(14 452.9 1255.6)" fill="#061ced"/>
<ellipse cx="556.5" cy="1260.8" rx="7.6" ry="5.9" transform="rotate(-49 556.5 1260.8)" fill="#0417e4"/>
<ellipse cx="309" cy="1269.6" rx="9.1" ry="6.3" transform="rotate(28 309 1269.6)" fill="#0718f3"/>
<ellipse cx="319.5" cy="1271.4" rx="8.5" ry="6.6" transform="rotate(2 319.5 1271.4)" fill="#0013f1"/>
<ellipse cx="337.1" cy="1262.6" rx="8.8" ry="6.5" transform="rotate(-32 337.1 1262.6)" fill="#0119f7"/>
<ellipse cx="333.6" cy="1276.6" rx="9.2" ry="6.7" transform="rotate(-1 333.6 1276.6)" fill="#0015fd"/>
<ellipse cx="351.1" cy="1273.1" rx="8.2" ry="6.7" transform="rotate(-35 351.1 1273.1)" fill="#0518e6"/>
<ellipse cx="342.3" cy="1283.7" rx="8.6" ry="6.1" transform="rotate(-11 342.3 1283.7)" fill="#031ee9"/>
<ellipse cx="352.9" cy="1295.9" rx="8.5" ry="6.9" transform="rotate(49 352.9 1295.9)" fill="#0316fd"/>
<ellipse cx="405.5" cy="1288.9" rx="8" ry="7.1" transform="rotate(-34 405.5 1288.9)" fill="#0715e5"/>
<ellipse cx="416.1" cy="1290.7" rx="9.3" ry="7" transform="rotate(25 416.1 1290.7)" fill="#040fff"/>
<ellipse cx="430.1" cy="1299.5" rx="7.8" ry="6.5" transform="rotate(51 430.1 1299.5)" fill="#0616fb"/>
<ellipse cx="445.9" cy="1299.5" rx="8.9" ry="6.5" transform="rotate(-22 445.9 1299.5)" fill="#0714fb"/>
<ellipse cx="463.5" cy="1287.2" rx="7.7" ry="5.8" transform="rotate(44 463.5 1287.2)" fill="#041ce2"/>
<ellipse cx="500.4" cy="1297.7" rx="8.3" ry="6.7" transform="rotate(7 500.4 1297.7)" fill="#0216f5"/>
<ellipse cx="115.9" cy="1301.2" rx="8.5" ry="5.8" transform="rotate(39 115.9 1301.2)" fill="#020be8"/>
<ellipse cx="217.7" cy="1308.2" rx="9.6" ry="6" transform="rotate(-46 217.7 1308.2)" fill="#050cf2"/>
<ellipse cx="217.7" cy="1345.8" rx="9" ry="6.1" transform="rotate(-2 217.7 1345.8)" fill="#0019e6"/>
<ellipse cx="449.4" cy="1325.8" rx="8.7" ry="5.9" transform="rotate(-32 449.4 1325.8)" fill="#051bf9"/>
<ellipse cx="463.5" cy="1325.8" rx="9" ry="6.5" transform="rotate(13 463.5 1325.8)" fill="#0216f9"/>
<ellipse cx="491.6" cy="1350.4" rx="9.3" ry="6.8" transform="rotate(-33 491.6 1350.4)" fill="#060eee"/>
<ellipse cx="389.7" cy="1346.9" rx="8.5" ry="6.1" transform="rotate(46 389.7 1346.9)" fill="#061be1"/>
<ellipse cx="379.2" cy="1357.4" rx="8.7" ry="7" transform="rotate(35 379.2 1357.4)" fill="#0518ff"/>
<ellipse cx="358.1" cy="1360.9" rx="8.3" ry="7.2" transform="rotate(-48 358.1 1360.9)" fill="#0110fc"/>
<ellipse cx="400.3" cy="1364.4" rx="8.1" ry="6.3" transform="rotate(-49 400.3 1364.4)" fill="#0814ea"/>
<ellipse cx="435.4" cy="1360.9" rx="8.1" ry="6.8" transform="rotate(-58 435.4 1360.9)" fill="#010bf1"/>
<ellipse cx="61.4" cy="1373.2" rx="8.5" ry="6.6" transform="rotate(32 61.4 1373.2)" fill="#0010f0"/>
<ellipse cx="82.5" cy="1378.5" rx="9.2" ry="5.9" transform="rotate(35 82.5 1378.5)" fill="#0814e6"/>
<ellipse cx="101.8" cy="1369.7" rx="9" ry="7.1" transform="rotate(-3 101.8 1369.7)" fill="#0818f1"/>
<ellipse cx="105.3" cy="1376.7" rx="9.5" ry="6.5" transform="rotate(53 105.3 1376.7)" fill="#0318e3"/>
<ellipse cx="196.6" cy="1376.7" rx="8.7" ry="6.2" transform="rotate(27 196.6 1376.7)" fill="#021af5"/>
<ellipse cx="221.2" cy="1396" rx="8.6" ry="7.1" transform="rotate(-29 221.2 1396)" fill="#061df6"/>
<ellipse cx="224.7" cy="1403" rx="8" ry="7" transform="rotate(56 224.7 1403)" fill="#041cf1"/>
<ellipse cx="247.5" cy="1390.7" rx="8.6" ry="6.4" transform="rotate(-46 247.5 1390.7)" fill="#060ae1"/>
<ellipse cx="393.3" cy="1385.5" rx="8.7" ry="5.9" transform="rotate(50 393.3 1385.5)" fill="#0119f2"/>
<ellipse cx="405.5" cy="1397.8" rx="7.8" ry="6" transform="rotate(51 405.5 1397.8)" fill="#0616ef"/>
<ellipse cx="451.2" cy="1390.7" rx="8.1" ry="6.5" transform="rotate(-44 451.2 1390.7)" fill="#071aee"/>
<ellipse cx="359.9" cy="1410.1" rx="8.2" ry="6.1" transform="rotate(14 359.9 1410.1)" fill="#040efe"/>
<ellipse cx="437.1" cy="1410.1" rx="9" ry="7.2" transform="rotate(-55 437.1 1410.1)" fill="#030ae5"/>
<ellipse cx="151" cy="1419.9" rx="9" ry="6.3" transform="rotate(-17 151 1419.9)" fill="#070df4"/>
<ellipse cx="168.5" cy="1406.5" rx="8.6" ry="6.6" transform="rotate(42 168.5 1406.5)" fill="#0410f4"/>
<ellipse cx="172.1" cy="1417.1" rx="9" ry="7" transform="rotate(-57 172.1 1417.1)" fill="#061af5"/>
<ellipse cx="323" cy="1422.3" rx="8.8" ry="6.6" transform="rotate(43 323 1422.3)" fill="#031af2"/>
<ellipse cx="372.2" cy="1434.6" rx="8" ry="6.6" transform="rotate(10 372.2 1434.6)" fill="#031ee5"/>
<ellipse cx="386.2" cy="1438.1" rx="9.2" ry="7.1" transform="rotate(-22 386.2 1438.1)" fill="#0310eb"/>
<ellipse cx="405.5" cy="1436.4" rx="9.2" ry="6.1" transform="rotate(-48 405.5 1436.4)" fill="#030efd"/>
<ellipse cx="430.1" cy="1452.2" rx="9.1" ry="6.2" transform="rotate(-48 430.1 1452.2)" fill="#061bfb"/>
<ellipse cx="449.4" cy="1468" rx="9.2" ry="6" transform="rotate(-11 449.4 1468)" fill="#000df6"/>
<ellipse cx="35.1" cy="1452.2" rx="8" ry="6.8" transform="rotate(49 35.1 1452.2)" fill="#050dff"/>
<ellipse cx="68.5" cy="1455.7" rx="9" ry="6.7" transform="rotate(-18 68.5 1455.7)" fill="#030cf6"/>
<ellipse cx="28.1" cy="1464.5" rx="8.6" ry="5.8" transform="rotate(31 28.1 1464.5)" fill="#081cf4"/>
<ellipse cx="35.1" cy="1476.8" rx="8.6" ry="6.1" transform="rotate(-46 35.1 1476.8)" fill="#0213e6"/>
<ellipse cx="49.2" cy="1480.3" rx="9.5" ry="5.9" transform="rotate(-52 49.2 1480.3)" fill="#070cff"/>
<ellipse cx="54.4" cy="1490.8" rx="9.1" ry="6.3" transform="rotate(-3 54.4 1490.8)" fill="#0517f1"/>
<ellipse cx="70.2" cy="1497.8" rx="8" ry="6.3" transform="rotate(16 70.2 1497.8)" fill="#030fe2"/>
<ellipse cx="79" cy="1490.8" rx="8.4" ry="6.3" transform="rotate(-15 79 1490.8)" fill="#031dfe"/>
<ellipse cx="96.6" cy="1468" rx="7.9" ry="6.5" transform="rotate(-58 96.6 1468)" fill="#011efd"/>
<ellipse cx="135.2" cy="1441.7" rx="9.5" ry="6.6" transform="rotate(-37 135.2 1441.7)" fill="#0512f3"/>
<ellipse cx="147.5" cy="1461" rx="8.2" ry="6" transform="rotate(29 147.5 1461)" fill="#060ee6"/>
<ellipse cx="156.2" cy="1469.7" rx="9.4" ry="7" transform="rotate(23 156.2 1469.7)" fill="#060ff9"/>
<ellipse cx="168.5" cy="1466.2" rx="8.4" ry="6.8" transform="rotate(-51 168.5 1466.2)" fill="#0419eb"/>
<ellipse cx="175.6" cy="1459.2" rx="7.8" ry="7" transform="rotate(58 175.6 1459.2)" fill="#0011fd"/>
<ellipse cx="142.2" cy="1476.8" rx="8.1" ry="7.1" transform="rotate(-24 142.2 1476.8)" fill="#061ce7"/>
<ellipse cx="145.7" cy="1485.5" rx="8" ry="5.9" transform="rotate(1 145.7 1485.5)" fill="#030df0"/>
<ellipse cx="221.2" cy="1448.7" rx="9.1" ry="7.2" transform="rotate(-57 221.2 1448.7)" fill="#0111f4"/>
<ellipse cx="231.7" cy="1453.9" rx="8.1" ry="6.4" transform="rotate(-53 231.7 1453.9)" fill="#060ae7"/>
<ellipse cx="221.2" cy="1480.3" rx="7.8" ry="6.2" transform="rotate(48 221.2 1480.3)" fill="#081af2"/>
<ellipse cx="263.3" cy="1471.5" rx="8.4" ry="6.5" transform="rotate(41 263.3 1471.5)" fill="#071ee4"/>
<ellipse cx="272.1" cy="1466.2" rx="7.8" ry="6.6" transform="rotate(31 272.1 1466.2)" fill="#060fe2"/>
<ellipse cx="298.5" cy="1480.3" rx="8.4" ry="7.2" transform="rotate(42 298.5 1480.3)" fill="#0017f2"/>
<ellipse cx="302" cy="1487.3" rx="9.5" ry="6.4" transform="rotate(3 302 1487.3)" fill="#0415f4"/>
<ellipse cx="294.9" cy="1494.3" rx="8.7" ry="6.5" transform="rotate(-27 294.9 1494.3)" fill="#0413fe"/>
<ellipse cx="323" cy="1457.5" rx="7.7" ry="6.9" transform="rotate(10 323 1457.5)" fill="#0217f5"/>
<ellipse cx="333.6" cy="1448.7" rx="9.1" ry="6.3" transform="rotate(47 333.6 1448.7)" fill="#060bf8"/>
<ellipse cx="342.3" cy="1497.8" rx="8.8" ry="6.8" transform="rotate(-21 342.3 1497.8)" fill="#0317fa"/>
<ellipse cx="379.2" cy="1476.8" rx="9" ry="6.2" transform="rotate(30 379.2 1476.8)" fill="#080de2"/>
<ellipse cx="400.3" cy="1469.7" rx="9.5" ry="6.8" transform="rotate(-3 400.3 1469.7)" fill="#031dff"/>
<ellipse cx="409.1" cy="1489.1" rx="9" ry="5.9" transform="rotate(-9 409.1 1489.1)" fill="#030be4"/>
<ellipse cx="498.6" cy="1448.7" rx="8.3" ry="6" transform="rotate(-16 498.6 1448.7)" fill="#0618e5"/>
<ellipse cx="509.1" cy="1455.7" rx="8.8" ry="6.7" transform="rotate(21 509.1 1455.7)" fill="#080eec"/>
<ellipse cx="521.4" cy="1457.5" rx="9.5" ry="6.8" transform="rotate(-31 521.4 1457.5)" fill="#0813e4"/>
<ellipse cx="495.1" cy="1466.2" rx="9.2" ry="6.7" transform="rotate(-16 495.1 1466.2)" fill="#031ee9"/>
<ellipse cx="510.9" cy="1468" rx="8.2" ry="6.1" transform="rotate(54 510.9 1468)" fill="#030bf1"/>
<ellipse cx="568.8" cy="1441.7" rx="8.9" ry="5.8" transform="rotate(-28 568.8 1441.7)" fill="#000de1"/>
<ellipse cx="568.8" cy="1487.3" rx="8" ry="6.2" transform="rotate(30 568.8 1487.3)" fill="#021bfe"/>
<ellipse cx="553" cy="1504.9" rx="8.1" ry="7.2" transform="rotate(-1 553 1504.9)" fill="#0314ec"/>
<ellipse cx="142.2" cy="1294.2" rx="7.2" ry="6" transform="rotate(40 142.2 1294.2)" fill="url(#cyg)"/>
<ellipse cx="151" cy="1295.9" rx="7.2" ry="6" transform="rotate(37 151 1295.9)" fill="url(#cyg)"/>
<ellipse cx="249.3" cy="1310.7" rx="7.2" ry="6" transform="rotate(-34 249.3 1310.7)" fill="url(#cyg)"/>
<ellipse cx="286.2" cy="1290.7" rx="7.2" ry="6" transform="rotate(37 286.2 1290.7)" fill="url(#cyg)"/>
<ellipse cx="128.2" cy="1328.2" rx="7.2" ry="6" transform="rotate(58 128.2 1328.2)" fill="url(#cyg)"/>
<ellipse cx="187.9" cy="1332.8" rx="7.2" ry="6" transform="rotate(29 187.9 1332.8)" fill="url(#cyg)"/>
<ellipse cx="337.1" cy="1325.8" rx="7.2" ry="6" transform="rotate(-15 337.1 1325.8)" fill="url(#cyg)"/>
<ellipse cx="80.8" cy="1398.8" rx="7.2" ry="6" transform="rotate(-50 80.8 1398.8)" fill="url(#cyg)"/>
<ellipse cx="94.8" cy="1410.1" rx="7.2" ry="6" transform="rotate(-1 94.8 1410.1)" fill="url(#cyg)"/>
<ellipse cx="119.4" cy="1415.3" rx="7.2" ry="6" transform="rotate(33 119.4 1415.3)" fill="url(#cyg)"/>
</g>
<g clip-path="url(#fclip2)" filter="url(#cellblur)">
<ellipse cx="740.8" cy="1169.5" rx="7.8" ry="6.1" transform="rotate(19 740.8 1169.5)" fill="#0419e3"/>
<ellipse cx="805.8" cy="1153.7" rx="9" ry="6.8" transform="rotate(-26 805.8 1153.7)" fill="#0315e5"/>
<ellipse cx="791.7" cy="1143.2" rx="8.9" ry="6.3" transform="rotate(48 791.7 1143.2)" fill="#071ceb"/>
<ellipse cx="869" cy="1143.2" rx="8.8" ry="7.1" transform="rotate(22 869 1143.2)" fill="#071ae9"/>
<ellipse cx="905.9" cy="1143.2" rx="9.2" ry="6.2" transform="rotate(-21 905.9 1143.2)" fill="#0811ed"/>
<ellipse cx="851.4" cy="1143.2" rx="7.8" ry="7" transform="rotate(-57 851.4 1143.2)" fill="#061cf6"/>
<ellipse cx="1005.9" cy="1152" rx="8.4" ry="6.1" transform="rotate(7 1005.9 1152)" fill="#061bfa"/>
<ellipse cx="1020" cy="1159" rx="7.9" ry="6.6" transform="rotate(-38 1020 1159)" fill="#0713e3"/>
<ellipse cx="977.8" cy="1185.3" rx="9.2" ry="6.1" transform="rotate(-53 977.8 1185.3)" fill="#040ae6"/>
<ellipse cx="1099" cy="1157.2" rx="8.9" ry="6.9" transform="rotate(-52 1099 1157.2)" fill="#041bf2"/>
<ellipse cx="1113" cy="1146.7" rx="7.8" ry="5.9" transform="rotate(28 1113 1146.7)" fill="#050cfd"/>
<ellipse cx="1106" cy="1180.1" rx="7.7" ry="6.7" transform="rotate(-48 1106 1180.1)" fill="#0611fb"/>
<ellipse cx="1102.5" cy="1199.4" rx="9" ry="6.5" transform="rotate(48 1102.5 1199.4)" fill="#0716eb"/>
<ellipse cx="1118.3" cy="1208.2" rx="8.3" ry="6.9" transform="rotate(-20 1118.3 1208.2)" fill="#0719e5"/>
<ellipse cx="1056.8" cy="1211.7" rx="8.7" ry="6.8" transform="rotate(24 1056.8 1211.7)" fill="#0017fe"/>
<ellipse cx="1084.9" cy="1225.7" rx="9.1" ry="7.2" transform="rotate(-18 1084.9 1225.7)" fill="#060ce1"/>
<ellipse cx="1107.8" cy="1222.2" rx="9.4" ry="7.1" transform="rotate(16 1107.8 1222.2)" fill="#050af1"/>
<ellipse cx="1034" cy="1227.5" rx="9.2" ry="6.4" transform="rotate(-9 1034 1227.5)" fill="#030fe5"/>
<ellipse cx="1097.2" cy="1260.8" rx="9.6" ry="6.3" transform="rotate(-39 1097.2 1260.8)" fill="#0617e7"/>
<ellipse cx="1121.8" cy="1273.1" rx="8.7" ry="6.2" transform="rotate(46 1121.8 1273.1)" fill="#040df0"/>
<ellipse cx="1125.3" cy="1252.1" rx="8.2" ry="6" transform="rotate(50 1125.3 1252.1)" fill="#0018fe"/>
<ellipse cx="598.6" cy="1204.6" rx="7.6" ry="6.5" transform="rotate(36 598.6 1204.6)" fill="#0110eb"/>
<ellipse cx="725" cy="1220.4" rx="8" ry="6.1" transform="rotate(-31 725 1220.4)" fill="#071df7"/>
<ellipse cx="870.7" cy="1192.4" rx="8.6" ry="6.4" transform="rotate(47 870.7 1192.4)" fill="#0213ed"/>
<ellipse cx="870.7" cy="1208.2" rx="8.9" ry="7.1" transform="rotate(6 870.7 1208.2)" fill="#0419fc"/>
<ellipse cx="926.9" cy="1209.9" rx="9.4" ry="7.1" transform="rotate(-18 926.9 1209.9)" fill="#0119f2"/>
<ellipse cx="948" cy="1213.4" rx="9.3" ry="6.4" transform="rotate(-33 948 1213.4)" fill="#061ae5"/>
<ellipse cx="953.3" cy="1227.5" rx="9.2" ry="6.9" transform="rotate(34 953.3 1227.5)" fill="#030ae2"/>
<ellipse cx="919.9" cy="1236.2" rx="9.3" ry="7.1" transform="rotate(-5 919.9 1236.2)" fill="#061de8"/>
<ellipse cx="928.7" cy="1245" rx="9.3" ry="6.4" transform="rotate(32 928.7 1245)" fill="#041ae5"/>
<ellipse cx="619.7" cy="1234.5" rx="7.9" ry="6.8" transform="rotate(14 619.7 1234.5)" fill="#080bf1"/>
<ellipse cx="605.6" cy="1241.5" rx="7.9" ry="6.9" transform="rotate(-59 605.6 1241.5)" fill="#020efb"/>
<ellipse cx="632" cy="1252.1" rx="7.8" ry="6.2" transform="rotate(25 632 1252.1)" fill="#0718e4"/>
<ellipse cx="639" cy="1266.1" rx="7.8" ry="6.8" transform="rotate(5 639 1266.1)" fill="#040af1"/>
<ellipse cx="582.8" cy="1255.6" rx="9.2" ry="6.4" transform="rotate(50 582.8 1255.6)" fill="#0710e3"/>
<ellipse cx="582.8" cy="1269.6" rx="7.7" ry="6.4" transform="rotate(0 582.8 1269.6)" fill="#0414ff"/>
<ellipse cx="767.2" cy="1248.5" rx="8.2" ry="5.9" transform="rotate(-23 767.2 1248.5)" fill="#0115ef"/>
<ellipse cx="784.7" cy="1245" rx="7.7" ry="6" transform="rotate(20 784.7 1245)" fill="#070df6"/>
<ellipse cx="805.8" cy="1239.8" rx="8.9" ry="5.8" transform="rotate(-14 805.8 1239.8)" fill="#0711f7"/>
<ellipse cx="798.8" cy="1252.1" rx="8.2" ry="6" transform="rotate(32 798.8 1252.1)" fill="#031dfc"/>
<ellipse cx="781.2" cy="1262.6" rx="7.9" ry="6.7" transform="rotate(52 781.2 1262.6)" fill="#0414f8"/>
<ellipse cx="784.7" cy="1273.1" rx="9.1" ry="6.6" transform="rotate(-49 784.7 1273.1)" fill="#0316e7"/>
<ellipse cx="798.8" cy="1269.6" rx="9.1" ry="6.3" transform="rotate(53 798.8 1269.6)" fill="#071ef3"/>
<ellipse cx="804" cy="1285.4" rx="8.3" ry="7" transform="rotate(-48 804 1285.4)" fill="#010ee5"/>
<ellipse cx="804" cy="1295.9" rx="9" ry="6.8" transform="rotate(-38 804 1295.9)" fill="#0018ed"/>
<ellipse cx="914.6" cy="1283.7" rx="8.8" ry="5.9" transform="rotate(-32 914.6 1283.7)" fill="#0117e6"/>
<ellipse cx="911.1" cy="1290.7" rx="8.4" ry="5.9" transform="rotate(50 911.1 1290.7)" fill="#080eee"/>
<ellipse cx="888.3" cy="1290.7" rx="8.9" ry="6.9" transform="rotate(38 888.3 1290.7)" fill="#0714ed"/>
<ellipse cx="891.8" cy="1304.7" rx="9.4" ry="6.7" transform="rotate(27 891.8 1304.7)" fill="#0511f4"/>
<ellipse cx="897.1" cy="1311.7" rx="8.9" ry="6.7" transform="rotate(-57 897.1 1311.7)" fill="#0314eb"/>
<ellipse cx="888.3" cy="1325.8" rx="8.2" ry="6.4" transform="rotate(6 888.3 1325.8)" fill="#0814e7"/>
<ellipse cx="1000.7" cy="1297.7" rx="9.2" ry="7" transform="rotate(13 1000.7 1297.7)" fill="#041be6"/>
<ellipse cx="1012.9" cy="1313.5" rx="9.4" ry="6.6" transform="rotate(-17 1012.9 1313.5)" fill="#080ef1"/>
<ellipse cx="860.2" cy="1338.1" rx="8.7" ry="6.1" transform="rotate(52 860.2 1338.1)" fill="#031cf7"/>
<ellipse cx="582.8" cy="1310" rx="9.5" ry="6.7" transform="rotate(-36 582.8 1310)" fill="#0211e3"/>
<ellipse cx="582.8" cy="1336.3" rx="8.6" ry="6.4" transform="rotate(-19 582.8 1336.3)" fill="#0512e3"/>
<ellipse cx="1123.6" cy="1327.5" rx="8.5" ry="6" transform="rotate(56 1123.6 1327.5)" fill="#031ce5"/>
<ellipse cx="1127.1" cy="1338.1" rx="8.7" ry="6.6" transform="rotate(7 1127.1 1338.1)" fill="#0214e9"/>
<ellipse cx="691.7" cy="1367.9" rx="8.8" ry="6" transform="rotate(38 691.7 1367.9)" fill="#0511ea"/>
<ellipse cx="700.4" cy="1376.7" rx="9.1" ry="6.3" transform="rotate(-40 700.4 1376.7)" fill="#080cf4"/>
<ellipse cx="756.6" cy="1366.2" rx="8.5" ry="6.4" transform="rotate(33 756.6 1366.2)" fill="#0213fe"/>
<ellipse cx="798.8" cy="1360.9" rx="9.1" ry="7" transform="rotate(48 798.8 1360.9)" fill="#000ff4"/>
<ellipse cx="877.8" cy="1376.7" rx="8" ry="6.5" transform="rotate(-42 877.8 1376.7)" fill="#011ced"/>
<ellipse cx="628.5" cy="1378.5" rx="8.4" ry="6.3" transform="rotate(-44 628.5 1378.5)" fill="#050be8"/>
<ellipse cx="1032.3" cy="1360.9" rx="8.9" ry="5.9" transform="rotate(20 1032.3 1360.9)" fill="#0619e5"/>
<ellipse cx="1107.8" cy="1352.1" rx="8.8" ry="6.5" transform="rotate(-10 1107.8 1352.1)" fill="#0613f4"/>
<ellipse cx="1118.3" cy="1369.7" rx="8.6" ry="7.2" transform="rotate(40 1118.3 1369.7)" fill="#0617fc"/>
<ellipse cx="811.1" cy="1387.2" rx="7.8" ry="6" transform="rotate(52 811.1 1387.2)" fill="#081aeb"/>
<ellipse cx="837.4" cy="1399.5" rx="8.5" ry="7.1" transform="rotate(-21 837.4 1399.5)" fill="#041de2"/>
<ellipse cx="719.8" cy="1397.8" rx="9.4" ry="6.8" transform="rotate(11 719.8 1397.8)" fill="#041cf9"/>
<ellipse cx="756.6" cy="1404.8" rx="9.4" ry="6.1" transform="rotate(41 756.6 1404.8)" fill="#0816e8"/>
<ellipse cx="775.9" cy="1396" rx="9.5" ry="6.5" transform="rotate(-47 775.9 1396)" fill="#031bfe"/>
<ellipse cx="777.7" cy="1406.5" rx="8.2" ry="6.4" transform="rotate(-31 777.7 1406.5)" fill="#051be3"/>
<ellipse cx="1016.5" cy="1389" rx="8.4" ry="6.9" transform="rotate(-33 1016.5 1389)" fill="#061cf8"/>
<ellipse cx="1035.8" cy="1396" rx="7.8" ry="5.9" transform="rotate(2 1035.8 1396)" fill="#011be5"/>
<ellipse cx="1093.7" cy="1385.5" rx="8.8" ry="6.4" transform="rotate(-24 1093.7 1385.5)" fill="#040af8"/>
<ellipse cx="1086.7" cy="1394.3" rx="8.2" ry="5.9" transform="rotate(47 1086.7 1394.3)" fill="#0816fb"/>
<ellipse cx="591.6" cy="1417.1" rx="7.9" ry="6.8" transform="rotate(-32 591.6 1417.1)" fill="#0018ea"/>
<ellipse cx="600.4" cy="1403" rx="9.4" ry="6.2" transform="rotate(0 600.4 1403)" fill="#0710fe"/>
<ellipse cx="609.2" cy="1413.6" rx="8" ry="7" transform="rotate(23 609.2 1413.6)" fill="#0314e2"/>
<ellipse cx="614.4" cy="1397.8" rx="9.3" ry="6.3" transform="rotate(-3 614.4 1397.8)" fill="#0810e6"/>
<ellipse cx="633.7" cy="1401.3" rx="8.7" ry="6.1" transform="rotate(53 633.7 1401.3)" fill="#0113e2"/>
<ellipse cx="610.9" cy="1424.1" rx="9.1" ry="6.2" transform="rotate(48 610.9 1424.1)" fill="#060efc"/>
<ellipse cx="632" cy="1417.1" rx="8.3" ry="7.1" transform="rotate(33 632 1417.1)" fill="#010fee"/>
<ellipse cx="756.6" cy="1425.9" rx="8" ry="6.2" transform="rotate(25 756.6 1425.9)" fill="#040fe7"/>
<ellipse cx="767.2" cy="1434.6" rx="9" ry="6.5" transform="rotate(-24 767.2 1434.6)" fill="#051ae9"/>
<ellipse cx="784.7" cy="1427.6" rx="9.4" ry="6.6" transform="rotate(-32 784.7 1427.6)" fill="#0211ea"/>
<ellipse cx="818.1" cy="1434.6" rx="8.2" ry="6.7" transform="rotate(-49 818.1 1434.6)" fill="#071ae3"/>
<ellipse cx="837.4" cy="1438.1" rx="7.7" ry="7.1" transform="rotate(-59 837.4 1438.1)" fill="#041bf3"/>
<ellipse cx="839.1" cy="1453.9" rx="8.1" ry="6.9" transform="rotate(-49 839.1 1453.9)" fill="#0311ea"/>
<ellipse cx="900.6" cy="1443.4" rx="8" ry="6.8" transform="rotate(-56 900.6 1443.4)" fill="#020bfa"/>
<ellipse cx="932.2" cy="1445.2" rx="8.8" ry="7.1" transform="rotate(10 932.2 1445.2)" fill="#070be1"/>
<ellipse cx="949.7" cy="1438.1" rx="8" ry="6.6" transform="rotate(17 949.7 1438.1)" fill="#0519ec"/>
<ellipse cx="955" cy="1422.3" rx="9.2" ry="6.5" transform="rotate(0 955 1422.3)" fill="#081bfc"/>
<ellipse cx="963.8" cy="1455.7" rx="7.9" ry="6.9" transform="rotate(-40 963.8 1455.7)" fill="#0611f4"/>
<ellipse cx="1000.7" cy="1445.2" rx="8.9" ry="6.6" transform="rotate(-29 1000.7 1445.2)" fill="#0312f7"/>
<ellipse cx="1027" cy="1436.4" rx="8.6" ry="6.1" transform="rotate(9 1027 1436.4)" fill="#040bf0"/>
<ellipse cx="1041" cy="1439.9" rx="8" ry="7.2" transform="rotate(-53 1041 1439.9)" fill="#0214ef"/>
<ellipse cx="1027" cy="1448.7" rx="7.9" ry="5.8" transform="rotate(0 1027 1448.7)" fill="#0818ee"/>
<ellipse cx="1048.1" cy="1422.3" rx="9" ry="7" transform="rotate(-56 1048.1 1422.3)" fill="#021ce4"/>
<ellipse cx="1060.4" cy="1411.8" rx="8.9" ry="6.6" transform="rotate(26 1060.4 1411.8)" fill="#020bf4"/>
<ellipse cx="1081.4" cy="1441.7" rx="8.2" ry="5.9" transform="rotate(-22 1081.4 1441.7)" fill="#0812f4"/>
<ellipse cx="1090.2" cy="1415.3" rx="9.1" ry="6.5" transform="rotate(18 1090.2 1415.3)" fill="#0216f1"/>
<ellipse cx="1102.5" cy="1429.4" rx="8.1" ry="6" transform="rotate(22 1102.5 1429.4)" fill="#070bfb"/>
<ellipse cx="1128.8" cy="1431.1" rx="8.2" ry="6.5" transform="rotate(23 1128.8 1431.1)" fill="#000ef7"/>
<ellipse cx="632" cy="1464.5" rx="8.6" ry="6.9" transform="rotate(58 632 1464.5)" fill="#071ae5"/>
<ellipse cx="670.6" cy="1473.3" rx="9.1" ry="5.9" transform="rotate(-31 670.6 1473.3)" fill="#080efd"/>
<ellipse cx="653" cy="1480.3" rx="7.8" ry="6.6" transform="rotate(-3 653 1480.3)" fill="#010bfe"/>
<ellipse cx="644.3" cy="1490.8" rx="9" ry="6.8" transform="rotate(57 644.3 1490.8)" fill="#0313f4"/>
<ellipse cx="616.2" cy="1492.6" rx="8.1" ry="6.6" transform="rotate(-30 616.2 1492.6)" fill="#0111ef"/>
<ellipse cx="763.7" cy="1461" rx="8.3" ry="6.3" transform="rotate(57 763.7 1461)" fill="#030bf4"/>
<ellipse cx="765.4" cy="1471.5" rx="7.9" ry="6.6" transform="rotate(59 765.4 1471.5)" fill="#051cf8"/>
<ellipse cx="812.8" cy="1464.5" rx="9" ry="7" transform="rotate(10 812.8 1464.5)" fill="#0218fd"/>
<ellipse cx="805.8" cy="1483.8" rx="9.3" ry="7.1" transform="rotate(-34 805.8 1483.8)" fill="#0010ed"/>
<ellipse cx="874.3" cy="1462.7" rx="8.4" ry="6.1" transform="rotate(35 874.3 1462.7)" fill="#0219fa"/>
<ellipse cx="881.3" cy="1459.2" rx="8" ry="6.1" transform="rotate(-3 881.3 1459.2)" fill="#0718ea"/>
<ellipse cx="893.6" cy="1461" rx="8.6" ry="6.7" transform="rotate(-38 893.6 1461)" fill="#031bf0"/>
<ellipse cx="890.1" cy="1476.8" rx="8.4" ry="5.9" transform="rotate(22 890.1 1476.8)" fill="#041dec"/>
<ellipse cx="870.7" cy="1492.6" rx="7.6" ry="6.1" transform="rotate(-28 870.7 1492.6)" fill="#0312ed"/>
<ellipse cx="854.9" cy="1496.1" rx="7.8" ry="5.9" transform="rotate(27 854.9 1496.1)" fill="#050ef9"/>
<ellipse cx="942.7" cy="1501.3" rx="9.1" ry="6.8" transform="rotate(48 942.7 1501.3)" fill="#0516e1"/>
<ellipse cx="1044.6" cy="1466.2" rx="8.5" ry="7" transform="rotate(-14 1044.6 1466.2)" fill="#080be9"/>
<ellipse cx="1055.1" cy="1473.3" rx="8.2" ry="6.7" transform="rotate(-1 1055.1 1473.3)" fill="#021ae7"/>
<ellipse cx="1044.6" cy="1480.3" rx="8.8" ry="5.8" transform="rotate(-22 1044.6 1480.3)" fill="#071bee"/>
<ellipse cx="1065.6" cy="1489.1" rx="9" ry="6.5" transform="rotate(5 1065.6 1489.1)" fill="#0716eb"/>
<ellipse cx="1037.5" cy="1492.6" rx="7.9" ry="6.1" transform="rotate(-26 1037.5 1492.6)" fill="#0716f7"/>
<ellipse cx="1113" cy="1476.8" rx="7.9" ry="6.5" transform="rotate(-17 1113 1476.8)" fill="#0415e4"/>
<ellipse cx="1123.6" cy="1496.1" rx="8.3" ry="6.1" transform="rotate(-55 1123.6 1496.1)" fill="#071ce1"/>
<ellipse cx="1016.5" cy="1501.3" rx="7.6" ry="6.9" transform="rotate(29 1016.5 1501.3)" fill="#0110f6"/>
<ellipse cx="672.4" cy="1157.2" rx="7.2" ry="6" transform="rotate(-45 672.4 1157.2)" fill="url(#cyg)"/>
<ellipse cx="707.5" cy="1185.3" rx="7.2" ry="6" transform="rotate(33 707.5 1185.3)" fill="url(#cyg)"/>
<ellipse cx="898.8" cy="1215.2" rx="7.2" ry="6" transform="rotate(-45 898.8 1215.2)" fill="url(#cyg)"/>
<ellipse cx="988.4" cy="1231" rx="7.2" ry="6" transform="rotate(51 988.4 1231)" fill="url(#cyg)"/>
<ellipse cx="1051.6" cy="1253.8" rx="7.2" ry="6" transform="rotate(-33 1051.6 1253.8)" fill="url(#cyg)"/>
<ellipse cx="691.7" cy="1280.1" rx="7.2" ry="6" transform="rotate(32 691.7 1280.1)" fill="url(#cyg)"/>
<ellipse cx="711" cy="1324" rx="7.2" ry="6" transform="rotate(2 711 1324)" fill="url(#cyg)"/>
<ellipse cx="953.3" cy="1306.5" rx="7.2" ry="6" transform="rotate(36 953.3 1306.5)" fill="url(#cyg)"/>
</g>
<g>
<g class="pts" ><rect x="1222.1" y="169.1" width="69.6" height="266.6" fill="#c6dcf5" stroke="#000" stroke-width="4.2"/><rect x="1336.6" y="165.4" width="70.8" height="270.3" fill="#fabddd" stroke="#000" stroke-width="4.2"/><path d="M1180.2 112V435.7H1449.7M1167 435.7H1180.2M1167 328.5H1180.2M1167 221.3H1180.2M1167 114.1H1180.2M1256.5 435.7V450M1371.8 435.7V450M1257 141.8V114.7H1371.7V141.8M1257.4 163.9V169M1237.8 163.9H1276.3M1237.8 169H1276.3M1371.8 160.3V165.3M1352.7 160.3H1391.2M1352.7 165.3H1391.2" fill="none" stroke="#000" stroke-width="4.2" stroke-linejoin="miter" stroke-linecap="butt"/><circle fill="none" stroke="#000" stroke-width="3.4" cx="1225.2" cy="170.2" r="5.8"/><circle fill="none" stroke="#000" stroke-width="3.4" cx="1256.7" cy="162.3" r="5.8"/><circle fill="none" stroke="#000" stroke-width="3.4" cx="1288.9" cy="167" r="5.8"/><circle fill="none" stroke="#000" stroke-width="3.4" cx="1340" cy="164.7" r="5.8"/><circle fill="none" stroke="#000" stroke-width="3.4" cx="1371.5" cy="158.4" r="5.8"/><circle fill="none" stroke="#000" stroke-width="3.4" cx="1403.8" cy="163.9" r="5.8"/><text x="1143.3" y="450" style='font-family:"Liberation Serif", serif;font-size:41px;font-weight:bold'>0</text><text x="1122.8" y="342.8" style='font-family:"Liberation Serif", serif;font-size:41px;font-weight:bold'>20</text><text x="1122.8" y="235.6" style='font-family:"Liberation Serif", serif;font-size:41px;font-weight:bold'>40</text><text x="1122.8" y="128.4" style='font-family:"Liberation Serif", serif;font-size:41px;font-weight:bold'>60</text><text x="1292.4" y="105.6" style='font-family:"Liberation Serif", serif;font-size:54px;font-style:italic' textLength="51.7" lengthAdjust="spacingAndGlyphs">ns</text><text transform="translate(1058 442) rotate(-90)" style='font-family:"Liberation Serif", serif;font-size:39.7px;font-weight:bold'>Cell cycle(G2+S)(%)</text><text transform="translate(1105 312.7) rotate(-90)" style='font-family:"Liberation Serif", serif;font-size:40.5px;font-weight:bold'>(n=3)</text><text x="1228.2" y="491" style='font-family:"Liberation Serif", serif;font-size:40.4px;font-weight:bold' textLength="59.8" lengthAdjust="spacingAndGlyphs">NC</text><text x="1295.3" y="491" style='font-family:"Liberation Serif", serif;font-size:40.4px;font-weight:bold'>GW4869</text></g>
</g>
<g>
<g class="pts" ><rect x="1640" y="218.5" width="74" height="222" fill="#c6dcf5" stroke="#000" stroke-width="4"/><rect x="1761" y="212" width="73.6" height="228.5" fill="#fabddd" stroke="#000" stroke-width="4"/><path d="M1597.7 101V440.5H1881.7M1582.3 440.5H1597.7M1582.3 328H1597.7M1582.3 215.5H1597.7M1582.3 103H1597.7M1677.5 440.5V454M1797.8 440.5V454M1677.9 176V149H1799.5V176M1797.6 191.6V229M1778.7 191.6H1817.6M1778.7 229H1817.6" fill="none" stroke="#000" stroke-width="4" stroke-linejoin="miter" stroke-linecap="butt"/><circle fill="none" stroke="#000" stroke-width="3.2" cx="1645" cy="215.8" r="5.9"/><circle fill="none" stroke="#000" stroke-width="3.2" cx="1658.4" cy="215.8" r="5.9"/><circle fill="none" stroke="#000" stroke-width="3.2" cx="1671.7" cy="215.8" r="5.9"/><circle fill="none" stroke="#000" stroke-width="3.2" cx="1685" cy="215.8" r="5.9"/><circle fill="none" stroke="#000" stroke-width="3.2" cx="1698.5" cy="215.8" r="5.9"/><circle fill="none" stroke="#000" stroke-width="3.2" cx="1711.8" cy="215.8" r="5.9"/><circle fill="none" stroke="#000" stroke-width="3.2" cx="1764.7" cy="198.3" r="5.9"/><circle fill="none" stroke="#000" stroke-width="3.2" cx="1797.6" cy="191.6" r="5.9"/><circle fill="none" stroke="#000" stroke-width="3.2" cx="1831" cy="191.6" r="5.9"/><circle fill="none" stroke="#000" stroke-width="3.2" cx="1797.6" cy="220" r="5.9"/><circle fill="none" stroke="#000" stroke-width="3.2" cx="1831" cy="218" r="5.9"/><circle fill="none" stroke="#000" stroke-width="3.2" cx="1797.6" cy="238" r="5.9"/><text x="1525.9" y="455.5" style='font-family:"Liberation Serif", serif;font-size:43px;font-weight:bold'>0.0</text><text x="1525.7" y="343" style='font-family:"Liberation Serif", serif;font-size:43px;font-weight:bold'>0.5</text><text x="1525.9" y="230.5" style='font-family:"Liberation Serif", serif;font-size:43px;font-weight:bold'>1.0</text><text x="1525.7" y="118" style='font-family:"Liberation Serif", serif;font-size:43px;font-weight:bold'>1.5</text><text x="1715.9" y="139" style='font-family:"Liberation Serif", serif;font-size:50px;font-style:italic' textLength="53.9" lengthAdjust="spacingAndGlyphs">ns</text><text transform="translate(1507.3 387.8) rotate(-90)" style='font-family:"Liberation Serif", serif;font-size:41.2px;font-weight:bold'>OD value(nm)</text><text x="1647.3" y="497.3" style='font-family:"Liberation Serif", serif;font-size:42.3px;font-weight:bold' textLength="62.1" lengthAdjust="spacingAndGlyphs">NC</text><text x="1718" y="497.3" style='font-family:"Liberation Serif", serif;font-size:42.3px;font-weight:bold'>GW4869</text></g>
</g>
<g>
<g class="pts" ><rect x="1274.4" y="780.6" width="72.9" height="194.1" fill="#c6dcf5" stroke="#000" stroke-width="4"/><rect x="1393" y="774" width="72.4" height="200.7" fill="#fabddd" stroke="#000" stroke-width="4"/><path d="M1231.3 636.4V974.7H1510.6M1217.2 974.7H1231.3M1217.2 907.4H1231.3M1217.2 840.2H1231.3M1217.2 772.9H1231.3M1217.2 705.7H1231.3M1217.2 638.4H1231.3M1310.3 974.7V989M1429.8 974.7V989M1310.3 731.7V704.4H1431.3V731.7M1311 741.6V813.4M1292 741.6H1330M1292 813.4H1330M1430.4 756.8V785.2M1410.8 756.8H1448.6M1410.8 785.2H1448.6" fill="none" stroke="#000" stroke-width="4" stroke-linejoin="miter" stroke-linecap="butt"/><circle fill="none" stroke="#000" stroke-width="3.3" cx="1277.6" cy="760.4" r="6"/><circle fill="none" stroke="#000" stroke-width="3.3" cx="1344.2" cy="754.4" r="6"/><circle fill="none" stroke="#000" stroke-width="3.3" cx="1311" cy="820.3" r="6"/><circle fill="none" stroke="#000" stroke-width="3.3" cx="1430.4" cy="763.4" r="6"/><circle fill="none" stroke="#000" stroke-width="3.3" cx="1463.7" cy="762" r="6"/><circle fill="none" stroke="#000" stroke-width="3.3" cx="1430.4" cy="789.2" r="6"/><text x="1139.7" y="989.7" style='font-family:"Liberation Serif", serif;font-size:43px;font-weight:bold'>0.00</text><text x="1139.7" y="922.4" style='font-family:"Liberation Serif", serif;font-size:43px;font-weight:bold'>0.02</text><text x="1138.8" y="855.2" style='font-family:"Liberation Serif", serif;font-size:43px;font-weight:bold'>0.04</text><text x="1139.2" y="787.9" style='font-family:"Liberation Serif", serif;font-size:43px;font-weight:bold'>0.06</text><text x="1139.5" y="720.7" style='font-family:"Liberation Serif", serif;font-size:43px;font-weight:bold'>0.08</text><text x="1139.7" y="653.4" style='font-family:"Liberation Serif", serif;font-size:43px;font-weight:bold'>0.10</text><text x="1346.3" y="693.8" style='font-family:"Liberation Serif", serif;font-size:54px;font-style:italic' textLength="55.8" lengthAdjust="spacingAndGlyphs">ns</text><text transform="translate(1071 966.4) rotate(-90)" style='font-family:"Liberation Serif", serif;font-size:41.7px;font-weight:bold'>Apoptosis rate (%)</text><text transform="translate(1119.5 843.9) rotate(-90)" style='font-family:"Liberation Serif", serif;font-size:41.3px;font-weight:bold'>(n=3)</text><text x="1280.2" y="1031" style='font-family:"Liberation Serif", serif;font-size:42.6px;font-weight:bold' textLength="62.9" lengthAdjust="spacingAndGlyphs">NC</text><text x="1350.2" y="1031" style='font-family:"Liberation Serif", serif;font-size:42.6px;font-weight:bold' textLength="159.2" lengthAdjust="spacingAndGlyphs">GW4869</text></g>
</g>
<g>
<g class="pts" ><rect x="1395.6" y="1266" width="75.6" height="177.2" fill="#c6dcf5" stroke="#000" stroke-width="4"/><rect x="1518.8" y="1284.2" width="75.6" height="159" fill="#fabddd" stroke="#000" stroke-width="4"/><path d="M1349.8 1105.8V1443.2H1640.3M1336.8 1443.2H1349.8M1336.8 1331.4H1349.8M1336.8 1219.6H1349.8M1336.8 1107.8H1349.8M1433 1443.2V1458.3M1556.5 1443.2V1458.3M1433 1207.1V1179.3H1553.4V1207.1M1433 1226.2V1298.5M1412.7 1226.2H1453.3M1412.7 1298.5H1453.3M1557 1245.6V1317.6M1536.8 1245.6H1576.8M1536.8 1317.6H1576.8" fill="none" stroke="#000" stroke-width="4" stroke-linejoin="miter" stroke-linecap="butt"/><circle fill="none" stroke="#000" stroke-width="3.3" cx="1433.9" cy="1221.6" r="5.9"/><circle fill="none" stroke="#000" stroke-width="3.3" cx="1433.9" cy="1273.7" r="5.9"/><circle fill="none" stroke="#000" stroke-width="3.3" cx="1433.9" cy="1290.3" r="5.9"/><circle fill="none" stroke="#000" stroke-width="3.3" cx="1557" cy="1245" r="5.9"/><circle fill="none" stroke="#000" stroke-width="3.3" cx="1557" cy="1283.4" r="5.9"/><circle fill="none" stroke="#000" stroke-width="3.3" cx="1557" cy="1317" r="5.9"/><text x="1259.5" y="1458.2" style='font-family:"Liberation Serif", serif;font-size:43px;font-weight:bold'>0.00</text><text x="1259.3" y="1346.4" style='font-family:"Liberation Serif", serif;font-size:43px;font-weight:bold'>0.05</text><text x="1259.5" y="1234.6" style='font-family:"Liberation Serif", serif;font-size:43px;font-weight:bold'>0.10</text><text x="1259.3" y="1122.8" style='font-family:"Liberation Serif", serif;font-size:43px;font-weight:bold'>0.15</text><text x="1469.7" y="1170.2" style='font-family:"Liberation Serif", serif;font-size:55px;font-style:italic' textLength="53.2" lengthAdjust="spacingAndGlyphs">ns</text><text transform="translate(1190.6 1463.2) rotate(-90)" style='font-family:"Liberation Serif", serif;font-size:40.8px;font-weight:bold'>Postive cells/Totel cells</text><text transform="translate(1238.5 1354.7) rotate(-90)" style='font-family:"Liberation Serif", serif;font-size:41.7px;font-weight:bold'>(%) (n=3)</text><text x="1403" y="1500.3" style='font-family:"Liberation Serif", serif;font-size:43px;font-weight:bold' textLength="62.9" lengthAdjust="spacingAndGlyphs">NC</text><text x="1477.4" y="1500.3" style='font-family:"Liberation Serif", serif;font-size:43px;font-weight:bold' textLength="159.3" lengthAdjust="spacingAndGlyphs">GW4869</text></g>
</g>
<g>
<g class="pts" ><rect x="190.5" y="1664.5" width="52.9" height="212.6" fill="#c6dcf5" stroke="#000" stroke-width="3.2"/><rect x="278.8" y="1647.5" width="53.7" height="229.6" fill="#fabddd" stroke="#000" stroke-width="3.2"/><path d="M157.9 1554.2V1877.1H365.6M148.9 1877.1H157.9M148.9 1770H157.9M148.9 1662.9H157.9M148.9 1555.8H157.9M216.7 1877.1V1888M304.6 1877.1V1888M215.5 1618V1603.5H305.6V1618M218 1639.4V1684.6M203.4 1639.4H232M203.4 1684.6H232M305.6 1633.8V1658M290.6 1633.8H319.6M290.6 1658H319.6" fill="none" stroke="#000" stroke-width="3.2" stroke-linejoin="miter" stroke-linecap="butt"/><circle fill="none" stroke="#000" stroke-width="2.7" cx="193.7" cy="1658" r="4.6"/><circle fill="none" stroke="#000" stroke-width="2.7" cx="217.4" cy="1631.4" r="4.6"/><circle fill="none" stroke="#000" stroke-width="2.7" cx="217.4" cy="1645.9" r="4.6"/><circle fill="none" stroke="#000" stroke-width="2.7" cx="242.1" cy="1663.3" r="4.6"/><circle fill="none" stroke="#000" stroke-width="2.7" cx="217.4" cy="1672" r="4.6"/><circle fill="none" stroke="#000" stroke-width="2.7" cx="217.4" cy="1699.2" r="4.6"/><circle fill="none" stroke="#000" stroke-width="2.7" cx="282.1" cy="1639.1" r="4.6"/><circle fill="none" stroke="#000" stroke-width="2.7" cx="297.3" cy="1635.7" r="4.6"/><circle fill="none" stroke="#000" stroke-width="2.7" cx="313.6" cy="1638.2" r="4.6"/><circle fill="none" stroke="#000" stroke-width="2.7" cx="329.8" cy="1636.7" r="4.6"/><circle fill="none" stroke="#000" stroke-width="2.7" cx="297.3" cy="1662.9" r="4.6"/><circle fill="none" stroke="#000" stroke-width="2.7" cx="313.6" cy="1662.9" r="4.6"/><text x="108.6" y="1888" style='font-family:"Liberation Serif", serif;font-size:30.7px;font-weight:bold'>0.0</text><text x="108.4" y="1780.9" style='font-family:"Liberation Serif", serif;font-size:30.7px;font-weight:bold'>0.5</text><text x="108.6" y="1673.8" style='font-family:"Liberation Serif", serif;font-size:30.7px;font-weight:bold'>1.0</text><text x="108.4" y="1566.7" style='font-family:"Liberation Serif", serif;font-size:30.7px;font-weight:bold'>1.5</text><text x="240.5" y="1596.3" style='font-family:"Liberation Serif", serif;font-size:38px;font-style:italic' textLength="39.3" lengthAdjust="spacingAndGlyphs">ns</text><text transform="translate(41.8 1830.4) rotate(-90)" style='font-family:"Liberation Serif", serif;font-size:30px;font-weight:bold'>E-cadherin mRNA</text><text transform="translate(77.5 1816.5) rotate(-90)" style='font-family:"Liberation Serif", serif;font-size:30.3px;font-weight:bold'>expression (n=6)</text><text x="194.5" y="1918.2" style='font-family:"Liberation Serif", serif;font-size:31px;font-weight:bold' textLength="45.6" lengthAdjust="spacingAndGlyphs">NC</text><text x="247" y="1918.2" style='font-family:"Liberation Serif", serif;font-size:31px;font-weight:bold'>GW4869</text></g>
</g>
<g>
<g class="pts" ><rect x="540.3" y="1672.5" width="56.6" height="201.3" fill="#c6dcf5" stroke="#000" stroke-width="3.2"/><rect x="632.9" y="1651.8" width="56.1" height="222" fill="#fabddd" stroke="#000" stroke-width="3.2"/><path d="M507 1566.8V1873.8H723.6M496.7 1873.8H507M496.7 1772H507M496.7 1670.2H507M496.7 1568.4H507M568.4 1873.8V1884.9M659.9 1873.8V1884.9M566.3 1625.7V1587.6H661.2V1603.8M568.4 1654.6V1685M553.4 1654.6H583M553.4 1685H583M659.9 1630.4V1668.3M645 1630.4H675.1M645 1668.3H675.1" fill="none" stroke="#000" stroke-width="3.2" stroke-linejoin="miter" stroke-linecap="butt"/><circle fill="none" stroke="#000" stroke-width="2.7" cx="543.6" cy="1665.7" r="4.6"/><circle fill="none" stroke="#000" stroke-width="2.7" cx="543.6" cy="1681.2" r="4.6"/><circle fill="none" stroke="#000" stroke-width="2.7" cx="559.8" cy="1675.5" r="4.6"/><circle fill="none" stroke="#000" stroke-width="2.7" cx="576.6" cy="1640.4" r="4.6"/><circle fill="none" stroke="#000" stroke-width="2.7" cx="576.6" cy="1678.6" r="4.6"/><circle fill="none" stroke="#000" stroke-width="2.7" cx="594.1" cy="1676" r="4.6"/><circle fill="none" stroke="#000" stroke-width="2.7" cx="660.4" cy="1618.5" r="4.6"/><circle fill="none" stroke="#000" stroke-width="2.7" cx="660.4" cy="1627.8" r="4.6"/><circle fill="none" stroke="#000" stroke-width="2.7" cx="635.4" cy="1653.6" r="4.6"/><circle fill="none" stroke="#000" stroke-width="2.7" cx="635.4" cy="1669" r="4.6"/><circle fill="none" stroke="#000" stroke-width="2.7" cx="660.4" cy="1656.7" r="4.6"/><circle fill="none" stroke="#000" stroke-width="2.7" cx="686.2" cy="1662.3" r="4.6"/><text x="456.4" y="1884.7" style='font-family:"Liberation Serif", serif;font-size:30.7px;font-weight:bold'>0.0</text><text x="456.2" y="1782.9" style='font-family:"Liberation Serif", serif;font-size:30.7px;font-weight:bold'>0.5</text><text x="456.4" y="1681.1" style='font-family:"Liberation Serif", serif;font-size:30.7px;font-weight:bold'>1.0</text><text x="456.2" y="1579.3" style='font-family:"Liberation Serif", serif;font-size:30.7px;font-weight:bold'>1.5</text><text x="591.8" y="1581.9" style='font-family:"Liberation Serif", serif;font-size:41px;font-style:italic' textLength="41.6" lengthAdjust="spacingAndGlyphs">ns</text><text transform="translate(401.8 1841.6) rotate(-90)" style='font-family:"Liberation Serif", serif;font-size:31.5px;font-weight:bold'>N-cadherin mRNA</text><text transform="translate(441.1 1825.1) rotate(-90)" style='font-family:"Liberation Serif", serif;font-size:31.5px;font-weight:bold'>expression (n=6)</text><text x="545.6" y="1916.8" style='font-family:"Liberation Serif", serif;font-size:32.4px;font-weight:bold' textLength="47.5" lengthAdjust="spacingAndGlyphs">NC</text><text x="599.2" y="1916.8" style='font-family:"Liberation Serif", serif;font-size:32.4px;font-weight:bold'>GW4869</text></g>
</g>
<g>
<g class="pts" ><rect x="917.7" y="1686.6" width="59.2" height="193.9" fill="#c6dcf5" stroke="#000" stroke-width="3.2"/><rect x="1015.5" y="1674.5" width="59.4" height="206" fill="#fabddd" stroke="#000" stroke-width="3.2"/><path d="M882.3 1584.3V1880.5H1111.3M872 1880.5H882.3M872 1782.3H882.3M872 1684.1H882.3M872 1585.9H882.3M947.6 1880.5V1891.3M1045 1880.5V1891.3M948.9 1615.4V1575.4H1046.1V1592.2M947.6 1662.3V1703.6M931.3 1662.3H963.8M931.3 1703.6H963.8M1045 1639.1V1705.7M1029.3 1639.1H1061M1029.3 1705.7H1061" fill="none" stroke="#000" stroke-width="3.2" stroke-linejoin="miter" stroke-linecap="butt"/><circle fill="none" stroke="#000" stroke-width="2.7" cx="920.5" cy="1667.5" r="4.6"/><circle fill="none" stroke="#000" stroke-width="2.7" cx="920.5" cy="1679.9" r="4.6"/><circle fill="none" stroke="#000" stroke-width="2.7" cx="938.6" cy="1670.9" r="4.6"/><circle fill="none" stroke="#000" stroke-width="2.7" cx="957.4" cy="1677.8" r="4.6"/><circle fill="none" stroke="#000" stroke-width="2.7" cx="976" cy="1677.3" r="4.6"/><circle fill="none" stroke="#000" stroke-width="2.7" cx="938.6" cy="1723.7" r="4.6"/><circle fill="none" stroke="#000" stroke-width="2.7" cx="1045" cy="1608.4" r="4.6"/><circle fill="none" stroke="#000" stroke-width="2.7" cx="1024.2" cy="1670.9" r="4.6"/><circle fill="none" stroke="#000" stroke-width="2.7" cx="1066.2" cy="1675.5" r="4.6"/><circle fill="none" stroke="#000" stroke-width="2.7" cx="1045" cy="1683.7" r="4.6"/><circle fill="none" stroke="#000" stroke-width="2.7" cx="1024.2" cy="1697.9" r="4.6"/><circle fill="none" stroke="#000" stroke-width="2.7" cx="1066.2" cy="1697.4" r="4.6"/><text x="831.7" y="1891.4" style='font-family:"Liberation Serif", serif;font-size:30.7px;font-weight:bold'>0.0</text><text x="831.5" y="1793.2" style='font-family:"Liberation Serif", serif;font-size:30.7px;font-weight:bold'>0.5</text><text x="831.7" y="1695" style='font-family:"Liberation Serif", serif;font-size:30.7px;font-weight:bold'>1.0</text><text x="831.5" y="1596.8" style='font-family:"Liberation Serif", serif;font-size:30.7px;font-weight:bold'>1.5</text><text x="977.6" y="1569" style='font-family:"Liberation Serif", serif;font-size:39px;font-style:italic' textLength="40.3" lengthAdjust="spacingAndGlyphs">ns</text><text transform="translate(775.2 1840.1) rotate(-90)" style='font-family:"Liberation Serif", serif;font-size:31.5px;font-weight:bold'>Vimentin mRNA</text><text transform="translate(814.3 1840.9) rotate(-90)" style='font-family:"Liberation Serif", serif;font-size:32.5px;font-weight:bold'>expression (n=6)</text><text x="923.9" y="1925.1" style='font-family:"Liberation Serif", serif;font-size:33.4px;font-weight:bold' textLength="48.8" lengthAdjust="spacingAndGlyphs">NC</text><text x="982.2" y="1925.1" style='font-family:"Liberation Serif", serif;font-size:33.4px;font-weight:bold' textLength="124.6" lengthAdjust="spacingAndGlyphs">GW4869</text></g>
</g>
<g>
<g class="pts" ><rect x="1299.5" y="1692.3" width="56.7" height="193.9" fill="#c6dcf5" stroke="#000" stroke-width="3.2"/><rect x="1392.9" y="1660.8" width="56.9" height="225.4" fill="#fabddd" stroke="#000" stroke-width="3.2"/><path d="M1265.7 1591.7V1886.2H1484.9M1255.4 1886.2H1265.7M1255.4 1788.5H1265.7M1255.4 1690.9H1265.7M1255.4 1593.2H1265.7M1328.4 1886.2V1897.8M1421.2 1886.2V1897.8M1325.8 1633.5V1594.8H1421.2V1611.5M1328.4 1661.8V1717.3M1312.9 1661.8H1343M1312.9 1717.3H1343M1421.2 1615.9V1700M1405 1615.9H1436.7M1405 1700H1436.7" fill="none" stroke="#000" stroke-width="3.2" stroke-linejoin="miter" stroke-linecap="butt"/><circle fill="none" stroke="#000" stroke-width="2.7" cx="1328.4" cy="1648.4" r="4.6"/><circle fill="none" stroke="#000" stroke-width="2.7" cx="1307.7" cy="1677.8" r="4.6"/><circle fill="none" stroke="#000" stroke-width="2.7" cx="1328.4" cy="1677.8" r="4.6"/><circle fill="none" stroke="#000" stroke-width="2.7" cx="1349" cy="1698.4" r="4.6"/><circle fill="none" stroke="#000" stroke-width="2.7" cx="1328.4" cy="1703.6" r="4.6"/><circle fill="none" stroke="#000" stroke-width="2.7" cx="1328.4" cy="1730.9" r="4.6"/><circle fill="none" stroke="#000" stroke-width="2.7" cx="1400.6" cy="1611.5" r="4.6"/><circle fill="none" stroke="#000" stroke-width="2.7" cx="1442.3" cy="1612.3" r="4.6"/><circle fill="none" stroke="#000" stroke-width="2.7" cx="1421.2" cy="1646.9" r="4.6"/><circle fill="none" stroke="#000" stroke-width="2.7" cx="1442.3" cy="1677.3" r="4.6"/><circle fill="none" stroke="#000" stroke-width="2.7" cx="1421.2" cy="1683.7" r="4.6"/><circle fill="none" stroke="#000" stroke-width="2.7" cx="1421.2" cy="1716" r="4.6"/><text x="1215.1" y="1897.1" style='font-family:"Liberation Serif", serif;font-size:30.7px;font-weight:bold'>0.0</text><text x="1214.9" y="1799.5" style='font-family:"Liberation Serif", serif;font-size:30.7px;font-weight:bold'>0.5</text><text x="1215.1" y="1701.8" style='font-family:"Liberation Serif", serif;font-size:30.7px;font-weight:bold'>1.0</text><text x="1214.9" y="1604.2" style='font-family:"Liberation Serif", serif;font-size:30.7px;font-weight:bold'>1.5</text><text x="1349.8" y="1578" style='font-family:"Liberation Serif", serif;font-size:39px;font-style:italic' textLength="40.3" lengthAdjust="spacingAndGlyphs">ns</text><text transform="translate(1161 1839.6) rotate(-90)" style='font-family:"Liberation Serif", serif;font-size:32.7px;font-weight:bold'>α-SMA mRNA</text><text transform="translate(1197.3 1846.1) rotate(-90)" style='font-family:"Liberation Serif", serif;font-size:32px;font-weight:bold'>expression (n=6)</text><text x="1305.6" y="1930.3" style='font-family:"Liberation Serif", serif;font-size:32.5px;font-weight:bold' textLength="46.4" lengthAdjust="spacingAndGlyphs">NC</text><text x="1360.4" y="1930.3" style='font-family:"Liberation Serif", serif;font-size:32.5px;font-weight:bold'>GW4869</text></g>
</g>
<g>
<g class="pts" ><rect x="1677.2" y="1685.3" width="58.7" height="195.7" fill="#c6dcf5" stroke="#000" stroke-width="3.2"/><rect x="1773.9" y="1672.5" width="58.7" height="208.5" fill="#fabddd" stroke="#000" stroke-width="3.2"/><path d="M1641.6 1584.8V1881H1869M1630.5 1881H1641.6M1630.5 1782.8H1641.6M1630.5 1684.6H1641.6M1630.5 1586.4H1641.6M1706 1881V1892.4M1802.7 1881V1892.4M1706 1628.3V1611.5H1804.5V1630.9M1706.5 1654.1V1711.3M1691 1654.1H1722.5M1691 1711.3H1722.5M1803.2 1644.5V1696.1M1787.8 1644.5H1818.7M1787.8 1696.1H1818.7" fill="none" stroke="#000" stroke-width="3.2" stroke-linejoin="miter" stroke-linecap="butt"/><circle fill="none" stroke="#000" stroke-width="2.7" cx="1679.5" cy="1665.7" r="4.6"/><circle fill="none" stroke="#000" stroke-width="2.7" cx="1706.5" cy="1655.4" r="4.6"/><circle fill="none" stroke="#000" stroke-width="2.7" cx="1733.6" cy="1665.7" r="4.6"/><circle fill="none" stroke="#000" stroke-width="2.7" cx="1706.5" cy="1674.2" r="4.6"/><circle fill="none" stroke="#000" stroke-width="2.7" cx="1706.5" cy="1701.8" r="4.6"/><circle fill="none" stroke="#000" stroke-width="2.7" cx="1706.5" cy="1731.4" r="4.6"/><circle fill="none" stroke="#000" stroke-width="2.7" cx="1803.2" cy="1635.5" r="4.6"/><circle fill="none" stroke="#000" stroke-width="2.7" cx="1776.7" cy="1662.3" r="4.6"/><circle fill="none" stroke="#000" stroke-width="2.7" cx="1830.3" cy="1660.5" r="4.6"/><circle fill="none" stroke="#000" stroke-width="2.7" cx="1830.3" cy="1672.1" r="4.6"/><circle fill="none" stroke="#000" stroke-width="2.7" cx="1803.2" cy="1676.8" r="4.6"/><circle fill="none" stroke="#000" stroke-width="2.7" cx="1803.2" cy="1714.7" r="4.6"/><text x="1590.2" y="1891.9" style='font-family:"Liberation Serif", serif;font-size:30.7px;font-weight:bold'>0.0</text><text x="1590" y="1793.7" style='font-family:"Liberation Serif", serif;font-size:30.7px;font-weight:bold'>0.5</text><text x="1590.2" y="1695.5" style='font-family:"Liberation Serif", serif;font-size:30.7px;font-weight:bold'>1.0</text><text x="1590" y="1597.3" style='font-family:"Liberation Serif", serif;font-size:30.7px;font-weight:bold'>1.5</text><text x="1731.3" y="1605.1" style='font-family:"Liberation Serif", serif;font-size:39px;font-style:italic' textLength="43.1" lengthAdjust="spacingAndGlyphs">ns</text><text transform="translate(1525 1855.6) rotate(-90)" style='font-family:"Liberation Serif", serif;font-size:33.5px;font-weight:bold'>Collagen I mRNA</text><text transform="translate(1569.1 1847.4) rotate(-90)" style='font-family:"Liberation Serif", serif;font-size:34.3px;font-weight:bold'>expression (n=6)</text><text x="1681.9" y="1926.7" style='font-family:"Liberation Serif", serif;font-size:33.5px;font-weight:bold' textLength="52.3" lengthAdjust="spacingAndGlyphs">NC</text><text x="1738.6" y="1926.7" style='font-family:"Liberation Serif", serif;font-size:33.5px;font-weight:bold' textLength="128.9" lengthAdjust="spacingAndGlyphs">GW4869</text></g>
</g>
<g>
<g class="pts" ><rect x="1020.9" y="2052.7" width="54.3" height="169.4" fill="#c6dcf5" stroke="#000" stroke-width="3"/><rect x="1109.5" y="2060.8" width="53.3" height="161.3" fill="#fabddd" stroke="#000" stroke-width="3"/><path d="M990 1977.3V2222.1H1194.7M980.1 2222.1H990M980.1 2141H990M980.1 2059.9H990M980.1 1978.8H990M1048.6 2222.1V2231.8M1135.4 2222.1V2231.8M1048.6 2015.6V2000.1H1136V2015.6M1048.6 2030V2070M1033.7 2030H1062.9M1033.7 2070H1062.9M1135.6 2032.4V2085.7M1121.1 2032.4H1150.3M1121.1 2085.7H1150.3" fill="none" stroke="#000" stroke-width="3" stroke-linejoin="miter" stroke-linecap="butt"/><circle fill="none" stroke="#000" stroke-width="2.7" cx="1048.6" cy="2027" r="3.5"/><circle fill="none" stroke="#000" stroke-width="2.7" cx="1033.7" cy="2065" r="3.5"/><circle fill="none" stroke="#000" stroke-width="2.7" cx="1062.9" cy="2059.3" r="3.5"/><circle fill="none" stroke="#000" stroke-width="2.7" cx="1135.6" cy="2032.4" r="3.5"/><circle fill="none" stroke="#000" stroke-width="2.7" cx="1135.6" cy="2057" r="3.5"/><circle fill="none" stroke="#000" stroke-width="2.7" cx="1135.6" cy="2086.9" r="3.5"/><text x="939.5" y="2232.8" style='font-family:"Liberation Serif", serif;font-size:30px;font-weight:bold'>0.0</text><text x="939.8" y="2151.7" style='font-family:"Liberation Serif", serif;font-size:30px;font-weight:bold'>0.1</text><text x="939.5" y="2070.6" style='font-family:"Liberation Serif", serif;font-size:30px;font-weight:bold'>0.2</text><text x="939.4" y="1989.5" style='font-family:"Liberation Serif", serif;font-size:30px;font-weight:bold'>0.3</text><text x="1077.7" y="1993.7" style='font-family:"Liberation Serif", serif;font-size:36px;font-style:italic' textLength="38.5" lengthAdjust="spacingAndGlyphs">ns</text><text transform="translate(886.6 2212.7) rotate(-90)" style='font-family:"Liberation Serif", serif;font-size:29.3px;font-weight:bold'>E-cadherin protein</text><text transform="translate(925.9 2198.3) rotate(-90)" style='font-family:"Liberation Serif", serif;font-size:29.8px;font-weight:bold'>expression (n=3)</text><text x="1026.5" y="2262.5" style='font-family:"Liberation Serif", serif;font-size:30.6px;font-weight:bold'>NC</text><text x="1077.9" y="2262.5" style='font-family:"Liberation Serif", serif;font-size:30.6px;font-weight:bold'>GW4869</text></g>
</g>
<g>
<g class="pts" ><rect x="1362.9" y="2031.5" width="50.3" height="186.5" fill="#c6dcf5" stroke="#000" stroke-width="3"/><rect x="1445.7" y="2027" width="50.4" height="191" fill="#fabddd" stroke="#000" stroke-width="3"/><path d="M1331.9 1984.9V2218H1527.9M1322.7 2218H1331.9M1322.7 2140.8H1331.9M1322.7 2063.6H1331.9M1322.7 1986.4H1331.9M1387.6 2218V2227.9M1470.6 2218V2227.9M1388.3 1992.6V1978.8H1471.1V1997.2M1388.3 2021.8V2036.3M1374.5 2021.8H1401.4M1374.5 2036.3H1401.4M1471.1 2003.4V2046.2M1457.3 2003.4H1484.2M1457.3 2046.2H1484.2" fill="none" stroke="#000" stroke-width="3" stroke-linejoin="miter" stroke-linecap="butt"/><circle fill="none" stroke="#000" stroke-width="2.7" cx="1388.3" cy="2020.2" r="3.5"/><circle fill="none" stroke="#000" stroke-width="2.7" cx="1368.7" cy="2034.7" r="3.5"/><circle fill="none" stroke="#000" stroke-width="2.7" cx="1406.7" cy="2033.3" r="3.5"/><circle fill="none" stroke="#000" stroke-width="2.7" cx="1471.1" cy="1998.8" r="3.5"/><circle fill="none" stroke="#000" stroke-width="2.7" cx="1452.7" cy="2037.9" r="3.5"/><circle fill="none" stroke="#000" stroke-width="2.7" cx="1489.5" cy="2037" r="3.5"/><text x="1282.1" y="2228.7" style='font-family:"Liberation Serif", serif;font-size:30px;font-weight:bold'>0.0</text><text x="1282.1" y="2151.5" style='font-family:"Liberation Serif", serif;font-size:30px;font-weight:bold'>0.2</text><text x="1281.5" y="2074.3" style='font-family:"Liberation Serif", serif;font-size:30px;font-weight:bold'>0.4</text><text x="1281.8" y="1997.1" style='font-family:"Liberation Serif", serif;font-size:30px;font-weight:bold'>0.6</text><text x="1415.5" y="1973" style='font-family:"Liberation Serif", serif;font-size:36px;font-style:italic' textLength="37.2" lengthAdjust="spacingAndGlyphs">ns</text><text transform="translate(1236.3 2210.6) rotate(-90)" style='font-family:"Liberation Serif", serif;font-size:27.8px;font-weight:bold'>N-cadherin protein</text><text transform="translate(1270.2 2196) rotate(-90)" style='font-family:"Liberation Serif", serif;font-size:28.3px;font-weight:bold'>expression (n=3)</text><text x="1367.7" y="2257" style='font-family:"Liberation Serif", serif;font-size:30.6px;font-weight:bold' textLength="42.4" lengthAdjust="spacingAndGlyphs">NC</text><text x="1416.8" y="2257" style='font-family:"Liberation Serif", serif;font-size:30.6px;font-weight:bold' textLength="108.2" lengthAdjust="spacingAndGlyphs">GW4869</text></g>
</g>
<g>
<g class="pts" ><rect x="1706.6" y="2057.3" width="52.7" height="163.7" fill="#c6dcf5" stroke="#000" stroke-width="3"/><rect x="1794.5" y="2053.2" width="52.9" height="167.8" fill="#fabddd" stroke="#000" stroke-width="3"/><path d="M1674.1 1975V2221H1880M1664.2 2221H1674.1M1664.2 2172.1H1674.1M1664.2 2123.2H1674.1M1664.2 2074.3H1674.1M1664.2 2025.4H1674.1M1664.2 1976.5H1674.1M1732.3 2221V2231.1M1820.6 2221V2231.1M1732.3 2028.2V2018.6H1820.6V2028.2M1732.7 2051.2V2060.9M1719 2051.2H1746.5M1719 2060.9H1746.5M1820.6 2039.7V2062.3M1806.4 2039.7H1835.1M1806.4 2062.3H1835.1" fill="none" stroke="#000" stroke-width="3" stroke-linejoin="miter" stroke-linecap="butt"/><circle fill="none" stroke="#000" stroke-width="2.7" cx="1713.2" cy="2061.6" r="3.5"/><circle fill="none" stroke="#000" stroke-width="2.7" cx="1732.7" cy="2052.4" r="3.5"/><circle fill="none" stroke="#000" stroke-width="2.7" cx="1753" cy="2054" r="3.5"/><circle fill="none" stroke="#000" stroke-width="2.7" cx="1840.4" cy="2040.9" r="3.5"/><circle fill="none" stroke="#000" stroke-width="2.7" cx="1820.6" cy="2049.4" r="3.5"/><circle fill="none" stroke="#000" stroke-width="2.7" cx="1820.6" cy="2062.7" r="3.5"/><text x="1623.6" y="2231.7" style='font-family:"Liberation Serif", serif;font-size:30px;font-weight:bold'>0.0</text><text x="1623.6" y="2182.8" style='font-family:"Liberation Serif", serif;font-size:30px;font-weight:bold'>0.2</text><text x="1623" y="2133.9" style='font-family:"Liberation Serif", serif;font-size:30px;font-weight:bold'>0.4</text><text x="1623.3" y="2085" style='font-family:"Liberation Serif", serif;font-size:30px;font-weight:bold'>0.6</text><text x="1623.5" y="2036.1" style='font-family:"Liberation Serif", serif;font-size:30px;font-weight:bold'>0.8</text><text x="1623.6" y="1987.2" style='font-family:"Liberation Serif", serif;font-size:30px;font-weight:bold'>1.0</text><text x="1757.2" y="2011.7" style='font-family:"Liberation Serif", serif;font-size:36px;font-style:italic' textLength="38.5" lengthAdjust="spacingAndGlyphs">ns</text><text transform="translate(1571.4 2198.7) rotate(-90)" style='font-family:"Liberation Serif", serif;font-size:29.1px;font-weight:bold'>Vimentin protein</text><text transform="translate(1608.8 2198.3) rotate(-90)" style='font-family:"Liberation Serif", serif;font-size:30px;font-weight:bold'>expression (n=3)</text><text x="1711.4" y="2262" style='font-family:"Liberation Serif", serif;font-size:30.6px;font-weight:bold'>NC</text><text x="1762.3" y="2262" style='font-family:"Liberation Serif", serif;font-size:30.6px;font-weight:bold'>GW4869</text></g>
</g>
<g>
<g class="pts" ><rect x="1024.8" y="2362.5" width="55" height="167.6" fill="#c6dcf5" stroke="#000" stroke-width="3"/><rect x="1114.1" y="2357.9" width="55.4" height="172.2" fill="#fabddd" stroke="#000" stroke-width="3"/><path d="M991.8 2278.6V2530.1H1202.8M981.9 2530.1H991.8M981.9 2480.1H991.8M981.9 2430.1H991.8M981.9 2380.1H991.8M981.9 2330.1H991.8M981.9 2280.1H991.8M1052.1 2530.1V2540M1141.8 2530.1V2540M1052.1 2333V2321.9H1142.5V2333M1052.1 2355.7V2365.2M1038.3 2355.7H1065.9M1038.3 2365.2H1065.9M1141.8 2345.4V2367.9M1127.3 2345.4H1156.3M1127.3 2367.9H1156.3" fill="none" stroke="#000" stroke-width="3" stroke-linejoin="miter" stroke-linecap="butt"/><circle fill="none" stroke="#000" stroke-width="2.7" cx="1032" cy="2366.1" r="3.5"/><circle fill="none" stroke="#000" stroke-width="2.7" cx="1052.8" cy="2356.4" r="3.5"/><circle fill="none" stroke="#000" stroke-width="2.7" cx="1072.8" cy="2358.3" r="3.5"/><circle fill="none" stroke="#000" stroke-width="2.7" cx="1161.8" cy="2346.3" r="3.5"/><circle fill="none" stroke="#000" stroke-width="2.7" cx="1141.8" cy="2354.6" r="3.5"/><circle fill="none" stroke="#000" stroke-width="2.7" cx="1141.8" cy="2366.8" r="3.5"/><text x="941.3" y="2540.8" style='font-family:"Liberation Serif", serif;font-size:30px;font-weight:bold'>0.0</text><text x="941.3" y="2490.8" style='font-family:"Liberation Serif", serif;font-size:30px;font-weight:bold'>0.2</text><text x="940.7" y="2440.8" style='font-family:"Liberation Serif", serif;font-size:30px;font-weight:bold'>0.4</text><text x="941" y="2390.8" style='font-family:"Liberation Serif", serif;font-size:30px;font-weight:bold'>0.6</text><text x="941.1" y="2340.8" style='font-family:"Liberation Serif", serif;font-size:30px;font-weight:bold'>0.8</text><text x="941.3" y="2290.8" style='font-family:"Liberation Serif", serif;font-size:30px;font-weight:bold'>1.0</text><text x="1077.7" y="2315" style='font-family:"Liberation Serif", serif;font-size:36px;font-style:italic' textLength="38.5" lengthAdjust="spacingAndGlyphs">ns</text><text transform="translate(886.8 2506.3) rotate(-90)" style='font-family:"Liberation Serif", serif;font-size:29.9px;font-weight:bold'>Vimentin protein</text><text transform="translate(926.6 2502.4) rotate(-90)" style='font-family:"Liberation Serif", serif;font-size:30px;font-weight:bold'>expression (n=3)</text><text x="1030.1" y="2570.4" style='font-family:"Liberation Serif", serif;font-size:30.6px;font-weight:bold' textLength="42.7" lengthAdjust="spacingAndGlyphs">NC</text><text x="1079.2" y="2570.4" style='font-family:"Liberation Serif", serif;font-size:30.6px;font-weight:bold' textLength="122.4" lengthAdjust="spacingAndGlyphs">GW4869</text></g>
</g>
<g>
<g class="pts" ><rect x="1369.8" y="2371.7" width="48.5" height="159.6" fill="#c6dcf5" stroke="#000" stroke-width="3"/><rect x="1450.7" y="2364.1" width="48.3" height="167.2" fill="#fabddd" stroke="#000" stroke-width="3"/><path d="M1340 2304.8V2531.3H1528.6M1330.8 2531.3H1340M1330.8 2486.3H1340M1330.8 2441.3H1340M1330.8 2396.3H1340M1330.8 2351.3H1340M1330.8 2306.3H1340M1394 2531.3V2540M1474.5 2531.3V2540M1392.9 2345.4V2336.2H1474.1V2345.4M1394 2358.7V2381.7M1380.7 2358.7H1407.4M1380.7 2381.7H1407.4M1474.5 2355.7V2369.5M1461.2 2355.7H1487.2M1461.2 2369.5H1487.2" fill="none" stroke="#000" stroke-width="3" stroke-linejoin="miter" stroke-linecap="butt"/><circle fill="none" stroke="#000" stroke-width="2.7" cx="1412.4" cy="2359.9" r="3.5"/><circle fill="none" stroke="#000" stroke-width="2.7" cx="1394" cy="2366.1" r="3.5"/><circle fill="none" stroke="#000" stroke-width="2.7" cx="1394" cy="2384" r="3.5"/><circle fill="none" stroke="#000" stroke-width="2.7" cx="1474.5" cy="2356" r="3.5"/><circle fill="none" stroke="#000" stroke-width="2.7" cx="1492.5" cy="2359.9" r="3.5"/><circle fill="none" stroke="#000" stroke-width="2.7" cx="1456.1" cy="2370.2" r="3.5"/><text x="1290.2" y="2542" style='font-family:"Liberation Serif", serif;font-size:30px;font-weight:bold'>0.0</text><text x="1290.5" y="2497" style='font-family:"Liberation Serif", serif;font-size:30px;font-weight:bold'>0.1</text><text x="1290.2" y="2452" style='font-family:"Liberation Serif", serif;font-size:30px;font-weight:bold'>0.2</text><text x="1290" y="2407" style='font-family:"Liberation Serif", serif;font-size:30px;font-weight:bold'>0.3</text><text x="1289.6" y="2362" style='font-family:"Liberation Serif", serif;font-size:30px;font-weight:bold'>0.4</text><text x="1290" y="2317" style='font-family:"Liberation Serif", serif;font-size:30px;font-weight:bold'>0.5</text><text x="1415" y="2330" style='font-family:"Liberation Serif", serif;font-size:36px;font-style:italic' textLength="36" lengthAdjust="spacingAndGlyphs">ns</text><text transform="translate(1246.4 2518.9) rotate(-90)" style='font-family:"Liberation Serif", serif;font-size:27.2px;font-weight:bold'>Collagen I protein</text><text transform="translate(1281.5 2510.4) rotate(-90)" style='font-family:"Liberation Serif", serif;font-size:27.7px;font-weight:bold'>expression (n=3)</text><text x="1374.6" y="2568" style='font-family:"Liberation Serif", serif;font-size:30.6px;font-weight:bold' textLength="41.2" lengthAdjust="spacingAndGlyphs">NC</text><text x="1421.4" y="2568" style='font-family:"Liberation Serif", serif;font-size:30.6px;font-weight:bold' textLength="104.7" lengthAdjust="spacingAndGlyphs">GW4869</text></g>
</g>
<defs><filter id="bandblur" x="-10%" y="-60%" width="120%" height="220%"><feGaussianBlur stdDeviation="1.6"/></filter><filter id="bgblur"><feGaussianBlur stdDeviation="6"/></filter><filter id="halo" x="-20%" y="-100%" width="140%" height="300%"><feGaussianBlur stdDeviation="4"/></filter></defs>
<clipPath id="clipS0"><rect x="129.7" y="1955.3" width="534.8" height="89.1"/></clipPath>
<g clip-path="url(#clipS0)">
<linearGradient id="sg0" x1="0" x2="1" y1="0" y2="0"><stop offset="0" stop-color="#969696"/><stop offset="0.85" stop-color="#8c8c8c"/><stop offset="1" stop-color="#989898"/></linearGradient>
<rect x="129.7" y="1955.3" width="534.8" height="89.1" fill="url(#sg0)"/>
<g filter="url(#bgblur)"><rect x="143.3" y="1955.3" width="65.2" height="89.1" fill="#8e8e8e" opacity="0.55"/><rect x="234.9" y="1955.3" width="61.8" height="89.1" fill="#8e8e8e" opacity="0.55"/><rect x="324.7" y="1955.3" width="61.8" height="89.1" fill="#8e8e8e" opacity="0.55"/><rect x="413.8" y="1955.3" width="59.8" height="89.1" fill="#8e8e8e" opacity="0.55"/><rect x="504.4" y="1955.3" width="55" height="89.1" fill="#8e8e8e" opacity="0.55"/><rect x="592.5" y="1955.3" width="59.4" height="89.1" fill="#8e8e8e" opacity="0.55"/></g>
<g filter="url(#halo)" opacity="0.12"><rect x="138.3" y="1986.6" width="75.2" height="15.2" rx="7.6" fill="#000"/><rect x="229.9" y="1986.6" width="71.8" height="15.2" rx="7.6" fill="#000"/><rect x="319.7" y="1987.1" width="71.8" height="15.2" rx="7.6" fill="#000"/><rect x="408.8" y="1984.1" width="69.8" height="15.2" rx="7.6" fill="#000"/><rect x="499.4" y="1984.1" width="65" height="15.2" rx="7.6" fill="#000"/><rect x="587.5" y="1986.6" width="69.4" height="15.2" rx="7.6" fill="#000"/></g>
<g filter="url(#bandblur)"><rect x="141.3" y="1989.5" width="69.2" height="9.5" rx="4.8" fill="#343434"/><ellipse cx="149.1" cy="1994.6" rx="8.4" ry="5.2" fill="#343434"/><ellipse cx="202.7" cy="1994.6" rx="8.4" ry="5.2" fill="#343434"/><rect x="232.9" y="1989.5" width="65.8" height="9.5" rx="4.8" fill="#343434"/><ellipse cx="240.7" cy="1994.6" rx="8.4" ry="5.2" fill="#343434"/><ellipse cx="290.9" cy="1994.6" rx="8.4" ry="5.2" fill="#343434"/><rect x="322.7" y="1990" width="65.8" height="9.5" rx="4.8" fill="#343434"/><ellipse cx="330.5" cy="1995.1" rx="8.4" ry="5.2" fill="#343434"/><ellipse cx="380.7" cy="1995.1" rx="8.4" ry="5.2" fill="#343434"/><rect x="411.8" y="1987" width="63.8" height="9.5" rx="4.8" fill="#343434"/><ellipse cx="419.6" cy="1992.1" rx="8.4" ry="5.2" fill="#343434"/><ellipse cx="467.8" cy="1992.1" rx="8.4" ry="5.2" fill="#343434"/><rect x="502.4" y="1987" width="59" height="9.5" rx="4.8" fill="#343434"/><ellipse cx="510.2" cy="1992.1" rx="8.4" ry="5.2" fill="#343434"/><ellipse cx="553.6" cy="1992.1" rx="8.4" ry="5.2" fill="#343434"/><rect x="590.5" y="1989.5" width="63.4" height="9.5" rx="4.8" fill="#343434"/><ellipse cx="598.3" cy="1994.6" rx="8.4" ry="5.2" fill="#343434"/><ellipse cx="646.1" cy="1994.6" rx="8.4" ry="5.2" fill="#343434"/></g>
</g>
<text x="4.7" y="2014.4" style='font-family:"Liberation Serif", serif;font-size:37px;font-weight:bold' textLength="119.3" lengthAdjust="spacingAndGlyphs">135kDa</text>
<text x="676.1" y="2013.5" style='font-family:"Liberation Serif", serif;font-size:37px;font-weight:bold'>E-cadherin</text>
<clipPath id="clipS1"><rect x="129.7" y="2050.2" width="534.8" height="85.4"/></clipPath>
<g clip-path="url(#clipS1)">
<linearGradient id="sg1" x1="0" x2="1" y1="0" y2="0"><stop offset="0" stop-color="#808080"/><stop offset="0.85" stop-color="#787878"/><stop offset="1" stop-color="#969696"/></linearGradient>
<rect x="129.7" y="2050.2" width="534.8" height="85.4" fill="url(#sg1)"/>
<g filter="url(#bgblur)"><rect x="150.1" y="2050.2" width="59.1" height="85.4" fill="#747474" opacity="0.55"/><rect x="234.2" y="2050.2" width="57.4" height="85.4" fill="#747474" opacity="0.55"/><rect x="320.6" y="2050.2" width="60.1" height="85.4" fill="#747474" opacity="0.55"/><rect x="416.2" y="2050.2" width="62.8" height="85.4" fill="#747474" opacity="0.55"/><rect x="502" y="2050.2" width="58.4" height="85.4" fill="#747474" opacity="0.55"/><rect x="586.7" y="2050.2" width="59.1" height="85.4" fill="#747474" opacity="0.55"/></g>
<g filter="url(#halo)" opacity="0.22"><rect x="145.1" y="2083.3" width="69.1" height="21.8" rx="10.9" fill="#000"/><rect x="229.2" y="2083.3" width="67.4" height="21.8" rx="10.9" fill="#000"/><rect x="315.6" y="2083.3" width="70.1" height="21.8" rx="10.9" fill="#000"/><rect x="411.2" y="2082.3" width="72.8" height="21.8" rx="10.9" fill="#000"/><rect x="497" y="2081.3" width="68.4" height="21.8" rx="10.9" fill="#000"/><rect x="581.7" y="2079.3" width="69.1" height="21.8" rx="10.9" fill="#000"/></g>
<g filter="url(#bandblur)"><rect x="148.1" y="2087.7" width="63.1" height="13" rx="6.5" fill="#121212"/><ellipse cx="158.8" cy="2094.6" rx="11.4" ry="7.2" fill="#121212"/><ellipse cx="200.5" cy="2094.6" rx="11.4" ry="7.2" fill="#121212"/><rect x="232.2" y="2087.7" width="61.4" height="13" rx="6.5" fill="#121212"/><ellipse cx="242.9" cy="2094.6" rx="11.4" ry="7.2" fill="#121212"/><ellipse cx="282.9" cy="2094.6" rx="11.4" ry="7.2" fill="#121212"/><rect x="318.6" y="2087.7" width="64.1" height="13" rx="6.5" fill="#121212"/><ellipse cx="329.3" cy="2094.6" rx="11.4" ry="7.2" fill="#121212"/><ellipse cx="372" cy="2094.6" rx="11.4" ry="7.2" fill="#121212"/><rect x="414.2" y="2086.7" width="66.8" height="13" rx="6.5" fill="#121212"/><ellipse cx="424.9" cy="2093.6" rx="11.4" ry="7.2" fill="#121212"/><ellipse cx="470.3" cy="2093.6" rx="11.4" ry="7.2" fill="#121212"/><rect x="500" y="2085.7" width="62.4" height="13" rx="6.5" fill="#121212"/><ellipse cx="510.7" cy="2092.6" rx="11.4" ry="7.2" fill="#121212"/><ellipse cx="551.7" cy="2092.6" rx="11.4" ry="7.2" fill="#121212"/><rect x="584.7" y="2083.7" width="63.1" height="13" rx="6.5" fill="#121212"/><ellipse cx="595.4" cy="2090.6" rx="11.4" ry="7.2" fill="#121212"/><ellipse cx="637.1" cy="2090.6" rx="11.4" ry="7.2" fill="#121212"/></g>
</g>
<text x="1.1" y="2097.6" style='font-family:"Liberation Serif", serif;font-size:37px;font-weight:bold' textLength="119.9" lengthAdjust="spacingAndGlyphs">140kDa</text>
<text x="673.8" y="2096.6" style='font-family:"Liberation Serif", serif;font-size:37px;font-weight:bold'>N-cadherin</text>
<clipPath id="clipS2"><rect x="129.7" y="2141.7" width="534.8" height="89.8"/></clipPath>
<g clip-path="url(#clipS2)">
<linearGradient id="sg2" x1="0" x2="1" y1="0" y2="0"><stop offset="0" stop-color="#919191"/><stop offset="0.85" stop-color="#7c7c7c"/><stop offset="1" stop-color="#8c8c8c"/></linearGradient>
<rect x="129.7" y="2141.7" width="534.8" height="89.8" fill="url(#sg2)"/>
<g filter="url(#bgblur)"><rect x="138.3" y="2141.7" width="66.2" height="89.8" fill="#828282" opacity="0.55"/><rect x="225.4" y="2141.7" width="65.2" height="89.8" fill="#828282" opacity="0.55"/><rect x="323.7" y="2141.7" width="66.2" height="89.8" fill="#828282" opacity="0.55"/><rect x="412.2" y="2141.7" width="64.8" height="89.8" fill="#828282" opacity="0.55"/><rect x="508.8" y="2141.7" width="62.4" height="89.8" fill="#828282" opacity="0.55"/><rect x="591.5" y="2141.7" width="63.8" height="89.8" fill="#828282" opacity="0.55"/></g>
<g filter="url(#halo)" opacity="0.22"><rect x="133.3" y="2173.5" width="76.2" height="31.3" rx="15.7" fill="#000"/><rect x="220.4" y="2173.5" width="75.2" height="31.3" rx="15.7" fill="#000"/><rect x="318.7" y="2173.5" width="76.2" height="31.3" rx="15.7" fill="#000"/><rect x="407.2" y="2173" width="74.8" height="31.3" rx="15.7" fill="#000"/><rect x="503.8" y="2172" width="72.4" height="31.3" rx="15.7" fill="#000"/><rect x="586.5" y="2171" width="73.8" height="31.3" rx="15.7" fill="#000"/></g>
<g filter="url(#bandblur)"><rect x="136.3" y="2180.2" width="70.2" height="18" rx="9" fill="#0a0a0a"/><ellipse cx="151.2" cy="2189.6" rx="15.8" ry="9.9" fill="#0a0a0a"/><ellipse cx="191.7" cy="2189.6" rx="15.8" ry="9.9" fill="#0a0a0a"/><rect x="223.4" y="2180.2" width="69.2" height="18" rx="9" fill="#0a0a0a"/><ellipse cx="238.2" cy="2189.6" rx="15.8" ry="9.9" fill="#0a0a0a"/><ellipse cx="277.8" cy="2189.6" rx="15.8" ry="9.9" fill="#0a0a0a"/><rect x="321.7" y="2180.2" width="70.2" height="18" rx="9" fill="#0a0a0a"/><ellipse cx="336.6" cy="2189.6" rx="15.8" ry="9.9" fill="#0a0a0a"/><ellipse cx="377" cy="2189.6" rx="15.8" ry="9.9" fill="#0a0a0a"/><rect x="410.2" y="2179.7" width="68.8" height="18" rx="9" fill="#0a0a0a"/><ellipse cx="425.1" cy="2189.1" rx="15.8" ry="9.9" fill="#0a0a0a"/><ellipse cx="464.1" cy="2189.1" rx="15.8" ry="9.9" fill="#0a0a0a"/><rect x="506.8" y="2178.7" width="66.4" height="18" rx="9" fill="#0a0a0a"/><ellipse cx="521.6" cy="2188.1" rx="15.8" ry="9.9" fill="#0a0a0a"/><ellipse cx="558.4" cy="2188.1" rx="15.8" ry="9.9" fill="#0a0a0a"/><rect x="589.5" y="2177.7" width="67.8" height="18" rx="9" fill="#0a0a0a"/><ellipse cx="604.4" cy="2187.1" rx="15.8" ry="9.9" fill="#0a0a0a"/><ellipse cx="642.4" cy="2187.1" rx="15.8" ry="9.9" fill="#0a0a0a"/></g>
</g>
<text x="22" y="2188.7" style='font-family:"Liberation Serif", serif;font-size:37px;font-weight:bold'>55kDa</text>
<text x="676.3" y="2188.7" style='font-family:"Liberation Serif", serif;font-size:37px;font-weight:bold'>Vimentin</text>
<clipPath id="clipS3"><rect x="129.7" y="2235.1" width="534.8" height="89.1"/></clipPath>
<g clip-path="url(#clipS3)">
<linearGradient id="sg3" x1="0" x2="1" y1="0" y2="0"><stop offset="0" stop-color="#c0c0c0"/><stop offset="0.85" stop-color="#b2b2b2"/><stop offset="1" stop-color="#b8b8b8"/></linearGradient>
<rect x="129.7" y="2235.1" width="534.8" height="89.1" fill="url(#sg3)"/>
<g filter="url(#bgblur)"><rect x="140" y="2235.1" width="63.4" height="89.1" fill="#b2b2b2" opacity="0.55"/><rect x="229.8" y="2235.1" width="63.5" height="89.1" fill="#b2b2b2" opacity="0.55"/><rect x="318.9" y="2235.1" width="63.2" height="89.1" fill="#b2b2b2" opacity="0.55"/><rect x="412.8" y="2235.1" width="60.8" height="89.1" fill="#b2b2b2" opacity="0.55"/><rect x="502.7" y="2235.1" width="60.1" height="89.1" fill="#b2b2b2" opacity="0.55"/><rect x="590.8" y="2235.1" width="59.1" height="89.1" fill="#b2b2b2" opacity="0.55"/></g>
<g filter="url(#halo)" opacity="0.22"><rect x="135" y="2274.8" width="73.4" height="25.6" rx="12.8" fill="#000"/><rect x="224.8" y="2274.8" width="73.5" height="25.6" rx="12.8" fill="#000"/><rect x="313.9" y="2274.8" width="73.2" height="25.6" rx="12.8" fill="#000"/><rect x="407.8" y="2274.3" width="70.8" height="25.6" rx="12.8" fill="#000"/><rect x="497.7" y="2270.8" width="70.1" height="25.6" rx="12.8" fill="#000"/><rect x="585.8" y="2265.3" width="69.1" height="25.6" rx="12.8" fill="#000"/></g>
<g filter="url(#bandblur)"><rect x="138" y="2280.1" width="67.4" height="15" rx="7.5" fill="#0a0a0a"/><ellipse cx="150.4" cy="2288" rx="13.2" ry="8.2" fill="#0a0a0a"/><ellipse cx="193" cy="2288" rx="13.2" ry="8.2" fill="#0a0a0a"/><rect x="227.8" y="2280.1" width="67.5" height="15" rx="7.5" fill="#0a0a0a"/><ellipse cx="240.2" cy="2288" rx="13.2" ry="8.2" fill="#0a0a0a"/><ellipse cx="282.9" cy="2288" rx="13.2" ry="8.2" fill="#0a0a0a"/><rect x="316.9" y="2280.1" width="67.2" height="15" rx="7.5" fill="#0a0a0a"/><ellipse cx="329.3" cy="2288" rx="13.2" ry="8.2" fill="#0a0a0a"/><ellipse cx="371.7" cy="2288" rx="13.2" ry="8.2" fill="#0a0a0a"/><rect x="410.8" y="2279.6" width="64.8" height="15" rx="7.5" fill="#0a0a0a"/><ellipse cx="423.2" cy="2287.5" rx="13.2" ry="8.2" fill="#0a0a0a"/><ellipse cx="463.2" cy="2287.5" rx="13.2" ry="8.2" fill="#0a0a0a"/><rect x="500.7" y="2276.1" width="64.1" height="15" rx="7.5" fill="#0a0a0a"/><ellipse cx="513.1" cy="2284" rx="13.2" ry="8.2" fill="#0a0a0a"/><ellipse cx="552.4" cy="2284" rx="13.2" ry="8.2" fill="#0a0a0a"/><rect x="588.8" y="2270.6" width="63.1" height="15" rx="7.5" fill="#0a0a0a"/><ellipse cx="601.2" cy="2278.5" rx="13.2" ry="8.2" fill="#0a0a0a"/><ellipse cx="639.5" cy="2278.5" rx="13.2" ry="8.2" fill="#0a0a0a"/></g>
</g>
<text x="24" y="2289.2" style='font-family:"Liberation Serif", serif;font-size:37px;font-weight:bold' textLength="101" lengthAdjust="spacingAndGlyphs">45kDa</text>
<text x="675.4" y="2289" style='font-family:"Liberation Serif", serif;font-size:37px;font-weight:bold'>α-SMA</text>
<clipPath id="clipS4"><rect x="129.7" y="2331.7" width="534.8" height="88.8"/></clipPath>
<g clip-path="url(#clipS4)">
<linearGradient id="sg4" x1="0" x2="1" y1="0" y2="0"><stop offset="0" stop-color="#a2a2a2"/><stop offset="0.85" stop-color="#9e9e9e"/><stop offset="1" stop-color="#a6a6a6"/></linearGradient>
<rect x="129.7" y="2331.7" width="534.8" height="88.8" fill="url(#sg4)"/>
<g filter="url(#bgblur)"><rect x="145" y="2331.7" width="64.2" height="88.8" fill="#989898" opacity="0.55"/><rect x="234.2" y="2331.7" width="58.4" height="88.8" fill="#989898" opacity="0.55"/><rect x="320.3" y="2331.7" width="62.8" height="88.8" fill="#989898" opacity="0.55"/><rect x="410.5" y="2331.7" width="60.7" height="88.8" fill="#989898" opacity="0.55"/><rect x="498.6" y="2331.7" width="61.8" height="88.8" fill="#989898" opacity="0.55"/><rect x="587.4" y="2331.7" width="61.8" height="88.8" fill="#989898" opacity="0.55"/></g>
<g filter="url(#halo)" opacity="0.22"><rect x="140" y="2368.8" width="74.2" height="20.9" rx="10.4" fill="#000"/><rect x="229.2" y="2368.8" width="68.4" height="20.9" rx="10.4" fill="#000"/><rect x="315.3" y="2368.8" width="72.8" height="20.9" rx="10.4" fill="#000"/><rect x="405.5" y="2368.8" width="70.7" height="20.9" rx="10.4" fill="#000"/><rect x="493.6" y="2368.8" width="71.8" height="20.9" rx="10.4" fill="#000"/><rect x="582.4" y="2372.8" width="71.8" height="20.9" rx="10.4" fill="#000"/></g>
<g filter="url(#bandblur)"><rect x="143" y="2372.9" width="68.2" height="12.5" rx="6.2" fill="#0a0a0a"/><ellipse cx="153.3" cy="2379.6" rx="11" ry="6.9" fill="#0a0a0a"/><ellipse cx="200.9" cy="2379.6" rx="11" ry="6.9" fill="#0a0a0a"/><rect x="232.2" y="2372.9" width="62.4" height="12.5" rx="6.2" fill="#0a0a0a"/><ellipse cx="242.5" cy="2379.6" rx="11" ry="6.9" fill="#0a0a0a"/><ellipse cx="284.3" cy="2379.6" rx="11" ry="6.9" fill="#0a0a0a"/><rect x="318.3" y="2372.9" width="66.8" height="12.5" rx="6.2" fill="#0a0a0a"/><ellipse cx="328.6" cy="2379.6" rx="11" ry="6.9" fill="#0a0a0a"/><ellipse cx="374.8" cy="2379.6" rx="11" ry="6.9" fill="#0a0a0a"/><rect x="408.5" y="2372.9" width="64.7" height="12.5" rx="6.2" fill="#0a0a0a"/><ellipse cx="418.8" cy="2379.6" rx="11" ry="6.9" fill="#0a0a0a"/><ellipse cx="462.9" cy="2379.6" rx="11" ry="6.9" fill="#0a0a0a"/><rect x="496.6" y="2372.9" width="65.8" height="12.5" rx="6.2" fill="#0a0a0a"/><ellipse cx="506.9" cy="2379.6" rx="11" ry="6.9" fill="#0a0a0a"/><ellipse cx="552.1" cy="2379.6" rx="11" ry="6.9" fill="#0a0a0a"/><rect x="585.4" y="2376.9" width="65.8" height="12.5" rx="6.2" fill="#0a0a0a"/><ellipse cx="595.7" cy="2383.6" rx="11" ry="6.9" fill="#0a0a0a"/><ellipse cx="640.9" cy="2383.6" rx="11" ry="6.9" fill="#0a0a0a"/></g>
</g>
<text x="-0.9" y="2397.5" style='font-family:"Liberation Serif", serif;font-size:37px;font-weight:bold' textLength="119.9" lengthAdjust="spacingAndGlyphs">130kDa</text>
<text x="669.6" y="2397.5" style='font-family:"Liberation Serif", serif;font-size:37px;font-weight:bold'>Collagen I</text>
<clipPath id="clipS5"><rect x="129.7" y="2429.3" width="534.8" height="88.8"/></clipPath>
<g clip-path="url(#clipS5)">
<linearGradient id="sg5" x1="0" x2="1" y1="0" y2="0"><stop offset="0" stop-color="#bababa"/><stop offset="0.85" stop-color="#aeaeae"/><stop offset="1" stop-color="#b4b4b4"/></linearGradient>
<rect x="129.7" y="2429.3" width="534.8" height="88.8" fill="url(#sg5)"/>
<g filter="url(#bgblur)"><rect x="136.6" y="2429.3" width="72.6" height="88.8" fill="#aeaeae" opacity="0.55"/><rect x="229.8" y="2429.3" width="67.5" height="88.8" fill="#aeaeae" opacity="0.55"/><rect x="317.9" y="2429.3" width="68.6" height="88.8" fill="#aeaeae" opacity="0.55"/><rect x="409.4" y="2429.3" width="66.9" height="88.8" fill="#aeaeae" opacity="0.55"/><rect x="499.3" y="2429.3" width="69.2" height="88.8" fill="#aeaeae" opacity="0.55"/><rect x="589.1" y="2429.3" width="67.6" height="88.8" fill="#aeaeae" opacity="0.55"/></g>
<g filter="url(#halo)" opacity="0.22"><rect x="131.6" y="2455.4" width="82.6" height="40.9" rx="20.4" fill="#000"/><rect x="224.8" y="2455.4" width="77.5" height="40.9" rx="20.4" fill="#000"/><rect x="312.9" y="2455.4" width="78.6" height="40.9" rx="20.4" fill="#000"/><rect x="404.4" y="2455.4" width="76.9" height="40.9" rx="20.4" fill="#000"/><rect x="494.3" y="2455.4" width="79.2" height="40.9" rx="20.4" fill="#000"/><rect x="584.1" y="2456.4" width="77.6" height="40.9" rx="20.4" fill="#000"/></g>
<g filter="url(#bandblur)"><rect x="134.6" y="2464.3" width="76.6" height="23" rx="11.5" fill="#080808"/><ellipse cx="153.6" cy="2476.2" rx="20.2" ry="12.7" fill="#080808"/><ellipse cx="192.2" cy="2476.2" rx="20.2" ry="12.7" fill="#080808"/><rect x="227.8" y="2464.3" width="71.5" height="23" rx="11.5" fill="#080808"/><ellipse cx="246.8" cy="2476.2" rx="20.2" ry="12.7" fill="#080808"/><ellipse cx="280.3" cy="2476.2" rx="20.2" ry="12.7" fill="#080808"/><rect x="315.9" y="2464.3" width="72.6" height="23" rx="11.5" fill="#080808"/><ellipse cx="334.9" cy="2476.2" rx="20.2" ry="12.7" fill="#080808"/><ellipse cx="369.5" cy="2476.2" rx="20.2" ry="12.7" fill="#080808"/><rect x="407.4" y="2464.3" width="70.9" height="23" rx="11.5" fill="#080808"/><ellipse cx="426.4" cy="2476.2" rx="20.2" ry="12.7" fill="#080808"/><ellipse cx="459.3" cy="2476.2" rx="20.2" ry="12.7" fill="#080808"/><rect x="497.3" y="2464.3" width="73.2" height="23" rx="11.5" fill="#080808"/><ellipse cx="516.3" cy="2476.2" rx="20.2" ry="12.7" fill="#080808"/><ellipse cx="551.5" cy="2476.2" rx="20.2" ry="12.7" fill="#080808"/><rect x="587.1" y="2465.3" width="71.6" height="23" rx="11.5" fill="#080808"/><ellipse cx="606.1" cy="2477.2" rx="20.2" ry="12.7" fill="#080808"/><ellipse cx="639.7" cy="2477.2" rx="20.2" ry="12.7" fill="#080808"/></g>
</g>
<text x="13" y="2481.8" style='font-family:"Liberation Serif", serif;font-size:37px;font-weight:bold' textLength="101" lengthAdjust="spacingAndGlyphs">42kDa</text>
<text x="674.6" y="2481.8" style='font-family:"Liberation Serif", serif;font-size:37px;font-weight:bold' textLength="113" lengthAdjust="spacingAndGlyphs">β-actin</text>
<path d="M150.5 2530H353.2M442.7 2530H631.9" stroke="#000" stroke-width="3.6"/>
<text x="212.1" y="2574.6" style='font-family:"Liberation Serif", serif;font-size:44px;font-weight:bold'>NC</text>
<text x="465.3" y="2577" style='font-family:"Liberation Serif", serif;font-size:45px;font-weight:bold' textLength="159.3" lengthAdjust="spacingAndGlyphs">GW4869</text>
</svg>
</body></html>
